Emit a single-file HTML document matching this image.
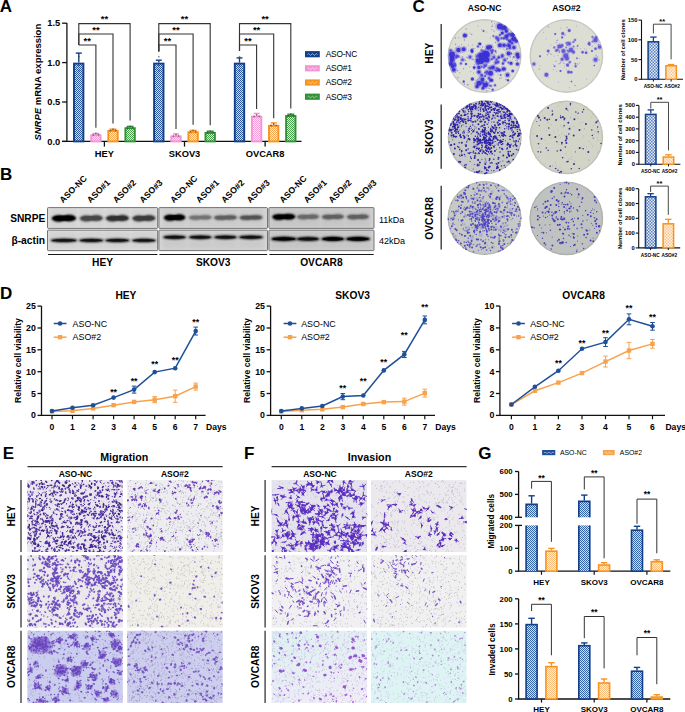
<!DOCTYPE html>
<html><head><meta charset="utf-8"><style>
html,body{margin:0;padding:0;background:#fff;}
svg{display:block;}
text{font-family:"Liberation Sans",sans-serif;font-weight:bold;}
</style></head><body>
<svg width="685" height="712" viewBox="0 0 685 712">
<defs><pattern id="pblue" width="2" height="2" patternUnits="userSpaceOnUse"><rect width="2" height="2" fill="#d2def0"/><rect width="1" height="1" fill="#2a57a0"/><rect x="1" y="1" width="1" height="1" fill="#2a57a0"/></pattern><pattern id="ppink" width="2" height="2" patternUnits="userSpaceOnUse"><rect width="2" height="2" fill="#fde8f5"/><rect width="1" height="1" fill="#f3a0d8"/><rect x="1" y="1" width="1" height="1" fill="#f3a0d8"/></pattern><pattern id="porange" width="2" height="2" patternUnits="userSpaceOnUse"><rect width="2" height="2" fill="#feecd8"/><rect width="1" height="1" fill="#f8a850"/><rect x="1" y="1" width="1" height="1" fill="#f8a850"/></pattern><pattern id="pgreen" width="2" height="2" patternUnits="userSpaceOnUse"><rect width="2" height="2" fill="#e2f2e2"/><rect width="1" height="1" fill="#48a04c"/><rect x="1" y="1" width="1" height="1" fill="#48a04c"/></pattern><filter id="bl1" x="-30%" y="-80%" width="160%" height="260%"><feGaussianBlur stdDeviation="1.1"/></filter><filter id="bl2" x="-30%" y="-80%" width="160%" height="260%"><feGaussianBlur stdDeviation="0.7"/></filter><filter id="bl3" x="-10%" y="-10%" width="120%" height="120%"><feGaussianBlur stdDeviation="1.6"/></filter><clipPath id="cp1"><circle cx="484.6" cy="56" r="37"/></clipPath><clipPath id="cp2"><circle cx="566.4" cy="56" r="36.9"/></clipPath><clipPath id="cp3"><circle cx="484.7" cy="137.3" r="37"/></clipPath><clipPath id="cp4"><circle cx="566.3" cy="137.3" r="36.9"/></clipPath><clipPath id="cp5"><circle cx="484.5" cy="218.1" r="37"/></clipPath><clipPath id="cp6"><circle cx="566.3" cy="218.3" r="36.9"/></clipPath><pattern id="pmb" width="3" height="3" patternUnits="userSpaceOnUse"><rect width="3" height="3" fill="#e4ebf6"/><rect width="1.5" height="1.5" fill="#5a80bc"/><rect x="1.5" y="1.5" width="1.5" height="1.5" fill="#5a80bc"/></pattern><pattern id="pmo" width="3" height="3" patternUnits="userSpaceOnUse"><rect width="3" height="3" fill="#fff3e6"/><rect width="1.5" height="1.5" fill="#fbc68c"/><rect x="1.5" y="1.5" width="1.5" height="1.5" fill="#fbc68c"/></pattern><clipPath id="ci1"><rect x="27.3" y="480.1" width="95.5" height="71.9"/></clipPath><clipPath id="ci2"><rect x="127.2" y="480.1" width="95.5" height="71.9"/></clipPath><clipPath id="ci3"><rect x="27.3" y="555.2" width="95.5" height="72.4"/></clipPath><clipPath id="ci4"><rect x="127.2" y="555.2" width="95.5" height="72.4"/></clipPath><clipPath id="ci5"><rect x="27.3" y="630.8" width="95.5" height="72.1"/></clipPath><clipPath id="ci6"><rect x="127.2" y="630.8" width="95.5" height="72.1"/></clipPath><clipPath id="ci7"><rect x="271.6" y="480.1" width="95.5" height="71.9"/></clipPath><clipPath id="ci8"><rect x="371" y="480.1" width="95.5" height="71.9"/></clipPath><clipPath id="ci9"><rect x="271.6" y="555.2" width="95.5" height="72.4"/></clipPath><clipPath id="ci10"><rect x="371" y="555.2" width="95.5" height="72.4"/></clipPath><linearGradient id="gf11" x1="0" y1="0" x2="0.6" y2="1"><stop offset="0" stop-color="#dcf0f2"/><stop offset="1" stop-color="#eeecf6"/></linearGradient><clipPath id="ci11"><rect x="271.6" y="630.8" width="95.5" height="72.1"/></clipPath><clipPath id="ci12"><rect x="371" y="630.8" width="95.5" height="72.1"/></clipPath><pattern id="pgb" width="2" height="2" patternUnits="userSpaceOnUse"><rect width="2" height="2" fill="#d3def0"/><rect width="1" height="1" fill="#3563a8"/><rect x="1" y="1" width="1" height="1" fill="#3563a8"/></pattern><pattern id="pgo" width="2" height="2" patternUnits="userSpaceOnUse"><rect width="2" height="2" fill="#fff1e2"/><rect width="1" height="1" fill="#fbbd7c"/><rect x="1" y="1" width="1" height="1" fill="#fbbd7c"/></pattern></defs>
<text x="-0.3" y="12" style="font-size:17px;">A</text>
<text x="-0.1" y="179.6" style="font-size:17px;">B</text>
<text x="412.4" y="12.3" style="font-size:17px;">C</text>
<text x="-0.1" y="298.8" style="font-size:17px;">D</text>
<text x="2.8" y="458.6" style="font-size:17px;">E</text>
<text x="244.1" y="458.5" style="font-size:17px;">F</text>
<text x="478.3" y="458.8" style="font-size:17px;">G</text>
<line x1="66.9" y1="23.1" x2="66.9" y2="141.4" stroke="#111" stroke-width="1.3"/>
<line x1="62.1" y1="141.4" x2="66.9" y2="141.4" stroke="#111" stroke-width="1.3"/>
<text x="60.3" y="144.6" style="font-size:9.3px;" text-anchor="end">0.0</text>
<line x1="62.1" y1="102" x2="66.9" y2="102" stroke="#111" stroke-width="1.3"/>
<text x="60.3" y="105.2" style="font-size:9.3px;" text-anchor="end">0.5</text>
<line x1="62.1" y1="62.6" x2="66.9" y2="62.6" stroke="#111" stroke-width="1.3"/>
<text x="60.3" y="65.8" style="font-size:9.3px;" text-anchor="end">1.0</text>
<line x1="62.1" y1="23.2" x2="66.9" y2="23.2" stroke="#111" stroke-width="1.3"/>
<text x="60.3" y="26.4" style="font-size:9.3px;" text-anchor="end">1.5</text>
<line x1="62.1" y1="141.4" x2="301.5" y2="141.4" stroke="#111" stroke-width="1.3"/>
<rect x="74" y="63.6" width="9.4" height="77.8" fill="url(#pblue)" stroke="#123f88" stroke-width="1.9"/>
<line x1="78.8" y1="53.1" x2="78.8" y2="62.6" stroke="#123f88" stroke-width="1.4"/>
<line x1="75.8" y1="53.1" x2="81.8" y2="53.1" stroke="#123f88" stroke-width="1.4"/>
<circle cx="78.8" cy="65.6" r="0.9" fill="#3a2a3a" opacity="0.55"/>
<circle cx="78.8" cy="70.6" r="0.9" fill="#3a2a3a" opacity="0.55"/>
<circle cx="78.8" cy="56.6" r="0.9" fill="#3a2a3a" opacity="0.55"/>
<rect x="91.2" y="135.3" width="9.4" height="6.1" fill="url(#ppink)" stroke="#f394d3" stroke-width="1.9"/>
<line x1="92.4" y1="133.5" x2="99.4" y2="133.5" stroke="#f394d3" stroke-width="1.4"/>
<circle cx="93.3" cy="134.9" r="0.9" fill="#3a2a3a" opacity="0.55"/>
<circle cx="95.9" cy="133.5" r="0.9" fill="#3a2a3a" opacity="0.55"/>
<circle cx="98.5" cy="134.7" r="0.9" fill="#3a2a3a" opacity="0.55"/>
<rect x="108.3" y="130.9" width="9.4" height="10.5" fill="url(#porange)" stroke="#f7931e" stroke-width="1.9"/>
<line x1="109.5" y1="129.2" x2="116.5" y2="129.2" stroke="#f7931e" stroke-width="1.4"/>
<circle cx="110.4" cy="130.6" r="0.9" fill="#3a2a3a" opacity="0.55"/>
<circle cx="113" cy="129.2" r="0.9" fill="#3a2a3a" opacity="0.55"/>
<circle cx="115.6" cy="130.4" r="0.9" fill="#3a2a3a" opacity="0.55"/>
<rect x="125.4" y="128.2" width="9.4" height="13.2" fill="url(#pgreen)" stroke="#2f9234" stroke-width="1.9"/>
<line x1="126.6" y1="126.4" x2="133.6" y2="126.4" stroke="#2f9234" stroke-width="1.4"/>
<circle cx="127.5" cy="127.8" r="0.9" fill="#3a2a3a" opacity="0.55"/>
<circle cx="130.1" cy="126.4" r="0.9" fill="#3a2a3a" opacity="0.55"/>
<circle cx="132.7" cy="127.6" r="0.9" fill="#3a2a3a" opacity="0.55"/>
<line x1="104.4" y1="141.4" x2="104.4" y2="146.6" stroke="#111" stroke-width="1.3"/>
<text x="104.4" y="156.5" style="font-size:9.3px;" text-anchor="middle">HEY</text>
<polyline points="78.8,45 78.8,45 95.9,45 95.9,127.7" fill="none" stroke="#333" stroke-width="1.1"/>
<text x="87.3" y="43.6" style="font-size:9.5px;" text-anchor="middle">**</text>
<polyline points="78.8,45 78.8,34 113,34 113,123.4" fill="none" stroke="#333" stroke-width="1.1"/>
<text x="95.9" y="32.6" style="font-size:9.5px;" text-anchor="middle">**</text>
<polyline points="78.8,45 78.8,23.6 130.1,23.6 130.1,120.6" fill="none" stroke="#333" stroke-width="1.1"/>
<text x="104.4" y="22.2" style="font-size:9.5px;" text-anchor="middle">**</text>
<rect x="154.1" y="63.6" width="9.4" height="77.8" fill="url(#pblue)" stroke="#123f88" stroke-width="1.9"/>
<line x1="158.8" y1="60.2" x2="158.8" y2="62.6" stroke="#123f88" stroke-width="1.4"/>
<line x1="155.8" y1="60.2" x2="161.8" y2="60.2" stroke="#123f88" stroke-width="1.4"/>
<circle cx="158.8" cy="65.6" r="0.9" fill="#3a2a3a" opacity="0.55"/>
<circle cx="158.8" cy="70.6" r="0.9" fill="#3a2a3a" opacity="0.55"/>
<circle cx="158.8" cy="56.6" r="0.9" fill="#3a2a3a" opacity="0.55"/>
<rect x="171.3" y="136.4" width="9.4" height="5" fill="url(#ppink)" stroke="#f394d3" stroke-width="1.9"/>
<line x1="176" y1="133.9" x2="176" y2="135.5" stroke="#f394d3" stroke-width="1.4"/>
<line x1="173" y1="133.9" x2="179" y2="133.9" stroke="#f394d3" stroke-width="1.4"/>
<circle cx="173.4" cy="136.1" r="0.9" fill="#3a2a3a" opacity="0.55"/>
<circle cx="176" cy="134.7" r="0.9" fill="#3a2a3a" opacity="0.55"/>
<circle cx="178.6" cy="135.9" r="0.9" fill="#3a2a3a" opacity="0.55"/>
<rect x="188.4" y="132.3" width="9.4" height="9.1" fill="url(#porange)" stroke="#f7931e" stroke-width="1.9"/>
<line x1="189.6" y1="130.4" x2="196.6" y2="130.4" stroke="#f7931e" stroke-width="1.4"/>
<circle cx="190.5" cy="131.9" r="0.9" fill="#3a2a3a" opacity="0.55"/>
<circle cx="193.1" cy="130.5" r="0.9" fill="#3a2a3a" opacity="0.55"/>
<circle cx="195.7" cy="131.7" r="0.9" fill="#3a2a3a" opacity="0.55"/>
<rect x="205.5" y="132.9" width="9.4" height="8.5" fill="url(#pgreen)" stroke="#2f9234" stroke-width="1.9"/>
<line x1="206.7" y1="131.2" x2="213.7" y2="131.2" stroke="#2f9234" stroke-width="1.4"/>
<circle cx="207.6" cy="132.5" r="0.9" fill="#3a2a3a" opacity="0.55"/>
<circle cx="210.2" cy="131.1" r="0.9" fill="#3a2a3a" opacity="0.55"/>
<circle cx="212.8" cy="132.3" r="0.9" fill="#3a2a3a" opacity="0.55"/>
<line x1="184.5" y1="141.4" x2="184.5" y2="146.6" stroke="#111" stroke-width="1.3"/>
<text x="184.5" y="156.5" style="font-size:9.3px;" text-anchor="middle">SKOV3</text>
<polyline points="158.8,51.5 158.8,45 176,45 176,128.9" fill="none" stroke="#333" stroke-width="1.1"/>
<text x="167.4" y="43.6" style="font-size:9.5px;" text-anchor="middle">**</text>
<polyline points="158.8,51.5 158.8,34 193.1,34 193.1,124.7" fill="none" stroke="#333" stroke-width="1.1"/>
<text x="176" y="32.6" style="font-size:9.5px;" text-anchor="middle">**</text>
<polyline points="158.8,51.5 158.8,23.6 210.2,23.6 210.2,125.3" fill="none" stroke="#333" stroke-width="1.1"/>
<text x="184.5" y="22.2" style="font-size:9.5px;" text-anchor="middle">**</text>
<rect x="234.8" y="63.6" width="9.4" height="77.8" fill="url(#pblue)" stroke="#123f88" stroke-width="1.9"/>
<line x1="239.5" y1="57.9" x2="239.5" y2="62.6" stroke="#123f88" stroke-width="1.4"/>
<line x1="236.5" y1="57.9" x2="242.5" y2="57.9" stroke="#123f88" stroke-width="1.4"/>
<circle cx="239.5" cy="65.6" r="0.9" fill="#3a2a3a" opacity="0.55"/>
<circle cx="239.5" cy="70.6" r="0.9" fill="#3a2a3a" opacity="0.55"/>
<circle cx="239.5" cy="56.6" r="0.9" fill="#3a2a3a" opacity="0.55"/>
<rect x="251.9" y="116.7" width="9.4" height="24.7" fill="url(#ppink)" stroke="#f394d3" stroke-width="1.9"/>
<line x1="256.6" y1="113.4" x2="256.6" y2="115.7" stroke="#f394d3" stroke-width="1.4"/>
<line x1="253.6" y1="113.4" x2="259.6" y2="113.4" stroke="#f394d3" stroke-width="1.4"/>
<circle cx="254" cy="116.3" r="0.9" fill="#3a2a3a" opacity="0.55"/>
<circle cx="256.6" cy="114.9" r="0.9" fill="#3a2a3a" opacity="0.55"/>
<circle cx="259.2" cy="116.1" r="0.9" fill="#3a2a3a" opacity="0.55"/>
<rect x="269" y="125.8" width="9.4" height="15.6" fill="url(#porange)" stroke="#f7931e" stroke-width="1.9"/>
<line x1="273.7" y1="122.9" x2="273.7" y2="124.9" stroke="#f7931e" stroke-width="1.4"/>
<line x1="270.7" y1="122.9" x2="276.7" y2="122.9" stroke="#f7931e" stroke-width="1.4"/>
<circle cx="271.1" cy="125.5" r="0.9" fill="#3a2a3a" opacity="0.55"/>
<circle cx="273.7" cy="124.1" r="0.9" fill="#3a2a3a" opacity="0.55"/>
<circle cx="276.3" cy="125.3" r="0.9" fill="#3a2a3a" opacity="0.55"/>
<rect x="286.1" y="116" width="9.4" height="25.4" fill="url(#pgreen)" stroke="#2f9234" stroke-width="1.9"/>
<line x1="287.3" y1="114.2" x2="294.3" y2="114.2" stroke="#2f9234" stroke-width="1.4"/>
<circle cx="288.2" cy="115.6" r="0.9" fill="#3a2a3a" opacity="0.55"/>
<circle cx="290.8" cy="114.2" r="0.9" fill="#3a2a3a" opacity="0.55"/>
<circle cx="293.4" cy="115.4" r="0.9" fill="#3a2a3a" opacity="0.55"/>
<line x1="265.1" y1="141.4" x2="265.1" y2="146.6" stroke="#111" stroke-width="1.3"/>
<text x="265.1" y="156.5" style="font-size:9.3px;" text-anchor="middle">OVCAR8</text>
<polyline points="239.5,51 239.5,45 256.6,45 256.6,109.1" fill="none" stroke="#333" stroke-width="1.1"/>
<text x="248" y="43.6" style="font-size:9.5px;" text-anchor="middle">**</text>
<polyline points="239.5,51 239.5,34 273.7,34 273.7,118.3" fill="none" stroke="#333" stroke-width="1.1"/>
<text x="256.6" y="32.6" style="font-size:9.5px;" text-anchor="middle">**</text>
<polyline points="239.5,51 239.5,23.6 290.8,23.6 290.8,108.4" fill="none" stroke="#333" stroke-width="1.1"/>
<text x="265.1" y="22.2" style="font-size:9.5px;" text-anchor="middle">**</text>
<text x="41.4" y="82.2" style="font-size:9.5px;" text-anchor="middle" transform="rotate(-90 41.4 82.2)"><tspan style="font-style:italic">SNRPE</tspan> mRNA expression</text>
<rect x="305" y="51.1" width="14.8" height="6.2" fill="#123f88"/>
<path d="M307.5 54.5 q1 -1.6 2 0 t2 0 t2 0 t2 0 t2 0" fill="none" stroke="#fff" stroke-width="0.7" opacity="0.8"/>
<text x="325.7" y="57" style="font-size:8.4px;font-weight:normal;" letter-spacing="-0.2">ASO-NC</text>
<rect x="305" y="65.2" width="14.8" height="6.2" fill="#f394d3"/>
<path d="M307.5 68.7 q1 -1.6 2 0 t2 0 t2 0 t2 0 t2 0" fill="none" stroke="#fff" stroke-width="0.7" opacity="0.8"/>
<text x="325.7" y="71.2" style="font-size:8.4px;font-weight:normal;" letter-spacing="-0.2">ASO#1</text>
<rect x="305" y="79.4" width="14.8" height="6.2" fill="#f7931e"/>
<path d="M307.5 82.8 q1 -1.6 2 0 t2 0 t2 0 t2 0 t2 0" fill="none" stroke="#fff" stroke-width="0.7" opacity="0.8"/>
<text x="325.7" y="85.3" style="font-size:8.4px;font-weight:normal;" letter-spacing="-0.2">ASO#2</text>
<rect x="305" y="93.6" width="14.8" height="6.2" fill="#2f9234"/>
<path d="M307.5 97 q1 -1.6 2 0 t2 0 t2 0 t2 0 t2 0" fill="none" stroke="#fff" stroke-width="0.7" opacity="0.8"/>
<text x="325.7" y="99.5" style="font-size:8.4px;font-weight:normal;" letter-spacing="-0.2">ASO#3</text>
<rect x="47.5" y="207.6" width="110.2" height="20.8" fill="#dbdbdb" stroke="#666" stroke-width="0.9" rx="0.8"/>
<g>
<rect x="51.4" y="209.6" width="25" height="16.8" fill="#000" opacity="0.035" filter="url(#bl3)"/>
<ellipse cx="63.9" cy="218.2" rx="12.5" ry="2.5" fill="#000000" opacity="0.75" filter="url(#bl1)"/>
<ellipse cx="58.5" cy="218.5" rx="6.2" ry="3.2" fill="#000000" filter="url(#bl1)"/>
<ellipse cx="69.3" cy="218" rx="6.2" ry="3.2" fill="#000000" filter="url(#bl1)"/>
<ellipse cx="63.9" cy="218.2" rx="11" ry="2.6" fill="#000000" opacity="0.8" filter="url(#bl2)"/>
<rect x="79.3" y="209.6" width="24" height="16.8" fill="#000" opacity="0.035" filter="url(#bl3)"/>
<ellipse cx="91.3" cy="218.2" rx="12" ry="2.2" fill="#474747" opacity="0.75" filter="url(#bl1)"/>
<ellipse cx="86.1" cy="218.5" rx="6" ry="2.9" fill="#474747" filter="url(#bl1)"/>
<ellipse cx="96.5" cy="218" rx="6" ry="2.9" fill="#474747" filter="url(#bl1)"/>
<ellipse cx="91.3" cy="218.2" rx="10.5" ry="2.3" fill="#474747" opacity="0.8" filter="url(#bl2)"/>
<rect x="105.4" y="209.6" width="24" height="16.8" fill="#000" opacity="0.035" filter="url(#bl3)"/>
<ellipse cx="117.4" cy="218.2" rx="12" ry="2.2" fill="#2e2e2e" opacity="0.75" filter="url(#bl1)"/>
<ellipse cx="112.2" cy="218.5" rx="6" ry="2.9" fill="#2e2e2e" filter="url(#bl1)"/>
<ellipse cx="122.6" cy="218" rx="6" ry="2.9" fill="#2e2e2e" filter="url(#bl1)"/>
<ellipse cx="117.4" cy="218.2" rx="10.5" ry="2.3" fill="#2e2e2e" opacity="0.8" filter="url(#bl2)"/>
<rect x="131.9" y="209.6" width="24" height="16.8" fill="#000" opacity="0.035" filter="url(#bl3)"/>
<ellipse cx="143.9" cy="218.2" rx="12" ry="2.2" fill="#3a3a3a" opacity="0.75" filter="url(#bl1)"/>
<ellipse cx="138.7" cy="218.5" rx="6" ry="2.9" fill="#3a3a3a" filter="url(#bl1)"/>
<ellipse cx="149.1" cy="218" rx="6" ry="2.9" fill="#3a3a3a" filter="url(#bl1)"/>
<ellipse cx="143.9" cy="218.2" rx="10.5" ry="2.3" fill="#3a3a3a" opacity="0.8" filter="url(#bl2)"/>
</g>
<rect x="47.5" y="230.1" width="110.2" height="20.5" fill="#dbdbdb" stroke="#666" stroke-width="0.9" rx="0.8"/>
<g>
<rect x="50.4" y="232.1" width="27" height="16.5" fill="#000" opacity="0.035" filter="url(#bl3)"/>
<ellipse cx="63.9" cy="240.4" rx="13.5" ry="1.9" fill="#0a0a0a" filter="url(#bl1)"/>
<ellipse cx="63.9" cy="240.4" rx="12" ry="1.3" fill="#0a0a0a" opacity="0.8" filter="url(#bl2)"/>
<rect x="78.8" y="232.1" width="25" height="16.5" fill="#000" opacity="0.035" filter="url(#bl3)"/>
<ellipse cx="91.3" cy="240.4" rx="12.5" ry="1.9" fill="#0a0a0a" filter="url(#bl1)"/>
<ellipse cx="91.3" cy="240.4" rx="11" ry="1.3" fill="#0a0a0a" opacity="0.8" filter="url(#bl2)"/>
<rect x="104.9" y="232.1" width="25" height="16.5" fill="#000" opacity="0.035" filter="url(#bl3)"/>
<ellipse cx="117.4" cy="240.4" rx="12.5" ry="1.9" fill="#0a0a0a" filter="url(#bl1)"/>
<ellipse cx="117.4" cy="240.4" rx="11" ry="1.3" fill="#0a0a0a" opacity="0.8" filter="url(#bl2)"/>
<rect x="131.4" y="232.1" width="25" height="16.5" fill="#000" opacity="0.035" filter="url(#bl3)"/>
<ellipse cx="143.9" cy="240.4" rx="12.5" ry="1.8" fill="#0a0a0a" filter="url(#bl1)"/>
<ellipse cx="143.9" cy="240.4" rx="11" ry="1.2" fill="#0a0a0a" opacity="0.8" filter="url(#bl2)"/>
</g>
<line x1="48" y1="254.5" x2="157.4" y2="254.5" stroke="#1a1a1a" stroke-width="1.0"/>
<rect x="158.9" y="207.6" width="108.6" height="20.8" fill="#d3d3d3" stroke="#666" stroke-width="0.9" rx="0.8"/>
<g>
<rect x="163.6" y="209.6" width="22" height="16.8" fill="#000" opacity="0.035" filter="url(#bl3)"/>
<ellipse cx="174.6" cy="217.5" rx="11" ry="2.3" fill="#000000" opacity="0.75" filter="url(#bl1)"/>
<ellipse cx="169.8" cy="217.8" rx="5.5" ry="3" fill="#000000" filter="url(#bl1)"/>
<ellipse cx="179.4" cy="217.3" rx="5.5" ry="3" fill="#000000" filter="url(#bl1)"/>
<ellipse cx="174.6" cy="217.5" rx="9.5" ry="2.4" fill="#000000" opacity="0.8" filter="url(#bl2)"/>
<rect x="188.3" y="209.6" width="24" height="16.8" fill="#000" opacity="0.035" filter="url(#bl3)"/>
<ellipse cx="200.3" cy="217.5" rx="12" ry="1.7" fill="#737373" opacity="0.75" filter="url(#bl1)"/>
<ellipse cx="195.1" cy="217.8" rx="6" ry="2.2" fill="#737373" filter="url(#bl1)"/>
<ellipse cx="205.5" cy="217.3" rx="6" ry="2.2" fill="#737373" filter="url(#bl1)"/>
<ellipse cx="200.3" cy="217.5" rx="10.5" ry="1.6" fill="#737373" opacity="0.8" filter="url(#bl2)"/>
<rect x="213.5" y="209.6" width="24" height="16.8" fill="#000" opacity="0.035" filter="url(#bl3)"/>
<ellipse cx="225.5" cy="217.5" rx="12" ry="1.8" fill="#5e5e5e" opacity="0.75" filter="url(#bl1)"/>
<ellipse cx="220.3" cy="217.8" rx="6" ry="2.3" fill="#5e5e5e" filter="url(#bl1)"/>
<ellipse cx="230.7" cy="217.3" rx="6" ry="2.3" fill="#5e5e5e" filter="url(#bl1)"/>
<ellipse cx="225.5" cy="217.5" rx="10.5" ry="1.7" fill="#5e5e5e" opacity="0.8" filter="url(#bl2)"/>
<rect x="239" y="209.6" width="24" height="16.8" fill="#000" opacity="0.035" filter="url(#bl3)"/>
<ellipse cx="251" cy="217.5" rx="12" ry="1.8" fill="#535353" opacity="0.75" filter="url(#bl1)"/>
<ellipse cx="245.8" cy="217.8" rx="6" ry="2.3" fill="#535353" filter="url(#bl1)"/>
<ellipse cx="256.2" cy="217.3" rx="6" ry="2.3" fill="#535353" filter="url(#bl1)"/>
<ellipse cx="251" cy="217.5" rx="10.5" ry="1.7" fill="#535353" opacity="0.8" filter="url(#bl2)"/>
</g>
<rect x="158.9" y="230.1" width="108.6" height="20.5" fill="#d3d3d3" stroke="#666" stroke-width="0.9" rx="0.8"/>
<g>
<rect x="162.6" y="232.1" width="24" height="16.5" fill="#000" opacity="0.035" filter="url(#bl3)"/>
<ellipse cx="174.6" cy="237.2" rx="12" ry="2" fill="#0a0a0a" filter="url(#bl1)"/>
<ellipse cx="174.6" cy="237.2" rx="10.5" ry="1.4" fill="#0a0a0a" opacity="0.8" filter="url(#bl2)"/>
<rect x="188.3" y="232.1" width="24" height="16.5" fill="#000" opacity="0.035" filter="url(#bl3)"/>
<ellipse cx="200.3" cy="237.2" rx="12" ry="2" fill="#0a0a0a" filter="url(#bl1)"/>
<ellipse cx="200.3" cy="237.2" rx="10.5" ry="1.4" fill="#0a0a0a" opacity="0.8" filter="url(#bl2)"/>
<rect x="213.5" y="232.1" width="24" height="16.5" fill="#000" opacity="0.035" filter="url(#bl3)"/>
<ellipse cx="225.5" cy="237.2" rx="12" ry="2" fill="#0a0a0a" filter="url(#bl1)"/>
<ellipse cx="225.5" cy="237.2" rx="10.5" ry="1.4" fill="#0a0a0a" opacity="0.8" filter="url(#bl2)"/>
<rect x="238.5" y="232.1" width="25" height="16.5" fill="#000" opacity="0.035" filter="url(#bl3)"/>
<ellipse cx="251" cy="237.2" rx="12.5" ry="2" fill="#0a0a0a" filter="url(#bl1)"/>
<ellipse cx="251" cy="237.2" rx="11" ry="1.4" fill="#0a0a0a" opacity="0.8" filter="url(#bl2)"/>
</g>
<line x1="159.4" y1="254.5" x2="267.2" y2="254.5" stroke="#1a1a1a" stroke-width="1.0"/>
<rect x="268.9" y="207.6" width="105.1" height="20.8" fill="#cecece" stroke="#666" stroke-width="0.9" rx="0.8"/>
<g>
<rect x="271.8" y="209.6" width="24" height="16.8" fill="#000" opacity="0.035" filter="url(#bl3)"/>
<ellipse cx="283.8" cy="216.8" rx="12" ry="2.2" fill="#060606" opacity="0.75" filter="url(#bl1)"/>
<ellipse cx="278.6" cy="217.1" rx="6" ry="2.9" fill="#060606" filter="url(#bl1)"/>
<ellipse cx="289" cy="216.6" rx="6" ry="2.9" fill="#060606" filter="url(#bl1)"/>
<ellipse cx="283.8" cy="216.8" rx="10.5" ry="2.3" fill="#060606" opacity="0.8" filter="url(#bl2)"/>
<rect x="296.5" y="209.6" width="23" height="16.8" fill="#000" opacity="0.035" filter="url(#bl3)"/>
<ellipse cx="308" cy="216.8" rx="11.5" ry="1.8" fill="#686868" opacity="0.75" filter="url(#bl1)"/>
<ellipse cx="303" cy="217.1" rx="5.8" ry="2.4" fill="#686868" filter="url(#bl1)"/>
<ellipse cx="313" cy="216.6" rx="5.8" ry="2.4" fill="#686868" filter="url(#bl1)"/>
<ellipse cx="308" cy="216.8" rx="10" ry="1.8" fill="#686868" opacity="0.8" filter="url(#bl2)"/>
<rect x="321.4" y="209.6" width="23" height="16.8" fill="#000" opacity="0.035" filter="url(#bl3)"/>
<ellipse cx="332.9" cy="216.8" rx="11.5" ry="1.8" fill="#5e5e5e" opacity="0.75" filter="url(#bl1)"/>
<ellipse cx="327.9" cy="217.1" rx="5.8" ry="2.4" fill="#5e5e5e" filter="url(#bl1)"/>
<ellipse cx="337.9" cy="216.6" rx="5.8" ry="2.4" fill="#5e5e5e" filter="url(#bl1)"/>
<ellipse cx="332.9" cy="216.8" rx="10" ry="1.8" fill="#5e5e5e" opacity="0.8" filter="url(#bl2)"/>
<rect x="346.4" y="209.6" width="23" height="16.8" fill="#000" opacity="0.035" filter="url(#bl3)"/>
<ellipse cx="357.9" cy="216.8" rx="11.5" ry="1.8" fill="#5e5e5e" opacity="0.75" filter="url(#bl1)"/>
<ellipse cx="352.9" cy="217.1" rx="5.8" ry="2.4" fill="#5e5e5e" filter="url(#bl1)"/>
<ellipse cx="362.9" cy="216.6" rx="5.8" ry="2.4" fill="#5e5e5e" filter="url(#bl1)"/>
<ellipse cx="357.9" cy="216.8" rx="10" ry="1.8" fill="#5e5e5e" opacity="0.8" filter="url(#bl2)"/>
</g>
<rect x="268.9" y="230.1" width="105.1" height="20.5" fill="#cecece" stroke="#666" stroke-width="0.9" rx="0.8"/>
<g>
<rect x="270.8" y="232.1" width="26" height="16.5" fill="#000" opacity="0.035" filter="url(#bl3)"/>
<ellipse cx="283.8" cy="238.9" rx="13" ry="2.3" fill="#000000" filter="url(#bl1)"/>
<ellipse cx="283.8" cy="238.9" rx="11.5" ry="1.7" fill="#000000" opacity="0.8" filter="url(#bl2)"/>
<rect x="296" y="232.1" width="24" height="16.5" fill="#000" opacity="0.035" filter="url(#bl3)"/>
<ellipse cx="308" cy="238.9" rx="12" ry="2.1" fill="#0a0a0a" filter="url(#bl1)"/>
<ellipse cx="308" cy="238.9" rx="10.5" ry="1.5" fill="#0a0a0a" opacity="0.8" filter="url(#bl2)"/>
<rect x="320.9" y="232.1" width="24" height="16.5" fill="#000" opacity="0.035" filter="url(#bl3)"/>
<ellipse cx="332.9" cy="238.9" rx="12" ry="2.4" fill="#000000" filter="url(#bl1)"/>
<ellipse cx="332.9" cy="238.9" rx="10.5" ry="1.8" fill="#000000" opacity="0.8" filter="url(#bl2)"/>
<rect x="345.4" y="232.1" width="25" height="16.5" fill="#000" opacity="0.035" filter="url(#bl3)"/>
<ellipse cx="357.9" cy="238.9" rx="12.5" ry="2.4" fill="#000000" filter="url(#bl1)"/>
<ellipse cx="357.9" cy="238.9" rx="11" ry="1.8" fill="#000000" opacity="0.8" filter="url(#bl2)"/>
</g>
<line x1="269.4" y1="254.5" x2="373.7" y2="254.5" stroke="#1a1a1a" stroke-width="1.0"/>
<text x="63.1" y="203.4" style="font-size:8.7px;" transform="rotate(-45 63.1 203.4)">ASO-NC</text>
<text x="90.5" y="203.4" style="font-size:8.7px;" transform="rotate(-45 90.5 203.4)">ASO#1</text>
<text x="116.6" y="203.4" style="font-size:8.7px;" transform="rotate(-45 116.6 203.4)">ASO#2</text>
<text x="143.1" y="203.4" style="font-size:8.7px;" transform="rotate(-45 143.1 203.4)">ASO#3</text>
<text x="173.8" y="203.4" style="font-size:8.7px;" transform="rotate(-45 173.8 203.4)">ASO-NC</text>
<text x="199.5" y="203.4" style="font-size:8.7px;" transform="rotate(-45 199.5 203.4)">ASO#1</text>
<text x="224.7" y="203.4" style="font-size:8.7px;" transform="rotate(-45 224.7 203.4)">ASO#2</text>
<text x="250.2" y="203.4" style="font-size:8.7px;" transform="rotate(-45 250.2 203.4)">ASO#3</text>
<text x="283" y="203.4" style="font-size:8.7px;" transform="rotate(-45 283 203.4)">ASO-NC</text>
<text x="307.2" y="203.4" style="font-size:8.7px;" transform="rotate(-45 307.2 203.4)">ASO#1</text>
<text x="332.1" y="203.4" style="font-size:8.7px;" transform="rotate(-45 332.1 203.4)">ASO#2</text>
<text x="357.1" y="203.4" style="font-size:8.7px;" transform="rotate(-45 357.1 203.4)">ASO#3</text>
<text x="10.2" y="222.4" style="font-size:10.2px;">SNRPE</text>
<text x="11.4" y="244" style="font-size:10.3px;">β-actin</text>
<text x="378.9" y="222.8" style="font-size:9px;font-weight:normal;">11kDa</text>
<text x="378.9" y="243.9" style="font-size:9px;font-weight:normal;">42kDa</text>
<text x="102.6" y="265.6" style="font-size:10.2px;" text-anchor="middle">HEY</text>
<text x="213.2" y="265.6" style="font-size:10.2px;" text-anchor="middle">SKOV3</text>
<text x="321.4" y="265.6" style="font-size:10.2px;" text-anchor="middle">OVCAR8</text>
<text x="484.6" y="10.9" style="font-size:8.5px;" text-anchor="middle">ASO-NC</text>
<text x="566.4" y="10.9" style="font-size:8.6px;" text-anchor="middle">ASO#2</text>
<line x1="441.2" y1="24.1" x2="441.2" y2="88.2" stroke="#3a3a3a" stroke-width="1.4"/>
<text x="433.4" y="53.2" style="font-size:10.2px;" text-anchor="middle" transform="rotate(-90 433.4 53.2)">HEY</text>
<line x1="441.2" y1="104.5" x2="441.2" y2="168.7" stroke="#3a3a3a" stroke-width="1.4"/>
<text x="433.4" y="136.6" style="font-size:10.2px;" text-anchor="middle" transform="rotate(-90 433.4 136.6)">SKOV3</text>
<line x1="441.2" y1="185.7" x2="441.2" y2="249.6" stroke="#3a3a3a" stroke-width="1.4"/>
<text x="433.4" y="218.4" style="font-size:10.2px;" text-anchor="middle" transform="rotate(-90 433.4 218.4)">OVCAR8</text>
<circle cx="484.6" cy="56" r="37" fill="#dddfd5"/>
<g clip-path="url(#cp1)">
<circle cx="484.6" cy="56" r="36.4" fill="none" stroke="#b9bbb2" stroke-width="1.6" opacity="0.6"/>
<path d="M513.2 70.1h0M477.7 69h0M504.8 67.2h0" stroke="#5a50d8" stroke-width="0.5" stroke-linecap="round" fill="none" opacity="0.55"/><path d="M482.1 56.5h0M495.3 64.1h0M485.8 65.8h0M495.9 53h0M503.1 49h0M513.2 53.9h0M454.6 65.1h0M477.1 80.8h0M490.3 38h0M498.8 39h0M470 33.3h0M475.3 61.1h0M478.7 76.3h0M493.2 47.8h0M491.6 54.7h0M476.4 61.8h0M464.5 50h0M471.6 79.7h0M468.6 45.2h0M482 66.6h0M461.6 44.5h0M476.2 80.2h0M486.2 61.1h0M487 56.2h0M479.9 78.1h0M463.1 36.9h0M474.4 64.4h0M480.1 47.3h0M493.7 65.7h0M509.1 63.8h0M501.4 77.7h0M458.9 37.8h0M457.6 56.4h0M488.1 57h0M482.2 57.1h0M462.2 52.8h0M477.8 63h0M498.1 74.7h0M494.2 64.7h0M495.7 60.9h0M451.1 64.1h0M492.3 25.1h0M486.4 62.8h0M469.5 66.9h0M482.3 89.5h0M496.3 52.9h0M497.5 60.5h0M468.5 50.8h0M475.6 54.5h0M473.6 73.1h0M470.8 71.7h0M459.5 46h0M474.9 48.7h0M463.1 60.5h0M454 59.3h0M455.2 72.6h0M466.7 36.4h0M459.7 72.9h0M476.4 57.9h0M507 80.2h0M504.8 50.2h0M486.3 32h0M499.2 37.6h0M505.5 35.5h0M475.8 58.8h0M467.5 35h0M515.7 60.4h0M477.7 79.6h0M478 26.1h0M472.7 45h0M474.2 56h0M485.6 71.1h0M481.9 29.7h0M512.8 59h0M491.6 29.6h0M494.4 23.7h0" stroke="#5a50d8" stroke-width="1" stroke-linecap="round" fill="none" opacity="0.55"/><path d="M481.2 60.2h0M462.4 56.8h0M482 51.8h0M455.6 44.3h0M464.4 39.9h0M465.5 60.2h0M474.9 83.4h0M494 54.8h0M454.8 59.2h0M501.1 70.3h0M474.1 69h0M492.1 26.6h0M498.4 55.8h0M495.7 51.9h0M479.7 77.4h0M459 55.8h0M493.6 66.9h0M489.3 82.6h0M500 78.3h0M464.4 84h0M459.9 57.2h0M485.6 49h0M488.9 55.4h0M471.7 34.4h0M463.6 68.8h0M491.6 21.9h0M505.6 70.3h0M467.6 84.8h0M506.5 49.4h0M494.5 70.1h0M517.2 60.8h0M479.6 54.4h0M466.6 57.6h0M490.3 50.4h0M486.7 90.8h0M466.2 29h0M496.8 59.5h0M457.9 77.6h0M506.2 46.8h0M472.3 59.4h0M489 54.9h0M457.7 70.6h0M471.7 49h0M489.2 88.6h0M493.9 31.1h0M487.1 71.5h0M478.2 78.8h0M505.9 79.4h0M494.3 57.7h0M453.9 53.1h0M473.4 59.3h0M482.6 47h0M510.3 57.1h0M483.1 53.8h0M481.8 88.7h0M473.1 48.5h0M485.3 66.3h0M475.9 56.7h0M455.3 38.1h0M468 84.7h0M512.3 37.9h0M495.6 42.5h0M476.2 62.4h0M478.3 64.7h0" stroke="#5a50d8" stroke-width="1.5" stroke-linecap="round" fill="none" opacity="0.55"/>
<path d="M509.5 41.1h0M486.3 81.4h0M507.3 58.4h0" stroke="#7d72e0" stroke-width="2" stroke-linecap="round" fill="none" opacity="0.45"/><path d="M483.5 31h0M478 56.9h0M472.2 51.7h0M482.4 62.1h0M479.1 63.2h0M485.4 55.7h0M490.5 50.1h0M483.9 67.8h0M522.2 27.3h0M507.1 48.7h0M509.1 33.7h0M510.2 42.1h0M511.3 53.6h0M452.2 60.9h0M486.8 74h0M483.1 82.3h0M489.9 85.5h0M484.9 72.7h0M500.7 75h0M495.5 70.2h0M513.7 57h0" stroke="#7d72e0" stroke-width="2.5" stroke-linecap="round" fill="none" opacity="0.45"/><path d="M466 63.9h0M463.7 81.4h0M508 80.2h0M481.5 50.1h0M481.9 62.6h0M484.2 56.9h0M480 57.7h0M495.3 51h0M486.5 65.1h0M483 53.2h0M480.3 54.7h0M492 53h0M491.8 59.3h0M481.8 66.8h0M506.6 45.4h0M514.4 35h0M493.4 36.1h0M510.4 27.7h0M502.7 32.9h0M511.8 42.7h0M455 64.5h0M451.2 59.1h0M453.9 61h0M491.1 85.9h0M508.4 62.4h0" stroke="#7d72e0" stroke-width="3" stroke-linecap="round" fill="none" opacity="0.45"/><path d="M477.9 46.6h0M492.7 50.2h0M496.6 59.5h0M487.8 59h0M498.3 40.4h0M499.9 35h0M507.3 39.6h0M513.7 40.3h0M452.9 59.1h0M453 58.6h0M458.2 56.4h0M455.2 65.5h0M456.2 57.4h0M460.9 63.4h0M485.1 76.1h0M492.7 89.7h0M490.4 80.6h0M495 85.2h0M486.6 84.1h0M499.5 70.9h0M500.1 70.2h0M504.9 68.7h0" stroke="#7d72e0" stroke-width="3.5" stroke-linecap="round" fill="none" opacity="0.45"/><path d="M480 44h0M474.2 67.4h0M498.7 57.5h0M512.7 70.9h0M472.1 51.8h0M486.8 58.3h0M484.8 54h0M486.9 52.2h0M479.3 43.7h0M477.2 59.7h0M502.3 29.2h0M503.8 38.3h0M501.6 38.2h0M514.5 33.7h0M454.5 63.8h0M484 84.9h0M496.7 71h0M502.4 55.2h0M503 63.6h0" stroke="#7d72e0" stroke-width="4" stroke-linecap="round" fill="none" opacity="0.45"/><path d="M471.9 50.5h0M498.7 69.7h0M472.4 79h0M491.9 51.3h0M484.1 51.9h0M496.4 37.6h0M508.7 34.5h0M506.4 38h0M450.6 50.6h0M439 65.2h0M487.1 83.9h0M490.2 79.4h0M489 78.3h0M497 68.5h0M497.5 69.3h0M498.1 61.9h0M509.9 48h0" stroke="#7d72e0" stroke-width="4.5" stroke-linecap="round" fill="none" opacity="0.45"/><path d="M502.2 32.9h0M506.3 31.2h0M511 63.3h0M517.4 63.9h0M491.7 80.2h0M483 88h0M483.1 58.8h0M485.4 53h0M484.8 65.8h0M508.6 44.4h0M505.8 36.6h0M503.9 27.5h0M512.1 43.2h0M462.5 59.8h0M456.7 55.9h0M481.6 75.3h0" stroke="#7d72e0" stroke-width="5" stroke-linecap="round" fill="none" opacity="0.45"/><path d="M509.8 41.1h0M477.7 56h0M496 62.5h0M470 57.1h0M489.8 67.9h0M483.2 51.9h0M477.8 63.3h0M482.3 55h0M506.3 30.4h0M497.9 38.7h0M512.3 39.1h0M454.3 65.6h0M451 63.4h0M453.6 65h0M486.8 72h0M481.9 82.8h0M493.8 57.2h0M502.2 56.3h0M504.7 60h0" stroke="#7d72e0" stroke-width="5.5" stroke-linecap="round" fill="none" opacity="0.45"/><path d="M464.9 35.6h0M506.9 35.9h0M516.2 41.1h0M504 45.2h0M509.2 45.8h0M513.9 47.5h0M518 56.9h0M490.5 47h0M478.9 67.4h0M478.9 72h0M452.5 66.5h0M503.4 69.1h0M507.5 75h0M477 86.5h0" stroke="#7d72e0" stroke-width="6" stroke-linecap="round" fill="none" opacity="0.45"/><path d="M499.9 45.2h0M508.6 53.4h0M517.4 54.5h0M477.7 60.4h0M450.8 63.9h0M453.8 69.7h0M463.7 49.3h0M451.5 61h0M492.9 67.4h0M482.4 79.6h0" stroke="#7d72e0" stroke-width="6.5" stroke-linecap="round" fill="none" opacity="0.45"/><path d="M504.6 27.7h0M488.2 47.5h0M480.5 55h0" stroke="#7d72e0" stroke-width="7" stroke-linecap="round" fill="none" opacity="0.45"/><path d="M512.2 34.7h0M513.9 38.8h0M458.4 49.9h0" stroke="#7d72e0" stroke-width="7.5" stroke-linecap="round" fill="none" opacity="0.45"/><path d="M487 60h0M452 58h0M490.5 73.2h0M478.9 83.2h0M485.3 84.9h0" stroke="#7d72e0" stroke-width="8" stroke-linecap="round" fill="none" opacity="0.45"/><path d="M485.9 53.4h0" stroke="#7d72e0" stroke-width="8.5" stroke-linecap="round" fill="none" opacity="0.45"/><path d="M499.9 26.5h0M481 61h0M452 54.5h0" stroke="#7d72e0" stroke-width="9.5" stroke-linecap="round" fill="none" opacity="0.45"/><path d="M486.5 54.5h0" stroke="#7d72e0" stroke-width="10" stroke-linecap="round" fill="none" opacity="0.45"/><path d="M483.5 57.5h0" stroke="#7d72e0" stroke-width="14.5" stroke-linecap="round" fill="none" opacity="0.45"/>
<path d="M509.5 41.1h0M486.3 81.4h0M507.3 58.4h0" stroke="#4a3fd6" stroke-width="1" stroke-linecap="round" fill="none" opacity="0.85"/><path d="M478 56.9h0M481.5 50.1h0M481.9 62.6h0M472.2 51.7h0M484.2 56.9h0M482.4 62.1h0M479.1 63.2h0M495.3 51h0M486.5 65.1h0M485.4 55.7h0M490.5 50.1h0M483 53.2h0M483.9 67.8h0M481.8 66.8h0M506.6 45.4h0M522.2 27.3h0M514.4 35h0M493.4 36.1h0M510.4 27.7h0M507.1 48.7h0M509.1 33.7h0M502.7 32.9h0M510.2 42.1h0M511.3 53.6h0M452.2 60.9h0M455 64.5h0M451.2 59.1h0M453.9 61h0M486.8 74h0M483.1 82.3h0M489.9 85.5h0M491.1 85.9h0M484.9 72.7h0M500.7 75h0M495.5 70.2h0M513.7 57h0M508.4 62.4h0" stroke="#4a3fd6" stroke-width="1.5" stroke-linecap="round" fill="none" opacity="0.85"/><path d="M486.8 58.3h0M477.9 46.6h0M492.7 50.2h0M496.6 59.5h0M480 57.7h0M486.9 52.2h0M479.3 43.7h0M487.8 59h0M480.3 54.7h0M492 53h0M491.8 59.3h0M498.3 40.4h0M499.9 35h0M502.3 29.2h0M501.6 38.2h0M507.3 39.6h0M513.7 40.3h0M511.8 42.7h0M452.9 59.1h0M453 58.6h0M458.2 56.4h0M455.2 65.5h0M456.2 57.4h0M460.9 63.4h0M485.1 76.1h0M492.7 89.7h0M490.4 80.6h0M495 85.2h0M486.6 84.1h0M496.7 71h0M499.5 70.9h0M500.1 70.2h0M504.9 68.7h0M502.4 55.2h0" stroke="#4a3fd6" stroke-width="2" stroke-linecap="round" fill="none" opacity="0.85"/><path d="M472.1 51.8h0M483.1 58.8h0M491.9 51.3h0M484.1 51.9h0M485.4 53h0M484.8 54h0M477.2 59.7h0M496.4 37.6h0M508.7 34.5h0M508.6 44.4h0M503.8 38.3h0M506.4 38h0M514.5 33.7h0M512.1 43.2h0M462.5 59.8h0M454.5 63.8h0M450.6 50.6h0M439 65.2h0M484 84.9h0M487.1 83.9h0M490.2 79.4h0M489 78.3h0M497 68.5h0M497.5 69.3h0M498.1 61.9h0M503 63.6h0M509.9 48h0" stroke="#4a3fd6" stroke-width="2.5" stroke-linecap="round" fill="none" opacity="0.85"/><path d="M477.7 56h0M496 62.5h0M470 57.1h0M489.8 67.9h0M483.2 51.9h0M484.8 65.8h0M477.8 63.3h0M482.3 55h0M506.3 30.4h0M505.8 36.6h0M503.9 27.5h0M497.9 38.7h0M512.3 39.1h0M454.3 65.6h0M451 63.4h0M456.7 55.9h0M453.6 65h0M486.8 72h0M481.9 82.8h0M481.6 75.3h0M493.8 57.2h0M502.2 56.3h0M504.7 60h0" stroke="#4a3fd6" stroke-width="3" stroke-linecap="round" fill="none" opacity="0.85"/>
<path d="M483.5 31h0" stroke="#3a30d4" stroke-width="1.5" stroke-linecap="round" fill="none" opacity="0.95"/><path d="M466 63.9h0M463.7 81.4h0M508 80.2h0" stroke="#3a30d4" stroke-width="2" stroke-linecap="round" fill="none" opacity="0.95"/><path d="M480 44h0M474.2 67.4h0M498.7 57.5h0M512.7 70.9h0" stroke="#3a30d4" stroke-width="2.5" stroke-linecap="round" fill="none" opacity="0.95"/><path d="M502.2 32.9h0M506.3 31.2h0M511 63.3h0M517.4 63.9h0M471.9 50.5h0M498.7 69.7h0M491.7 80.2h0M472.4 79h0M483 88h0" stroke="#3a30d4" stroke-width="3" stroke-linecap="round" fill="none" opacity="0.95"/><path d="M506.9 35.9h0M516.2 41.1h0M509.8 41.1h0M504 45.2h0M509.2 45.8h0M513.9 47.5h0M518 56.9h0M490.5 47h0M478.9 67.4h0M478.9 72h0M452.5 66.5h0M503.4 69.1h0M507.5 75h0M477 86.5h0" stroke="#3a30d4" stroke-width="3.5" stroke-linecap="round" fill="none" opacity="0.95"/><path d="M464.9 35.6h0M499.9 45.2h0M508.6 53.4h0M517.4 54.5h0M477.7 60.4h0M450.8 63.9h0M453.8 69.7h0M463.7 49.3h0M451.5 61h0M492.9 67.4h0M482.4 79.6h0" stroke="#3a30d4" stroke-width="4" stroke-linecap="round" fill="none" opacity="0.95"/><path d="M504.6 27.7h0M512.2 34.7h0M513.9 38.8h0M488.2 47.5h0M480.5 55h0M458.4 49.9h0" stroke="#3a30d4" stroke-width="4.5" stroke-linecap="round" fill="none" opacity="0.95"/><path d="M485.9 53.4h0M487 60h0M452 58h0M490.5 73.2h0M478.9 83.2h0M485.3 84.9h0" stroke="#3a30d4" stroke-width="5" stroke-linecap="round" fill="none" opacity="0.95"/><path d="M499.9 26.5h0M481 61h0M452 54.5h0" stroke="#3a30d4" stroke-width="6" stroke-linecap="round" fill="none" opacity="0.95"/><path d="M486.5 54.5h0" stroke="#3a30d4" stroke-width="6.5" stroke-linecap="round" fill="none" opacity="0.95"/><path d="M483.5 57.5h0" stroke="#3a30d4" stroke-width="9" stroke-linecap="round" fill="none" opacity="0.95"/>
</g>
<circle cx="566.4" cy="56" r="36.9" fill="#dcddd3"/>
<g clip-path="url(#cp2)">
<circle cx="566.4" cy="56" r="36.3" fill="none" stroke="#b9bab0" stroke-width="1.6" opacity="0.6"/>
<path d="M596 63h0M556.3 42.5h0" stroke="#7a70d8" stroke-width="0.5" stroke-linecap="round" fill="none" opacity="0.55"/><path d="M564.6 67h0M579.7 63.1h0M553.3 64.5h0M573.1 54.4h0M577.9 45.9h0M550.8 45.1h0M586.5 79.2h0M568.3 54.4h0M580.4 48.6h0M559.9 43.7h0M553.3 69.7h0M565.5 52.1h0M578.1 44.9h0M556.6 40.6h0M566.5 69.9h0M584.7 48.7h0M599.5 59.8h0M556.7 42.5h0M558.6 82.1h0M540.2 65.9h0M586.3 49.9h0M559.9 47.6h0M545.8 38.8h0M543.4 32.4h0M579.3 58.5h0M566.8 65.5h0M575.8 48.2h0M561 59h0M565.3 34.6h0M568.9 46.3h0M558.4 63.9h0M569.3 87.7h0M560.7 28.2h0M571.8 47.5h0M554.5 56.2h0M554 46.7h0M577.4 48.8h0M576.7 26.2h0M548.9 77.7h0M576.1 65.6h0M556.6 71.1h0M558 55.3h0" stroke="#7a70d8" stroke-width="1" stroke-linecap="round" fill="none" opacity="0.55"/><path d="M557.6 40.2h0M567 27.4h0M551.1 54.3h0M534.2 64.3h0M597.5 57.1h0M575.1 85.4h0M560.6 62.2h0M561.7 36.4h0M563.9 63.5h0M548.9 53.2h0M568.3 66.6h0M596.1 55.4h0M559.8 63.5h0M539.3 69h0M564.7 35.5h0M548.3 27.1h0M547.4 54.8h0M577.8 64.1h0" stroke="#7a70d8" stroke-width="1.5" stroke-linecap="round" fill="none" opacity="0.55"/>
<path d="M571.5 81.4h0M594.3 65.6h0M577.5 46h0" stroke="#9890e0" stroke-width="2" stroke-linecap="round" fill="none" opacity="0.45"/><path d="M555.2 34.1h0M562.2 37.6h0M540 56.3h0M560.5 70.9h0M554.6 66.2h0M592 51h0" stroke="#9890e0" stroke-width="2.5" stroke-linecap="round" fill="none" opacity="0.45"/><path d="M575 40h0M571.3 72.3h0M575.6 66.2h0M595.5 48.7h0M582.6 52.2h0M586.1 52.8h0" stroke="#9890e0" stroke-width="3.5" stroke-linecap="round" fill="none" opacity="0.45"/><path d="M569.2 30.6h0M562.8 33.5h0M556.4 50.5h0M548.2 51h0M567.5 65h0M568.6 72.1h0M589.1 43.8h0M596 37.5h0" stroke="#9890e0" stroke-width="4" stroke-linecap="round" fill="none" opacity="0.45"/><path d="M562 45.5h0M573.5 52h0" stroke="#9890e0" stroke-width="4.5" stroke-linecap="round" fill="none" opacity="0.45"/><path d="M562.2 59.2h0M533.9 64.1h0" stroke="#9890e0" stroke-width="5" stroke-linecap="round" fill="none" opacity="0.45"/><path d="M569.2 43.8h0M546.4 74.7h0M599.6 47h0" stroke="#9890e0" stroke-width="5.5" stroke-linecap="round" fill="none" opacity="0.45"/><path d="M559.3 46.4h0M563.4 51h0M567 58.5h0" stroke="#9890e0" stroke-width="6" stroke-linecap="round" fill="none" opacity="0.45"/><path d="M595.5 59.8h0" stroke="#9890e0" stroke-width="6.5" stroke-linecap="round" fill="none" opacity="0.45"/><path d="M571 49.9h0M595.5 40h0" stroke="#9890e0" stroke-width="7" stroke-linecap="round" fill="none" opacity="0.45"/><path d="M565.7 55.7h0" stroke="#9890e0" stroke-width="8" stroke-linecap="round" fill="none" opacity="0.45"/>
<path d="M561 46.9h0M556 61.3h0M567.7 53.5h0M592.2 46.2h0M591.6 41.7h0" stroke="#6a60d8" stroke-width="1" stroke-linecap="round" fill="none" opacity="0.8"/><path d="M568.1 50.6h0M559.4 51h0M559.3 52.2h0M569.2 51.7h0M561.7 47.4h0M598.5 44.5h0M589.8 45.3h0" stroke="#6a60d8" stroke-width="1.5" stroke-linecap="round" fill="none" opacity="0.8"/><path d="M573.6 46.6h0M566.2 47.5h0M567.4 50.4h0M576.9 58.3h0M567.1 45h0M568 42.5h0M568.3 51.5h0M575.4 63.7h0M592.8 41.5h0M595 40.9h0M589.3 42.5h0" stroke="#6a60d8" stroke-width="2" stroke-linecap="round" fill="none" opacity="0.8"/><path d="M573.4 41.9h0M569.5 62.5h0M554.3 47.6h0M557.8 49.7h0M566.5 43.1h0M570 62.1h0M592.5 37h0" stroke="#6a60d8" stroke-width="2.5" stroke-linecap="round" fill="none" opacity="0.8"/>
<path d="M554.6 66.2h0M571.5 81.4h0M594.3 65.6h0M577.5 46h0" stroke="#5f55d6" stroke-width="1.5" stroke-linecap="round" fill="none" opacity="0.95"/><path d="M555.2 34.1h0M562.2 37.6h0M575 40h0M540 56.3h0M560.5 70.9h0M575.6 66.2h0M592 51h0" stroke="#5f55d6" stroke-width="2" stroke-linecap="round" fill="none" opacity="0.95"/><path d="M556.4 50.5h0M548.2 51h0M571.3 72.3h0M596 37.5h0M595.5 48.7h0M582.6 52.2h0M586.1 52.8h0" stroke="#5f55d6" stroke-width="2.5" stroke-linecap="round" fill="none" opacity="0.95"/><path d="M569.2 30.6h0M562.8 33.5h0M562 45.5h0M562.2 59.2h0M573.5 52h0M533.9 64.1h0M567.5 65h0M568.6 72.1h0M589.1 43.8h0" stroke="#5f55d6" stroke-width="3" stroke-linecap="round" fill="none" opacity="0.95"/><path d="M569.2 43.8h0M599.6 47h0" stroke="#5f55d6" stroke-width="3.5" stroke-linecap="round" fill="none" opacity="0.95"/><path d="M559.3 46.4h0M563.4 51h0M567 58.5h0M546.4 74.7h0M595.5 59.8h0" stroke="#5f55d6" stroke-width="4" stroke-linecap="round" fill="none" opacity="0.95"/><path d="M571 49.9h0M595.5 40h0" stroke="#5f55d6" stroke-width="4.5" stroke-linecap="round" fill="none" opacity="0.95"/><path d="M565.7 55.7h0" stroke="#5f55d6" stroke-width="5" stroke-linecap="round" fill="none" opacity="0.95"/>
</g>
<circle cx="484.7" cy="137.3" r="37" fill="#c7cac6"/>
<g clip-path="url(#cp3)">
<circle cx="484.7" cy="137.3" r="36.4" fill="none" stroke="#acafab" stroke-width="1.6" opacity="0.6"/>
<path d="M510.6 114h0M492.7 101.4h0M460.8 115.3h0M481.7 145.1h0M484 117.7h0M482.8 149.8h0M472.3 121.7h0M469.7 106.7h0M481 100.6h0M458.3 162.4h0M492.7 118.3h0M497.1 144h0M503.2 106.2h0M476.3 116h0M507.5 116.6h0M480.8 131.5h0M482.1 102.9h0M492.4 118.7h0M501 105.2h0M494.2 147.4h0M482.7 150.9h0M463 125h0M480.9 132.8h0M467.1 113.8h0M448.9 131h0M486.8 131h0M479.1 141.1h0M505.8 115.8h0M481.9 171.7h0M513.2 138.9h0M482 130.3h0M511.3 130.8h0M505.4 167.8h0M472.4 109.3h0M489 166.1h0M457 115.8h0M470.1 161.5h0M487.1 103.8h0M474.3 164.4h0M492.1 139.4h0M502 116.6h0M498.1 113.6h0M459.2 125.9h0M509.1 146.4h0M510.5 139.5h0M455.6 115.6h0M472.5 129.5h0M502.8 111.7h0M509.8 126.8h0M480.6 119.3h0M477.2 138.5h0M498.8 116.9h0M464 138.5h0M491.6 122.1h0M471.7 104.4h0M514.6 134h0M457.6 128h0M478.6 153.3h0M463.2 131.5h0M480.7 126.9h0M495 104.1h0M460.1 156.4h0M492.1 163.5h0M461.5 153h0M477.9 164h0M516.5 119.7h0M455.5 128.4h0M456.5 133.4h0M507.2 123.5h0M516.4 121.2h0M499.7 131.4h0M471.5 130.5h0M497.9 109.7h0M505.6 140.8h0M461.3 126.7h0M505.2 167.3h0M478.6 110.3h0M520.5 143.9h0M449.3 127.2h0M461.4 137.5h0M471.9 122h0M459.6 110.3h0M486.9 110.9h0M481.9 159.6h0M517.4 121.3h0M470.5 120.4h0M495.3 104.6h0M466.1 126.6h0M471.4 120.9h0M510 112.8h0M451.8 123.2h0M491.3 170.6h0M489.6 153.7h0M492.6 104.1h0M518.8 126h0M496.3 149.3h0M452.7 139.8h0M482.7 130.5h0M501.9 114.9h0M465.2 144.8h0M479.1 134.4h0M472.3 113.4h0M484.9 162.1h0M458.7 161.4h0M489.4 166.3h0M507 116.6h0M465.1 156.2h0M516 117.9h0M502.9 133.3h0M461.6 125.3h0M490.1 135.8h0M487.2 106.1h0M468.2 120h0M474.6 129.2h0M507.1 112.2h0M486 144.9h0M509.8 162.9h0M467.9 153h0M488.6 100.8h0M516.8 119h0M491.2 153.9h0M459.4 149.8h0M514.3 141.7h0M478.7 149.7h0M501.5 109.9h0M521.2 133.6h0M476 144.9h0M470.9 112h0M457.2 115.7h0M473.2 169.1h0M503.5 123.8h0M489.1 102.3h0M486.3 162.2h0M492.9 117.1h0M471.7 117.2h0M476.9 146.8h0M488.5 122.8h0M493.3 142.1h0M500.3 116.1h0M507.8 110.1h0M483.8 150.7h0M459.8 130.1h0M477.2 142.9h0M493.3 104.2h0M499.4 142h0M466.1 165.3h0M494.6 155.1h0M495 145.3h0M465.6 111.1h0M494.2 141.8h0M500.4 137h0M448.9 130.2h0M484.5 122.8h0M506.9 128.8h0M481.3 126.3h0M495.7 141.5h0M496.7 112.9h0M497.2 103.4h0M453.6 124.1h0M480.9 140h0M452 137.1h0M494.1 170.5h0M485.2 158.9h0M480.1 114.1h0M494.1 137.1h0M480 114.4h0M502.6 123.1h0M500.6 132.9h0M477.3 138h0M498.2 113.8h0M474.9 126.7h0M518.2 126.3h0M470.6 121h0M500 161.8h0M486.4 153.5h0M502.8 161h0M509.5 139.2h0M493.4 170.8h0M457.3 120.4h0M477.2 116.1h0M495.6 114.8h0M489.1 144.3h0M453.1 126.4h0M490.6 166.7h0M511.3 144.2h0M506.5 126.8h0M518 122.8h0M474.3 141.1h0M496.6 103.9h0M485.7 105.7h0M464.6 138.1h0M480.7 140.2h0M475.3 141h0M491.3 132.3h0M468 132.4h0M477.1 153.8h0M509.5 136.5h0M469.4 128.3h0M485.8 160.1h0M500.4 124.5h0M467 135.1h0M463.8 120.7h0M470.8 107.8h0M510 116.4h0M505.3 125.3h0M483.7 136.8h0M507.3 148.3h0M488 116.8h0M509 123.9h0M502.4 123.7h0M488.9 143.6h0M492.2 131.5h0M478 134.7h0M481.6 148.1h0M489.8 149.3h0M471.5 128.1h0M482.8 131.5h0M488.1 134.6h0M493.3 132.1h0M477.7 136.2h0M477.3 136.4h0M473.1 147.3h0M471.3 133.8h0M475.3 146.4h0M491.4 125.9h0M486.9 148.2h0M485.4 143.1h0M487.2 145.9h0M485.3 147h0M492.1 145.4h0M483.7 136.9h0M482 126.1h0M488.5 152.6h0M476.1 128h0M488.4 127.3h0M483.1 139.3h0M467.3 140.1h0M490.3 140h0M480.1 135.6h0M485.5 142.1h0M476.2 150.3h0M490.7 140.6h0M487 145.8h0M478 142h0M480.1 139.9h0M483 132.9h0M489.9 149.6h0M456.2 119.2h0M490.4 101.8h0M512.6 127.5h0M487.4 106h0M498.3 110h0M472.7 109.9h0M460.2 123.1h0M453.6 121.6h0M506.5 114.4h0M464.7 112.8h0M511.8 121.6h0M454.4 124.7h0M453.2 129.1h0M487.2 108.7h0M455.3 117.8h0M481.7 107.9h0M503.6 115.8h0M507.6 115.9h0M480.1 109h0M511.2 119.4h0M511.9 123.8h0M471.7 107.8h0M517 129.6h0M453.1 119.5h0M451 129.5h0M455.8 123.4h0M494.1 110.2h0M467.2 109h0M480.4 109.5h0M470.1 108.2h0M501.1 113.8h0M463.3 112.3h0M477 110h0M508.1 114.9h0M518.6 124.5h0M483 108.4h0M494.5 104.3h0M504.3 114.4h0M469.4 108.5h0M465.1 112.7h0M505 107.2h0M467.5 105.3h0M478.8 104.5h0M471 103.8h0M509.3 123.5h0M458.1 113.5h0M515.3 118.9h0M482.3 109.3h0M519.3 125.9h0M513.9 124.3h0M449.8 131.1h0M499.9 108h0M517.5 129.2h0M459.3 111.4h0M498.6 106h0M458.7 120.7h0M506.4 108.8h0M507.6 110.1h0M504.2 107.2h0M477.1 108.4h0M476.7 106.2h0M456.5 131.2h0" stroke="#2a1ca6" stroke-width="1" stroke-linecap="round" fill="none" opacity="0.95"/><path d="M464.4 154.6h0M492.4 153.8h0M473 122.2h0M456 117h0M488.9 140.5h0M456.7 122.6h0M465.8 121.6h0M505 114.4h0M508.6 116.5h0M466.1 164.5h0M487.4 114.6h0M484.8 168.8h0M501.4 144.4h0M475.5 106.1h0M499.4 103.9h0M478.9 118.4h0M480.4 108h0M478.8 152.8h0M472.9 132h0M488.8 114.2h0M484.6 166.8h0M495 118h0M449 142.1h0M489.4 104.5h0M455.6 133h0M482 116.4h0M490.6 131.6h0M496.9 166.8h0M459.2 142.8h0M478.6 114.9h0M493 115.8h0M496.2 129.8h0M482.3 131.5h0M478.3 113.5h0M490.1 134.7h0M519.1 124.8h0M488.6 106.5h0M476.4 148.4h0M474 115.8h0M466.6 106.5h0M498 167.6h0M486.1 113.2h0M458.8 147.2h0M471.7 112h0M482.3 153.2h0M471 113.4h0M518.6 134.1h0M490.5 151.5h0M489.3 137.3h0M476.5 172.3h0M495 127h0M468.7 111.4h0M498.2 111.8h0M482.2 125.8h0M459.7 155.3h0M498.8 112.1h0M463.3 119.1h0M476 107.7h0M451.6 130.2h0M485.6 149.9h0M468.1 116.7h0M497 103.4h0M479.5 101.8h0M505.5 122.7h0M517.5 123h0M506.9 149h0M459.5 111.6h0M512.8 132.7h0M489.3 144.8h0M500.1 120.3h0M484.7 167.2h0M510.3 151.6h0M464.5 165.2h0M502.9 133h0M491.7 119h0M502.4 121.9h0M453.8 126.6h0M491.1 151.3h0M481.5 117h0M501 104.4h0M489.4 117.5h0M462.8 110.2h0M478.3 133.6h0M482.1 140.3h0M509.9 145.1h0M456.5 136.5h0M451.3 145.3h0M504 114.9h0M497.8 165.9h0M488.2 170.7h0M479.1 165h0M498.9 109.7h0M519.7 133.3h0M477.9 165.7h0M485.6 101.2h0M480.3 105.4h0M493.5 138.9h0M507.3 147.9h0M493.8 159.2h0M464 131.1h0M514.8 134.2h0M488.5 142.5h0M474.3 172.4h0M518.2 149.9h0M473.6 106.1h0M488.5 144.6h0M513.3 131.5h0M515.1 125.4h0M494.2 133h0M482.4 114.9h0M470.6 157.1h0M489.2 160.6h0M460.3 134.6h0M488.4 140.2h0M497.3 104.1h0M486.9 133.5h0M470.9 110.7h0M504.5 115.5h0M481 149.8h0M475.3 136.2h0M499.3 135.4h0M487.2 124.2h0M498.3 159.2h0M454.8 115.7h0M501.4 141.1h0M457.7 146.6h0M483.8 127.5h0M469.3 131.8h0M491.2 102.4h0M478.5 107.2h0M503.9 107.2h0M499.6 127.7h0M490.1 143.4h0M456.2 131.9h0M509.1 123.2h0M517.9 135.9h0M493.1 115h0M458.4 131.6h0M504.2 165.5h0M495.4 129.2h0M471.3 158.6h0M489.6 133.8h0M479.3 117.7h0M488.4 148.3h0M457.1 121.6h0M502.7 141.5h0M490.8 128.4h0M497.7 122.7h0M496.9 106.4h0M458.9 121.9h0M481.9 145h0M510.1 114.7h0M493.7 128.3h0M513.3 146h0M452.9 129.3h0M512.1 129.9h0M509.3 113.5h0M485.7 146.9h0M513.8 121.9h0M482.6 139.8h0M509.3 156.3h0M499 107.1h0M515.6 143.1h0M511.2 127.8h0M484.5 142.7h0M497.2 112.9h0M465.9 114.8h0M465.8 119.2h0M485.1 105.1h0M509.5 120.3h0M496.4 102.5h0M470.8 152.5h0M475 105.5h0M519.3 138.9h0M501.5 166h0M490.3 163.1h0M496.8 167.9h0M488.4 114h0M516.4 149.6h0M498.6 143h0M494 121.9h0M504.2 116.3h0M466.7 142h0M480.5 111h0M490.6 152.2h0M508.7 129.1h0M468.1 149h0M464.1 115.3h0M454.1 125.8h0M489.7 142.5h0M468.4 130.3h0M457.9 131.9h0M507.2 162.1h0M493.9 115.7h0M496.6 168.5h0M461.8 109h0M477.5 120.1h0M506.7 124.1h0M508.4 144.5h0M469.3 128.2h0M468.1 118.4h0M472.8 125h0M503.2 139.4h0M458.5 133.2h0M497 164.2h0M471.5 109.2h0M459.4 161.4h0M502.7 149.6h0M491 101.7h0M485.4 104h0M503 118.2h0M479.9 141h0M518.3 141.3h0M491.8 162.4h0M494.3 112.5h0M463.3 135.5h0M512.6 135.3h0M486.8 136.4h0M507.9 110.3h0M505.6 135.8h0M513.8 141h0M488.5 151.5h0M483.9 139.6h0M515.9 125.2h0M480.6 150.5h0M513.6 122.2h0M492.3 130h0M464.3 132.8h0M499.8 147.8h0M487.9 140.5h0M471.1 108.7h0M505.1 120.6h0M502.8 143.8h0M500.4 107.2h0M521 130.7h0M451.1 130h0M462.2 118.8h0M459.9 149.3h0M470.4 126.3h0M466.2 145h0M500 152.1h0M471.7 111.6h0M496.3 163.7h0M509.6 145h0M473.3 121.7h0M486.3 147.6h0M473.2 152.8h0M488.6 132h0M482.6 129.5h0M493.3 132h0M479.3 153.6h0M469.7 120.2h0M462.8 133.1h0M473.9 142.5h0M482.8 134.5h0M490.1 138.7h0M484.2 136.9h0M482.3 145.9h0M490.4 142.2h0M486.7 145.2h0M480.6 136.2h0M490.5 145.6h0M473.4 151.3h0M474.5 147.4h0M468.4 136h0M495.9 136.2h0M485.9 133.1h0M482 147.6h0M477.2 148.3h0M478.4 138h0M488.7 133.9h0M485.2 137.4h0M478.4 148.9h0M486.6 141.4h0M487.2 154.6h0M482.8 135h0M495.5 131.1h0M482.6 126.1h0M478.7 139.9h0M498.3 145h0M480.2 135.9h0M485.9 135.4h0M484.1 138.7h0M504.7 128.7h0M502.6 144h0M485.1 143.4h0M480.2 133.9h0M478.8 139.4h0M486.5 150.5h0M480 150.9h0M490.1 139.7h0M505.7 112.9h0M464.6 115.1h0M511.5 121.5h0M518.2 124.9h0M463.8 108.4h0M458.3 118.1h0M457.6 118h0M467.9 113.8h0M507 109.5h0M490.3 101.3h0M488.2 102.2h0M496.7 110.4h0M467.1 106.9h0M487.2 105.9h0M475 108.7h0M502.8 108.8h0M475.8 107.4h0M459.2 123h0M499 109.5h0M499.2 104h0M458.8 120h0M488.3 108.4h0M457.3 116.2h0M507.4 114.8h0M469.3 106.3h0M509.7 113.5h0M514.6 117.9h0M510.6 117h0M454.4 120.2h0M485.2 108.8h0M486.1 109.3h0M468.3 109.8h0M517.5 131.6h0M501 107.3h0M472.3 108.9h0M505.6 113.5h0M457.2 120.7h0M459 117.1h0M500 105.3h0M475.6 109h0M457.7 127.3h0M508.5 115.4h0M472.8 109.4h0M460.6 118.8h0M512.9 122h0M488.5 109.2h0M513.2 132.3h0M460.7 121.4h0M497.5 105.6h0M504.9 109h0M454.7 131.3h0M453.6 124.4h0M511.3 113.8h0M519.5 129.7h0M473.8 104.6h0M502.5 105.7h0M453.8 124h0M513.3 127.2h0M507.9 118.8h0" stroke="#2a1ca6" stroke-width="1.5" stroke-linecap="round" fill="none" opacity="0.95"/><path d="M463.5 122.1h0M474.8 105.7h0M513.3 159.7h0M475.4 153.3h0M490.7 144.1h0M473.1 107.2h0M453.4 135.1h0M450.5 129.7h0M480.3 142.7h0M501.5 108.2h0M483.5 119.6h0M461.8 142.7h0M479.4 171.3h0M484.6 142.6h0M493.6 138.7h0M488.7 167.4h0M454.9 148.5h0M486.2 118.3h0M503.3 155.6h0M493.5 128.2h0M489.7 104.5h0M477.5 165h0M485.6 137.9h0M500.3 142.6h0M465.9 123.2h0M507.4 144.8h0M498.9 120.4h0M476.1 103.8h0M485.8 115.6h0M510 147h0M501.8 118.2h0M483.2 105.3h0M475.4 121.6h0M458.6 117.5h0M460.8 118h0M501.8 133h0M485.1 122.1h0M499.8 170h0M474.6 115.7h0M485 129.2h0M488.9 116.3h0M466.2 150.2h0M478.4 140.6h0M495.5 137.6h0M492.3 140.7h0M453.9 136.4h0M463.7 111.2h0M507.7 108.7h0M458.3 120h0M498.3 163.1h0M472 106.7h0M487.8 112.2h0M512.3 127.6h0M451 145h0M497.7 105.6h0M508.4 151.8h0M515.4 144.7h0M496.4 138.6h0M461.7 150.9h0M488.7 120.2h0M451.7 132.8h0M480.6 140.8h0M491.1 136.6h0M483.8 111h0M506 108.4h0M452.9 126.8h0M492.5 127.1h0M473.6 131h0M471.7 116.2h0M510.2 118.3h0M508.9 155.5h0M480.3 121.4h0M507.2 111.6h0M484.3 130.4h0M508.3 154.1h0M474.2 146.5h0M495.6 105.6h0M465.2 167.6h0M501.3 118h0M483.6 116.4h0M470.9 118.4h0M460.1 135.8h0M489.5 149.3h0M485.1 127.9h0M496.6 105.8h0M483.3 131.2h0M484.9 173.7h0M494.3 110.1h0M488.8 133.7h0M453.9 153.9h0M515.2 127.6h0M508.5 126.7h0M516.1 141.1h0M510.8 128.4h0M484.4 132.6h0M509.2 155.6h0M499.8 124.1h0M472.1 107.4h0M450.6 130.6h0M449.1 129.3h0M485.3 163.9h0M479.3 103.2h0M509.1 124.5h0M485.4 147.2h0M486.2 110.3h0M510.3 145.6h0M503.2 135.9h0M471.6 114.2h0M495 125.3h0M490.4 140.2h0M464.9 115.1h0M487.4 102.5h0M460.6 118.9h0M497.6 110h0M515 133.4h0M466.1 107.7h0M458.9 113.4h0M512.6 137.2h0M488.5 132.7h0M511.6 155.4h0M478.9 143.6h0M457.4 124.8h0M491.4 110h0M453.4 118.2h0M500.9 116.2h0M513.9 134.9h0M484.5 140.9h0M478.4 124.3h0M464.8 119.5h0M485.2 153h0M466 146.1h0M486.8 169.9h0M496.5 127.8h0M518.6 133.8h0M519.3 135.3h0M509 120.4h0M517.1 121.7h0M454.9 127.6h0M496 113.2h0M481.7 101.6h0M468.2 120.5h0M469.2 153.3h0M490 143.5h0M455.6 136.8h0M453.4 122.9h0M477.4 141.5h0M474.2 140.3h0M513.3 154h0M521.1 133.4h0M464.6 137.5h0M450.9 124.3h0M489.5 104.7h0M474.9 155.9h0M491.3 151.7h0M503.9 122.2h0M453.2 121.9h0M480.2 114.2h0M507 157.6h0M498.6 157.7h0M505.3 117.8h0M516.8 122.9h0M518 136h0M476.6 172.1h0M489.7 159.1h0M448 133.8h0M485.9 135.2h0M477.9 172.2h0M501.3 142.1h0M485.2 107.6h0M482.4 131.7h0M491.3 107.2h0M462.1 120.3h0M485.2 141.6h0M458.3 127.2h0M479.9 162.4h0M507.9 143.6h0M490.1 134.4h0M454.4 144.2h0M482.7 104h0M480 116.9h0M483 130.9h0M489.9 133.9h0M497.7 167.7h0M510.7 135.9h0M461.9 155.3h0M477.3 117h0M496.8 103.4h0M460.3 161.9h0M462.4 121.1h0M504.3 132h0M451.5 135.5h0M485.9 106.2h0M504.5 106.7h0M490 111.9h0M493.6 136.9h0M481.4 121.5h0M475.5 106.9h0M483.4 109.4h0M486.5 172.7h0M478.1 115.8h0M502 148.8h0M479 148.6h0M508.8 161.5h0M485.7 105.9h0M503.8 134.3h0M461 137.2h0M509.1 116.1h0M493.3 109.1h0M502 135.3h0M484.3 103.5h0M497.6 122.6h0M511.8 114.2h0M474.7 158h0M489.2 166.9h0M516.6 146.1h0M486.5 140h0M513.6 125.4h0M469.6 106h0M504.2 135.1h0M466.7 107.2h0M482.1 102.2h0M478.1 159.9h0M480.1 139.6h0M497.5 116h0M484.7 130.7h0M485.7 168.1h0M469.4 128.8h0M481.4 103.9h0M464.3 136.6h0M484.3 125h0M488 103.5h0M486.2 145.8h0M478.9 129.1h0M496.6 138.3h0M450.5 130h0M487.5 118.6h0M489 139.1h0M477 132.2h0M497.8 140h0M488.7 147.4h0M487.3 148.7h0M494.9 136.3h0M497.9 132.8h0M479.7 140.6h0M493.9 146.4h0M484.1 139.4h0M486.8 151h0M477.6 144.5h0M480.3 151.1h0M484.2 131.9h0M484.4 134.4h0M473.9 138.8h0M468.6 138.8h0M488.3 140.8h0M498.4 125.1h0M487.1 142.9h0M478.1 139.4h0M482.1 142.7h0M485.8 140.3h0M469.6 139.6h0M483.6 151.7h0M490.7 129.9h0M494.9 151.1h0M485.5 137.9h0M483.7 138.1h0M500.2 140.4h0M494.6 132.8h0M492.4 143h0M475.4 140.1h0M486.9 143.1h0M491.7 130.7h0M476.9 138.5h0M491.3 148.1h0M504 112.2h0M454.8 124.6h0M517.1 126.9h0M461.3 115.4h0M510.7 114h0M456.7 114.1h0M450.4 124.9h0M469.7 106.9h0M495.1 108.4h0M455.2 119.6h0M487 101.5h0M482 105.7h0M518.5 127.2h0M454.9 126.2h0M451 130.4h0M455.9 129.3h0M455.2 130.5h0M502.7 108.9h0M507.9 110.6h0M512.2 121.8h0M513.1 121.9h0M485.2 106.4h0M489.8 107.7h0M511.3 125.2h0M455.5 124.9h0M472.5 108h0M500 111.8h0M516.7 126.6h0M509.7 114.6h0M504.6 117.5h0M497.4 104.4h0M470.3 108.9h0M467.4 106.3h0M513.6 123.1h0M457.2 129.5h0M505 117.7h0M509.6 111h0M469.6 104.3h0M455.1 128.2h0" stroke="#2a1ca6" stroke-width="2" stroke-linecap="round" fill="none" opacity="0.95"/>
</g>
<circle cx="566.3" cy="137.3" r="36.9" fill="#d1d4c7"/>
<g clip-path="url(#cp4)">
<circle cx="566.3" cy="137.3" r="36.3" fill="none" stroke="#b2b5a8" stroke-width="1.6" opacity="0.6"/>
<path d="M566.8 106.2h0M539.9 143.7h0M595.3 123.6h0M559.3 135.6h0M573.8 126.6h0M555.6 162.7h0M570.3 126.7h0M561.4 102.5h0M552.3 165.9h0M542.7 115.7h0M587.3 109.6h0M591.4 117.6h0M558.3 144.1h0M538.5 157h0M561.9 156.7h0M585.3 106.9h0M589.5 160.3h0M547.8 143.9h0M545.2 140.1h0M584.4 128.5h0M568.7 110.8h0M592.4 146.4h0M583.9 107.9h0M570.4 118h0M564.4 135.2h0M558.1 106h0M556.3 165.9h0M554.7 121h0M563.1 171.2h0M586.4 146.8h0M533.2 133.8h0M557.4 118.9h0M537.9 138.1h0M596.2 132h0M560.8 126h0M589.6 141.5h0M598.8 151.7h0M598.1 140.3h0M580.4 123h0M547.9 122.7h0M539 118.8h0M575.9 116.1h0M545.7 119.6h0M583.5 148.7h0M552.7 166h0M570.6 117.2h0M588.5 160h0M560.6 137.5h0M598.3 133.8h0M594 134.1h0M581.5 147.4h0M597.6 137.6h0M595.8 123.4h0M539.3 147.3h0M553.7 131.9h0M551.3 124.6h0M569 158.9h0M561.9 133.3h0M597.7 129.2h0M558 130.1h0M547.4 151.9h0M551 138h0M571.4 156.4h0M583.5 136h0M597.7 152.7h0M563 127.2h0M592.2 135.4h0M584.1 129.2h0M582.8 122.2h0M565.9 153.5h0M578 118.1h0M560 167.8h0M591.1 144.1h0M592.8 114.1h0M553.8 137.9h0M545.2 164h0M546.4 130.7h0M593.6 125.5h0M571.3 159.2h0M574.8 161.1h0" stroke="#8a88b0" stroke-width="1" stroke-linecap="round" fill="none" opacity="0.5"/>
<path d="M539.2 125.6h0M593.2 138.3h0M536.8 121.6h0M561.8 144.2h0M539.7 117.4h0M555.2 168.6h0M560.5 115.7h0M567.7 110.1h0M575.3 151.9h0" stroke="#2c2494" stroke-width="1" stroke-linecap="round" fill="none" opacity="0.95"/><path d="M538.1 151.8h0M597.9 120.9h0M583.1 148.7h0M575.8 112.1h0M578.1 113.2h0M559.4 172.5h0M538.4 143.7h0M583.6 109.6h0M568.8 134.1h0M540.7 151.9h0M598.2 131.8h0M571.3 168.8h0M552.1 114.9h0M564.1 119.8h0M601 143.5h0M597.6 127.1h0M549.4 119.2h0M556.9 141.7h0M566.9 161.8h0M558 170.3h0M564.1 125.8h0M540.5 120h0M548.8 127.9h0M582.5 111.9h0M546.3 147.9h0M555.8 168.4h0M570.4 104.7h0M579.2 168.5h0M552.3 111.1h0M562.7 157.7h0M548.2 150.3h0M591.8 130h0M568 161.4h0M592.3 135.6h0M570.5 103.4h0M557.2 151h0M552.7 114h0M550.1 166.3h0M565.3 147h0" stroke="#2c2494" stroke-width="1.5" stroke-linecap="round" fill="none" opacity="0.95"/><path d="M579.5 129.9h0M538.9 117.4h0M556.1 120.1h0M574 164.1h0M562.9 117.1h0M566.3 108.8h0M537.1 135.9h0M564.5 118.4h0M544.7 117.9h0M596.3 122.3h0M585.9 124h0M574.4 119.2h0M537.8 115.8h0M569.5 128.7h0M549.5 135.1h0M561 171.8h0M568.3 122.7h0M588.3 152.1h0M561.9 142.8h0M560.7 150.3h0M547.3 119.7h0M548.1 107.9h0M579.7 148h0M560.8 117.5h0M573.7 135.4h0M555.4 137.1h0M541.5 138.8h0M566.5 136.5h0M566.7 138.5h0M566.4 143h0M565.8 140.6h0" stroke="#2c2494" stroke-width="2" stroke-linecap="round" fill="none" opacity="0.95"/>
</g>
<circle cx="484.5" cy="218.1" r="37" fill="#c6c9c4"/>
<g clip-path="url(#cp5)">
<circle cx="484.5" cy="218.1" r="36.4" fill="none" stroke="#a9aca7" stroke-width="1.6" opacity="0.6"/>
<path d="M465.5 209h0M491.2 233.5h0M465.7 215.9h0M496.1 223.2h0M497.6 217.4h0M491.9 237.5h0M476.9 218.1h0M464.6 224.5h0M497.4 222.3h0M503.7 232.4h0" stroke="#8a84d0" stroke-width="2.5" stroke-linecap="round" fill="none" opacity="0.35"/><path d="M492.1 191.3h0M474.2 207.8h0M491 207.4h0M499.3 229.7h0M506.6 225.4h0M502.9 223.8h0M489.1 209.7h0M492.1 210.4h0M487.2 225.3h0M520.9 203.1h0M480.9 228.7h0M465.6 215.9h0M483.4 202h0M500.3 217.9h0M475.6 230.4h0M492.5 217.2h0M520.7 213.7h0M483.2 221.5h0M501.7 250.4h0" stroke="#8a84d0" stroke-width="3" stroke-linecap="round" fill="none" opacity="0.35"/><path d="M479.5 218.8h0M503.5 212.3h0M499.2 205.6h0M474.8 215.2h0" stroke="#8a84d0" stroke-width="3.5" stroke-linecap="round" fill="none" opacity="0.35"/><path d="M492.7 247.2h0M471.9 237.9h0M497.8 208.6h0M498.7 218.3h0M477.2 198.4h0M482.8 226.6h0M501.5 229.5h0M455.1 213.1h0M475.3 228.5h0M473.8 213.3h0M510 198h0M486.9 209.1h0" stroke="#8a84d0" stroke-width="4" stroke-linecap="round" fill="none" opacity="0.35"/><path d="M496.1 228.3h0M480.8 234.7h0M454.5 236.8h0M505.9 229.8h0M468 228.3h0M487.3 219.5h0M497.7 198h0M488.2 206h0M484.6 205.6h0M480.4 226.1h0M509.4 201.6h0M495.5 219h0M472.6 213.1h0M461.3 195.8h0M510.6 210h0" stroke="#8a84d0" stroke-width="4.5" stroke-linecap="round" fill="none" opacity="0.35"/>
<path d="M496.5 211.3h0M492.7 199.3h0M492.8 247.2h0M462.6 223.1h0M464.9 214h0M472.9 209.5h0M473.6 198.7h0M482.7 228.3h0M488.9 189.9h0M488.6 217.6h0M504.1 190.1h0M503.6 227.6h0M476.9 240.2h0M497.8 187.1h0M487.1 245.3h0M492 223.5h0M520 210.3h0M511.2 219.7h0M482.9 197.3h0M506.5 190.8h0M457.6 194.5h0M454.8 224.5h0M474 195h0M508 225.1h0M482.5 220.5h0M498.4 190.6h0M471.3 225.4h0M517.5 211.4h0M450.8 219.7h0M468.9 251.6h0M500.7 231.4h0M503.4 241.5h0M494.9 185.3h0M488.7 187.3h0M488.2 217.2h0M482.2 189.3h0M500.3 232h0M479.4 220.5h0M504.2 218.1h0M504.2 217.1h0M481.5 239.8h0M472.7 216.1h0M478.7 222.3h0M461.6 196.5h0M479.4 218.1h0M479.3 203.3h0M483.5 208.8h0M478.5 221.5h0M477.3 206h0M471.7 214.1h0M476.2 217.6h0M485 203.6h0M478.7 208.7h0M483.5 216.1h0M481.1 201.2h0" stroke="#6f66d0" stroke-width="1" stroke-linecap="round" fill="none" opacity="0.8"/><path d="M476.6 219.6h0M506.9 207.7h0M503.5 241.2h0M481.7 249.6h0M512.7 218.5h0M476.4 238.7h0M499.6 235.4h0M463.6 209h0M484.8 254.9h0M493.6 208.9h0M503.9 240.4h0M495.6 186.4h0M479.8 232.6h0M471.7 240.3h0M491.8 223.2h0M466.4 231.2h0M520.4 225.5h0M479.1 212.7h0M518.3 207.6h0M464.5 207.2h0M494.3 221.2h0M461.3 198.4h0M465.8 227.4h0M473.5 244.6h0M510.6 243.8h0M488.7 188.8h0M491.5 194.1h0M485.3 219.5h0M479.4 213.4h0M458.2 209.8h0M471 224.1h0M479 189.3h0M450.6 228.5h0M505 231.6h0M489 213.3h0M467.3 230.2h0M463.4 228.6h0M504.2 215.8h0M518.7 226.4h0M499.7 207h0M507.9 243.5h0M519.8 208.1h0M486.9 216.8h0M499.7 199.8h0M451.7 211.6h0M481.1 191.4h0M485.4 239.8h0M464.9 230.4h0M486.5 229.3h0M465.8 235.8h0M478.4 250.6h0M499.2 237.2h0M491.4 215.9h0M480.1 213.7h0M478.8 222.9h0M488 222.6h0M487.2 219.8h0M478 214.2h0M488 221.1h0M489 204.6h0M481.2 205h0M478 220.4h0M477.8 204.9h0M478.2 217.6h0M489.4 213.4h0M483.2 222.3h0M482.7 231.1h0M476.9 216.9h0M485.7 215h0M488.7 220.6h0M483.5 221.2h0M461.2 220.8h0M488.3 202.7h0M474.5 212.6h0" stroke="#6f66d0" stroke-width="1.5" stroke-linecap="round" fill="none" opacity="0.8"/><path d="M468.3 200.6h0M477.2 218.3h0M502.3 202.4h0M485.8 191.7h0M491.6 213.1h0M511.4 214.4h0M482.3 227.5h0M491.6 193.4h0M502.7 250.1h0M452.9 224.1h0M481.5 217.3h0M486.9 231.9h0M467.7 231.2h0M503.3 240.1h0M507.8 229.6h0M483.4 216.8h0M471.4 198.8h0M487.5 215h0M477.4 244.7h0M477.4 193.7h0M488 236.3h0M475.6 218.7h0M500.8 245.9h0M518.5 223.9h0M518.6 225.8h0M518.3 223.9h0M469.6 246.3h0M516.9 232.3h0M489 214.5h0M459.3 197.7h0M475.5 208.9h0M496.3 216.2h0M477.3 188.1h0M493.6 230.1h0M483.3 205.1h0M492.7 237.6h0M481.8 219.2h0M480.8 239.8h0M476.8 213.8h0M492.7 215h0M516.7 228.9h0M464.4 242.1h0M499.7 241h0M498 208.6h0M505.7 222.7h0M507.5 211.9h0M498.6 251.2h0M486.7 230.6h0M519.4 223.8h0M511 213.9h0M467.9 208.1h0M453.4 217.7h0M482.6 198.4h0M473.5 251.7h0M480.4 224.3h0M499.2 205.9h0M487.2 226h0M461.4 225h0M477.3 211.6h0M486.6 250h0M489.1 230.4h0M469.1 229.6h0M464.1 216.7h0M490.3 197.5h0M479.6 244.6h0M490.3 206h0M486.5 184.1h0M493.5 215.6h0M489.6 212.8h0M490 213.6h0M485.6 212.3h0M483.9 222.8h0M483.1 217.6h0M489.8 216.1h0M480 201.2h0M482.7 208.9h0M482.6 217.9h0M497.5 210.8h0M468.2 201.6h0M493.4 227.6h0M486.2 229.2h0M495.1 220.5h0M476.7 228.5h0M481.4 216.2h0" stroke="#6f66d0" stroke-width="2" stroke-linecap="round" fill="none" opacity="0.8"/>
<path d="M499.5 206.3h0M489.8 219.6h0M496.7 188.2h0M471.1 198h0M469.6 245.6h0M485.3 204.1h0M477.1 246.1h0M503.2 213.6h0M451.4 203h0M478 185.8h0M488 209.9h0M510.5 212.7h0M509.6 217.2h0M482.5 208.5h0M471.3 218.3h0M470.9 195.8h0M483.9 185.4h0M484.5 230.6h0M504.6 233.8h0M489.1 248.2h0M490.9 210.9h0M519.8 221.4h0M483 218.2h0M477.5 224.9h0M479.5 210.1h0M486.7 217.9h0M500.8 196.2h0M465.6 193h0M463.4 193.9h0M474.6 225.2h0M503.1 223.2h0M453 222.9h0M508.8 202h0M483.2 207.5h0M483.1 191h0M471.5 195.5h0M472.9 236.2h0M472.1 227.6h0M473.1 224.8h0M479.4 219.2h0M488.5 239.8h0M459.4 196h0M493.2 183.5h0M477.6 239.1h0M453.4 219.3h0M454.6 218.9h0M460.4 208.6h0M507.6 205.8h0M469.4 219.4h0M500.1 220.9h0M511.7 237.1h0M507.8 229.1h0M473 187.9h0M463.2 229.7h0M489 226.2h0M474.7 198h0M512.2 204.2h0M483.9 230.9h0M455.6 211.4h0M508.1 236.9h0M520.2 227.9h0M511.4 215.6h0M466.5 196.7h0M516.5 216.1h0M486.1 214.1h0M486.2 224.5h0M475 192.2h0M458.5 219.9h0M462.9 220.4h0M480.7 200h0M488.6 195.3h0M504.2 226.2h0M482.4 209.3h0M480.7 205.7h0M473 203.4h0M482.4 218.3h0M498.6 222.3h0M501.3 211.4h0M481.1 201.1h0M480.9 216.9h0M483.1 221.3h0M489.9 209.2h0M479 222.9h0M483.2 225.9h0M485.7 206.1h0M481.5 214.8h0M479.2 204h0M489.5 216.2h0M486.5 201.9h0M476.1 209.7h0M479.5 219.6h0M485.9 216.1h0" stroke="#463cc2" stroke-width="1" stroke-linecap="round" fill="none" opacity="0.9"/><path d="M498.6 234.3h0M506.4 216.2h0M466.4 187.4h0M495.5 209.2h0M499.1 239.1h0M484.6 216.5h0M513 232h0M466.5 198.8h0M451.1 218.2h0M474.7 195h0M512.7 208.8h0M475.3 221.2h0M492.2 247.4h0M476.3 246.2h0M510.5 198.7h0M471 243.9h0M480.3 194.9h0M501 235.7h0M504.3 194.1h0M479.5 220h0M488.1 221.3h0M466.4 242.5h0M455.9 239.2h0M484.4 190.4h0M455.9 200.3h0M518.6 216h0M488.6 215.2h0M469.3 232.7h0M476.5 239.6h0M481.1 190.5h0M456.3 210.9h0M503.8 230.2h0M473.5 199.5h0M472.4 202h0M513.2 196h0M504.8 209.8h0M468 241.3h0M511.1 241.9h0M487.7 203.5h0M490.4 209.4h0M478.2 207.3h0M476.7 182.7h0M465.8 208.8h0M485.6 206.3h0M500.4 251h0M481.8 217.5h0M492.9 243.3h0M491.4 242.5h0M505.9 234.7h0M501.2 212.6h0M482.9 213.3h0M514.1 198.7h0M502.9 245.5h0M474.9 203.3h0M502.2 190.2h0M506 195.8h0M510.6 204.3h0M476.5 194h0M471.6 221.1h0M453 233.8h0M516.2 210.9h0M475.1 201.9h0M479.8 211.5h0M468.3 238.3h0M471 211.7h0M457.9 211.4h0M484.8 225.6h0M469 242.4h0M458.7 240.8h0M469.8 246.9h0M503.9 190.6h0M496.9 197.2h0M486.4 211.2h0M479.8 197.6h0M496 224.6h0M512.6 199.7h0M474.4 232.8h0M470.9 243.1h0M454.2 213h0M487.5 211.4h0M514.4 205.6h0M497 208.7h0M460.8 213.4h0M490.6 250.6h0M478.5 204.8h0M508.1 198.9h0M487.6 226.5h0M490.8 237.3h0M477.9 225.1h0M502.9 232.6h0M463 202.1h0M481.1 209.7h0M467.9 232.6h0M477 230.2h0M463.2 248h0M507.7 220.7h0M463.2 197.7h0M495.9 198.4h0M465.6 248.1h0M475.9 218.5h0M499.6 199.6h0M487.1 188h0M476.2 234.6h0M459.7 233.6h0M461.2 205.3h0M480.4 204h0M513.7 240.8h0M509.4 212.6h0M453.4 211.6h0M478.9 222.7h0M485.3 210.8h0M457.5 242.6h0M498.8 243.2h0M498.9 220.9h0M508.6 229.1h0M482.8 216.3h0M515.4 203.3h0M510.4 200.9h0M515.2 211.2h0M507.4 212.3h0M480.3 231.7h0M483.5 196.8h0M487.6 223.9h0M514.9 202.5h0M485.6 228.1h0M503.2 249.4h0M479.7 209.8h0M475.3 220.5h0M487.6 215.5h0M484.1 206.7h0M484.3 224.3h0M483 219.7h0M483.8 227.7h0M492.8 226.2h0M479.3 219.5h0M485.4 212.5h0M493.3 203.2h0M488.5 215.6h0M473.6 217.7h0M486.8 216.5h0M479.1 219.3h0M489.5 204.3h0M477.3 219h0M485.1 223.8h0M480.5 207.9h0M489.2 205.6h0M479.8 215.5h0M482.7 224.9h0M488.4 210.9h0M485.3 226.5h0M477.9 214.8h0M482.9 208.9h0M469.8 207.9h0M487 231.4h0M488.9 220h0M478 226.4h0M474.4 230.6h0M486.5 230.8h0M494.3 227.5h0M488.3 226.8h0M482.3 217.6h0M487.6 221.8h0M486.6 216.5h0M485.9 202.9h0M475.7 214.6h0M482.8 226.6h0M484 219h0M467.3 207h0M488 208.1h0M486.7 209.8h0M500.3 211.5h0M491 221.1h0" stroke="#463cc2" stroke-width="1.5" stroke-linecap="round" fill="none" opacity="0.9"/><path d="M512.2 240.1h0M472.4 213.8h0M511.2 235h0M472.1 247.6h0M496.3 198.9h0M516.4 209.3h0M494.6 212h0M456.4 240.2h0M465.3 190.2h0M495 236.8h0M507 203.2h0M504.3 244h0M487.9 225.4h0M496.5 212.5h0M478.9 190.8h0M482.9 218h0M480.7 247.3h0M499.5 198.1h0M460.8 208h0M463.1 197.5h0M502.5 216.7h0M486 222.1h0M483.1 241.2h0M494.9 203.5h0M468.1 187.4h0M472.8 206.7h0M465.3 209.8h0M455.4 229.1h0M448.1 219.3h0M488.5 217.2h0M490.9 221.2h0M471.3 218.9h0M485.4 204.7h0M451.9 226.2h0M461 195.6h0M457.8 196.7h0M468.8 185.7h0M499 244.1h0M490.1 196.6h0M504 210.3h0M470.2 235.8h0M473 223.7h0M483.2 248h0M499 221h0M485 223.9h0M462.3 211.9h0M479.6 224.9h0M483.7 188h0M517.8 206.7h0M477.5 200.5h0M462 201.8h0M488.8 228.7h0M456.7 230.3h0M515.2 197.9h0M483.6 184.8h0M457.7 200.6h0M521.3 218.2h0M458.9 206.6h0M519.5 209.7h0M500.8 226.4h0M477.7 204.9h0M465.1 194.3h0M478.1 239.6h0M509.2 236.9h0M466.1 249.4h0M454.7 215.4h0M471.6 240.9h0M485.1 247.3h0M498.9 204.1h0M493 202.8h0M473.9 231.2h0M476 226h0M466.7 208h0M488.9 223.2h0M495.6 218.1h0M473.4 189h0M464.8 236h0M502.5 248.3h0M470.7 206.1h0M505 207.3h0M485.4 242.7h0M484.9 243.5h0M507 197.4h0M461.8 234.7h0M469.8 244.6h0M497.3 197.3h0M498.6 190.8h0M461.7 220.7h0M499.5 235.6h0M464.1 192.8h0M494.6 207.3h0M469.6 211.6h0M505.4 237.2h0M514.2 214.9h0M466 197.1h0M467.8 233h0M477.8 210.6h0M452.7 219.4h0M498.3 185.2h0M516 232.8h0M499.3 241.4h0M511.9 229.8h0M507.8 215.9h0M472.4 207.6h0M494.2 237.7h0M467.6 245.1h0M469.7 215.9h0M464.8 245.7h0M507.3 219.3h0M484.1 219.6h0M470.3 214.4h0M473 198.5h0M462.4 219.9h0M471.1 224.9h0M493 219.2h0M500.9 247.4h0M511.8 212.9h0M460.9 243.6h0M487.9 220h0M488.9 207.2h0M490.9 185.3h0M482.9 215.6h0M490.5 194h0M495.6 206.1h0M481 211.4h0M479.7 184.7h0M485.9 209.5h0M488.5 223.1h0M484 224h0M484.4 225h0M488 220.1h0M486 222.5h0M490.3 211.8h0M491.3 229.5h0M491.2 226.9h0M484.5 210.3h0M467.9 215h0M475.3 216h0M475.7 227h0M491.8 213.6h0M476.7 226.1h0M485.1 212.8h0M482.9 214.6h0M470.2 214.3h0M489.8 207.5h0M475.4 215h0M476.5 212h0M482.1 220.5h0M485.2 213.9h0M481.8 224.3h0M475.6 225.2h0M485.3 221.8h0M472.4 216.7h0M483.5 216.1h0M495.7 229.7h0M496.3 219.8h0M484.5 220h0M480.1 231.7h0M488.2 208h0M501.2 226.8h0M477.4 227.9h0M486.9 234.4h0" stroke="#463cc2" stroke-width="2" stroke-linecap="round" fill="none" opacity="0.9"/>
</g>
<circle cx="566.3" cy="218.3" r="36.9" fill="#bfc2c0"/>
<g clip-path="url(#cp6)">
<circle cx="566.3" cy="218.3" r="36.3" fill="none" stroke="#a3a6a4" stroke-width="1.6" opacity="0.6"/>
<path d="M563.2 227.4h0M587.1 220h0M574.4 218.2h0M577.5 241.1h0M541.4 228.2h0M582.8 215.5h0M593.3 213.5h0M572.7 218.5h0M574.5 224.5h0M564.5 182.7h0M537.5 235.5h0M566.1 208.1h0M594.6 228.6h0M570.6 246.6h0M578.6 193.6h0M561.8 204.4h0M557.7 201.7h0M570.7 236.7h0M593.2 238.1h0M591.3 223.3h0M537.7 210.2h0M570.2 193.5h0M549.9 224.7h0M571.2 219.6h0M596.2 201.9h0M577 249.8h0M545.6 245.3h0M556 218.3h0M562.6 233.3h0M571.2 211.1h0M592.6 209h0M569.6 201.7h0M558.9 203.6h0M545.9 244.5h0M573.2 208.6h0M543.6 216.1h0M537.7 208.7h0M535.8 206.9h0M578 197.2h0M564.4 213.4h0M577.8 236h0M589.2 230.2h0M592.8 225.3h0M546.6 232.9h0M547.4 216.7h0M541.3 232.4h0M536.8 206.2h0M564.2 193.6h0M552.2 237.1h0M561 244h0M591.3 210.6h0M573.4 207.6h0M571 203.4h0M572.3 233.4h0M594.1 209.9h0M545.1 224.9h0M560.1 184.5h0M560.6 218.6h0M549.4 215h0M582.1 199.5h0" stroke="#3a32b8" stroke-width="1" stroke-linecap="round" fill="none" opacity="0.9"/><path d="M556.4 216.9h0M547.1 211.6h0M577.7 211.1h0M566.5 189.8h0M545.4 213h0M552.3 218.2h0M559.3 210.5h0M582 227.7h0M548.6 212.5h0M552.3 198.4h0M558.8 206.5h0M568.6 183.8h0M574 225.3h0M534.1 227.8h0M534.7 207.4h0M596.3 202.8h0M577.1 228.4h0M582.4 243.7h0M542.5 238.3h0M556.5 200.2h0M594.5 217.7h0M564 204.5h0M569.6 229.1h0M596.3 226.5h0M569 235.3h0M553.7 213.8h0M560.5 229.6h0M551.9 212.2h0M549.4 209.1h0M539.7 217.6h0M550.4 230.3h0M562.3 202.7h0M599.6 230.8h0M557.5 240.9h0M596.7 211.8h0M581.7 202.2h0M596.7 211.7h0M563.5 238.5h0M543.2 204h0M583.7 248.6h0M573.7 245.6h0M572 219.4h0M573.5 236.9h0M551.2 249.1h0M569.9 208.6h0M576.7 251.2h0M564.4 211.7h0M564.1 218h0M568.7 222.7h0M571.6 194.8h0M585.6 210.7h0M539.6 224.9h0M565.8 204.8h0M545.5 217.5h0M554.2 197.1h0M579.5 206.5h0M582.9 220.9h0M573.3 221.4h0M551.2 192.3h0M569.8 211.7h0M590.6 212.4h0M586.1 237.6h0M577 209.8h0M566.2 242.5h0" stroke="#3a32b8" stroke-width="1.5" stroke-linecap="round" fill="none" opacity="0.9"/><path d="M559.8 229.6h0M555.4 212.8h0M552.2 215.5h0M561.6 242.7h0M532 227.3h0M542.6 212.4h0M559.8 224.7h0M593.3 241.2h0M561.4 193.3h0M594.6 196.9h0M568 192.9h0M590.6 240.6h0M565.6 192.6h0M537.8 219.5h0M556.3 205.1h0M587.5 234.1h0M573.9 237.8h0M586.4 230.2h0M573.8 234h0M564.1 207.1h0M587.8 214.7h0M565 229.6h0M552.4 245.4h0M545.2 207.9h0M568.2 226.6h0M581.5 224.2h0M569.3 208.5h0M557.8 219.3h0M547.8 201h0M578.8 194.5h0M566.4 222.5h0M564.4 218.9h0M548.7 211.6h0M567.8 228.7h0M582.5 197.9h0M561.4 219.2h0M587 230.8h0M577.1 189.2h0M553.3 219.4h0M555.3 212.1h0M556.8 200h0M596.9 232.8h0M545.4 201.8h0M546.9 206.7h0M590.8 216.2h0M558.6 201.2h0M564.5 196.5h0M537.9 215.9h0M584.1 234.8h0M544.4 243.3h0M578.1 218.6h0M559 239.8h0M546.1 207.1h0M594.9 200.6h0M550.7 204.9h0M571 206.4h0M561.4 216.9h0M560 243h0M596.6 219.2h0M557.8 225h0M554.2 187.9h0M562.7 219.6h0M567.1 210.5h0M556.3 211.9h0M595.2 221.1h0M566.4 182.6h0M563.2 233.8h0M574.8 244.8h0M596.2 223.8h0M567.6 204.4h0M543.4 232.8h0" stroke="#3a32b8" stroke-width="2" stroke-linecap="round" fill="none" opacity="0.9"/><path d="M551.6 191.3h0M562.7 242.4h0M554.5 221h0M599.1 226.2h0" stroke="#3a32b8" stroke-width="2.5" stroke-linecap="round" fill="none" opacity="0.9"/>
</g>
<line x1="641.5" y1="20.1" x2="641.5" y2="79.3" stroke="#111" stroke-width="1.1"/>
<line x1="638.5" y1="79.3" x2="641.5" y2="79.3" stroke="#111" stroke-width="1.1"/>
<text x="637.5" y="81.3" style="font-size:5.8px;" text-anchor="end">0</text>
<line x1="638.5" y1="59.6" x2="641.5" y2="59.6" stroke="#111" stroke-width="1.1"/>
<text x="637.5" y="61.6" style="font-size:5.8px;" text-anchor="end">50</text>
<line x1="638.5" y1="39.8" x2="641.5" y2="39.8" stroke="#111" stroke-width="1.1"/>
<text x="637.5" y="41.8" style="font-size:5.8px;" text-anchor="end">100</text>
<line x1="638.5" y1="20.1" x2="641.5" y2="20.1" stroke="#111" stroke-width="1.1"/>
<text x="637.5" y="22.1" style="font-size:5.8px;" text-anchor="end">150</text>
<line x1="641" y1="79.3" x2="683" y2="79.3" stroke="#111" stroke-width="1.1"/>
<rect x="648.1" y="41.8" width="10.5" height="37.5" fill="url(#pmb)" stroke="#123f88" stroke-width="1.5"/>
<line x1="653.4" y1="37.1" x2="653.4" y2="41" stroke="#123f88" stroke-width="1.3"/>
<line x1="650.2" y1="37.1" x2="656.6" y2="37.1" stroke="#123f88" stroke-width="1.3"/>
<line x1="653.4" y1="79.3" x2="653.4" y2="81.5" stroke="#111" stroke-width="1.0"/>
<rect x="665.9" y="65.8" width="10.5" height="13.5" fill="url(#pmo)" stroke="#f7931e" stroke-width="1.5"/>
<line x1="667.9" y1="64.5" x2="674.3" y2="64.5" stroke="#f7931e" stroke-width="1.3"/>
<line x1="671.1" y1="79.3" x2="671.1" y2="81.5" stroke="#111" stroke-width="1.0"/>
<polyline points="653.4,33.4 653.4,24.2 671.1,24.2 671.1,59.3" fill="none" stroke="#333" stroke-width="0.9"/>
<text x="662.2" y="23.8" style="font-size:7.4px;" text-anchor="middle">**</text>
<text x="653.1" y="88.2" style="font-size:4.8px;" text-anchor="middle">ASO-NC</text>
<text x="672.1" y="88.2" style="font-size:4.8px;" text-anchor="middle">ASO#2</text>
<text x="624.8" y="49.7" style="font-size:5.9px;" text-anchor="middle" transform="rotate(-90 624.8 49.7)">Number of cell clones</text>
<line x1="638.9" y1="105.4" x2="638.9" y2="164.2" stroke="#111" stroke-width="1.1"/>
<line x1="635.9" y1="164.2" x2="638.9" y2="164.2" stroke="#111" stroke-width="1.1"/>
<text x="634.9" y="166.2" style="font-size:5.8px;" text-anchor="end">0</text>
<line x1="635.9" y1="152.4" x2="638.9" y2="152.4" stroke="#111" stroke-width="1.1"/>
<text x="634.9" y="154.4" style="font-size:5.8px;" text-anchor="end">100</text>
<line x1="635.9" y1="140.7" x2="638.9" y2="140.7" stroke="#111" stroke-width="1.1"/>
<text x="634.9" y="142.7" style="font-size:5.8px;" text-anchor="end">200</text>
<line x1="635.9" y1="128.9" x2="638.9" y2="128.9" stroke="#111" stroke-width="1.1"/>
<text x="634.9" y="130.9" style="font-size:5.8px;" text-anchor="end">300</text>
<line x1="635.9" y1="117.2" x2="638.9" y2="117.2" stroke="#111" stroke-width="1.1"/>
<text x="634.9" y="119.2" style="font-size:5.8px;" text-anchor="end">400</text>
<line x1="635.9" y1="105.4" x2="638.9" y2="105.4" stroke="#111" stroke-width="1.1"/>
<text x="634.9" y="107.4" style="font-size:5.8px;" text-anchor="end">500</text>
<line x1="638.4" y1="164.2" x2="680.4" y2="164.2" stroke="#111" stroke-width="1.1"/>
<rect x="645.5" y="114.4" width="10.5" height="49.8" fill="url(#pmb)" stroke="#123f88" stroke-width="1.5"/>
<line x1="650.8" y1="109.9" x2="650.8" y2="113.6" stroke="#123f88" stroke-width="1.3"/>
<line x1="647.6" y1="109.9" x2="654" y2="109.9" stroke="#123f88" stroke-width="1.3"/>
<line x1="650.8" y1="164.2" x2="650.8" y2="166.4" stroke="#111" stroke-width="1.0"/>
<rect x="663.2" y="157" width="10.5" height="7.2" fill="url(#pmo)" stroke="#f7931e" stroke-width="1.5"/>
<line x1="668.5" y1="154.8" x2="668.5" y2="156.2" stroke="#f7931e" stroke-width="1.3"/>
<line x1="665.3" y1="154.8" x2="671.7" y2="154.8" stroke="#f7931e" stroke-width="1.3"/>
<line x1="668.5" y1="164.2" x2="668.5" y2="166.4" stroke="#111" stroke-width="1.0"/>
<polyline points="650.8,108.5 650.8,102.3 668.5,102.3 668.5,150.4" fill="none" stroke="#333" stroke-width="0.9"/>
<text x="659.6" y="101.9" style="font-size:7.4px;" text-anchor="middle">**</text>
<text x="650.5" y="172.6" style="font-size:4.8px;" text-anchor="middle">ASO-NC</text>
<text x="669.5" y="172.6" style="font-size:4.8px;" text-anchor="middle">ASO#2</text>
<text x="622" y="134.8" style="font-size:5.9px;" text-anchor="middle" transform="rotate(-90 622 134.8)">Number of cell clones</text>
<line x1="638.7" y1="188.7" x2="638.7" y2="247.9" stroke="#111" stroke-width="1.1"/>
<line x1="635.7" y1="247.9" x2="638.7" y2="247.9" stroke="#111" stroke-width="1.1"/>
<text x="634.7" y="249.9" style="font-size:5.8px;" text-anchor="end">0</text>
<line x1="635.7" y1="233.1" x2="638.7" y2="233.1" stroke="#111" stroke-width="1.1"/>
<text x="634.7" y="235.1" style="font-size:5.8px;" text-anchor="end">100</text>
<line x1="635.7" y1="218.3" x2="638.7" y2="218.3" stroke="#111" stroke-width="1.1"/>
<text x="634.7" y="220.3" style="font-size:5.8px;" text-anchor="end">200</text>
<line x1="635.7" y1="203.5" x2="638.7" y2="203.5" stroke="#111" stroke-width="1.1"/>
<text x="634.7" y="205.5" style="font-size:5.8px;" text-anchor="end">300</text>
<line x1="635.7" y1="188.7" x2="638.7" y2="188.7" stroke="#111" stroke-width="1.1"/>
<text x="634.7" y="190.7" style="font-size:5.8px;" text-anchor="end">400</text>
<line x1="638.2" y1="247.9" x2="680.2" y2="247.9" stroke="#111" stroke-width="1.1"/>
<rect x="645.4" y="196.8" width="10.5" height="51.1" fill="url(#pmb)" stroke="#123f88" stroke-width="1.5"/>
<line x1="650.6" y1="193.7" x2="650.6" y2="196.1" stroke="#123f88" stroke-width="1.3"/>
<line x1="647.4" y1="193.7" x2="653.8" y2="193.7" stroke="#123f88" stroke-width="1.3"/>
<line x1="650.6" y1="247.9" x2="650.6" y2="250.1" stroke="#111" stroke-width="1.0"/>
<rect x="663.1" y="223.8" width="10.5" height="24.1" fill="url(#pmo)" stroke="#f7931e" stroke-width="1.5"/>
<line x1="668.3" y1="219.3" x2="668.3" y2="223" stroke="#f7931e" stroke-width="1.3"/>
<line x1="665.1" y1="219.3" x2="671.5" y2="219.3" stroke="#f7931e" stroke-width="1.3"/>
<line x1="668.3" y1="247.9" x2="668.3" y2="250.1" stroke="#111" stroke-width="1.0"/>
<polyline points="650.6,192 650.6,186.1 668.3,186.1 668.3,214.8" fill="none" stroke="#333" stroke-width="0.9"/>
<text x="659.5" y="185.7" style="font-size:7.4px;" text-anchor="middle">**</text>
<text x="650.3" y="256.6" style="font-size:4.8px;" text-anchor="middle">ASO-NC</text>
<text x="669.3" y="256.6" style="font-size:4.8px;" text-anchor="middle">ASO#2</text>
<text x="622" y="218.3" style="font-size:5.9px;" text-anchor="middle" transform="rotate(-90 622 218.3)">Number of cell clones</text>
<line x1="41.5" y1="306.1" x2="41.5" y2="415.4" stroke="#111" stroke-width="1.3"/>
<line x1="37.5" y1="415.4" x2="41.5" y2="415.4" stroke="#111" stroke-width="1.3"/>
<text x="35.9" y="418.4" style="font-size:8.8px;" text-anchor="end">0</text>
<line x1="37.5" y1="393.5" x2="41.5" y2="393.5" stroke="#111" stroke-width="1.3"/>
<text x="35.9" y="396.6" style="font-size:8.8px;" text-anchor="end">5</text>
<line x1="37.5" y1="371.7" x2="41.5" y2="371.7" stroke="#111" stroke-width="1.3"/>
<text x="35.9" y="374.7" style="font-size:8.8px;" text-anchor="end">10</text>
<line x1="37.5" y1="349.8" x2="41.5" y2="349.8" stroke="#111" stroke-width="1.3"/>
<text x="35.9" y="352.9" style="font-size:8.8px;" text-anchor="end">15</text>
<line x1="37.5" y1="328" x2="41.5" y2="328" stroke="#111" stroke-width="1.3"/>
<text x="35.9" y="331" style="font-size:8.8px;" text-anchor="end">20</text>
<line x1="37.5" y1="306.1" x2="41.5" y2="306.1" stroke="#111" stroke-width="1.3"/>
<text x="35.9" y="309.2" style="font-size:8.8px;" text-anchor="end">25</text>
<line x1="40.9" y1="415.4" x2="205.6" y2="415.4" stroke="#111" stroke-width="1.3"/>
<line x1="52" y1="415.4" x2="52" y2="419.2" stroke="#111" stroke-width="1.2"/>
<text x="52" y="429.6" style="font-size:8.6px;" text-anchor="middle">0</text>
<line x1="72.5" y1="415.4" x2="72.5" y2="419.2" stroke="#111" stroke-width="1.2"/>
<text x="72.5" y="429.6" style="font-size:8.6px;" text-anchor="middle">1</text>
<line x1="93.1" y1="415.4" x2="93.1" y2="419.2" stroke="#111" stroke-width="1.2"/>
<text x="93.1" y="429.6" style="font-size:8.6px;" text-anchor="middle">2</text>
<line x1="113.6" y1="415.4" x2="113.6" y2="419.2" stroke="#111" stroke-width="1.2"/>
<text x="113.6" y="429.6" style="font-size:8.6px;" text-anchor="middle">3</text>
<line x1="134.1" y1="415.4" x2="134.1" y2="419.2" stroke="#111" stroke-width="1.2"/>
<text x="134.1" y="429.6" style="font-size:8.6px;" text-anchor="middle">4</text>
<line x1="154.7" y1="415.4" x2="154.7" y2="419.2" stroke="#111" stroke-width="1.2"/>
<text x="154.7" y="429.6" style="font-size:8.6px;" text-anchor="middle">5</text>
<line x1="175.2" y1="415.4" x2="175.2" y2="419.2" stroke="#111" stroke-width="1.2"/>
<text x="175.2" y="429.6" style="font-size:8.6px;" text-anchor="middle">6</text>
<line x1="195.7" y1="415.4" x2="195.7" y2="419.2" stroke="#111" stroke-width="1.2"/>
<text x="195.7" y="429.6" style="font-size:8.6px;" text-anchor="middle">7</text>
<text x="206" y="429.6" style="font-size:8.6px;">Days</text>
<polyline points="52,411.5 72.5,410.8 93.1,408.4 113.6,405.2 134.1,401.9 154.7,399.7 175.2,396.2 195.7,386.6" fill="none" stroke="#f9a24c" stroke-width="1.5"/>
<rect x="49.8" y="409.3" width="4.4" height="4.4" fill="#f9a24c"/>
<rect x="70.3" y="408.6" width="4.4" height="4.4" fill="#f9a24c"/>
<rect x="90.9" y="406.2" width="4.4" height="4.4" fill="#f9a24c"/>
<rect x="111.4" y="403" width="4.4" height="4.4" fill="#f9a24c"/>
<rect x="131.9" y="399.7" width="4.4" height="4.4" fill="#f9a24c"/>
<line x1="154.7" y1="396.6" x2="154.7" y2="402.7" stroke="#f9a24c" stroke-width="1.0"/>
<line x1="152.3" y1="396.6" x2="157" y2="396.6" stroke="#f9a24c" stroke-width="1.0"/>
<line x1="152.3" y1="402.7" x2="157" y2="402.7" stroke="#f9a24c" stroke-width="1.0"/>
<rect x="152.5" y="397.5" width="4.4" height="4.4" fill="#f9a24c"/>
<line x1="175.2" y1="390.1" x2="175.2" y2="402.3" stroke="#f9a24c" stroke-width="1.0"/>
<line x1="172.9" y1="390.1" x2="177.5" y2="390.1" stroke="#f9a24c" stroke-width="1.0"/>
<line x1="172.9" y1="402.3" x2="177.5" y2="402.3" stroke="#f9a24c" stroke-width="1.0"/>
<rect x="173" y="394" width="4.4" height="4.4" fill="#f9a24c"/>
<line x1="195.7" y1="383.1" x2="195.7" y2="390.1" stroke="#f9a24c" stroke-width="1.0"/>
<line x1="193.4" y1="383.1" x2="198" y2="383.1" stroke="#f9a24c" stroke-width="1.0"/>
<line x1="193.4" y1="390.1" x2="198" y2="390.1" stroke="#f9a24c" stroke-width="1.0"/>
<rect x="193.5" y="384.4" width="4.4" height="4.4" fill="#f9a24c"/>
<polyline points="52,411 72.5,407.8 93.1,405.3 113.6,397.6 134.1,389.6 154.7,372.1 175.2,368.2 195.7,331.1" fill="none" stroke="#1f4f97" stroke-width="1.5"/>
<circle cx="52" cy="411" r="2.3" fill="#1f4f97"/>
<circle cx="72.5" cy="407.8" r="2.3" fill="#1f4f97"/>
<circle cx="93.1" cy="405.3" r="2.3" fill="#1f4f97"/>
<circle cx="113.6" cy="397.6" r="2.3" fill="#1f4f97"/>
<line x1="134.1" y1="386.1" x2="134.1" y2="393.1" stroke="#1f4f97" stroke-width="1.0"/>
<line x1="131.8" y1="386.1" x2="136.4" y2="386.1" stroke="#1f4f97" stroke-width="1.0"/>
<line x1="131.8" y1="393.1" x2="136.4" y2="393.1" stroke="#1f4f97" stroke-width="1.0"/>
<circle cx="134.1" cy="389.6" r="2.3" fill="#1f4f97"/>
<circle cx="154.7" cy="372.1" r="2.3" fill="#1f4f97"/>
<circle cx="175.2" cy="368.2" r="2.3" fill="#1f4f97"/>
<line x1="195.7" y1="327.1" x2="195.7" y2="335" stroke="#1f4f97" stroke-width="1.0"/>
<line x1="193.4" y1="327.1" x2="198" y2="327.1" stroke="#1f4f97" stroke-width="1.0"/>
<line x1="193.4" y1="335" x2="198" y2="335" stroke="#1f4f97" stroke-width="1.0"/>
<circle cx="195.7" cy="331.1" r="2.3" fill="#1f4f97"/>
<text x="113.6" y="394.5" style="font-size:8.8px;" text-anchor="middle">**</text>
<text x="134.1" y="383.9" style="font-size:8.8px;" text-anchor="middle">**</text>
<text x="154.7" y="367.1" style="font-size:8.8px;" text-anchor="middle">**</text>
<text x="175.2" y="363.4" style="font-size:8.8px;" text-anchor="middle">**</text>
<text x="195.7" y="325" style="font-size:8.8px;" text-anchor="middle">**</text>
<text x="125.9" y="298.6" style="font-size:10.2px;" text-anchor="middle">HEY</text>
<text x="21.5" y="360.6" style="font-size:8.7px;" text-anchor="middle" transform="rotate(-90 21.5 360.6)">Relative cell viability</text>
<line x1="53.7" y1="323.5" x2="66.5" y2="323.5" stroke="#1f4f97" stroke-width="1.5"/>
<circle cx="60.1" cy="323.5" r="2.3" fill="#1f4f97"/>
<line x1="53.7" y1="337.2" x2="66.5" y2="337.2" stroke="#f9a24c" stroke-width="1.5"/>
<rect x="57.9" y="335" width="4.4" height="4.4" fill="#f9a24c"/>
<text x="72.6" y="326.6" style="font-size:8.9px;font-weight:normal;">ASO-NC</text>
<text x="72.6" y="340.3" style="font-size:8.9px;font-weight:normal;">ASO#2</text>
<line x1="270.6" y1="306.1" x2="270.6" y2="415.4" stroke="#111" stroke-width="1.3"/>
<line x1="266.6" y1="415.4" x2="270.6" y2="415.4" stroke="#111" stroke-width="1.3"/>
<text x="265" y="418.4" style="font-size:8.8px;" text-anchor="end">0</text>
<line x1="266.6" y1="393.5" x2="270.6" y2="393.5" stroke="#111" stroke-width="1.3"/>
<text x="265" y="396.6" style="font-size:8.8px;" text-anchor="end">5</text>
<line x1="266.6" y1="371.7" x2="270.6" y2="371.7" stroke="#111" stroke-width="1.3"/>
<text x="265" y="374.7" style="font-size:8.8px;" text-anchor="end">10</text>
<line x1="266.6" y1="349.8" x2="270.6" y2="349.8" stroke="#111" stroke-width="1.3"/>
<text x="265" y="352.9" style="font-size:8.8px;" text-anchor="end">15</text>
<line x1="266.6" y1="328" x2="270.6" y2="328" stroke="#111" stroke-width="1.3"/>
<text x="265" y="331" style="font-size:8.8px;" text-anchor="end">20</text>
<line x1="266.6" y1="306.1" x2="270.6" y2="306.1" stroke="#111" stroke-width="1.3"/>
<text x="265" y="309.2" style="font-size:8.8px;" text-anchor="end">25</text>
<line x1="270" y1="415.4" x2="435" y2="415.4" stroke="#111" stroke-width="1.3"/>
<line x1="281.3" y1="415.4" x2="281.3" y2="419.2" stroke="#111" stroke-width="1.2"/>
<text x="281.3" y="429.6" style="font-size:8.6px;" text-anchor="middle">0</text>
<line x1="301.8" y1="415.4" x2="301.8" y2="419.2" stroke="#111" stroke-width="1.2"/>
<text x="301.8" y="429.6" style="font-size:8.6px;" text-anchor="middle">1</text>
<line x1="322.3" y1="415.4" x2="322.3" y2="419.2" stroke="#111" stroke-width="1.2"/>
<text x="322.3" y="429.6" style="font-size:8.6px;" text-anchor="middle">2</text>
<line x1="342.8" y1="415.4" x2="342.8" y2="419.2" stroke="#111" stroke-width="1.2"/>
<text x="342.8" y="429.6" style="font-size:8.6px;" text-anchor="middle">3</text>
<line x1="363.3" y1="415.4" x2="363.3" y2="419.2" stroke="#111" stroke-width="1.2"/>
<text x="363.3" y="429.6" style="font-size:8.6px;" text-anchor="middle">4</text>
<line x1="383.8" y1="415.4" x2="383.8" y2="419.2" stroke="#111" stroke-width="1.2"/>
<text x="383.8" y="429.6" style="font-size:8.6px;" text-anchor="middle">5</text>
<line x1="404.3" y1="415.4" x2="404.3" y2="419.2" stroke="#111" stroke-width="1.2"/>
<text x="404.3" y="429.6" style="font-size:8.6px;" text-anchor="middle">6</text>
<line x1="424.8" y1="415.4" x2="424.8" y2="419.2" stroke="#111" stroke-width="1.2"/>
<text x="424.8" y="429.6" style="font-size:8.6px;" text-anchor="middle">7</text>
<text x="435.3" y="429.6" style="font-size:8.6px;">Days</text>
<polyline points="281.3,411.5 301.8,410.2 322.3,409.3 342.8,407.1 363.3,404 383.8,402.1 404.3,401.6 424.8,393.1" fill="none" stroke="#f9a24c" stroke-width="1.5"/>
<rect x="279.1" y="409.3" width="4.4" height="4.4" fill="#f9a24c"/>
<rect x="299.6" y="408" width="4.4" height="4.4" fill="#f9a24c"/>
<rect x="320.1" y="407.1" width="4.4" height="4.4" fill="#f9a24c"/>
<rect x="340.6" y="404.9" width="4.4" height="4.4" fill="#f9a24c"/>
<rect x="361.1" y="401.8" width="4.4" height="4.4" fill="#f9a24c"/>
<rect x="381.6" y="399.9" width="4.4" height="4.4" fill="#f9a24c"/>
<line x1="404.3" y1="398.1" x2="404.3" y2="405.1" stroke="#f9a24c" stroke-width="1.0"/>
<line x1="402" y1="398.1" x2="406.6" y2="398.1" stroke="#f9a24c" stroke-width="1.0"/>
<line x1="402" y1="405.1" x2="406.6" y2="405.1" stroke="#f9a24c" stroke-width="1.0"/>
<rect x="402.1" y="399.4" width="4.4" height="4.4" fill="#f9a24c"/>
<line x1="424.8" y1="389.2" x2="424.8" y2="397" stroke="#f9a24c" stroke-width="1.0"/>
<line x1="422.5" y1="389.2" x2="427.1" y2="389.2" stroke="#f9a24c" stroke-width="1.0"/>
<line x1="422.5" y1="397" x2="427.1" y2="397" stroke="#f9a24c" stroke-width="1.0"/>
<rect x="422.6" y="390.9" width="4.4" height="4.4" fill="#f9a24c"/>
<polyline points="281.3,411 301.8,408.4 322.3,406 342.8,396.6 363.3,395.5 383.8,370.4 404.3,354.4 424.8,319.9" fill="none" stroke="#1f4f97" stroke-width="1.5"/>
<circle cx="281.3" cy="411" r="2.3" fill="#1f4f97"/>
<circle cx="301.8" cy="408.4" r="2.3" fill="#1f4f97"/>
<circle cx="322.3" cy="406" r="2.3" fill="#1f4f97"/>
<line x1="342.8" y1="393.5" x2="342.8" y2="399.7" stroke="#1f4f97" stroke-width="1.0"/>
<line x1="340.5" y1="393.5" x2="345.1" y2="393.5" stroke="#1f4f97" stroke-width="1.0"/>
<line x1="340.5" y1="399.7" x2="345.1" y2="399.7" stroke="#1f4f97" stroke-width="1.0"/>
<circle cx="342.8" cy="396.6" r="2.3" fill="#1f4f97"/>
<circle cx="363.3" cy="395.5" r="2.3" fill="#1f4f97"/>
<circle cx="383.8" cy="370.4" r="2.3" fill="#1f4f97"/>
<line x1="404.3" y1="351.4" x2="404.3" y2="357.5" stroke="#1f4f97" stroke-width="1.0"/>
<line x1="402" y1="351.4" x2="406.6" y2="351.4" stroke="#1f4f97" stroke-width="1.0"/>
<line x1="402" y1="357.5" x2="406.6" y2="357.5" stroke="#1f4f97" stroke-width="1.0"/>
<circle cx="404.3" cy="354.4" r="2.3" fill="#1f4f97"/>
<line x1="424.8" y1="316" x2="424.8" y2="323.8" stroke="#1f4f97" stroke-width="1.0"/>
<line x1="422.5" y1="316" x2="427.1" y2="316" stroke="#1f4f97" stroke-width="1.0"/>
<line x1="422.5" y1="323.8" x2="427.1" y2="323.8" stroke="#1f4f97" stroke-width="1.0"/>
<circle cx="424.8" cy="319.9" r="2.3" fill="#1f4f97"/>
<text x="342.8" y="390.7" style="font-size:8.8px;" text-anchor="middle">**</text>
<text x="363.3" y="383.6" style="font-size:8.8px;" text-anchor="middle">**</text>
<text x="383.8" y="365.4" style="font-size:8.8px;" text-anchor="middle">**</text>
<text x="404.3" y="338.1" style="font-size:8.8px;" text-anchor="middle">**</text>
<text x="424.8" y="309.8" style="font-size:8.8px;" text-anchor="middle">**</text>
<text x="352.6" y="298.6" style="font-size:10.2px;" text-anchor="middle">SKOV3</text>
<text x="249.8" y="360.6" style="font-size:8.7px;" text-anchor="middle" transform="rotate(-90 249.8 360.6)">Relative cell viability</text>
<line x1="283.6" y1="323.5" x2="296.4" y2="323.5" stroke="#1f4f97" stroke-width="1.5"/>
<circle cx="290" cy="323.5" r="2.3" fill="#1f4f97"/>
<line x1="283.6" y1="337.2" x2="296.4" y2="337.2" stroke="#f9a24c" stroke-width="1.5"/>
<rect x="287.8" y="335" width="4.4" height="4.4" fill="#f9a24c"/>
<text x="301.2" y="326.6" style="font-size:8.9px;font-weight:normal;">ASO-NC</text>
<text x="301.2" y="340.3" style="font-size:8.9px;font-weight:normal;">ASO#2</text>
<line x1="499.9" y1="306" x2="499.9" y2="415.4" stroke="#111" stroke-width="1.3"/>
<line x1="495.9" y1="415.4" x2="499.9" y2="415.4" stroke="#111" stroke-width="1.3"/>
<text x="494.3" y="418.4" style="font-size:8.8px;" text-anchor="end">0</text>
<line x1="495.9" y1="393.5" x2="499.9" y2="393.5" stroke="#111" stroke-width="1.3"/>
<text x="494.3" y="396.5" style="font-size:8.8px;" text-anchor="end">2</text>
<line x1="495.9" y1="371.6" x2="499.9" y2="371.6" stroke="#111" stroke-width="1.3"/>
<text x="494.3" y="374.7" style="font-size:8.8px;" text-anchor="end">4</text>
<line x1="495.9" y1="349.8" x2="499.9" y2="349.8" stroke="#111" stroke-width="1.3"/>
<text x="494.3" y="352.8" style="font-size:8.8px;" text-anchor="end">6</text>
<line x1="495.9" y1="327.9" x2="499.9" y2="327.9" stroke="#111" stroke-width="1.3"/>
<text x="494.3" y="330.9" style="font-size:8.8px;" text-anchor="end">8</text>
<line x1="495.9" y1="306" x2="499.9" y2="306" stroke="#111" stroke-width="1.3"/>
<text x="494.3" y="309" style="font-size:8.8px;" text-anchor="end">10</text>
<line x1="499.3" y1="415.4" x2="665" y2="415.4" stroke="#111" stroke-width="1.3"/>
<line x1="511.4" y1="415.4" x2="511.4" y2="419.2" stroke="#111" stroke-width="1.2"/>
<text x="511.4" y="429.6" style="font-size:8.6px;" text-anchor="middle">0</text>
<line x1="534.9" y1="415.4" x2="534.9" y2="419.2" stroke="#111" stroke-width="1.2"/>
<text x="534.9" y="429.6" style="font-size:8.6px;" text-anchor="middle">1</text>
<line x1="558.4" y1="415.4" x2="558.4" y2="419.2" stroke="#111" stroke-width="1.2"/>
<text x="558.4" y="429.6" style="font-size:8.6px;" text-anchor="middle">2</text>
<line x1="582" y1="415.4" x2="582" y2="419.2" stroke="#111" stroke-width="1.2"/>
<text x="582" y="429.6" style="font-size:8.6px;" text-anchor="middle">3</text>
<line x1="605.5" y1="415.4" x2="605.5" y2="419.2" stroke="#111" stroke-width="1.2"/>
<text x="605.5" y="429.6" style="font-size:8.6px;" text-anchor="middle">4</text>
<line x1="629" y1="415.4" x2="629" y2="419.2" stroke="#111" stroke-width="1.2"/>
<text x="629" y="429.6" style="font-size:8.6px;" text-anchor="middle">5</text>
<line x1="652.5" y1="415.4" x2="652.5" y2="419.2" stroke="#111" stroke-width="1.2"/>
<text x="652.5" y="429.6" style="font-size:8.6px;" text-anchor="middle">6</text>
<text x="665.4" y="429.6" style="font-size:8.6px;">Days</text>
<polyline points="511.4,404.5 534.9,390.8 558.4,382.6 582,373.1 605.5,361.6 629,350.5 652.5,343.9" fill="none" stroke="#f9a24c" stroke-width="1.5"/>
<rect x="509.2" y="402.3" width="4.4" height="4.4" fill="#f9a24c"/>
<rect x="532.7" y="388.6" width="4.4" height="4.4" fill="#f9a24c"/>
<rect x="556.2" y="380.4" width="4.4" height="4.4" fill="#f9a24c"/>
<rect x="579.8" y="370.9" width="4.4" height="4.4" fill="#f9a24c"/>
<line x1="605.5" y1="356.1" x2="605.5" y2="367" stroke="#f9a24c" stroke-width="1.0"/>
<line x1="603.2" y1="356.1" x2="607.8" y2="356.1" stroke="#f9a24c" stroke-width="1.0"/>
<line x1="603.2" y1="367" x2="607.8" y2="367" stroke="#f9a24c" stroke-width="1.0"/>
<rect x="603.3" y="359.4" width="4.4" height="4.4" fill="#f9a24c"/>
<line x1="629" y1="342.3" x2="629" y2="358.7" stroke="#f9a24c" stroke-width="1.0"/>
<line x1="626.7" y1="342.3" x2="631.3" y2="342.3" stroke="#f9a24c" stroke-width="1.0"/>
<line x1="626.7" y1="358.7" x2="631.3" y2="358.7" stroke="#f9a24c" stroke-width="1.0"/>
<rect x="626.8" y="348.3" width="4.4" height="4.4" fill="#f9a24c"/>
<line x1="652.5" y1="339.5" x2="652.5" y2="348.2" stroke="#f9a24c" stroke-width="1.0"/>
<line x1="650.2" y1="339.5" x2="654.8" y2="339.5" stroke="#f9a24c" stroke-width="1.0"/>
<line x1="650.2" y1="348.2" x2="654.8" y2="348.2" stroke="#f9a24c" stroke-width="1.0"/>
<rect x="650.3" y="341.7" width="4.4" height="4.4" fill="#f9a24c"/>
<polyline points="511.4,404.5 534.9,386.8 558.4,370.7 582,348.8 605.5,342.1 629,319.3 652.5,326.3" fill="none" stroke="#1f4f97" stroke-width="1.5"/>
<circle cx="511.4" cy="404.5" r="2.3" fill="#1f4f97"/>
<circle cx="534.9" cy="386.8" r="2.3" fill="#1f4f97"/>
<circle cx="558.4" cy="370.7" r="2.3" fill="#1f4f97"/>
<circle cx="582" cy="348.8" r="2.3" fill="#1f4f97"/>
<line x1="605.5" y1="337.7" x2="605.5" y2="346.5" stroke="#1f4f97" stroke-width="1.0"/>
<line x1="603.2" y1="337.7" x2="607.8" y2="337.7" stroke="#1f4f97" stroke-width="1.0"/>
<line x1="603.2" y1="346.5" x2="607.8" y2="346.5" stroke="#1f4f97" stroke-width="1.0"/>
<circle cx="605.5" cy="342.1" r="2.3" fill="#1f4f97"/>
<line x1="629" y1="313.9" x2="629" y2="324.8" stroke="#1f4f97" stroke-width="1.0"/>
<line x1="626.7" y1="313.9" x2="631.3" y2="313.9" stroke="#1f4f97" stroke-width="1.0"/>
<line x1="626.7" y1="324.8" x2="631.3" y2="324.8" stroke="#1f4f97" stroke-width="1.0"/>
<circle cx="629" cy="319.3" r="2.3" fill="#1f4f97"/>
<line x1="652.5" y1="322.5" x2="652.5" y2="330.2" stroke="#1f4f97" stroke-width="1.0"/>
<line x1="650.2" y1="322.5" x2="654.8" y2="322.5" stroke="#1f4f97" stroke-width="1.0"/>
<line x1="650.2" y1="330.2" x2="654.8" y2="330.2" stroke="#1f4f97" stroke-width="1.0"/>
<circle cx="652.5" cy="326.3" r="2.3" fill="#1f4f97"/>
<text x="558.4" y="366" style="font-size:8.8px;" text-anchor="middle">**</text>
<text x="582" y="345.9" style="font-size:8.8px;" text-anchor="middle">**</text>
<text x="605.5" y="335.8" style="font-size:8.8px;" text-anchor="middle">**</text>
<text x="629" y="311.3" style="font-size:8.8px;" text-anchor="middle">**</text>
<text x="652.5" y="320.3" style="font-size:8.8px;" text-anchor="middle">**</text>
<text x="583.6" y="298.6" style="font-size:10.2px;" text-anchor="middle">OVCAR8</text>
<text x="479.8" y="360.6" style="font-size:8.7px;" text-anchor="middle" transform="rotate(-90 479.8 360.6)">Relative cell viability</text>
<line x1="512.1" y1="323.5" x2="524.9" y2="323.5" stroke="#1f4f97" stroke-width="1.5"/>
<circle cx="518.5" cy="323.5" r="2.3" fill="#1f4f97"/>
<line x1="512.1" y1="337.2" x2="524.9" y2="337.2" stroke="#f9a24c" stroke-width="1.5"/>
<rect x="516.3" y="335" width="4.4" height="4.4" fill="#f9a24c"/>
<text x="530.2" y="326.6" style="font-size:8.9px;font-weight:normal;">ASO-NC</text>
<text x="530.2" y="340.3" style="font-size:8.9px;font-weight:normal;">ASO#2</text>
<text x="124.2" y="461" style="font-size:10.7px;" text-anchor="middle">Migration</text>
<line x1="27.5" y1="466.7" x2="222.7" y2="466.7" stroke="#333" stroke-width="1.3"/>
<text x="75.5" y="477.4" style="font-size:8.5px;" text-anchor="middle">ASO-NC</text>
<text x="174.9" y="477.4" style="font-size:8.5px;" text-anchor="middle">ASO#2</text>
<line x1="21" y1="480.1" x2="21" y2="552" stroke="#444" stroke-width="1.4"/>
<text x="14.8" y="516" style="font-size:10.2px;" text-anchor="middle" transform="rotate(-90 14.8 516)">HEY</text>
<line x1="21" y1="555.2" x2="21" y2="627.6" stroke="#444" stroke-width="1.4"/>
<text x="14.8" y="591.4" style="font-size:10.2px;" text-anchor="middle" transform="rotate(-90 14.8 591.4)">SKOV3</text>
<line x1="21" y1="630.8" x2="21" y2="702.9" stroke="#444" stroke-width="1.4"/>
<text x="14.8" y="666.8" style="font-size:10.2px;" text-anchor="middle" transform="rotate(-90 14.8 666.8)">OVCAR8</text>
<text x="369.5" y="461" style="font-size:10.7px;" text-anchor="middle">Invasion</text>
<line x1="271.6" y1="466.7" x2="466.6" y2="466.7" stroke="#333" stroke-width="1.3"/>
<text x="319.9" y="477.4" style="font-size:8.5px;" text-anchor="middle">ASO-NC</text>
<text x="418.8" y="477.4" style="font-size:8.5px;" text-anchor="middle">ASO#2</text>
<line x1="265.1" y1="480.1" x2="265.1" y2="552" stroke="#444" stroke-width="1.4"/>
<text x="259.2" y="516" style="font-size:10.2px;" text-anchor="middle" transform="rotate(-90 259.2 516)">HEY</text>
<line x1="265.1" y1="555.2" x2="265.1" y2="627.6" stroke="#444" stroke-width="1.4"/>
<text x="259.2" y="591.4" style="font-size:10.2px;" text-anchor="middle" transform="rotate(-90 259.2 591.4)">SKOV3</text>
<line x1="265.1" y1="630.8" x2="265.1" y2="702.9" stroke="#444" stroke-width="1.4"/>
<text x="259.2" y="666.8" style="font-size:10.2px;" text-anchor="middle" transform="rotate(-90 259.2 666.8)">OVCAR8</text>
<rect x="27.3" y="480.1" width="95.5" height="71.9" fill="#e9e6ef"/>
<g clip-path="url(#ci1)">
<path d="M98.4 513.9h0M101.8 501.3h0M105.2 512.2h0M31.6 522.8h0M105.2 508h0M44.4 550.2h0M78.1 539.7h0M102.7 480.2h0M98.2 533.3h0M87.5 496.3h0M83.1 531.7h0M37.6 483.5h0M56.6 510.4h0M63.5 530h0M98.2 500.9h0M102.9 488.3h0M104.7 515.4h0M47.6 547.2h0M49.6 524h0M92.5 506.3h0M122.4 538.6h0M61.4 539.7h0M76.4 526.6h0M86.7 485.1h0M75.8 503.9h0M34.4 513.1h0M117.1 542.6h0M88 509.6h0M122.2 532.7h0M40.3 519.6h0M100.1 546.6h0M120.5 496.2h0M102.1 531.2h0M118.7 516.4h0M120.3 533.5h0M61.2 541.4h0M117.5 499.5h0M85.7 492h0M43 521.9h0M49.1 491.4h0M66.5 536.5h0M90.7 508.4h0M69.8 496.1h0M76.2 518.8h0M82.3 510.4h0M91 525.2h0M40.2 483.8h0M86 503h0M76.2 495.3h0M77.7 497.2h0M48.2 487.7h0M122.7 504.5h0M76.5 501.5h0M99.9 541.3h0M68.6 481.3h0M84.9 529.5h0M53.2 540.8h0M53.5 546.3h0M83.2 539h0M93.7 492.9h0M111.7 531.7h0M122 501.1h0M110.2 524.6h0M120.1 519.2h0M58.5 550.6h0M122.7 508.7h0M29.3 481.6h0M34.9 528h0M31.4 493.7h0M121.4 507.2h0M109.2 507.2h0M37.8 505.7h0M36.7 482.1h0M122.8 500h0M31.4 506.7h0M107.4 497.5h0M122 521.3h0M38.8 534.6h0M105.5 542.9h0M56.1 500.7h0M105.7 533.4h0M62.1 516.1h0M45.5 547.6h0M111 533.2h0M32.4 499.5h0M119.3 515.6h0M122.4 486h0M30.5 482.4h0M122.1 550.6h0M66.1 539.5h0M77.7 536.1h0M34.4 498.7h0M117.7 501.2h0M46.6 499.4h0M89.8 503.9h0M85.7 513.4h0M108.2 540.8h0M96.7 491.3h0M80.5 493.6h0M95.5 526.2h0M119.9 551.9h0M76.2 503.3h0M85.5 551h0M31.8 546.1h0M97.9 518h0M98.6 499h0M39.1 499.8h0M119.6 516.9h0M53.7 525.7h0M46.9 488.8h0M41.4 545h0M80.4 509.7h0M39.7 517.5h0M87.9 542.4h0M69.9 529.9h0M119.9 487h0M93.2 511.6h0M92.8 532.1h0M106.2 501.1h0M101.4 514h0M115.8 531h0M69.9 538.3h0M50.7 500.7h0M120.7 482.3h0M45.2 491.1h0M118.4 500.6h0M68.3 516.4h0M37.5 491.2h0M103.9 544.3h0M110.4 489.2h0M106.3 511.5h0M57 481.6h0M35.6 484.4h0M51.5 487.8h0M46.1 506.5h0M80.2 521.8h0M118.6 524h0M38.9 497.5h0M54.1 500.2h0M28 520.5h0M43.2 508.1h0M103.8 497.9h0M82.2 534.9h0M52.7 532.3h0M60.9 511.6h0M113.4 538.3h0M35 515.3h0M101.1 518h0M30.9 534.8h0M52.4 534.3h0M91.1 530.9h0M113.3 482.7h0M70.6 504.2h0M42.8 537.1h0M62.2 484.3h0M54.8 530.3h0M103.4 511.9h0M107.7 488.5h0M69.6 490.5h0M63.3 486.1h0M34.2 547.1h0M34.2 519.3h0M92.6 499.8h0M121 483.9h0M95.4 538.3h0M30.2 538.4h0M42.3 529.8h0M121.6 547h0M111.3 485.4h0M96.9 520.2h0M39.5 539.2h0M82.2 531.4h0M83.7 506.4h0M78.3 512.8h0M111.4 515.5h0M71.1 540.4h0M53.5 491.7h0M68.3 488.1h0M65.1 546.9h0M103.5 505.7h0M122 548.3h0M84.8 492.9h0M85.9 516.2h0M89.6 543.6h0M57.9 523.3h0M103.6 546.1h0M118 480.4h0M67.5 537.7h0M111.1 550h0M118.3 489.4h0M35.8 492.5h0M52 505.3h0M64.1 516.9h0M62.2 490.8h0M101.7 527.5h0M52.7 551.7h0M71.9 550.6h0M61.2 528.8h0M117.2 522.1h0M58.2 545.9h0M113.6 519.7h0M37.5 514.5h0M72.5 538.6h0M48.8 541.3h0M120.8 550.3h0M82.5 496.5h0M30.8 508.7h0M93.8 531.9h0M119.7 484.7h0M74 540.1h0M121.4 484.8h0M112.5 487.8h0M44.3 501h0M33.8 531.1h0M92.5 515.8h0M86.2 545.3h0M118.3 501.2h0M48.5 490.2h0M87.5 508.8h0M111.7 490.3h0M117.4 523.1h0M53.2 503.3h0M33.2 508.9h0M93.1 508.4h0M50 538.5h0M59.8 499.4h0M58.2 489.9h0M46.5 547.8h0M103.8 501.4h0M117.5 523.1h0M117.7 489.1h0M108.2 549.7h0M77.7 529.2h0M120.3 518.9h0M39.1 501.6h0M118.7 517.7h0M114.8 481h0M101.5 501.3h0M110.3 541.3h0M84.6 493.7h0M38.6 549.4h0M85.2 542.7h0M44.4 493.8h0M31 535.8h0M32.9 542h0M78.6 480.4h0M94.1 521.9h0M90.6 521.6h0M95.2 489.6h0M108.3 532.1h0M79.6 543.6h0M60.9 517h0M89.7 485.3h0M73 484.4h0M41.7 514.1h0M99.5 543h0M106.5 540h0M47 514.3h0M36.4 533.6h0M75.4 519.9h0M55.7 499.2h0M95.6 481.8h0M110.3 521.8h0M122 512.8h0M91.1 546.1h0M98.5 513.8h0M114.5 511.6h0M61.1 512.9h0M113.2 502.3h0M115 496.7h0M68.9 513.1h0M80.3 496.7h0M76.4 499.7h0M100.5 543h0M76.3 493.7h0M111 538.3h0M58.9 540.1h0M49.2 485.6h0M75.3 539h0M113.9 528.1h0M101.7 546.3h0M59.7 551.6h0M64.4 506.1h0M110.8 503.7h0M81.4 526.5h0M69.4 506.7h0M40.7 500.1h0M79.8 502.7h0M46.7 502.8h0M32.4 494.3h0M30.6 485.9h0M77.6 535.9h0M90.1 509.8h0M117.5 536.3h0M51.4 492.6h0M86.4 490h0M56.7 481.6h0M113.7 546.5h0M87.3 547.4h0M86.1 551.1h0" stroke="#8d84a8" stroke-width="0.5" stroke-linecap="round" fill="none" opacity="0.6"/>
<path d="M98.3 543.8l0.9 0.4M109.1 501.9l-0.3 0.4M39.3 486.1l-0.6 0.3M120.3 552.2l0.8 0.4M105.3 548.2l-0.2 0.5M44.6 508.9l-1.3 0.3M72.2 538.2l-0.3 0.7M112.4 505.9l-0.9 0.6M101.5 534.6l0 0.9M45.7 541.7l1 0.5M40.1 483.4l-0.6 1.2M28.2 526.6l1 0.3M46.1 530.8l1 0.3M35.8 547.7l-0.7 0.5M71.2 530.3l-1.4 0.5M40.1 526.1h0M41.9 509.5l1 0.4M120.2 504.4l0.6 0.2M116.2 529.9l0.4 0.8M113.2 515.3l1.1 0.8M51.6 520.4l-0.9 0.1M68.7 535.8l-0.1 0.8M116.1 549.6l-0.4 0.6M76.5 513.6l0.5 0.2M47.9 485.4l-0.9 0.2M69.2 517.2l-0.4 0.4M72.5 483.6h0M28.5 508.1l-0.9 0.6M78.6 523.2l-0.7 0.4M70.2 492.9h0M36.7 546.2l1.1 0.4M38.6 492.7l0.9 1M47.7 515.6l-0.5 0.3M78.9 530.9l-0.4 1M80.4 520.2l0.9 0.1M62.6 526.1l0.2 0.6M100.4 506.2l-1 0.7M100.2 514l-0.6 1.2M55 513.9h0M67.9 550.1l1.5 0.1M85.9 507.2l-0.6 1M116.9 492l-0.6 1.2M49.9 490.4l0.6 0.5M47.1 537.4l-0.9 0.8M105.2 511.8l-1 0.9M70.7 502l-0.3 1M108.6 498.1l0.1 1.4M53.9 487.9l-0.6 0M88.8 507.7l-0.8 0.2M58.6 486.9l1.1 0.4M31.8 498.6h0M119.9 545.9l0.9 0.4M46.8 543.3l-0.7 0.2M56.2 533l0.1 1.2M98 545.3l0.4 0.5M115.5 550.2h0M27.1 510.6l-0.6 0.6M71.4 546.7l0.4 0.8M97.7 517.3l-0.4 0.6M106.2 505.6l0.4 1.1M101.2 544.8h0M113.7 489.8l1.2 0M34.8 525.5l1.2 0.3M105.1 505.5l0.1 0.5M84.9 507.4h0M73.6 547.4l-0.1 1.2M28.2 493.8l0.5 0.5M47.2 498.3l-0.7 0.3M53.6 490.5l1 0.8M35.1 535.5l-0.1 0.9M69.2 480.7l0.1 0.8M107.1 490.2l0.4 0.6M122.4 517.3l-0.2 1.3M83.8 497h0M70.4 527.3l-1 0.3M113.1 540.5l-1 1M56.2 524h0M111 545.7l-0.9 0.4M91.4 483.2h0M72.4 503.2h0M89.7 486.6l-1 0.5M51.2 493.5l-0.6 0.2M71.8 498.7l1.2 0.5M90.5 502.9l-1.2 0.8M40.8 518.5l0.5 0.8M76.4 495.6l-0.5 0.7M79 534.8l-0.4 1M118.8 509.1l-1.3 0.6M33.4 501.6l-0 0.5M84.4 545.4l-0.8 1.2M93.4 549.7l0.3 0.5M82.6 481.2h0M75.6 519.6l0.8 0M120.2 510.8l-0.8 0.5M69.1 490.8l1.4 0.1M68.9 520.6l0.3 0.4M75.5 486.2l-0.5 0.1M113.3 505.6l1.1 0.1M119.3 545.7h0M55.1 504.7l0.3 0.5M73.3 529.4l-0.6 1.1M76.7 505.1h0M89.2 547.4h0M27.4 514.7l-0 1.3M27.2 491.5l0 1.1M29.1 512.9l0.6 0.1M68 497.7l0.5 1.1M63.5 491.1l-0.9 0.3M92.7 541.6l-0.9 0.5M111.2 537.6l1.3 0.4M31 518.6l1.3 0M48.7 536.7l1.1 0.4M67.6 530.7l-1 0.8M116.8 546.8l-0.8 0.6M29.5 500.6l-0.4 1.4M40.7 504l0.7 0.2M73.3 526.2l-0.5 1M41.2 505.9l-0.7 0.7M26.5 544.4l0.3 0.7M49.5 544l-0.7 0.1M106.6 506.7l-0.6 1.2M81.3 523.9l-0.5 0.7M91.2 539.2l-1.1 0.6M32.2 523.6l0.1 1.4M32.7 531.6l-0.4 0.4M116.7 522.3l-0.7 0.4M91.4 513.9l0.2 1.4M92.5 545.9l0 1.2M120.7 496.6l-0.9 0.2M31 542.2l0.2 1.3M100.2 547.4l0 0.5M83.5 505.7h0M38.6 536.8l-1 0.7M55.2 494.7l0.8 0.1M92.2 536.5h0M38.2 513.4l-0.6 0.4M113.3 548.4h0M72.4 493.5l1.5 0.2M56.6 541.5l0.9 0.1M95.4 504.4h0M74.4 486.2l0.6 1.2M76.2 492.4l-0.6 0.4M43.4 520.9l-0 1.2M99 525.5l0.6 0.1M91.6 486.9l-0.4 1.3M84.6 535l-0.8 0.4M51.1 530.8l-1.1 0M80.7 486.3l-0.3 0.9M60.9 503.4l0.6 1.3M83.8 503.6l0.9 1.1M35.1 531.3l0.8 0.6M82.8 512.4l0.4 0.7M70.9 529.7l-0.1 1M57 540l0 1.2M31.9 494.9l0.1 0.6" stroke="#2c1070" stroke-width="1" stroke-linecap="round" fill="none" opacity="0.92"/><path d="M42.4 530.1l-1.1 0.7M113.5 534.9l0 0.6M99.2 495.5l0.6 0.3M66 552.2h0M42.9 484.2h0M101.8 537.5l1.1 0.7M35.9 523.5h0M28.2 526.7l0.7 0.6M34.6 514.6h0M119 502.9l1 0.7M117.1 518.9l1 0.2M47.5 536.6h0M45.5 495.9l0.2 0.5M101.5 521.9l-1.1 0.9M40.9 501.9l0.3 0.7M45.8 481.4l0.9 0.8M108.8 489.9l-1.4 0.5M98.8 537.5l0 1.5M76.1 501l-0.6 0.7M117.6 505.1l1.3 0M99 518.6h0M54.9 550.6l-0.2 1M91.7 552.4h0M43.1 523.1l-1.3 0.7M77.4 497.6l0.2 0.6M67.9 536.8l-0.8 0.1M65.2 550.7l0.5 0.6M52.6 525.6l1.1 0.5M72.6 537l1 0.9M40.3 498.4l-0.7 0.2M41.4 479.8l-0.3 0.6M121.7 510.6l0.4 0.4M105.6 532.4l-0.5 0.2M103.3 506.7l-0.2 0.5M56.7 514.6h0M84.8 512.1l-0.6 0M85.5 511.5h0M62.6 532.8l-0.1 0.5M54.5 499h0M83.8 547.4l0.5 1M101.5 496.7l1.4 0.1M56 543.5l0.8 0.3M42.4 483.8l-0.3 0.6M57 540.2h0M115.8 493.9l-0.4 1M52 522.7l-0.4 1.3M95.7 490.8l-0.6 0.3M70.9 541l-1 0.8M104.3 518.8l1 0.6M79.5 500.3l1.2 0.9M33.1 506.7l0.5 0.3M36.1 479.6l0.2 0.5M40.5 514.3l-0.3 0.4M38.5 516.8l-0.4 1.1M41.4 486.6l1.2 0.4M104.1 535.5l-0.7 1.1M47.7 517.9l-0.9 0.3M87.4 522.3l-0.4 0.5M47.4 521.1l-0.3 0.9M91.7 483.3l-0.1 0.9M60.8 516l0.9 0.1M91.3 494l-1.5 0.3M41.5 482.5l0.4 0.7M63.5 485.3l0.9 0.9M61.8 545.1l0.7 0.5M123.1 547.2l-0.2 0.8M106.3 494.4l0.8 0.4M73.2 504.6l-1 0.4M103.3 504l0.1 1.2M29.3 528.7l0.3 0.7M105.2 526.7l-0.5 0.6M62 513.7l-1.4 0.5M91 487.3l0.4 0.3M44.1 530.3l-0.8 0.8M59.3 488.4h0M105.1 529.9l-0.2 0.5M42.2 487.8h0M88.9 485h0M48.4 520.5l0.6 1.2M73 552.4l-0.3 1.1M110.1 525.6l-1.1 0.9M86.2 551.6l-1.4 0M100 547.6h0M52.1 493.3l0.4 1M33 520.3h0M78.3 509.4l0.8 0.9M100 542.3l-0.9 0.1M118.8 489.5h0M115.4 513.1l-0.5 0.3M113 533.7l-0.7 0.9M47.9 535.4l0.8 0.5M119.2 510.5l0.7 0.2M58.6 482l0.2 0.5M56.3 531.8l0.4 1.3M46.4 500.7l-0.8 0.4M85.3 521.2l-0.2 0.7M61 500.7l-1.4 0.5M68 487.5l0.5 0.1M32.5 541.7l0.5 0.3M116.5 538l0 0.7M100 525.9h0M117.6 484.2l0.1 0.6M62.5 485.1l1.1 0.8M112.5 511.9l0.5 0.7M103.2 486.5l-0.7 0.9M53.8 539l0.4 0.4M32.6 550.4l0.3 1.2M89.8 485.8l0.5 0.8M51.4 479.3l0.4 1.2M31.9 521.5l0.4 0.6M61.3 545.1l-1 0.6M29.2 524.6l0.2 1.1M82.7 543.9l-1.2 0.3M76.2 522.4l1.4 0.2M94.7 507.2h0M31.6 507.7l0.4 1.3M77.1 490.6l1.2 0.6M93.7 514.5l0.4 0.9M34.8 524.8h0M95.5 502.5h0M66.3 544.7h0M64.4 501.9l-1 0.7M72.1 506.5l0.5 1.1M91.3 544.5l-0.4 1M26.7 483.5l-0.6 0.4M62.4 548.5l0.5 0.2M54.8 529.5l0.4 1.2M41.3 510.1l1.3 0.4M37.3 521.3l0.6 0.8M46.1 550.1h0M123.4 491.2l1.3 0.1M43.5 513.3l0.6 1.4M93.7 540.6l-0.5 0.2M82.2 480.5l0.2 0.5M61 536.8l-1 0.9M57 525.3l-1.2 0.7M98.4 487.5l-0.6 1.1M87.6 514.6l1 0.6M81.3 519.7l0.4 0.5M41.8 500l0.5 0.5M90.8 547.3l-1.4 0.1M80.7 486.9l-0 1.3M103.1 538.7l0.9 0.9M93 546.5l-0.6 0.2M110.9 518.3l0.9 1M46.4 526.5l-0.5 0.5M33 482l1 0.2M83.5 545.8l1.2 0M107.1 532.2h0M50.2 494.6l-0.7 0.2M107 541l0.3 1.2M32 528.2h0M111.9 482.8l0.6 0M71.7 531.9l0.9 0.1M108.7 506.7l-0.4 0.6M105.2 511h0M106.6 496.5l-0.1 0.8M42.2 530.4l-0.6 0.1M37.2 518.2l-0.1 1.4M98.1 542.7l0.8 0.2M114.8 551.5l-0.9 1M77.4 550.6l-0.9 0.2M93.3 551.4l0.4 0.8M90.4 545.3l0.6 1.4M121.2 538l-1.4 0.6M81.2 524.3l0.6 0.4M64.6 522.4l1.3 0.2M70.1 543.8l1 0.1M36.3 533.5l-0.3 0.8M99.9 550.3l-0.5 1.4M99 500.8l0 0.7M106.5 509.3l0.5 0.7M123.7 503.2h0" stroke="#2c1070" stroke-width="1.5" stroke-linecap="round" fill="none" opacity="0.92"/><path d="M118.6 513.8l0.5 0.5M70 485.1l-1 0.8M81.3 493.5l1.5 0.1M118.1 485.1h0M65.9 541.2l-0.8 0.6M77.3 517.4l-0.3 1.4M34.1 538.6l0.1 1.5M95.5 537.6l-0.3 0.4M69.8 542l-1.1 1.1M49.2 545.2l0.7 0.2M30 538.8l0.2 0.5M34.2 543.4l1.2 0.6M93.8 537.3h0M79 507l0 0.9M119.1 507.1l0.2 0.5M116.4 501.7l0.3 1.3M38.2 544.5l0.1 1.1M65.8 482.2l0.8 0.3M79.6 513.4l0.2 0.9M82.1 510.2l0.6 1M81.5 522h0M96.9 505.4l0.9 0.6" stroke="#2c1070" stroke-width="2" stroke-linecap="round" fill="none" opacity="0.92"/>
<path d="M76.3 516.4l1.1 0.2M103.7 496.3h0M80.1 504.4l1 0.9M101.8 514.8l0.2 0.8M90.2 488.5l0.6 0.4M95.7 497.8l0.5 0.7M119.5 531.1l0.8 0.9M53.7 492l1.5 0.2M112.4 480.4h0M99.1 535.2l-0.4 1M107 494.9l1 0.6M117.6 537.8l-0.8 0.8M61.6 488.8l-0.3 0.5M77.3 545.2l-0.4 0.8M52.2 518.8l-0.9 0.6M106.9 516l-0.6 0.9M110.7 534.6l-1.3 0.3M107.3 498.7l0 0.7M95.8 495.2l0.7 0.5M88.3 526.1l0.2 1.1M58.2 503.4l-0.2 0.6M96.5 518.3l0.4 1.1M104.4 483l-0.9 0.9M45.6 515.6l0.3 1.4M107.4 530.2h0M50.3 552.8h0M42.6 508.3l-0.4 1.2M90.2 510.9l0.8 0.4M59.5 491.4l1.1 0.7M109.7 534.2l0.2 0.8M120.4 511.7l0.2 0.9M78.3 482.9l0.5 0.7M51.7 530.3l0.7 0.5M32.1 505.9l-0.3 0.5M119.6 496.4l-0.5 0.5M73.2 542.6l0.2 1.3M31.6 537.8l-0.6 0.5M46.4 491.5l-0.7 0.8M81.6 547.6l-0.8 0M62.7 514.4l-0.6 0.1M84.6 491.6l-0.1 0.9M42.3 518.3h0M72.2 528.9l0.7 0.4M72.4 551.6l-0.1 1.3M122.8 537.3l-0.6 0.7M60.4 531.8h0M61.5 511.2l1.3 0.3M61.9 523.3l0.3 0.5M118.8 546.9l0.9 0.9M69.8 505.6l-0.4 1.4M53.3 528.4l-1.2 0.3M37.6 523.7l-0.4 0.7M113.3 534.9l0.7 0.4M85.4 540.1l0.9 0.9M107.5 482.7l1.5 0.3M50.9 498.9l-1.1 0.4M120.5 539.9l0.6 0.1M43 492.5l-0.2 0.6M42.1 526.2h0M75.1 482.5l0 1.1M95.6 552.6l0.8 0.4M44.4 483.9l-1.1 0M76.9 505.7l0.2 1.2M95.8 522.8l0.9 1.1M91 499.5l-0.8 0.4M94.1 540.5l0.9 0.1M91.5 511.2l-0.7 0.3M103.7 511.9l-1.3 0.3M71.4 534.9l-0.7 1.1M33.3 543.9l1 0.1M123.2 482.2l0.9 0.1M36.2 525.1l0.3 0.9M105.9 536.1h0M66.7 525.7l0.9 0.8M59.2 506.3l0.1 0.8M81.2 548.4l0.2 1.2M57.5 504l1.1 0.1M30.3 538l-1.2 0.4M56.4 499.8l-1 0.5M57.4 537.2l1.2 0.6M55.8 504.6l0.7 0.7M75.1 547.8h0M104.6 521.3l-0.5 0.6M39.2 536.8l-0.8 0.4M39.6 523.8l-0.9 0.6M72.5 547.1l0.6 0.5M121.1 491.5l-0.6 0.5M69 518.4l0.8 0.9M63.2 534.4l-0.8 0.5M28.4 515.7l0.7 0.2M47.8 543.4l1.4 0.1M65.5 481.1l-0.5 0.5M75.9 504.9l0.4 0.8M86.5 511.4h0M54.6 509.9l0.7 0.2M33.9 531.7l-0.5 1.2M52.2 514.7l-0.4 1M114.7 546.8l0.1 1.5M39.2 510l-0.5 1M120.2 536l0.7 0.2M34.5 483.2l-0.9 0.5M53.4 541.2l-0.6 1.1M115.7 535.3h0M68.7 499.9l-1.2 0.7M67 487.1l-0 1.1M46.9 487.9l-0.8 1.1M58.2 540.5l-1 0.4M109.3 506.1l0.4 0.7M78.1 530.3l0.6 0.2M47.1 534l0.7 0.8M50.1 546.1l-0.8 0.2M69.1 546.9l0.7 0.5M72.6 533.1l0.8 0.1M96.9 479.3l-0.6 0.6M45.9 528.6h0M109 486.1l-0.9 0.7M116.9 485.9l-1.2 0.5M104.4 517.1l-0.1 0.8M122.5 552.5l0.8 0.2M97.5 481l-1.1 0.7M103.4 546.6l-0 0.9M97.2 504.4l-0.9 1.2M101.5 495.3l-0.4 1.3M103.6 503.2l0.5 1.3M52 501.4h0M49.7 520.2h0M113 489.3l-1.3 0.4M95.6 532.5l1.4 0M70.1 516.8l0.5 0.6M122.9 487.5h0M73.5 551.3l0.6 0.4M84.7 529.9l-0.4 1.4M111.9 516l0.5 0.3M53.1 495.3l0.4 1.2M98.4 546.8l0.1 0.9M71.5 518.1l-0.6 0.7M107.3 527.9l-0.7 1.3M74.5 535.4l-0.5 0.8M46.5 507.6h0M59.1 545.1l-0.4 0.5M41.6 506l0.8 1.2M114.4 516.8l-0 0.6M93.6 535.5l0.8 1.2M85.5 512.1l0.7 0.8M96.2 527.5l-1.1 0.1M120.1 540l0.6 0.6M28.8 541.7h0M44.6 513l1.2 0.4M89.8 480.5l0 1M46.8 548.9l-0.5 0.7M99.6 503.7h0M70.8 537.4h0M76.5 538.5h0M53.3 526.2l-0.9 1.1M34.8 534.8l1.2 0.6M118 551.6l-0 0.6M52.1 487.2l-0.3 0.8M102.5 511.1l1.2 0.5M82.7 505.6l-0.7 1M116.8 511.4h0M72.6 483.8l0.4 0.5M81.9 482.7l-0.3 0.7M44.7 492l0.6 0.7M121.2 550.6h0M47.9 520.6l-0.4 1.3M103.1 532.7l-0.8 0.8M112.4 525.5l0.3 0.9M39.6 503.2h0M68.5 509.7l-1.2 0.9M71.7 516.9l0.1 0.7M85.9 534.9l-1 0.6M97 482.2l-0.8 0.5M69.8 521h0M29 494.2l-0.7 1.1M116.7 490h0M40.9 546.2l-0.8 1M67.8 526.5l-0.4 0.9M58.8 510.7l0.7 0.2M118.6 531.8l-0.8 0.7M110 525.4l0.5 0.3M38.8 494.6l-0.9 1.2M84.4 492.9l-1.1 0.2M36.4 514.8h0M73.6 509.5h0M64.3 542.5l-0.5 1.2M33.6 513.8l0.7 0.2M36.6 537.7l1 0.4M40.8 518.7l-0.3 0.5M107 533.2l-0.7 0.3M100.1 480.9l0.2 0.9M43.3 546.5h0M66.5 503.4l-0.1 0.8M30.8 533.3l-0.5 0.2M55.4 522.3l0.3 0.6M37.9 488.8l0.6 0.2M32.2 545.2h0M76.4 539h0M68.8 537.5l1.2 0.3M72.8 493.2l1.2 0.1M79.9 514.1l-0.2 0.7M93.2 535.9l-1.1 0.4M110 514l-1 0.9M105.9 514.8l0.3 0.7M35.6 498.7l0.9 1.1M28.1 538l-0.2 0.9M67.2 515.9l0.6 0.3M76.1 532.6l-0.7 1.1M104 513.2l-0.5 0.2M43.7 488.9l-0.7 0.4M112.8 507h0M56.4 547.4h0M104.4 543.3l-1.1 0.6M112.1 496.6l0.5 0.1M51.6 535.6l-0.9 0.4M55.8 533.3h0M32.9 493.9l-1.4 0.2M72.2 514.2l1.2 0.6M50.8 508.9l-0.7 0.3M120.8 541.9l-1 1.1M116.8 489.4l0.6 0.5M46.9 505.1l-1.1 1M52.6 522.3l-0.3 1M117.1 479.6l1.1 0.8M116.1 499.8l-0.1 0.7M105.7 485.9h0M122.6 527l1.2 0.5M117.3 507.1l-1.1 0.2M116 542.4l-0.3 0.5M80.9 513l1.3 0.2M95.1 484.9l-0.3 0.8M94 500.6h0M51.5 532.4l0.1 0.9M89.5 525.5l0.7 0.9M85 518.2l-0.9 0.3M88.9 529.5l0.1 0.9M62.6 517.3l0.6 0.1M100.3 482.3l1 0.7M45.2 520.7l-0.1 0.5M56.8 492.1l1.1 0.6M121.4 503.9l0.7 1.2M84.6 510.9l0.4 0.9M47.9 486.7l-0.3 0.6M57.4 485.7l-0.6 1.4M114.9 489.5l-0.8 0.2M114.2 501.6l0.8 0.4M120.5 505.3l0.6 0M37.3 500.3h0M87.6 524.1l-0.8 0.7M122.1 485.8l-0.2 1.1M49.4 546.3l-0.9 0.4M26.6 523.7h0M113.4 499.8l0.8 0.5M36.9 528.3l0.1 1.2M41.2 494.9l0.4 0.9M115.4 535.1l-1.4 0.4M112 543.5l-1.3 0.1M52.1 495.7l0.3 0.5M84.5 508.3l-0.3 0.9M85.5 489.7l0.4 0.7M121.2 493.6l-0.1 0.5M32.8 527.3l1.2 0.7M47.4 503.6l-0.3 0.5M121.4 494.3l1.2 0.9M53.1 537.4l-0.2 1M68.4 509.8l-0.7 0.6M84 501l0.2 1M61.3 543.3h0M48.2 543.9l0.2 0.6M109.5 491.4h0M95.1 509h0M92.5 517.8l1.1 1.1M26.3 530.6l-0.2 0.8M76.2 500.3l0.9 0.7M89.5 524.8l1.1 0.1M55.1 484.4l-0.7 1.1M33.4 492.1l-1.2 0.1M50.3 500.8l-0.5 0.6M120.9 548.6h0M39.8 541.5l1.4 0.2M38.6 522.3l-1.1 0.4M54.3 539.2l-0.6 0.2M31.2 483.8l-0.5 0.2M101.8 551.5l0 0.7M64.6 520.8l-1.1 0.6M121.5 526.6l-0.4 0.3M55.9 540.6l-0.6 1.3M39.8 510.8l-0.1 0.6M122 506.5l0.4 0.4M112.4 482.3l-0.6 1.1M40.1 511.4l-0.3 0.9M94.7 538.7l-0.1 0.6M93.4 544.5l-1 0.4M108.8 504.5l-0.4 0.8M58.5 480l0.4 0.3M84.5 528.1l-0.7 1.3M74.6 542l0.2 0.7M55.4 540.7l-0.5 0.1M84.7 530.3l0.2 1.1M106.7 489.3l-1.1 0.4M44.3 484.2h0M45 501.4h0M47.5 531.7l0.7 1.1M117 492.7l0.5 0.5M120.7 537.8l0.9 1.1M67.4 515l-0.7 0.3M70.9 531.9l1.1 0.6M27.6 520.9l-1.1 0.1M112.1 526.4l1 0.9M114.8 535.2l-0.5 0.4M75.5 517.1l0.2 0.7M81.8 531.7l-1.2 0.6M79.3 507.7l0.4 0.4M40.3 532.8l0 1.4M80.2 514l0.7 0.3M97.4 536.8l-1.1 0.6M26.3 541.3l-1.3 0.6" stroke="#4a26a0" stroke-width="1" stroke-linecap="round" fill="none" opacity="0.9"/><path d="M119.1 506.3l0.2 1.4M112.8 509.4l0.5 1.4M60.3 547.6l0.6 0.1M105.6 536.5l-1.4 0.2M74.2 506.9l-0.5 0.3M47 541l-0.2 0.9M119.3 480.8h0M44.2 507l-1.1 0.5M114.1 500.9h0M56.5 530.8l-1.3 0.1M36.8 484.7l-0.4 0.9M31.1 511.2l0.2 1.2M49.4 507.6h0M102.3 525.4h0M94.5 529.6l-1 0.6M80.2 485l0.9 0.3M84.6 499.6l-0.3 0.9M94.6 496.9l0.1 0.8M113.5 506.4l1 0.2M113.1 484.3l0.5 0.5M32 481.8l0.6 0.2M95.5 515.6l-0.8 1.2M63 508.2l-1.1 0M28.4 532.7l0.6 1.3M108.9 495.4l-0.7 0.6M46.2 521.7l0.3 0.4M57.3 546.6l-0.9 0.3M110.7 510.5l0.4 1M89.7 512.4l-0.2 0.7M26.7 485.9l1.1 0.4M37.6 504.9h0M51.4 525.3l0.3 0.6M82.2 520.1l-0.5 0.5M115.2 485.4h0M42.6 519.7l0.3 0.4M99.4 492.9l-0.5 0.2M107.9 527.7l-0.3 0.8M77.8 546l0.3 1.2M78.5 497.5l1.1 0.4M120.9 536.8l-0.6 1M30.4 491.4l0.3 0.9M59.1 487.6l0.1 1.3M34.5 532.9h0M90.3 539.4l-0.4 0.8M114.5 493.1l0.1 0.8M120.1 485.8h0M102.6 489.4l-0.1 1.1M120.5 517l-0.5 0.4M80.1 522.6l-0.4 1.4M103.4 551.4l0.6 1.1M91.2 495.1l-1.1 0.2M52.3 518.2l0.6 1M70.5 517.9l1 0.5M111.4 517.3h0M95.6 511.4l-1 0.1M105 535.8h0M26.3 501.5l1.2 0.3M33.3 524.5l0.5 0.1M81.5 526.8l-0.4 1M38.9 545.5l-0.9 0.7M62.1 541.7l-0.9 1M90.6 539l0.7 0.5M45.3 524.7h0M35.8 539.3h0M69.5 489.1l-0.6 0.1M101.1 492.4l-0.5 0.2M94 513.6l0.8 0.1M86.7 521l0.3 0.7M50.1 517l0.2 1M26.9 538.4l0.7 0.6M55.5 537.8h0M34.7 539.9l0.1 1.5M100.5 512.5l0.6 0.1M117.7 486.7l-0.7 0.5M67.8 535.7l0.8 0.5M80.4 548.9h0M62.5 541.4l-0.3 0.8M69.6 492.1l0.8 0.4M115.2 541.5l-0.9 0.6M44.9 502.4l-0.8 1.3M65 544.1l-0.8 0.1M37.1 537.9l0.1 0.8M81 530.7l-0.6 0.3M97.6 493.7l-0.2 1.4M27.5 527.8l-1.2 0.8M105 546.1l0.5 0.3M65.3 483.1l0.7 0.2M107.8 521.3l0.5 0.8M99.7 549.8l1 0.8M84.9 515.6l-1.3 0.3M108.1 523.2l0.4 0.6M34.5 550.9l1 0.7M33.2 500.7l-0.5 0.9M89.1 550.6l0.6 0.6M51.8 485.2l-1.4 0M33.7 487.9l0.3 1.2M99.6 506.8l0.8 0.4M35.9 520.7l-1.2 0.4M108.6 533.2l1.1 0.1M90.4 508.6l-1.3 0.2M101.2 516.4l0 0.8M75.6 482.9h0M86.1 551.1l-1.1 0.3M74.5 517.6l-0.4 0.4M117.4 541.2l1.4 0M81.6 535.7l-0.8 0.8M107.8 530.1l-0.8 0.3M78.2 523.9l-0.5 0.1M48.8 485.8h0M86.2 511.2h0M109.3 517.3l0.7 0.9M93.8 518.1l0.1 0.5M80.1 524.2l0.6 0.8M57.7 481.2l1 1M27.3 542.9h0M111.3 522.8l0.6 0M30.4 528.9l-0.2 0.5M71.7 497.9l1.3 0.3M85.5 531.6l-0.8 0.5M65.1 511.1l0.1 0.6M94.4 480.3l0.9 0.7M65.5 542.2l-1.1 0.8M63.9 526.6l-1.3 0.6M83.8 484.3l-0.5 0.3M87.9 523.5h0M112.2 546.6h0M83.7 511.2l0.7 0.2M101.7 513.5l1.1 0.9M68.8 549.8l0 0.7M100.3 511.7l0.8 0.4M68.2 510l-0.7 0.2M49.6 522.6l-0.1 0.7M75.1 494.7l-0.3 1.3M80.8 498.9l0.7 0.8M36.9 495.8l-0.2 1M62.1 526.5l-0.8 0.9M81 512l0.5 0.3M107.8 524.8l0.9 0.3M30.6 529.3l-0.9 0.7M68.9 539l-0.5 0.4M48 515.5h0M57.6 551.3l-0.6 0.3M112.7 513.7l1.2 0.7M93.1 526.4l1 1M54 492.6l0.7 0.4M38.7 515.8l-1.1 0.9M67.8 526.3l0.2 1.3M35.8 501l-0 0.7M39.3 483.7l0.4 0.4M120.2 543.6l0.9 0.5M29.8 498.9l-0.9 0.9M96.2 540.4l0.1 0.9M120.5 508.3h0M78.4 499.3l-0.8 0.9M36.9 512.5l0.9 0.4M78.1 548.3l0.7 0.1M90.1 551.9l0.3 0.5M78.8 489.4h0M55.7 482.4l-0.7 1.1M104.4 542.4l-0.6 0.2M93.7 513.5l-1.3 0.2M54.2 526.1l0.3 0.7M39.9 487.9l0.2 1.2M80.7 546.6l-0.6 0.9M66.2 479.3l0.6 1M115 496.1l-0.4 1M97.5 539.4l0.1 1M89.3 503.6l-0.7 1.1M111.3 529.9l0.2 0.5M32.4 482.8l-0.1 1.5M108.2 527.5l-1.2 0.7M113.8 486.3l-0.2 0.6M85.4 539.8l-0.7 0.8M58.1 504.6l-1 0.5M73.9 514l0.5 0.2M47.2 529l0.1 1.4M106.6 530.7l-0.9 0.9M68.1 544.9l-0.5 0.5M81 501l-0.1 1M63.2 522.1l0.6 0.1M47.7 542.7l-0.9 0.8M93.8 552h0M57.8 480.8l-0.8 0.5M98.2 532l0.6 0.1M31.3 512.3l-0.7 1M36.5 551.9l-0.1 0.7M98.7 526.4h0M37.2 551l0.5 1.3M119.6 481.4l0.6 0.4M93.7 509.1h0M89.9 533.5l-0.9 0.3M58.9 549.8l0.6 0.7M91.1 544.5l-0.1 0.5M28.7 497.9l-0.3 1.2M81.4 504.5h0M34.6 535.3l0.4 0.9M86.6 486.1l-0.5 0.1M104.8 548.1l0.8 0.1M41.3 494.5l0 1.1M100.9 510.9l0.5 0.3M123.6 510.3l-0.4 1M110 513.5h0M46.3 541.6h0M70.6 542.1l-1 0.5M28 484.2l0.3 1.2M100.3 517.3l0.7 0.1M94.8 535.7l-0.2 0.9M121.2 520.8h0M105.2 527.2l-0.8 0.5M65.2 488.3l0.2 0.7M49.7 526.9l0.7 0.7M61.7 488.9l-0.4 1M98.3 540.6l0.4 0.4M61.2 491.5l1.1 0.6M96.5 513.5l-1 0.1M70.2 506.2l-1.1 0.6M102.2 536.5l-0.6 0.1M115.9 482.9l0 0.6M32.2 498.7h0M118.8 485.6l0.5 0.6M75.1 536.8l0.2 0.7M66.5 549.5l0.3 0.9M87.6 500.3l1 0.6M59.2 547.2h0M54.4 548.4l0.6 0.9M76.9 485.1h0M45.2 542.4l0 1M59.6 482.8l0 0.6M102.3 531.2l-0.9 1M87.7 535l1 0.3M53.2 492.7h0M62.4 488.8h0M65.6 491.9l0.3 1.4M31.9 508.5l-1.3 0.6M102.2 495.5l-0.3 0.4M51.4 516.2l-0.3 0.7M108.2 489h0M119.2 522.3l-1.2 0.2M39.9 533.9l0.2 0.7M44.8 505.6l-0.5 0.7M73.4 529.6l-0.5 0.1M79.7 533.2l-0.3 1.3M85.4 548.5l1.2 0.6M56.9 526.8l0.7 0.7M99.9 490.5l0.3 0.8M118.1 550.6l0.8 0.1M32.5 499.5l0.5 0.1M72.7 490.3l-0.1 1.5M78.7 498.2l-0.3 0.7M77.3 530.9l-0 0.5M26.6 503.3l0.1 1.1M117.2 479.1l-0.7 0.6M89.8 550.3l-0.8 0.2M112.3 501.6l0.7 0.7M91.6 545.6l-0.8 0.2M96.6 525.6l-0.5 0.7M65.6 511.9l-0.2 0.8M95.4 547l0.8 0.2M97.6 486.9l0.5 1.3M114.2 537.4l-0.1 1.3M29.9 535.1l1.3 0.8M85.2 540.7h0M62.3 503.6h0M49.8 532.4l-0.7 0.9M121.9 493.6l-1.3 0.8M100.5 507.1h0M62.5 535.1l0.3 1.4M73.5 491.6l0 1.4M98.2 492.3l-0.6 0.4M58.2 528.4l-0.3 0.5M57.6 492.5l-0.6 0.2M56.6 499.9l1.2 0.7M39.7 550l-0.8 0.7M98.9 492.8l-0.3 1.2M82.5 532.3l0.5 0.5M107.1 507.6l-0.8 1.1M81.6 485.6l-1.1 1M34.1 509.9l-0.4 0.9M26.7 506.2l-0.9 1M49.5 542.3l-0.5 1M108.1 520.5h0M38.2 529.6l1.3 0.6M36.4 521.9l-0.2 0.5M49.1 521.3l0.8 0.3M60.7 536.1l0.5 0.9M62.5 489.3l-1.2 0.4M98.3 547.9l0.5 0.1M116.8 515.6l0.5 1.1M104.8 521.2h0M27.8 537.3l0.3 1.1M122.4 529.7h0M88.2 504.2l1.2 0.5M97.5 517.8l0.1 0.5M100.3 541.5l-1 0.7M110.2 550.7h0M92.8 546.8l-0.6 0M64.2 536.3l-0.8 0.8M30.2 518.2l-0.5 0.3M41.6 551.8l1 0.1M46.3 493.9l-0.4 0.9M99.7 532l-0.5 0.3M82.2 533.5h0M57.7 505.5l-0.2 0.7M63.3 539.2h0M47.5 548.4l0.2 1M34.9 543.8h0M111.4 479.9l-1 0.9M81.5 511.2l1 0.8M44.6 486.8l0 0.7M35.2 543.1l-1.3 0.2M112.5 481.9l0.1 1.1M35.6 506l-0.3 1.3M57.5 531.2h0M40.8 527.4l-1.3 0.5M54.3 549.4l-0.8 0.6M70.2 510.4l-1.2 0.2M85.9 509l0.7 0.5M54.9 540.9l0.3 1.1M115.8 518.6h0M73.8 546.8l0.1 0.6M83.8 496.7l1.1 0.3M52 547.8l-0.5 0.8M46.6 514.8h0M109.3 534.6h0M112.2 532.3l-0.3 1.1M59.6 504.2l-0.6 0M120.7 507.9h0M101.6 479.5l-0.4 0.5M35.8 503.1l-0 1.3M106 509.1l-1.1 0.5M53.5 511.9l0.1 1.4M71 511.7l0.1 1.3M76.2 523.5l-0.6 0.8M34.8 547.8l0 1.1M33.9 527.5l0.8 0.2M122.1 482l0.5 0.5M51.2 501.2l-0.1 1.2M99.2 530.6l-0.3 0.7M26.6 516.4l1 0.1M72.6 546.9l0.8 0.8M67.4 520.5l-0.3 0.4M84.9 548.5l-0.2 0.7M99.3 496.1l-0.5 0.1M109.1 551.9l-0.6 1.1" stroke="#4a26a0" stroke-width="1.5" stroke-linecap="round" fill="none" opacity="0.9"/><path d="M28.9 486l-0.2 1M99 514.5l1.2 0.1M83.3 498.1h0M78.6 544.3l-0.9 0.9M111.6 552.7h0M39 504.8l0.7 0.5M103.8 552.2l0.1 0.9M94.8 484l0.1 0.5M70.8 522.5l0.2 0.9M87.2 496.3l-1.5 0.2M32 516.3l-1 0.4M47.6 532.1l-0.7 0.6M54.4 491.5l-0.4 0.5M52.1 520.6l0.6 0.2M61 495.1l-0.7 0.4M57.1 480l-0.3 1.2M60.6 518.3l-0.7 0.7M46.3 551.6l1.1 0.5M83.7 544.4l0.6 0.1M56.8 509.1l0.8 0.3M103.1 514.6l-0.6 0.7M65.5 499l-0.8 1.2M91.7 546.1l0.4 0.4M28.8 538.1h0M30.1 496.2h0M94.8 546l0.8 0.2M72 510.8l0.6 0.8M46.1 520.7l-0.8 1.1M98 551.7l-0.9 0.9M77.5 516.2h0M55.1 486l-0.7 0.4M121.4 480.8h0M36 528.9l0.4 1.1M117.3 521.6h0M91.4 533.9l-0.4 1.2M82.6 532.1h0M35.4 531.5l1.4 0.1M119.2 535.7l-0.5 0.4M46.5 504.1l0.6 0.5M70.1 531.8l0.6 0.1" stroke="#4a26a0" stroke-width="2" stroke-linecap="round" fill="none" opacity="0.9"/>
</g>
<rect x="127.2" y="480.1" width="95.5" height="71.9" fill="#edecf0"/>
<g clip-path="url(#ci2)">
<path d="M217.2 516.6h0M214.5 490.5h0M163 546.7h0M222.7 540.7h0M183.3 497.3h0M156 494h0M188.5 526.9h0M163.9 540.3h0M168 529.6h0M206.1 517.9h0M221.6 524.2h0M143.2 548.7h0M177.9 547.2h0M193 515.9h0M208.6 517.5h0M189.8 527.5h0M189 535h0M188.7 487h0M193.4 501h0M216.5 492.1h0M146.3 520.6h0M183.3 522.1h0M139.2 513.4h0M204.8 529.5h0M177.5 502.8h0M161.3 492.4h0M208.7 503.4h0M178.2 522.2h0M180 527.4h0M220 514.9h0M195.2 545.6h0M146.3 515.1h0M197.8 523h0M145.5 484.9h0M139.6 538.4h0M138.5 527.2h0M127.5 512.5h0M218.8 509.5h0M168.9 540.7h0M197.4 490.5h0M135.2 492.2h0M155.5 543.9h0M150.2 519.9h0M213.2 544.5h0M177.8 520h0M135.2 517.1h0M190.8 528.8h0M217.5 521.5h0M194.6 487.5h0M177 497.2h0M166.8 525.5h0M157.3 540.1h0M190.6 489.4h0M196.1 483.5h0M134.9 550.4h0M212.9 543.3h0M166.3 501h0M147.9 502.5h0M130.9 535.1h0M159.7 503.3h0M147.7 512.3h0M213 514.1h0M215.8 528.6h0M205.1 543h0M152.5 483h0M179.1 530.1h0M139.2 503.5h0M173 521.8h0M130.6 550.9h0M190.8 524.1h0M188 506.4h0M173.2 523.2h0M212.6 504.2h0M207.8 546.1h0M141 526.4h0M214.1 548.7h0M127.9 517.3h0M215.8 527.1h0M188.7 506h0M167.6 491.9h0M153.7 483.7h0M148 537.6h0M144.3 537.5h0M136.7 502.1h0M216.7 484.5h0M167.6 485.9h0M129.3 532.1h0M169.7 488.2h0M210.4 484.7h0M129.5 528.4h0M146.1 487.7h0M141.2 495.7h0M179.3 486.8h0M196.3 510.6h0M206 538.6h0M134.1 527.5h0M142.9 519.2h0M221.2 538.4h0M207.2 497.5h0M127.5 542.9h0M183.8 486.9h0M193.2 521.2h0M201.2 517.2h0M216.9 536h0M183.5 480.9h0M160.1 516.7h0M137.3 544h0M197.1 549.4h0M183.9 524h0M155.4 510.6h0M206.3 507h0M129.6 490.8h0M175.4 512.6h0M147.2 541.1h0M179 491.5h0M170.8 522.1h0M153.4 517.9h0M185.5 550.5h0M191.3 513.5h0M159.7 529h0M155.6 484.6h0M182.5 502.5h0M162 489.3h0M203.5 521.5h0M170.6 549.9h0M181.6 546.8h0M153.5 489.1h0M170.6 540.6h0M145.5 542.1h0M154.3 537.1h0M169.7 508.1h0M188 536.3h0M139 524.8h0M145.8 518.6h0M209 516.9h0M131.3 501.1h0M176.6 529.8h0M204.3 523.2h0M178.7 543.1h0M177.4 518.9h0M128.6 530.8h0M171.6 550h0M153.6 497.2h0M137.8 498h0M163.3 549.9h0M189.9 496.6h0M189.5 526.4h0M192.3 537.9h0M201.4 538.4h0M151.4 544.7h0M155.6 515.6h0M149.6 501.6h0M128.1 547.8h0M143.9 547h0M187.8 528h0M168.8 511.2h0M127.3 527.2h0M170.5 532.6h0M203.9 511.6h0M173.9 511.1h0M129.4 519.4h0M194.2 526.5h0M192.2 528.7h0M202.4 534.7h0M140.7 483.5h0M170.7 524.7h0M200.9 503.7h0M192.5 505.2h0M128.4 522.8h0M137.6 493.9h0M216.4 521.1h0M138.9 497.7h0M139.2 505.2h0M188.8 519h0M175.6 506.5h0M211.7 489.5h0M149 509.6h0M210.5 492.6h0M211 489.4h0M211.6 526.2h0M161.5 511h0M215 521.7h0M132.2 542.5h0M164 508.5h0M140.4 508.3h0M219.1 481.7h0M198.2 546.9h0M195.1 524.8h0M197.7 516.4h0M191.5 506.1h0M203.3 534.1h0M156.4 529.1h0M129.7 520.7h0M135.8 490.6h0M175.8 540.6h0M198.9 503.6h0M169.4 526.9h0M194.3 546.5h0M201.6 496h0M206.9 506.8h0M190.1 502.3h0M127.5 537.1h0M179.9 507h0M217.6 541.4h0M154.4 490.7h0M168.5 528.4h0M148.1 541.6h0M181.5 486h0M156.2 551.6h0M155 488.8h0M159.5 549.5h0M142.5 528.1h0M180.7 497h0M136.5 546.9h0M135.8 486h0M172.5 525.7h0M194.1 482.5h0M128.7 513h0M201.2 509.5h0M129.8 526.5h0M136.5 513.4h0M210.6 499.8h0M183 482h0M148 493.4h0M205.7 530.9h0M184 541.3h0M154.8 507.4h0M193.1 484.9h0M201.2 492.9h0M143.2 492.7h0M220.9 533h0M175.4 481.4h0M209.2 483.6h0M137.3 481.8h0M138.1 495.6h0M141 492.5h0M211.1 487.3h0M142.4 550.7h0M157.1 525.7h0M212.8 532.6h0M160.8 498.7h0M222 532.7h0M160.1 502.1h0M173.5 539.7h0M187 514h0M192.3 481.9h0M191 491.5h0M142.8 520.5h0M197.5 486.2h0M218.1 533.6h0M197.5 527.7h0M140.9 524.8h0M178.9 480.5h0M166.5 524.2h0M184.5 542.8h0M221.4 536.1h0M216 512.7h0M146.2 551.9h0M165.4 530.4h0M162.4 485.8h0M191.6 507.6h0M199.7 513.2h0M182.4 547.3h0M173.8 482.7h0M157.8 523.7h0M186.5 531.5h0M165.1 491.9h0M212.3 492.9h0M181.5 493.2h0M208 508.3h0M173.7 533.7h0M171.1 544.6h0M156.1 499.4h0M197.4 486.6h0M133.1 551.9h0M190.8 548.2h0M136 519.9h0M143.1 496.6h0M186.3 505.9h0M135 545.7h0M206.8 491.4h0M162.4 499.4h0M218.1 510.5h0M137.9 543.9h0M206.2 549.7h0M187.4 545.3h0M186.9 545.7h0M165.2 512.7h0M127.6 535.5h0M167.8 542.6h0M167.9 533.9h0M165 497.7h0M177.7 514.8h0M162.2 540.7h0M191.2 506.1h0M152.1 529.1h0M222.2 539.2h0M213 491.9h0M199.1 547.1h0M197.4 493.8h0M132.8 503.6h0M145.3 496.5h0M211 502.5h0M181.5 480.6h0M198.5 542.6h0M136.7 529.9h0M220.2 510.2h0M198.8 539.1h0M192.9 487.7h0M189.8 521.2h0M211 509.6h0M156.1 536.3h0M196.5 551h0M183.3 493.1h0M145.4 497h0M136.9 527.9h0M131.1 512.7h0M194.1 488h0M193.4 523.5h0M222.3 508.6h0M216.9 520.6h0M146 497.2h0M196 492.4h0M143.4 524.8h0M146.9 523.2h0M196.1 495h0M154.1 510.8h0M215.4 485.5h0M182.1 491.1h0M137.4 517.9h0M127.8 543.9h0M187.2 535.6h0M182.1 491.9h0M136.1 535.5h0M193.9 538.8h0M154 482.5h0M186 496h0M173 505h0M206.9 544.5h0M164.6 536.6h0M145.8 520.1h0M129.4 517.3h0M167 547.4h0M148 514.9h0M179.5 550.9h0M173.1 513.8h0M161.8 538.2h0M157.5 505.4h0M156.9 498.2h0M156.1 500.6h0M175.1 529h0M191.4 499.2h0M192.8 500.3h0M211.3 484.1h0M187.9 499.6h0M175.6 541.4h0M215.2 502.8h0M201.4 491.6h0M144.4 522.9h0M131.7 491.5h0M213.6 512.6h0M172.5 495.4h0M209.4 482.7h0M207.8 489.6h0M177.3 490h0M180.1 516.9h0M214.2 480.4h0M165.9 506h0M145.6 499.6h0M192.8 498.2h0M210.4 531.3h0M204.6 516.6h0M222.5 486.8h0M161.6 508.2h0M198.9 538.1h0M137.9 488.4h0M181 523.4h0M202.6 521.7h0M213.1 480.6h0M197.4 522.9h0M221.7 529.7h0M164.7 505.6h0M208.5 493.8h0M219 518h0M171.9 527.9h0M197.4 507.5h0M188.6 511.6h0M153.4 520.3h0M164 491.7h0M153.8 531.9h0M192.7 501.1h0M164.5 511.1h0M217.5 511.9h0M192.5 535h0M138.1 529.8h0M179.5 549.2h0M132.7 496.7h0M130.8 480.3h0M215.1 536h0M161.8 533.1h0M153.2 541.4h0M219.4 537.2h0M167.1 493.3h0M181.8 530.8h0M159.4 486h0M144.7 491.6h0M193.1 527.4h0M176.3 532h0M165.6 541.5h0M216.4 533.8h0M218.8 515.2h0M175.1 520.3h0M150.1 551.8h0M221.6 532.9h0M216.5 530.6h0M210.6 515h0M200.1 484.8h0M205 509.4h0M177.7 540.1h0M172.6 505.4h0M214.4 525.9h0M173.8 531.8h0M183.3 520.6h0M162.8 505.3h0M205.7 526.6h0M137.2 511.1h0M144.2 528.9h0M189.2 546.7h0M200.1 496.9h0M218.8 502.6h0M160.1 529.4h0M130.7 486.4h0M199.9 520.7h0M213.4 508.3h0M216.1 494.9h0M195.2 549.8h0M199.1 538.9h0M128.4 499.6h0M181 484.7h0M128.5 486.5h0M190.2 528.8h0M160.3 487.8h0M162 484.7h0M222.6 544.4h0M173.8 506h0M141.1 505.9h0M163.7 492.5h0M150.4 545.5h0M166.7 490.4h0M205.8 517.8h0M176.1 530.5h0M172.7 548.9h0M149.7 550h0M186.4 544.1h0M184.2 502.6h0M217 508.3h0M162.8 508.8h0M188.4 546.6h0M160 483.7h0M131.9 531.7h0M135.9 521.5h0M201.4 492.9h0M157.1 484.2h0M138.4 550.2h0M220.9 508.5h0M215.8 545.8h0M194.4 485.7h0M148.4 537.8h0M212.5 515.4h0M166.4 502.3h0M186.8 526h0M131.9 551.7h0M200.1 519.7h0M198.7 488.8h0M157.7 507.7h0M216.7 526.8h0M219.9 486.8h0M188.3 498.4h0M198.7 525.8h0M198.3 513.7h0M213.7 551.1h0M129.7 497h0M152.5 531.2h0M200.8 535h0M162.2 539.9h0M150.6 492.4h0M207.7 494.2h0M193.1 526.4h0M218.5 493.8h0M222.4 508.7h0M146.2 480.6h0M210.6 530.9h0M159.9 532.2h0M194.1 520.4h0M185.4 534.4h0M168.5 483.5h0M128.2 513.8h0M218.1 501.2h0M214.8 539.5h0M159.7 495.4h0M221.4 482.4h0M138 493h0M183.5 493.1h0M213.9 496.8h0M181.1 527h0M188.5 497.5h0M170.8 513.2h0M140.3 505h0M129.7 546.2h0M208.6 480.3h0M194.9 491.3h0M189.4 544.8h0M216.5 534.3h0M202.7 480.6h0M222.5 495h0M167.9 503.1h0M140 514.3h0M183.4 511.2h0M183 529.5h0M175.3 550h0M190.5 481.4h0M210.9 535.4h0M133.7 505h0M199.3 520h0M150.7 495.2h0M142.4 496h0M150.3 499.5h0M135.3 527.3h0M175.1 550.2h0M184.2 545.3h0M193.5 505.7h0M207.6 520h0M220 518.5h0M177.2 503.2h0M131.6 494.6h0M152 518.8h0M162.9 508.7h0M219.4 504h0M127.9 501.9h0M130.8 522.2h0M215.8 515.3h0M138.3 488.7h0M140.5 547.1h0M134.9 506.4h0M146.6 514.7h0M184.6 527.3h0M156.5 500.3h0M161 511.4h0M204.3 533h0M218.6 537.8h0M201.3 485h0M150.2 522.2h0M200.3 504.6h0M150.9 518.3h0M209.9 505.1h0M220.1 534.5h0M207.8 505.8h0M130.8 497h0M129.2 544.1h0M149.6 529.9h0M221.7 521.6h0M169.6 524.3h0M172 536.8h0M221.9 498.1h0M211.8 484.3h0M173.4 497.6h0M168.4 551.5h0M177.7 526.6h0M193.8 481.3h0M187.3 504.1h0M175.8 509h0M151.9 538.7h0M220.9 536.1h0M216.2 544h0M131.2 537.5h0M195.9 514.6h0M139.4 542.2h0M132.6 518.8h0M166.6 513.8h0M220.9 536.2h0M186 488.6h0M214.4 546.5h0M151.2 538.2h0M157.8 519.6h0M169.1 541.5h0M165.2 541.2h0M201.4 525h0M176.9 501.3h0M135.2 513h0M130.1 480.8h0M171.4 532.8h0M175.2 547.5h0M162.7 537.2h0M150.7 550.5h0M148.2 484.6h0M163.2 503.5h0M152.8 501.6h0M180.8 550h0M187.6 481.9h0M157.3 522.3h0M132.2 538.6h0M154.2 507.8h0M159.1 498.8h0M160.4 519.7h0M187.1 484.6h0M127.9 517.8h0M197.7 549.5h0M189.9 499.5h0M169.3 524.3h0M170.3 514.9h0M206.6 533.6h0M177.5 536.6h0M169.2 481.1h0M145.7 497h0M146.6 500.4h0M190.3 531.6h0M154 522.6h0M135 515.3h0M167.1 510.6h0M195.3 543h0M149.7 552h0M219.3 540.1h0M188.8 485.6h0M143.7 535.7h0M159.9 508h0M212.4 506.1h0M145.5 536.5h0M174 522.6h0M143.3 514.2h0M218.5 547h0M155.4 495.1h0M208.2 536h0M187.7 514.7h0M170.4 540.4h0M215.3 538.7h0M180.5 550.5h0M182.2 506.1h0M176.7 484.3h0M221.7 532.2h0M182.5 500h0M132.5 516.6h0M170.8 538.6h0M146 502.5h0M135.2 483.5h0M156.7 526.5h0M166.3 548.1h0M156 548.6h0M155.7 497.1h0M155.6 500.9h0M132.6 493.4h0M136.9 519.5h0M197 481.5h0M214.2 513.3h0M167.8 504.4h0M205.9 489h0M165.6 531.9h0M185.4 538h0M152.1 515.4h0M138.9 534.5h0M216.7 526.9h0M205.4 525.1h0M174 524.6h0M200.3 483.9h0M178.1 547h0M192.1 546.9h0M141.2 527h0M142.9 549.8h0M217.1 546.3h0M153.4 533.5h0M210.9 503.2h0M178.7 518h0M203.2 494.2h0M187.3 525.7h0M221.6 515.7h0M185.6 548h0M208.5 538.8h0M169.6 522.1h0M204.2 525.4h0M210.4 537.5h0M211.9 511h0M144.9 528.9h0M164.7 488.4h0M173.9 518.8h0M150.1 497.2h0M199.3 518.8h0M176.1 540h0M150.2 513.8h0M173.6 486.8h0M147.4 546.9h0M213.4 520.6h0M139.8 536.2h0M150.9 500.4h0M198.3 523.3h0M140.3 545.1h0M192.9 531.5h0M163.4 487.7h0M157.7 508.3h0M180.4 530.3h0M146.7 483.2h0M133.8 514.9h0M190.8 495.4h0M156 518.5h0M166.3 530.4h0M128.7 493.9h0M212.9 505.8h0M145.1 503.4h0M202.8 508.5h0M159.1 492.4h0M154.2 532.5h0M202.6 491.5h0M138.3 507.9h0M143.5 515.5h0M144.7 489.8h0M186 522.7h0M207.1 501h0M194.7 486.7h0M144.6 522.3h0M136.8 545.8h0M182.2 547.9h0M158.8 519.9h0M192.3 522.5h0M161.6 502.4h0M127.8 530.7h0M151.8 489.3h0M182.5 531.9h0M137 535.3h0M195.6 482.2h0M141.8 542.2h0M180.6 503.8h0M139.8 516.5h0M148.4 489.6h0M163.2 538.3h0M145.7 498.8h0M143.3 526.9h0M151.8 525.1h0M174 492.8h0M185.6 492.6h0M187.1 545.4h0M190.4 548.2h0M196.6 498.8h0M162.2 489.3h0M211.1 513.6h0M147.2 494.2h0M173.3 550.4h0M153.2 539.2h0M131 539.2h0M145.1 543.7h0M128.6 510.9h0M145 502.7h0M144.2 500.7h0" stroke="#4a4658" stroke-width="0.5" stroke-linecap="round" fill="none" opacity="0.7"/>
<path d="M146 552.7h0M207 547l0.8 0.5M197.8 535l0.6 0.7M131.8 517.1l0.5 0.8M142.5 487.6l-0.2 0.8M135.4 494.4l-0.5 0.6M192.3 541.4l-0.4 0.4M134.8 528.4l0.9 0.5M127.8 500.8l-0.6 0M150 546.1h0M191.5 547.3l-0.7 0.7M211.1 523.1l-0.3 0.8M178.4 486.4l-0.5 0.6M146.7 505.4h0M193.4 482.1l-0.3 0.8M221.6 501.9l-0.1 0.8M152.3 497.8l0.6 0.6M214.1 545.9l1.1 0.2M219.6 501.2l-0.6 0.6M146.8 548.9l-1 0.6M160 538.7h0M176.6 512.8l-0.5 0.7M169.3 517.1h0M150.6 483.2l-0.8 0.2M156.5 542.1l0 0.7M218.5 508.7l0.6 0.5M145.6 504.9l-0.6 0.1M160.4 538.4l-0.2 1.1M157.9 491.1l-0.7 0.6M156.6 546.3h0M143.7 508.6l0.6 0.5M147.4 546l-0.8 0.8M193.5 499.5l-0.4 1M158.1 513.9l0.7 0.7M204.7 488.5l1 0.5M138.5 507.2h0M220.4 506.4l0.2 0.5M129.6 516.9l0.4 0.3M188.8 499.2h0M201.6 530.8l-0.9 0.3M195.3 482.2l0.7 0.6M207.7 480.9l0 0.5M149.3 538.6l0 0.6M210.1 521.1l-0.3 0.5M216.2 539.1h0M127.1 536.9l0.5 0.2M172.5 491.2l-0.2 0.9M210 485.5l0.3 0.7M219.2 516.5h0M174.5 492.2h0M204.4 486.8l0.8 0.9M214 539l0.6 0.6M202.5 481.4l-0.2 0.6M202.8 531.9h0M170.4 521.8l-0.7 0.5M169.7 518.2l0.3 1M150.4 535l-0 0.6M149.5 543l1.1 0.2M146.7 518.2h0M130.5 507.4l-0.8 0.8M140.4 503.2l-0.7 1M161.4 528.6l-0.9 0.6M145.3 520.2l0.1 0.6M180.5 490.9l-0.9 0.7M155.3 491.2l0.7 0.2M158.4 490.3l-0.5 1M159.1 489.8l0.7 0.2M177.4 484.7h0M127.7 500.6l0.5 0.1M134 532.1l-0.8 0.1M153.9 490.8l0.9 0.6M160.5 540.4h0M200.8 531.4h0M145.1 490.9h0M172 493.6h0M159.9 499.1l-0.2 1.1M188.8 484.9h0M138.1 546.4l-1.1 0.4M145.6 503.9l-0.7 0.4M209.4 533.7l0.1 0.8M162.3 531.8h0M175.9 537.7l-0.8 0.6M140.1 504.4l0.7 0.1M159.2 490l-0.8 0.9M199.9 534.5l-0.7 0.5M193.8 482.5l-0.5 0.5M219.2 514.6l0.2 1M174.9 552l-0.5 0.9M188.6 504.7l0.4 1M135.5 499.6l0.6 0.8M206.4 534.9l0.6 0.6M173.1 536.5l-1.2 0.2M218.9 508.8h0M207.1 536.1l-0.7 0.9M151 536.3l-0.5 0.1M145.3 530.6l0.8 0.2M147.2 489.9l-0.7 0.8M193.6 544.5l0.4 0.5M191.7 546.6l-0.5 0M142.8 505.5l-0.3 1.1M133 516.4l-0.6 0.1M178.4 484.6l-0.3 0.9M158.8 491.7l-0.7 0.5M146.3 505.7h0M135.8 483.4h0M212.3 523.8h0M179.2 503.9l0.4 0.5M169.2 481.2l0.4 0.7M191.9 542l-0 0.6M128.1 517.1l-0.1 0.5M194.6 496.3h0M170.4 518.3l0.5 0.9M132.7 551.1l-0.5 0.1M197.6 534.9h0M180.2 549.2l-0.5 0.8M144.5 521.8l0.4 0.5M143.6 503.4l-0.6 0.6M135.1 529.8l0.7 0.8M197.3 549.1l0.7 0.8M151.5 535.4l-0.2 0.8M198.1 523l0.5 0.2M189.5 542l-0.1 0.7M174.5 492.7l-0.6 0.1M141.6 499.7l-0 0.8M201.4 515.2l-1 0.6M173.5 535.3l0.3 1.2M145.9 506.1l0.4 0.8M198.6 505.3l-0.5 0.3M188.3 505.2l-0.6 0.5M134.1 549.9l-0.5 0.2M134.9 498.3l1 0M196.4 547.4l0.5 0.8M203.6 488l-0.4 0.5M156.6 485.2l-1 0.1M155.3 489.1l-0.4 1M158.5 537.5h0M217.4 507.6h0M144.7 521.5l-0.6 0.9M199.8 529.9l1.1 0M150 546.8l-0.3 0.5" stroke="#5a2cb4" stroke-width="1" stroke-linecap="round" fill="none" opacity="0.85"/><path d="M216.9 506.2l-0.6 0.5M158.5 512.7l-0.6 0.6M175.1 487.7l0.5 0.7M146.1 532.9l0.8 0.7M167 519h0M133.1 528.6l-0.5 0.4M191.3 491h0M188 486.6l-0.3 0.9M144.5 552.6l-0.2 0.8M134.7 499.7l-0 0.8M150.7 534.2l-0.2 0.8M141.4 496.6l0.5 0.4M206.4 496.2l-0.7 0.5M220.7 502.9l-1 0.2M126.6 500.7l-0.5 0.5M213.4 505.8l-0.7 0.4M162.1 538.9l-0.6 0.3M129.3 520.1l-1.1 0.4M159 492.3l-0.9 0.6M150.8 483.3l1 0M175.1 512.7l0.6 0.3M151 482.6l-0.3 0.4M206.7 533l-0 1.2M139.6 487.7l-0.7 0.7M195.8 552.3l1.1 0.5M126.5 501.2h0M193.9 484.8l0.5 0.9M189.9 544.3l0.9 0.1M202.9 488.2l-0.6 0.3M205.8 479.5l0.8 0.5M147.7 526.5l-0.7 0.1M142.4 506.2l-0.5 0.5M134.6 489.2l-0.2 0.8M140.7 498l1 0.5M210.7 536.8l-0.1 0.9M214.2 494.6h0M210.4 488.9l-0.4 0.6M131.3 496.8l1.1 0.2M192.5 502.8l-1 0.4M194.2 539.4l-0.7 0.3M190.4 487.5l0.5 0.5M190.5 540.2l0.1 0.7M186.9 539.2l0.6 0.5M147.9 535.8l-0.1 0.8M151.5 543.5h0M191.3 499.6l-0.2 0.8M153.4 525.2l-0.2 0.5M158.5 510.4l0.5 0.4M192.3 549.9l0.6 0.7M161.7 530.9l-0.4 0.5M142.3 496.6h0M215.9 493l-1 0.2M216.5 539.9l0.6 0.1M159.5 499.2l0.1 1M145.9 492.5l0.1 0.8M200.7 486.9l-0.1 0.6M189.4 540.9l-0.3 1.1M204.3 497.3l0.4 0.8M189.3 530.4l1.1 0.5M160.7 501l-0.2 0.8M205.6 487h0M187.3 485.8h0M202.5 548.4l-0.1 0.8M147 550.2l0.4 0.6M163.2 539.7l0.8 0.2M211.4 479.8l0.4 0.7M178.4 516.4l-0.5 0.5M204.6 546.2l-0.2 0.6M143.8 534l0.3 1M138.4 505.1l1 0M211.2 483.1l0.4 0.8M154 490.4l-0.7 0.4M196.7 482.8l-0.3 0.4M221.2 513.3l0.4 0.3M208.7 480.8l-0.5 0.7M188.8 487l1 0.6M190.4 489.1l0.2 0.9M206.6 533.7l-0.4 0.7M141.3 550.5l-0.5 0.5M159.5 490l-0.5 0.8M186.9 503l-0.2 0.6M148.2 527.1l-0.6 0.7M212.2 522l0 0.6M210.9 489.2l-0.1 1M157 513.3l-0.6 0.7M127.2 499.9l0.9 0.3M209.2 534.2l-0.8 0.3M207.1 496.7l-0.3 0.7M208.1 492.9l0 0.5M151.5 540.2l0 0.7M217.1 508.4l0.3 0.4M161 499.9h0M169.5 517.4l-0.7 0.9M208.5 532.8l-1 0.1M218.5 493.1l0.3 0.9M194.7 482.5l-0.4 0.3M141.3 486.7l-0.4 0.8M138.3 546.3l0.4 0.6M192 539.2l0.5 0.2M192.7 540.8l-0.7 0.7M218.4 507.2l0.3 0.5M180.2 514.4h0M175 492.4l0.7 0.3M215.8 539.3l0.6 0.8M218.4 492.5l-0.9 0M137.2 546.3l-1 0.1M222.6 512.6l-0.1 0.6M135.9 496.1l-0.2 0.9M165 550.7l-0.3 1M144.6 506.3h0M177.1 510.4l-0.5 0.6M194.3 498l-0.3 0.8M150.5 542.3l-0.6 0.8M143.7 552.2l-0.1 0.5M202.2 491.3l0.7 0.5M215.6 492.5l-1 0.5M164.8 488.2l-0.1 0.6M192.5 481.6l-0.3 0.7M178.6 518.4l0.6 0.7M189.3 484.8l0.7 0.4M221 512.6l0.9 0.7M219.1 490.6h0M217.1 491.9l-0.6 0.5M218.1 544.3h0M189.9 541.7l0.4 0.9M208.1 535.7l0.7 0.4M148.8 507.2l0.1 1.2M136.4 545.5l0.5 0.9M179.7 548.9l1.1 0.2M175.6 498.6l0.4 0.5M215.3 540.4l0.1 0.8M170.3 481.2l0.7 0.9M175.8 532.4h0M140.5 487.5l-0.8 0.1M146.1 534.7l0.1 0.7M208.7 489.1l-0.7 1M181.2 517.2h0M212.4 540.7h0M168.8 485.5l-0.5 0.3M144.6 504.2l0.1 0.9M162.6 538h0M176.1 512h0M136.6 499.8l-0 0.6M217 506.1l0.3 1" stroke="#5a2cb4" stroke-width="1.5" stroke-linecap="round" fill="none" opacity="0.85"/><path d="M151.6 518.4h0M150.3 536l-0.9 0.8M134.6 488.7l-0.9 0.2M200.4 488.2l-0.6 0.4M220.1 491.7l0.6 0.2M141.5 496.4l-1 0.6M137.1 544.2l1 0.1M174.6 518l1.1 0.3M133.1 499.3l-0.9 0.6M219.3 501l0 1M173 493.6h0M206.2 532.8h0M161.9 537.7l-0.8 0.3M186.1 485.2l-0.8 0.8M204.7 486.7l-0.6 0.4M149.6 528.7l0.9 0.4" stroke="#5a2cb4" stroke-width="2" stroke-linecap="round" fill="none" opacity="0.85"/>
</g>
<rect x="27.3" y="555.2" width="95.5" height="72.4" fill="#ebe8ed"/>
<g clip-path="url(#ci3)">
<path d="M80.3 578.2h0M113.6 569h0M114.6 622.4h0M30.5 564.6h0M62.2 559.8h0M103.8 601.1h0M53.3 566h0M116.1 615.9h0M32.4 618.9h0M104.6 582.9h0M58.6 627h0M52.2 569.6h0M118.2 594.4h0M48.3 586.2h0M29.8 611.6h0M37.7 627.1h0M85.7 574.2h0M97.5 567.8h0M74.9 574.6h0M119.5 556.5h0M67 605.7h0M87.6 576.2h0M106.3 557.6h0M52.9 590h0M65.4 606.5h0M102.4 590.7h0M51.9 624.7h0M110.1 570.6h0M99.7 586.8h0M117.6 613.6h0M97.9 579.9h0M32.8 612.5h0M98.8 559.9h0M37 606.8h0M122.6 597.7h0M80.8 591.8h0M91.1 566.4h0M73.2 626.9h0M48.5 560h0M120.9 603.1h0M43.3 595h0M71.7 576.7h0M99.8 621.5h0M113.5 606.5h0M36.6 572.3h0M72.6 589.3h0M102.6 589.4h0M52.5 573h0M94.6 577.1h0M31.7 593.5h0M76.8 606.2h0M42.2 580.7h0M56.5 597.7h0M31.7 595.2h0M36.2 557.8h0M33.9 562h0M49.3 588.4h0M63.4 594h0M48.9 603.6h0M39.8 578.6h0M72.3 573.6h0M34.4 565.7h0M108.4 576h0M93.1 559h0M79.1 627.5h0M94.5 607.9h0M121.7 566h0M107.3 614.6h0M38.9 586.3h0M98 623.3h0M46.4 594.5h0M90.8 564.9h0M72.3 583.6h0M49.2 582.8h0M35.6 565.8h0M65.6 623h0M29.8 623.8h0M32.1 593.3h0M60 561.5h0M32.7 563.9h0M120.3 561.4h0M46 563h0M63.7 592.8h0M28.5 577h0M72.9 564.4h0M94.8 581h0M54.9 627h0M79.7 567.3h0M88.1 597.2h0M64.2 569.5h0M75.9 590.3h0M87.2 564h0M116.8 610.2h0M114.1 561.1h0M28.6 613.9h0M51.3 588.2h0M99.7 601.9h0M107.3 616.1h0M74.7 614.7h0M77.5 572.4h0M51.1 595.3h0M27.8 596.4h0M58.3 592.5h0M42.5 581.9h0M48.4 598.6h0M116.8 568.4h0M79.9 582.3h0M56.4 579.8h0M71 562.2h0M111.8 556.9h0M101.4 625h0M106.3 620.5h0M61.6 560.2h0M53.2 585.7h0M75 558.5h0M52.2 567.7h0M47.6 565.4h0M115 606.9h0M107.5 555.7h0M78.8 578.8h0M114.6 560.8h0M117.3 604.6h0M48.4 610.5h0M120.8 588.1h0M87 565.7h0M50.1 578.4h0M101.2 608.6h0M95.8 571.2h0M62.6 596.8h0M91.9 607.3h0M122 572.3h0M106.1 627h0M58 578h0M78.9 562.3h0M56 621.8h0M72.5 599.3h0M54 599.2h0M69.7 563h0M103.8 619.5h0M54.3 575.1h0M99.1 601.7h0M92.8 583.5h0M48.9 585.6h0M89.7 559.6h0M71.2 577.4h0M72.3 575.6h0M74.9 617.9h0M99.2 594.9h0M43.4 614.5h0M116.6 590.4h0M115.2 609h0M79.8 572.9h0M88.6 620.3h0M95.5 567.5h0M87.2 587.9h0M109.6 623.7h0M115.4 619.5h0M117.1 600.3h0M60.1 572.7h0M110.2 559.3h0M74.2 587.3h0M69.5 580.4h0M79.1 623h0M88.2 609.5h0M84.9 595.5h0M68.4 567h0M80.1 591.4h0M50.2 618.7h0M41.1 562.5h0M104.2 577.8h0M63.5 557.2h0M63.5 570.8h0M68.1 561.2h0M32.9 586.2h0M79 585.1h0M86.4 566.2h0M95.5 558.5h0M32.6 571.2h0M52.9 556.8h0M47.8 582.1h0M59.4 595.8h0M82.4 575.8h0M107.2 582.2h0M87.4 604.1h0M82.5 573.4h0M105.4 618h0M45.6 575h0M87.8 563.7h0M27.6 565h0M112 555.4h0M89.5 590.3h0M96.3 608.1h0M72.1 556.6h0M91.7 594.7h0M46.3 607.8h0M78.5 581.7h0M79.8 607.4h0M85.7 598.9h0M76.1 607.9h0M61.6 609.1h0M34.5 609.2h0M122.1 620.5h0M106.3 617.5h0M69.2 558.2h0M98.7 626.8h0M50.9 615.7h0M89.6 601.4h0M43.4 564h0M83.4 560.4h0M114.8 555.9h0M74.8 582.6h0M78.3 566.2h0M110.7 609.5h0M41.3 590.2h0M60.3 584.4h0M30.6 619.7h0M34.1 613.5h0M111.9 574.9h0M32.3 601.5h0M83.3 561.4h0M111.4 618.3h0M41.7 626h0M66.4 587.2h0M68.7 563.4h0M91 555.8h0M67.2 605.1h0M95.8 613.9h0M109.5 592.1h0M44.7 590.5h0M61.2 594.3h0M89.2 581.8h0M77.2 568.6h0M73.3 573.1h0M35.6 606.3h0M78.9 604.1h0M27.6 602.1h0M27.7 582.3h0M65.5 601.3h0M64.6 614.1h0M98 592.9h0M120.8 605.2h0M62.1 586h0M58.2 577.1h0M57 571.1h0M84 575.8h0M48.1 563h0M31 577h0M100.4 560.8h0M94.4 609.7h0M50.5 556.8h0" stroke="#8a80a8" stroke-width="0.5" stroke-linecap="round" fill="none" opacity="0.6"/>
<path d="M97 565.7l-0.6 0.2M38.4 590.9l-0.5 0.3M103.2 605.1l0.9 0.1M53.8 581.3l0 0.6M121.7 579.3l-0.7 0M86 574.1l0.7 0.6M87.5 618.1l-0.3 0.5M53.5 576.6l0.8 0M99.7 578.4h0M114.8 558.2h0M64.3 599.2l-0.8 0M120.5 562.5l0.8 0.3M111 567.2l-0.7 0.2M88.1 583.9l-0.1 0.6M66.5 594.6l-0.5 0.4M64.1 599.3h0M97.1 623.4l-0.1 0.7M59.7 581l0.7 0.6M100.3 584.2l0.8 0.4M101.5 555.3l0.8 0.1M33.5 599.7l0.7 0.4M71.7 560.9h0M97.5 617.2h0M68.7 589.2h0M55.1 560.5l0.8 0.3M50.4 607l0 0.5M52.8 616h0M81.6 586.3l0.8 0.2M122.2 609.5l-0.2 0.7M110.9 596.5l0.1 0.5M111.5 621l-0.3 0.4M80.9 628.5l-0.4 0.4M49.4 559.2l0.4 0.6M52.6 563.2h0M36.1 627.2l-0.3 0.9M86.9 577.5l0.3 0.4M118.6 608.5l0.7 0.6M63.3 615.8l-0.3 0.8M111.1 609.1l-0.8 0.4M56.5 584.7l0.5 0.2M118.8 597.5l-0.6 0.7M60.5 589.5l-0.4 0.4M99.3 577.9l-0.8 0.4M63.5 575.7l0.3 0.6M76.4 571.6h0M61 586l0.4 0.3M40.6 612l-0.9 0.1M61.4 601.8l0.7 0.5M103.9 600.3l-0.9 0.3M62.9 564.6l-0.3 0.4M27 611l-0.1 0.7M62.1 564.4l-0.6 0M119.8 601h0M89.2 572.5l-0.4 0.6M60.7 575.5h0M55.6 605.2l-0.5 0.4M67.2 603.4l-0.2 1M109.4 554.4l0.6 0.7M93.5 604.9l0.2 0.8M65.9 582.2l-0.5 0.8M42.4 563.1l-0.7 0.5M114 600.7l-0.8 0.2M52.3 609.8l-0.5 0.5M102.7 606.9l0.7 0.3M91.4 618.1l0.7 0.4M56.1 566.9l-0.5 0.3M57.3 609.4l0.7 0.1M52.4 568.2l0.1 0.8M63.7 574l0 0.8M113.1 568.3l-0.5 0.5M56.6 604.6l-0 0.6M90.8 586.2h0M73 599.6l-0 0.8M47.8 616.5l-0.4 0.7M54 600.5l-0.3 0.6M41.6 580.1h0M72.1 593.5l1 0M55.8 603l0.3 0.4M97 585.5l0.3 0.4M88 605.2l0.1 0.9M119.1 591.5l0.7 0.2M128.1 561.7l-0.3 0.8M48.8 556.7l-0.6 0.8M103.4 580.1l0.7 0.6M96.1 600.7l0.5 0.6M75.3 571.7h0M105.6 578.9l-0.4 0.6M119.7 575l-0.9 0.1M105.1 579.2l-0.1 0.9M101.1 606.1l-0.1 0.7M101.5 598.8l-0.6 0.5M52.5 563.2l-0.2 0.5M60.7 572.3l0.8 0.5M71.4 555.9l-0.5 0.1M116.9 613.5l-0 0.7M110.2 588.3l0 0.6M109 607.2l0.2 0.9M123.2 568.8l-0.3 0.7M67.3 563.2l-0.2 0.7M58.5 580.8h0M89.3 582.6l-0.1 0.5M43.4 579.8l0.7 0M73.3 604.9l0.6 0.5M106.5 597.5l0.4 0.4M74.1 589.3l-0.5 0.4M27.7 631.1l-0.1 0.9M67.8 607.5l0 0.7M87.3 610.4l0.6 0.8M69.4 579.2l0.6 0.7M51.4 607.2h0M76.2 628.4l0.6 0.4M37.6 605.1l-1 0.2M42.7 556.3l-0.5 0.3M108.8 629.9l-0.1 0.6M93.3 585h0M67.6 602.3l-0.5 0.4" stroke="#6442bc" stroke-width="1" stroke-linecap="round" fill="none" opacity="0.9"/><path d="M118.3 564.7h0M95.8 575l-0.3 0.5M76.4 627.6l0.3 0.7M105.8 580.9l-0.5 0.8M115.7 617l0.2 0.6M101.7 585.4h0M28.4 593.6l-0.6 0.1M33 559l0.4 0.9M70.2 595.9l-0.6 0M101.7 580.7l-0.6 0.6M111 617.8l0.9 0.1M57.5 585.5l-0.3 0.6M73.1 596.4l-0.8 0.1M47.9 566.6l0.3 0.6M94 580l-0.4 0.5M111.7 593l0.2 0.8M89.7 618.6l0.5 0.2M108.3 627.5l-0.9 0.4M41.8 586.6l0.9 0.2M112.3 625.3l-0.3 0.5M88.7 581.1l-0.2 0.6M86.8 609.9l0.6 0.4M33.7 605.9l0.6 0.2M62.4 571.2l-0.5 0.4M68.4 622.9l-0.7 0.7M73.5 619.7l-0.5 0.4M42.3 571.6l1 0M87.9 580.9l0.1 0.8M44.2 574.6l0.1 0.8M53.6 607l-0.3 0.4M113.4 607.5l-0.8 0M34 577.2l-0.6 0.4M113.2 604.1l0.6 0.5M71.1 629.8l0.9 0.2M55.6 568.1l-0.7 0M60.8 586.2l0.1 0.8M106.8 568.7l0.7 0.6M58.3 581.6l-0.8 0.4M85.6 574.5h0M106.6 585.6l0.7 0.2M85.3 623.1l0.7 0.6M53 608.7l-0.9 0.4M39.7 570.7l0.4 0.6M114.7 569l0 0.9M68.6 612l0.5 0.8M121.1 608.4l-0.8 0.3M75.2 595.1l-0 0.5M109.8 593.2l0.6 0.3M98.4 571.4l0.3 0.5M53.5 614.6l0.3 0.4M85.6 609.2l-0.8 0.4M126.5 568.3l-0.2 0.7M56.7 569.2l-0.5 0.1M105.8 597.7l-0.7 0.4M27.9 599.6l0.4 0.5M54.2 564.2l0.7 0.1M63.6 560.4l-0 0.6M107.2 592.3l-0.2 0.5M114.3 561.1l0.7 0.3M30.2 623.6l-0.5 0.7M104.2 600.6h0M113.5 561.3l-0.1 0.6M71.6 605.9h0M96.4 614.7l-0.7 0.1M74.3 602.7l-0.6 0.2M124.2 565.2l-0.4 0.7M32.1 625l0.3 0.6M73.4 591.1l0.1 0.9M37.7 577.8l0.5 0.5M107.1 578.4l-0.9 0.5M68.2 600.3h0M35.4 624.3l-0 1M51.1 580.3l-0.7 0.1M60.8 591.2h0M108.3 571.5l-0.8 0.3M114 569.7l-0.2 0.7M73.7 613.2l0.6 0.2M97.3 620.3h0M89.5 591.9l0.6 0.3M46.1 623.9l-0.5 0.1M78.3 581.4h0M110.8 562.5h0M110.6 600.4l-0.6 0.5M69.9 590.4l-1 0.1M118.4 603.5h0M66.9 614.9h0M112.5 576.6h0M49.7 564.4l-0.3 0.4M93.7 598.1l-0.7 0.6M60.1 623.8l-0.7 0.3M37.7 594.5l-0.2 0.5M30.8 613.4l0.2 0.9M53.6 609.6l0.9 0.4M119.7 562l-0.8 0.2M39.3 555.5l0.5 0.6M69.4 595.1h0M59.9 564h0M88.3 582.6l-0.5 0.5M110.4 560.7l0.5 0.1M114.4 612.3l0.4 0.7M56.1 564.6l-0.3 0.8M36.2 621.8l0.5 0M115.5 609.6l0.9 0.4M54.3 578.3h0M44.6 558.9l-0.4 0.4M50.6 579.4l0 0.6M61.3 560.2l0.5 0.3M76.9 587.7l0.7 0M29 593.7l0 0.6M122.1 569.3h0M41.8 581h0M101.5 615.6l0.7 0.6M79.1 570.3l0.5 0.5M111.4 583.6l0.3 0.5M56.8 579.4l0.7 0.2M32.9 565.4l-0 0.5M109.4 567.9l0.1 0.8M63 569.1l-0.8 0.3M45 611.9l0.4 0.5M105.7 566.6l-0.4 0.8M86 598.4l0.6 0M109.8 599.8l0.5 0.8M85.1 560.6h0M32.5 610.1h0M56.6 580.2l0.6 0.3M111.5 570.1l-0.5 0.2M50.3 588.1l-0.3 0.4M42.7 585.1l0.3 0.7M58.1 576.1l0.7 0.6M49.5 610.9l0.7 0.3M89.6 615.5l0.3 0.5M73.9 619l0.2 0.5M68.1 590.6h0M88.3 607.9h0M105.4 574.7l0.5 0.8M82.5 605.2h0M60.2 618l0.8 0.3M55 626.8l-0.8 0.3M80.5 580l0.5 0.3M101.7 583.4l-0.8 0.2M35.3 564.3l-0.1 0.8M103.7 587.5l0.6 0.4M65.1 622.1l0.2 0.5M31.4 595.1l0.4 0.7M117.1 608.6l-0.5 0.5M90.3 559.3l0.1 0.6M30 614.1l0.4 0.9M115.5 556.5l-0.7 0.6M78.5 617l-0.5 0.5M98.4 582.1h0M27 596.4l0.7 0.6M32.8 594.7l-0.6 0.7M41.2 606.7l-0.4 0.6M27.5 579.3l0.6 0.6M41.5 614.8h0M34.1 606l-0.3 0.4M109.1 582h0M71.1 591.9l-0.9 0.3M95.4 619.7l0.6 0.4M69.5 624.4l-0.7 0.2M88.6 562.6l0.2 1M107.8 593.8l0.5 0.6M123.2 611l0.4 0.6M38.1 610.1l-0.9 0.3M108.7 599.4l0.6 0.1M28.8 585.8l0.5 0.1M70.4 585.9h0M56.6 581.4l0.6 0.2M91.2 590.3l0.8 0.7M108.7 626.2l-0.6 0M93.6 589.2l-0.3 0.5M83.5 608.3l-0.1 0.5M64.7 574l0.3 0.4M100.9 579.9l0 0.5M46.5 564.5h0M57.1 565.3l-0.3 0.7M119.4 566.8h0M77.4 612.3l-0.5 0.6M42.1 583.6l1 0.1M95.7 618.6l-0.9 0.2M106.3 562.7l-0.1 0.6M98.2 595.8l0.7 0.4M62.6 559.6l-0.4 0.9M74.5 614.3l-0.4 0.3M98.7 555l0.4 0.8M86.2 583.8l-0.1 0.9M105.3 600l0.5 0.4M34.3 573.6l-0.1 0.7M98 604.5l-0.6 0.7M86.1 580l0.8 0.3M37 615.6l0.3 0.7M114.6 571.5l-0.3 0.7M65.7 618.2h0M63.4 602h0M107.3 568.5l0.7 0.4M71.3 587.2l0.2 0.8M64 586.7h0M91.8 623.1l0.2 0.8M102.4 598l0 0.9M123.6 575.8l0.6 0.7M55.5 621.3l0.5 0.5M91.1 577.8l-0.6 0.1M51.1 619.6l0.7 0.6M66.4 590.6l0.1 0.6M54.9 604.6l-0.2 0.7M47.9 608.7h0M95.8 577l-0.8 0.5M111.9 600.4l-0.6 0.7M55.2 599.1l-0.5 0.3M115 559.2l-0.7 0.6M108.1 573l0.4 0.8M56.4 576.9l0.8 0.2M30.8 555.6l0.5 0.6M112.3 623.9l0.7 0.4M33.7 594h0M100.6 620.2l-0.7 0.6M81.8 613.9l-0.5 0.9M91.5 578.5l0.9 0M65.4 558.5h0M54.1 572.1l-0.1 0.8M104.9 556.9l-0 0.6M89.5 577.6l0.6 0.3M117 559.3l-0.5 0M42.6 580.5l0.5 0.6M36.1 596.5h0M89.4 625.7l0.6 0.2M47.2 583h0M55.3 585.1l-0.4 0.7M91.3 563.3l-0.4 0.6M70.4 598.7l0.4 0.4M53.3 587.8l0.2 0.5M42.9 562.1l-0.1 0.6M56.6 589.4l-0.1 0.8M71.5 560.1l-0.4 0.9M118.5 566.8l0.9 0.2M105.1 573.9l-0.6 0.5M74.5 581.4l0.6 0.5M106.2 594.4l-0.6 0.2M55 570.8l-0.4 0.8M49.5 604.5l-0.4 0.4M90.2 571.1l-0.9 0.3M30.6 579.1l-0.7 0.2M108.5 620.9l0.8 0.6M107.6 575.5l0.6 0.3M122.2 570.1h0M74.4 622.4l0.2 0.6M60.9 567.7h0M54.9 585.8l-0.7 0.5M111.8 617.3h0M85.9 582.2l-0.9 0.2M38.1 575.5l-0.4 0.6M119.7 608.9l0.9 0.1M49.2 565.9h0M38.3 597.4l-0.2 0.5M99.9 613.8l0.5 0.7M115.1 613l0.8 0M74.6 607.5l0.7 0.3M88.2 584.1l0.6 0.6M64 574.6l0.6 0.6M27.4 626h0M50.9 558.5l-0.1 0.5M52.9 564.9l-0.7 0.3M88.1 596.4l0.3 0.5M94 558.9l0.4 0.8M108.2 624.6l0.6 0.2M78.6 614.1l0.6 0.2M106.9 629.6l-0.8 0.1M104.2 624.5l0.2 0.6M72.3 622.9h0M77.3 593.4l-0.1 0.6M104.2 624.1l0.3 0.5M76.7 603.8l0.5 0.2M102.4 608.8l-0.8 0.1M56.2 603.5l-0.4 0.5M99.1 571.7l0.5 0.6M56.2 583.7l0.8 0.6M90.9 611.1l0.1 0.8M93.9 568.8l0.3 0.5M84.1 555.6l-0.4 0.8M81.5 567.3h0M61.5 578.1l-0.8 0.5M34.4 564.7l0.4 0.8M73.1 625.9l0.5 0.4M53.4 578.9l-0.4 0.4M106.9 585.5l-0.9 0.2M73.9 595.4h0M109.5 572.1l0.2 0.8M57.6 576.1l-0.6 0.4M107.1 604.2h0M75.1 622.1l0.3 0.6M97.1 621.8h0M119.6 595.8l0.4 0.7M78.7 591h0M98.3 582.8l0.9 0.4M113.9 599l-0.7 0.5M67.1 619.5l-0.5 0.2M36.2 605.5l-0.7 0.2M119.1 604.3h0M110.8 584.7l-0.3 0.7M103.2 600.4l-0.6 0.1M27.7 568.8l0 0.6M40.3 600.4h0M81 570.2l-0.5 0.1M52.1 612.3l0.1 0.7M54.3 563l-0.8 0.5M41.7 569.8l-0.4 0.4M79.2 593.1l-0.2 0.6M109.7 583.4l0.7 0M106.1 566l-0.7 0.3M112.7 565.7h0M118.3 556.6l0.1 0.7M107.7 581.5l-0.1 0.8M66.8 589.3h0M68.6 564.5l-0.7 0.1M111 603.7l-0.2 0.6M123.2 578.2l0 0.8M53.6 556.2h0M116.8 624.6l-0.8 0.6M114.7 576.6l0.8 0.3M113.1 582.9l-0.5 0.2M46 626.7l-0.6 0.5M109.5 572.5l-0.6 0.2M77.4 626.8l-0.3 0.8M49.2 556.5l0.5 0.4M112.4 563.5l0.6 0.8M35 573.7l-0.1 0.6M36 579.7l0.8 0.1M54.7 578l0.6 0.4M109.9 572l0.4 0.4M111.4 628.1h0M33.6 569.2l-0.2 0.9M82.8 580.9l-0.4 0.7M62.7 593.1l-0.7 0.4M29.2 620.3h0M104.1 582.5l-0.4 0.4M79.8 571.9l0.7 0.3M55.6 607.2l-0.5 0.4M86.8 609.2h0M119 598.9l0.9 0.3M95.1 607.6l0.7 0.1M73.6 596.5h0M98.1 617.4l-0.3 0.7M96.8 621.2h0M88.9 594.3l0.5 0.8M46.8 559.2l0.8 0.3M57.9 577.6h0M40.7 601.3l0.7 0.3M89.4 579.5l-0.5 0.6M47.5 584.1l0.3 0.8M50.6 583.3l-0.6 0.2M98 593.7l0.1 0.6M80.8 570.7l0.6 0.3M88.9 577.1l0.5 0.1M74.9 600.2h0M28.5 586.2l1 0.1M76.1 610.9l-0.7 0.3M29.2 614.3l0.8 0.5M113.7 626.3l-0.8 0.3M68.1 578.1l0.3 0.7M67.8 602.2l0.8 0.3M96.4 576.1l0.5 0.4M54.7 562.4l0.7 0.6M52.1 579.4h0M40.6 601.2l0.5 0.3M43.9 623.2l0.1 0.9M43.9 616h0M48.2 563.3l-0.4 0.7M50.2 566.8l-0.4 0.5M68.1 590l-0 0.9M88.4 579.4h0M95.2 583.9l0.2 0.6M56.2 560.5l0.5 0.2M38.9 557.7l0.6 0.7M70.2 600.3h0M40.3 570.1l-0.9 0.1M32.5 597.6h0M89.8 564.4h0M114.2 563l0.2 0.7M108.6 603.5l0.5 0.6M120.9 605.7l-0.1 0.9M107.4 557.6l-0.6 0.4M94.5 591.5l-0.5 0.7M86.2 575.8l-0.2 0.5M102.9 575.7l-0.5 0.2M105.2 564.9l0.1 0.6M63.5 582l0.6 0.3M90.3 625.3l0.4 0.9M121.7 589.3h0M87.2 586.9l-0.1 0.9M67.3 576l0.1 0.7M33.5 592.6h0M46.1 563l0.2 0.6M90.4 588.6l0.6 0.4M88.7 566.2h0M85.6 573.3l-0.8 0.6M92.4 627.7l0.6 0.5M29.5 620.9l-0.6 0.4M48.7 601.5l-0.6 0.4M47.3 583.2l-0.5 0.2M79.5 616.2l-0.2 0.6M102.3 587l0.3 0.5M107.8 609.5l0.6 0.6M65.7 598.1l0 0.6M48.4 624.9l0.9 0.3M106.4 568l0.3 0.7M45.9 581.8l-0.4 0.5M121.6 557.4h0M83.1 571.9l-0.7 0.6M48.4 606.8l-0.3 0.8M59.9 564.3l0.7 0.2M108.9 625.3l-0.5 0.1M91.6 618.3h0M43.2 579.3l-0.3 0.7M68.1 588.5l0.1 0.5M96.5 582.1l-0.4 0.5M43.1 584.3l-0.6 0.5M101.8 606.9l0.8 0.2M82.5 554.9l0.6 0.7M51.4 557.6l-0.1 0.5M94.1 620.2l-0.1 0.8M99.6 594.8h0M111.9 588.3h0M40.5 578.2l-0.8 0.5M67.8 607.9l-0.5 0.3M111 571.5l0.7 0.5M27.4 578.9l0.8 0.3" stroke="#6442bc" stroke-width="1.5" stroke-linecap="round" fill="none" opacity="0.9"/><path d="M28.9 598.4l0.3 0.7M111 622.1h0M87.7 574l-0.6 0.6M52.8 610.6l0.7 0.4M99.6 590.7l0.3 0.8M70.7 592l-0.6 0.5M115.6 614.6l-0.7 0.4M123.8 613.8h0M110.1 594.9l-0.4 0.5M26.8 619.8l0.1 0.7M85.8 624.2l0.4 0.4M53.4 574.8l0.2 0.8M56.6 568.2l-0.4 0.3M106.3 577.7l-0.6 0M33.9 628.6l0.5 0.2M99 591.4l-0.8 0M85.1 574.9l-0.7 0.1M105.2 610.3l-0.5 0.7M87.6 569.4l0.3 0.7M75.2 597.3l0.4 0.4M101.5 572.3l-0.7 0.6M120.7 593.9l0.6 0.3M68.1 623.6l-0.6 0.8M88.9 571.7l-0.9 0.1M49.4 561.1l0.3 0.8M109.1 583.3l0.2 0.6M42.4 563.3h0M103.9 583l-0.9 0.1M87.5 584l0.2 0.6M80.5 612.6l-0.9 0.1M87.1 558.9l0.6 0.1M123.4 609.5l-0.4 0.6M53.3 573.2l-0.1 0.8M68.2 613.6l-0.1 0.8M37.9 601.1l0.4 0.3M36.3 615.5l-0.8 0.3M67.3 590.2l0.3 0.9M70.6 570.7h0M29.5 601.5l0.1 0.5M118.5 621.5l0.8 0.2M101.7 573.4l-0.8 0.1M75.3 567.6h0M37.3 575.5l-0.6 0.5M93 615l0.1 0.9M89.6 579.2l-0.5 0.2M118.2 563.6h0M98.4 579.9l0.7 0.4M56.8 559.2h0M95.2 582.4l-0.4 0.7M115 631.9l-0.8 0.2M107.1 622.7h0M56.2 582.3l0.9 0.3M88.9 621.5l-0.5 0.5M91.8 585.4l0.8 0.1M53.7 601.6l0.7 0.4M73.3 586.2l-0.4 0.3M38.6 620.6l-0.4 0.5M114.6 566.2l0.4 0.6M48.1 580.5h0M53.1 586.7h0M118.3 557.9l0.6 0.1M54.4 609.7l0.3 0.5M68.2 573.8l-0.7 0.1M117.9 558.1l-0.5 0.5M37.1 611l0.7 0.2M75.2 610l-0.4 0.9M94.3 564.5l-0.4 0.6M56.1 570l-0.7 0.1M70.8 626.7h0M41.5 605.2h0M82.9 554.4l-0.9 0.3M110.4 589.2l0.7 0.2M94.8 571l-0.5 0.6M76.5 602.3l-0.7 0.1M99.6 581.6l-0.3 0.8M109.2 556.3l-0.4 0.8M120.3 561.5l0.6 0.1M119.6 560.7h0M59.4 576.2h0M108.8 574.7l0.3 0.7M101.4 572.7l0.4 0.5M103.5 631.4l0.4 0.4M32.9 617.9l-0.1 0.8M110.8 588.2l-0.9 0.3M70.7 606.1l-0.6 0.7M98.9 575.9l-0.6 0.8M105.3 612.2l-0.5 0.2M121.8 580.1l-0.5 0.1M52.7 601.4h0M49 596.2l-0.4 0.6M70.6 627.1h0M36.6 595.5h0M52.8 581l-0.6 0.2M57.6 604.5l0 0.7M115.4 564.3l0.9 0.5M52.6 581.2h0M85.4 555.4l0.3 0.6M62.1 623.5l0.6 0.8M55.9 556.1l-0.5 0.2M65.7 567.1l0.4 0.4M75 562.2l0.5 0.4M57.2 581.7l-0.5 0M57 578.5l0.1 0.5M93.6 571.3l0.6 0.1M121.3 571l-0.5 0.5M78.9 564.6l0.2 0.7M52.7 573.4l0.5 0.6M86.4 579l-0.4 0.4M31.6 603.1l-0.5 0.4M71.8 590.4l0.7 0.4M111 570.4l0.5 0.2M101.9 621.2l-0.6 0.4M114.7 603.4l0.6 0.3M27.4 559.8l0.6 0.4M70.5 617.7l-0.3 0.5M54.5 576.7l0.1 0.5M116.4 617.5l-0.5 0.4M31.1 594.6l0.7 0.1M101.2 558.9l0.6 0.3M108.6 561.1l-0.1 0.9M122.9 561l-0.1 0.6M116.4 559.8l-0.1 0.6M91 620.6l0.4 0.7M74.8 613.6l-0.3 0.4M33.5 593.9l0.3 0.7M115 589.6l-0 1M57.8 628.3l0.6 0.3M30.1 603.3l-0.6 0.6M55.4 571.2h0M35.8 602.4h0M88.7 568.9l-0.2 0.7M119.9 609.6l-0.6 0.2M48.6 560.2l-0.5 0.2M98.8 604.3l-0.5 0.3M73.3 569.9l0.5 0.1M100.5 572.1h0M114.8 627.3l-0.8 0M105.3 582.2h0M32.2 605.6l-0.7 0.4M102 624.1l-0.1 0.9M115 555.7l-0.4 0.9M67 598.1l-0.4 0.3M43.8 596.5h0M93.7 571.1l-0.5 0.7M59.5 617.4h0M112.5 632.8l-0.6 0M103.8 609l-0.2 0.5M113.3 631.2l-0.7 0.1M54.9 573.2l-0.6 0.5M122 559.9l-0.1 1M44.8 564.2l0.8 0.5M113.8 555.2l0.6 0.7M114.5 586.1l-0.9 0.5M120.2 557.1l0.1 0.9M29.6 624.9l0.4 0.5M33.8 601.8l-0.7 0.6M65.5 588.7l-0.8 0.5M58.5 578l-0.5 0.8M76.2 616.2l0.7 0.1M99.2 579.8l0.6 0.7M40.8 619.3l-0.2 0.7M104 579.2h0M99.1 578.2l0.1 0.7M75.1 560.8l0.5 0.1M96.6 576.3l0.5 0.6M55.8 554.3l-0.1 0.5M87.7 616.2l-0.5 0.1M65.5 573.5l0.3 0.6M46.3 604l-0.3 0.7M115.8 563.7l-0.3 0.8M43.2 557.6l0.3 0.5M52.9 558.4l-1 0M53.8 609.3l0.1 0.6M101.7 611.1h0M73 590.7l0.6 0.5M54.7 597.5l-0.8 0.5M74.7 567.6l-0.9 0.1M81.4 613.5l0.7 0.1M119.7 566.5l0.7 0.6M99 597.3l-0.9 0.4M85.5 557.3l0.5 0.6M94.2 578.5l-0.5 0.8M28.1 582l0.3 0.7M56.4 602.8l-0.6 0.8M56.3 565l-0.1 0.5M67.6 602h0M75.3 596.7h0M114.1 626.2l0.5 0.3M69.7 589.6l-0.7 0.2M115.6 563.5l-0.3 0.7M105.1 585.2h0M34.5 624.2l0.7 0.7M102.9 586l0.1 0.6M53.2 584.6l-0.6 0.4M52.2 556.9l-0.2 0.9M48.9 587.3h0M103.4 578.1l-0.7 0M77.9 591.6l0.8 0.4M116.4 587.7l0.5 0.5M79.7 560.9l-0.1 0.6M87.6 576.8l0.1 0.9M111.3 560.9h0M49 556.5l-0.4 0.7M77.3 559.4l0.4 0.9M104.5 627.8l0.6 0.1M119.8 571.6l0.8 0.6M63.9 600.8l-0.6 0.5M119 573.7l0.4 0.5M117.9 558.8l0.6 0M93.2 621.3l0.3 0.6M75.4 583.2l0.5 0.9M98.1 622.8l-0.4 0.3M116.8 609.8l0.4 0.8M69.7 622.4l0.3 0.9M78.6 579.5l0.7 0.6M97.2 554.8l-0.3 0.8M36.4 592.7l0.6 0M118.6 612.2l-0.2 0.8M107.8 618.1l0.4 0.9M59.5 606.2l0.2 0.6M102.1 579.2h0M122.4 620.7l-0.7 0.1M47.6 584.5h0M55.7 577.9l0.2 0.7M50.1 589.8l0.3 0.4M34.9 582.8h0M117.7 585.3h0M71.6 617.1l-0.2 0.7M30.1 631.7l-0.6 0.1M54.9 607.3l0.5 0.4M31 592.9l-0.5 0.3M114.4 580.6l-0.9 0M91.6 584.4l0.1 0.5M115.5 605.6l0.2 0.8M56.1 580.3l-0.7 0.5M25.8 564.4l0 0.9M102.1 600.7l-0.9 0.2M123.5 584.2l-0.8 0.3M98.6 572.3l-1 0.1M113.2 589.7l-0.5 0.2M44.1 567.6l-0.2 0.7M59.8 623.1l0.6 0.8M90 582.6l-0.5 0.5M58 562.1h0M105 621.6h0M99.3 577.8l-0.4 0.3M111.6 582.8l0.1 0.8M56.3 614.6l-0.6 0.5M53.9 602.4h0M66.1 586.9l0.6 0.4M56.4 590.8l-0.7 0.4M94.4 573.2l-0.6 0.5M55.3 573.1l-0.5 0.3M120.6 586.5l0.7 0.2M113.1 565.5l0.3 0.4M73.3 570.6l0.5 0.3M57.9 564.8h0M92.3 616.1l0 0.9M57.5 616h0M38.3 597.6l0.7 0.7M61.2 587l-0.6 0.6M51.6 578.4l0.7 0.2M40.4 578.9l-0.7 0.3M39 575.8h0M120 608.4l-0.7 0.2M97.1 579.2l-0.1 0.7M98.3 567.4l-0 0.6M57.4 614.9l-0.1 0.7M84.6 576.2l-1 0M44.8 571.7l0.3 0.6M35.6 606.5l-0.6 0M115.3 582.4h0M120.1 592.8l0.9 0.1M89 618.9l-0.7 0.6M103.9 603.5l0.7 0.1M97.1 600.5l0.4 0.8M113.3 595.7l-0.4 0.8M40 605h0M74.9 609.9l0.8 0.2M47.2 563.4h0M58.8 582.7l0.1 0.7M65.4 621.3h0M117.2 579.6l-0.6 0.3M58.2 600.6l-0.7 0.4M121.3 605.7h0M82.9 577.8l-0.6 0M67.8 604.6l0.4 0.3M69.6 614h0M104.4 586.6h0M74.4 615.5h0M41 581.9l-0.5 0.3M87.7 557.1l0.5 0.5M107.4 598.9l-0.5 0.1M102 605.4l-0.3 0.5M84.5 604.3l-0.9 0.3M106.7 581l0.9 0M51.6 622.9l0.3 0.8M31.8 599.9l-0.5 0.5M119.9 570.3l0.1 0.5M54 569.5l0.6 0.2M63.7 590h0M104.6 587.9l0.6 0.4M69.1 603.1l0.7 0.1M111.4 598.9l-0.1 0.5M104.8 596.2l-0.4 0.5M67.3 625.4l0.8 0.3M120.6 567.4l0.2 0.8M69.7 567.4h0M104.9 582.8h0M43.7 583.5l0.6 0.4M67.4 587l0.2 0.9M73.4 601.2l0 0.6M69.3 609.3l-0.1 0.5M47.6 565.3l-0.4 0.6M119.6 570.1l0.2 0.7M87.2 608.6l-0.8 0.6M64.4 591.9l-0.5 0.3M41.6 577.2h0M119.2 591.9l-0.7 0M68.4 586.3l0.6 0.3M113.9 622.3l-0.7 0.6M64.6 592l0.1 0.5M47.8 559.1l0.8 0.2M94.4 584.4l0.1 0.5M99 609.3l0.6 0.6M111 563.2h0M45.6 561.4l-0.1 1M70.7 592.7l-0.2 0.8M36.5 603.3l0.7 0.7M74.6 598.2l-0.3 0.9M59.3 589.2l-0.5 0.1M127 567.7l-0.5 0.6M38.2 599.6l-0.4 0.8M72.2 600.2l-0.5 0.4M39.9 559.1l0.4 0.3M97.7 599l0.7 0.4M31.4 623.9h0M81.3 586.1l-0.6 0.2M67.6 596.3l-0.8 0.3M34.5 605h0M57.2 608.2l0.5 0.5M113.3 578l0.5 0.6M113.1 583l-0.9 0M59.1 604.4l0.7 0.5M69.8 588.7l-0.8 0.2M51.6 603.8l0.7 0.4M97 604.8l-0.8 0.3M111.6 565.9l-0.2 0.6M110.5 600.6l-0.5 0.5M119.2 619.8l0.8 0.5M118.6 554.3l-0.7 0.5M47.8 575.2l-0.3 0.8M119.9 561l0.1 0.7M89.6 608.2l-0.5 0.3M52.6 609.4l0.6 0.2M56.7 573.1l0.6 0M112.3 560h0M31 597.7l-0.3 0.8" stroke="#6442bc" stroke-width="2" stroke-linecap="round" fill="none" opacity="0.9"/>
</g>
<rect x="127.2" y="555.2" width="95.5" height="72.4" fill="#efeee9"/>
<g clip-path="url(#ci4)">
<path d="M169.8 602.4h0M128.2 560h0M209.2 619h0M183.5 608.3h0M210.8 568.3h0M147.7 582.6h0M191 562h0M213.1 617.9h0M130.4 596.2h0M207.6 563.1h0M216 576.3h0M170.1 621h0M161.6 616.9h0M212.2 579.4h0M188.5 565.9h0M179.6 601.8h0M191.6 612.5h0M220.3 621.5h0M137.5 575.3h0M184.8 604.1h0M222.5 593.4h0M127.5 568.3h0M222.5 601.7h0M154 619.2h0M212.1 619.4h0M167.6 585h0M192.9 560.5h0M152.4 560.3h0M148.4 581.2h0M148.8 588.6h0M158.1 620.9h0M183.9 565.4h0M163.5 595.2h0M150.2 622.4h0M217.7 606.2h0M159.3 588.8h0M182.4 619.4h0M132.4 617.8h0M129.8 621.7h0M176.9 620.9h0M211.9 617.3h0M158.6 595.1h0M200.2 561.7h0M207.6 618h0M132.5 614.6h0M210.7 621h0M151 618.8h0M200.2 586.3h0M203.1 580.5h0M169.1 623.1h0M196.2 590.3h0M214.1 617.6h0M132 601.2h0M185.6 622.4h0M187.4 605h0M143.6 624h0M186.1 580.4h0M130.4 581.1h0M202.5 556.5h0M217.7 619.7h0M195.6 571.5h0M147.3 591.4h0M164.4 618.8h0M148.2 615.8h0M181.6 585.7h0M156.2 615h0M185.4 613.8h0M167.1 618.9h0M135.5 624.1h0M189.6 623.1h0M171.8 571.6h0M148.8 607.9h0M153.6 574.2h0M181.4 562.5h0M201.1 581.8h0M156 611.2h0M128.5 604.6h0M206.6 610.6h0M191.9 621.8h0M222.4 558.2h0M192.6 597.5h0M145.2 618.6h0M139.4 601.4h0M137.7 601.1h0M134.1 583.1h0M160.5 612.7h0M203.1 589.2h0M181.6 624.2h0M219.3 555.7h0M217.1 599.8h0M180.5 562h0M164.6 609h0M130.2 557.4h0M128 592.3h0M211.3 604.7h0M162.6 586.4h0M170.2 621.6h0M186.1 616.5h0M190.1 583.6h0M132.9 602.3h0M176.2 592.4h0M147.6 594.8h0M168.1 625.4h0M202 556.4h0M203 556.5h0M212.1 603.9h0M171.9 611.2h0M158.3 581.8h0M152 563.3h0M215.7 561.5h0M166.8 587.2h0M212.9 570.1h0M210.3 575.1h0M137.7 560.6h0M174.6 585.3h0M150.6 627.4h0M144.5 610.6h0M162.1 589.4h0M139.8 581.4h0M169.4 556.5h0M180.1 557h0M138.7 584.2h0M217.2 568.6h0M155.7 555.4h0M210.3 617.4h0M187.2 564.5h0M172.2 595.8h0M182.7 623.1h0M207 625.3h0M152.9 570.4h0M189.7 584.9h0M203.3 615.5h0M166.1 586.9h0M170.8 599.6h0M133.8 579h0M158.8 616.8h0M149 558.3h0M140.8 593.3h0M128.8 609.8h0M153.2 619.5h0M213.8 583.8h0M189.6 574.3h0M199.4 561.6h0M211.8 589.4h0M219.1 624h0M201 612.7h0M136.4 583.5h0M129.1 620.5h0M175.7 584h0M185.8 611.9h0M154.7 611.4h0M171.2 562.4h0M165 626.5h0M131.6 595.1h0M161.2 617.5h0M195.8 587.9h0M144.6 592h0M139.9 592.1h0M183.9 575.1h0M221.6 555.4h0M184.3 571.7h0M144.3 562.3h0M196 606.8h0M159.4 564.2h0M183.6 593.6h0M186.7 608.7h0M153.2 599.2h0M130.5 610.6h0M137.5 621.7h0M150.1 614.7h0M170.6 592.7h0M140.2 588.4h0M216.4 620.9h0M142.6 559.3h0M200.2 591.4h0M170.2 588.3h0M204.2 590.1h0M131.9 608.1h0M147.9 576.9h0M208.2 593.1h0M150.1 591.4h0M158.1 569.5h0M137.2 569.7h0M183.2 586.1h0M188.6 559.3h0M219.4 555.3h0M152.4 613.2h0M190 598.2h0M149.4 598.9h0M218.2 615.4h0M205.5 616.7h0M130.8 591.8h0M220.9 624.5h0M204.6 568.6h0M221.5 568.1h0M189.3 620.9h0M169.4 592.4h0M209.9 598.2h0M213.7 627.1h0M169 617.5h0M196.7 586.7h0M137.5 624.4h0M141.7 562.3h0M194.6 623h0M189.2 623.9h0M136.2 620.1h0M150.6 599.3h0M141.1 583.4h0M151.1 608.3h0M149.3 579.5h0M128.2 606h0M211.6 583.5h0M217.8 607.7h0M171.3 584h0M144.4 577.6h0M153.4 587h0M173.9 588.7h0M213.5 600.3h0M176.2 593h0M171.8 598.4h0M189.2 564.1h0M219.9 591.8h0M177.4 586h0M157.3 610.2h0M203.9 571.8h0M170.1 585.4h0M219.9 607.4h0M218.4 604.7h0M181.2 570.5h0M149 584.4h0M208.4 571.2h0M215.2 588.2h0M156.6 591.5h0M184.6 583.5h0M196.8 603.7h0M214.8 573.1h0M221 579.2h0M218.7 557.9h0M211.8 560.5h0M209.8 605.7h0M197.2 566h0M176.4 578.6h0M171 565.7h0M163.6 616.5h0M127.7 575.7h0M211.3 612.2h0M130.9 625.9h0M212.1 625.8h0M214.6 577.1h0M186.5 617.2h0M205.7 580.5h0M211.8 563.1h0M207.2 601.9h0M209.9 571h0M136 591.9h0M146.4 583.8h0M155.4 566.6h0M147.8 614.7h0M174.4 601.9h0M207.9 567.7h0M153.7 620.1h0M169.6 622h0M155.3 601.3h0M218 594.4h0M145.2 567.6h0M179.7 598.4h0M202.9 565.8h0M160.5 626.7h0M159.8 627h0M218.3 596.9h0M141.3 580.2h0M158.2 616.6h0M192 590.4h0M131.7 580.8h0M201.3 605.9h0M156.6 599.8h0M207.9 560h0M219.1 606.7h0M170.2 557.4h0M170.2 556.4h0M185.1 605.6h0M203 590.7h0M154.2 587.7h0M157.8 598.5h0M173.8 605.8h0M172.5 565.9h0M189.6 567.7h0M201 609.1h0M180.7 575h0M164.6 591.6h0M135.2 584.6h0M159.4 615.2h0M203.7 580h0M190.1 607.6h0M201.6 566.3h0M173 608.7h0M179.4 578.8h0M203.5 575.5h0M211.3 607.9h0M167.9 616.5h0M201.9 573.3h0M181.8 581.2h0M202.6 582.2h0M178 609.8h0M157.5 615.3h0M203.8 625.1h0M154.6 606.6h0M221.1 574.1h0M174.6 614.3h0M132.1 576.7h0M186 576.5h0M130.1 603.3h0M153 623.1h0M195.3 624.9h0M135.9 601.9h0M181.6 573.7h0M177.7 569h0M198.8 601.7h0M146.1 564.5h0M211.8 577.3h0M150.7 606.2h0M220.3 572.1h0M200 587.4h0M132.4 624.5h0M210.5 562.7h0M153.3 598.8h0M132.6 625.3h0M164.3 587.7h0M154.3 603.9h0M136.6 586.8h0M215.7 619.9h0M169.2 579.5h0M132.3 590.8h0M154.4 557.6h0M155.2 564.7h0M205.4 570.4h0M179.1 626.6h0M201.4 556h0M155.6 560.6h0M208.3 626.1h0M170.5 623.6h0M144.6 568.9h0M219.1 561.6h0M141.6 623.1h0M188.4 580.9h0M167.1 626.7h0M205.1 575.2h0M220.2 606.9h0M173.8 611.1h0M182.7 556.8h0M146.2 556h0M139.2 576.1h0M214.9 597h0M203.4 623.4h0M205.1 561.5h0M154.2 593.9h0M187.5 586h0M213.2 614.7h0M139.1 556.4h0M178.1 587.4h0M193.6 568.3h0M144.9 590.5h0M162 576.4h0M210.5 563.4h0M148.8 570.1h0M187.8 565.9h0M146.1 624.8h0M170.3 588.7h0M169 563.6h0M192.6 600.1h0M156.1 565.8h0M221.6 593.1h0M151.9 579.5h0M181.1 569.7h0M219.7 589.4h0M132.9 625.4h0M194.9 584.7h0M164.5 567.8h0M205.5 592.9h0M152.5 618.7h0M194.7 611h0M171.9 557h0M137.4 588h0M143.5 615.2h0M212.7 618.3h0M145.9 586.2h0M195.8 571.6h0M129.6 607.6h0M129.1 599.7h0M165.8 604.6h0M173.1 571.8h0M194.5 585.8h0M220.5 584.1h0M130.6 625.5h0M133.3 563.3h0M166.3 574h0M155.8 560.3h0M219.4 558h0M222.7 574.8h0M168.8 606.4h0M157.2 588h0M144 586.7h0M220.9 612.9h0M202.6 571.8h0M194.6 585.1h0M192.6 584.8h0M131.2 592.9h0M132.3 604.1h0M165.8 579.5h0M160.2 559.5h0M151.1 624.5h0M153.7 610.3h0M196.9 609.2h0M195.3 605.5h0M158.2 567.1h0M202 620.3h0M183.6 613.5h0M199.9 599.7h0M166.9 612h0M140.8 588.9h0M152.2 561.4h0M192.2 623.7h0M200.6 622.3h0M219.5 562.9h0M189.5 570h0M160.7 575.4h0M154.2 559.3h0M162.7 591.2h0M215.8 591.7h0M187.1 587.9h0M192 572.1h0M170.5 564.9h0M161.2 612.8h0M150.3 567.5h0M149.5 614h0M201.9 558.9h0M201.2 571.8h0M218.7 556.9h0M153 577.7h0M173.1 570.1h0M195.6 571h0M156.2 593.4h0M221.4 568.7h0M141.6 601.6h0M191.4 615.7h0M185 621.3h0M149.7 608.5h0M217.6 612.4h0M137.7 582.3h0M157.1 607.9h0M132.6 560.2h0M181.1 587.9h0M150.2 607h0M180.5 614.2h0M137.8 598.8h0M151.1 580.3h0M133.5 613.2h0M178.1 603.3h0M141.3 626.5h0M148.3 568.9h0M173 558.2h0M128.8 563.4h0M201.5 592.9h0M190.1 605.8h0M176.1 606.5h0M163 622h0M216.2 603.2h0M222.2 555.2h0M147.4 613.9h0M193.2 557.2h0M127.3 620.7h0M165.4 603.7h0M183.2 562.7h0M132.5 620.9h0M140.9 615.2h0M180.5 609.2h0M163.2 626.2h0M203.4 582.5h0M177.4 608.7h0M191.3 607.5h0M153.2 617.3h0M132 573.1h0M202.4 572.1h0M221.7 617.5h0M217.7 562.5h0M150.8 626.5h0M178.5 619.9h0M175.5 594.9h0M165.1 591.2h0M133.1 576.1h0M180.2 604.6h0M220.5 598.1h0M159.1 570.3h0M204.5 578.3h0M151.4 600.6h0M191.8 608.2h0M136.4 606h0M217.1 574.3h0M187 570.5h0M197.9 614h0M139.8 593h0M149.2 593.5h0M220.9 602.2h0M177.3 614.4h0M162 559.8h0M205.2 615h0M208.1 624.1h0M210.5 615.6h0M183.2 566.5h0M197.6 600.1h0M218.4 607.2h0M205.3 577.2h0M178.9 585.1h0M167.8 582.1h0M139.2 610.7h0M146.2 619.7h0M152.3 563.9h0M165.9 583.3h0M178.3 574.2h0M208.3 584.2h0M193.5 608.6h0M186.5 625.5h0M143.6 561.6h0M134.1 617.5h0M142.2 615.7h0M173 569h0M151.3 571.9h0M128.1 559.8h0M134.7 578.1h0M162.3 566.2h0M149.7 625.1h0M211.2 618.3h0M175.1 621.6h0M171.6 599.2h0M148.3 563.9h0M222.5 624.2h0M138.9 619.5h0M189.6 572h0M128.4 578.5h0M203.1 591.8h0M128.3 593h0M169.1 574h0M183.1 624h0M187.5 597.1h0M149.8 568.8h0M166.7 625.1h0M152.4 604h0M146.1 590.1h0M203 559.8h0M194.5 558.4h0M166.1 597h0M193.2 609.8h0M162.6 615h0M184.2 584.6h0M184.6 558.1h0M212.1 574.6h0M140.5 564.8h0M195.6 556.9h0M172.1 584.7h0M139.8 610.4h0M153.9 578.3h0M170.4 620.1h0M185.2 569.1h0M184.8 565.8h0M219.1 575.8h0M164.6 599.7h0M130 566.1h0M133.1 617.7h0M221.1 596.6h0M222.1 564.5h0M178.6 558.1h0M197.6 576.2h0M134.4 563.1h0M162.5 567.4h0M166.4 575.4h0M174.3 601.3h0M134.7 559.4h0M138.3 565.9h0M176.6 576.8h0M157.5 606.6h0M166.6 594.3h0M194.6 575.4h0M132.7 556.4h0M131.7 555.7h0M136 568h0M192.4 575.8h0M173.2 616.3h0M145.7 593.6h0M191.9 571.8h0M200.9 610.3h0M140.3 572.6h0M196 586.3h0M151.4 617.3h0M178.3 625.3h0M156.8 605.1h0M179.8 596.6h0M182.1 568h0M139.5 598.2h0M219.8 557h0M200.2 580h0M171.3 573.4h0M202.7 559.2h0M177.8 578.6h0M154.1 578h0M155.5 580.9h0M131.2 583.6h0M202.8 606.6h0M131.6 574.7h0M222.2 586.1h0M201.8 568.6h0M148.7 608.7h0M142.5 618.8h0M203.3 574.1h0M203.2 617.4h0M192.6 617.3h0M151.5 566.1h0M138 623.9h0M202.8 569.5h0M201.2 613.8h0M143.9 577.2h0M131.4 570h0M183.2 616.2h0M158.8 620.1h0M139.7 564.3h0M158.4 618.1h0M197 611.2h0M191.7 594.6h0M127.6 622.2h0M184.9 565.6h0M159.7 617.8h0M163.3 555.3h0M183 573.3h0M133.6 557h0M136.1 572.6h0M143.4 559.1h0M134.6 614.3h0M177.9 572.9h0M178.4 622h0M206.3 613.6h0M178.5 567.4h0M184.2 575.5h0M168.1 570.2h0M184.4 581.9h0M155.2 578h0M144.3 572.8h0M175.4 622.5h0M217.1 571.5h0M222.4 574.5h0M173.1 616.8h0M187.9 557.8h0" stroke="#5a5670" stroke-width="0.5" stroke-linecap="round" fill="none" opacity="0.65"/>
<path d="M193 584.1l0.5 0.6M201.3 566.8l-0.7 0.2M153.9 555l0.6 0.2M197.7 586.9l-0.1 0.7M182.6 614.1h0M154.6 564.2l0.8 0.1M136.2 600.2l-0.1 0.5M223.4 593.4l0.4 0.6M211.8 576.4l0.5 0.2M138 625l0 0.7M195.1 598.5l0.7 0.2M221.7 612.6l0.6 0.1M214.2 596.2l-0.1 0.6M194.9 561.9h0M179 625.6l0.7 0.3M194.2 580.5l-0.5 0.3M156.8 616.5l0.5 0.3M170.9 569.1l0.4 0.6M208.4 567.4l0.3 0.7" stroke="#6a3cc0" stroke-width="1.5" stroke-linecap="round" fill="none" opacity="0.85"/><path d="M154.7 595.1l0 0.6M161.4 588.2l-0.2 0.7M220.7 618.2l0.1 0.5M223 602.6l-0.6 0.2M215.8 572.5l-0.3 0.7M190.3 594l-0.8 0.2M194.8 587.9h0M204.4 596.6l0.6 0.3M128.5 606.1l0.3 0.6M200.5 609l0.6 0.1M187.5 613l-0.1 0.5M193 587.8l-0.5 0.6M141.2 576.2h0M196.4 576.2l-0.2 0.5M181.1 607.5h0M160.4 599.6l-0.6 0.1M194.8 617.3l0.3 0.4M216.2 617.7l-0.1 0.6M161.9 626.5l0.4 0.4M188 620.5l-0.5 0.2M170.8 582.5l-0.7 0.2" stroke="#6a3cc0" stroke-width="2" stroke-linecap="round" fill="none" opacity="0.85"/>
</g>
<rect x="27.3" y="630.8" width="95.5" height="72.1" fill="#cbcdef"/>
<g clip-path="url(#ci5)">
<path d="M50.4 651.7h0" stroke="#9278d2" stroke-width="2" stroke-linecap="round" fill="none" opacity="0.55"/><path d="M67.8 658h0M67.2 680.1h0" stroke="#9278d2" stroke-width="2.5" stroke-linecap="round" fill="none" opacity="0.55"/><path d="M29.8 669.7h0M31.3 669.8h0M39 675.4h0M38.5 677h0M106.6 688.3h0M106.3 701.2h0M51.6 652.5h0M66.2 681h0" stroke="#9278d2" stroke-width="3" stroke-linecap="round" fill="none" opacity="0.55"/><path d="M61.2 639.6h0M59.8 639.5h0M71.3 636.6h0M92.9 638.2h0M110 634.9h0M118.4 650.5h0M36.3 663.1h0M92.9 677.3h0M91.3 675.2h0M90.9 687.9h0M98.7 692.9h0M106.7 687.7h0M40.1 699.5h0M40.6 701.9h0M106.3 700.1h0M69.2 659.9h0M120.2 673.5h0M119.4 671.8h0" stroke="#9278d2" stroke-width="3.5" stroke-linecap="round" fill="none" opacity="0.55"/><path d="M74.5 634.3h0M73.9 635.8h0M76.7 644.5h0M86.8 646.3h0M92.4 639.2h0M112.6 635.2h0M120.1 649.7h0M103.7 655.9h0M85.1 665.9h0M31.7 668.9h0M34.8 664.3h0M111.1 680.6h0M112 683.4h0M35.9 685.5h0M39.7 687.5h0M37.3 684.7h0M48.2 688.3h0M47.5 688.1h0M80 684.2h0M64.3 690.8h0M96.3 692.3h0M105.6 688.5h0M115 695.2h0M44.2 701.6h0M56.1 699.3h0M106.3 699.9h0" stroke="#9278d2" stroke-width="4" stroke-linecap="round" fill="none" opacity="0.55"/><path d="M58.6 640.7h0M75.4 637.3h0M76.7 643.3h0M74.9 642.6h0M86.6 646.8h0M93.8 637.7h0M112.4 636.5h0M113.2 646.1h0M114.1 642.2h0M120.3 647.3h0M100.8 656.8h0M82.5 666.3h0M93.8 677.1h0M94.7 678.5h0M110.3 680.7h0M49.1 687.4h0M79.5 686.1h0M89.8 687h0M89.6 686.9h0M65.6 690.2h0M98 695.4h0M115 693.5h0M41 700.5h0M57.1 700.1h0" stroke="#9278d2" stroke-width="4.5" stroke-linecap="round" fill="none" opacity="0.55"/><path d="M86.7 644.9h0M112.6 682.1h0M118.8 662h0M36.3 686.6h0M76.1 687.7h0M64.4 690.3h0M56.7 698.3h0" stroke="#9278d2" stroke-width="5" stroke-linecap="round" fill="none" opacity="0.55"/><path d="M88.3 648.3h0M114 646h0M101.7 654.1h0M102.2 654.9h0M102.7 652.6h0M83.3 662.6h0M73.9 673.2h0M78.1 673.1h0M75.2 669.5h0M119.1 664h0M115.8 662.5h0M119.3 660.6h0M116.7 661.2h0M78.7 683.7h0M114.6 692.1h0M116.5 695.5h0" stroke="#9278d2" stroke-width="5.5" stroke-linecap="round" fill="none" opacity="0.55"/><path d="M116.4 643.7h0M117.2 641.4h0M83.4 664.9h0M79.2 669.4h0M65.9 690.4h0" stroke="#9278d2" stroke-width="6" stroke-linecap="round" fill="none" opacity="0.55"/><path d="M114.3 645.8h0M78.6 668.9h0M74 673.6h0M62.1 672.2h0M62.1 671.5h0M115.2 660.5h0" stroke="#9278d2" stroke-width="6.5" stroke-linecap="round" fill="none" opacity="0.55"/><path d="M63.5 667.6h0M58.8 667.5h0" stroke="#9278d2" stroke-width="7" stroke-linecap="round" fill="none" opacity="0.55"/><path d="M43 641.2h0M33.8 641.6h0M44.6 643.2h0M74.8 669.2h0" stroke="#9278d2" stroke-width="7.5" stroke-linecap="round" fill="none" opacity="0.55"/><path d="M36.7 642.1h0M37.8 641.2h0M43.6 642.9h0M38 645h0M34.8 647.1h0M58.7 671.4h0" stroke="#9278d2" stroke-width="8" stroke-linecap="round" fill="none" opacity="0.55"/><path d="M42.9 643.1h0M38 640.8h0M42.9 642.8h0M62.2 669.8h0M58.3 672.9h0M59.1 668.5h0" stroke="#9278d2" stroke-width="8.5" stroke-linecap="round" fill="none" opacity="0.55"/><path d="M43.1 641.1h0M42 643.7h0M47.3 644.8h0M44.3 640.8h0M39.9 641.5h0M37.8 645.6h0M63.9 671.5h0" stroke="#9278d2" stroke-width="9" stroke-linecap="round" fill="none" opacity="0.55"/><path d="M44.3 640.5h0" stroke="#9278d2" stroke-width="9.5" stroke-linecap="round" fill="none" opacity="0.55"/><path d="M46.8 648.8h0M34.1 648.9h0M45.5 642.5h0" stroke="#9278d2" stroke-width="10" stroke-linecap="round" fill="none" opacity="0.55"/><path d="M42.7 641.7h0M42.2 643.5h0" stroke="#9278d2" stroke-width="10.5" stroke-linecap="round" fill="none" opacity="0.55"/><path d="M41.8 648.9h0M34.8 646.9h0M39.1 642.1h0" stroke="#9278d2" stroke-width="11" stroke-linecap="round" fill="none" opacity="0.55"/>
<path d="M69.6 694.5h0M49.5 654h0M43.1 690h0M59.2 636.6h0M95.4 634h0M60.6 644.3h0M50.6 677.5h0M61.9 644.9h0M53.4 651.4h0M109.7 644.1h0M56.6 652.1h0M85.5 661.9h0M90.6 661.5h0M112.9 654.4h0M71 665.4h0M40 694.2h0M38.1 631.3h0M89.2 658.1h0M65.7 684.3h0M106.9 652h0M92 637.2h0M77.2 682.7h0M34 699.2h0M111.9 647.6h0M30.5 694.7h0M99.5 663.7h0M72.5 670.7h0M41.4 690.6h0M100.7 663.2h0M119 692.2h0M62.5 635.9h0M33.2 639.7h0M27.9 642.3h0M102.1 682.6h0M55.9 672.1h0M84.4 698.5h0M62.1 674.3h0M42.9 697h0M36.8 640h0M53.1 659h0M39.2 694h0M32.8 695.8h0M54.4 643.1h0M107.1 687.4h0M30.6 671.3h0M115.7 649.3h0M110.9 652.5h0M42.3 674.6h0M92.3 691.1h0M119 640.6h0M109.6 632.9h0M116.9 655.1h0M74.7 662.6h0M39.1 648.6h0M57.7 658.9h0M43.8 638.8h0M77.1 676.8h0M97.2 660.5h0M99.3 653.7h0M38.2 683.1h0M66.7 632.4h0M59.1 659.9h0M64.3 644.6h0M81.3 692.6h0M52.5 684.3h0M29.3 674.4h0M92.8 673.7h0M107.1 666.9h0M90.7 676.3h0M39.2 656.7h0M60.5 654.6h0M61.2 636.1h0M51 654.4h0M100 644.4h0M53.8 674.2h0M87.6 695.1h0M72.8 701.2h0M68.2 698.1h0M94.8 668.6h0M92.6 695.1h0M109.2 640.5h0M59.3 632.8h0M30.1 673.2h0M83.7 662.5h0M106.9 688.3h0M75.6 694.5h0M81.5 701h0M74.9 662.2h0M104.9 679.1h0M92.1 652.7h0M97.7 648h0M30.8 690.6h0M62.6 658.8h0M52.9 642.5h0M68.6 660.1h0M51.2 638.3h0M29.5 670.7h0M30 633.8h0M33 636.6h0M86.2 657.7h0M40.7 651.9h0M93.6 672.1h0M78.4 694.9h0M68.5 688.2h0M35.2 660.8h0M91.6 691.8h0M68.6 633.4h0M34.3 633.6h0M120.3 679h0M75.3 688.7h0M79.7 697.8h0M65.8 676.9h0M100.5 667.8h0M67.7 663.3h0M86.8 638.8h0M51.9 653.4h0M31.5 692.9h0M114.6 654.6h0M104.4 691h0M88.6 664.9h0M49.6 684.7h0M113.7 635.4h0M106.6 635.5h0M71 668.9h0M65.8 632h0M59.8 661.8h0M107.2 685.1h0M88.1 681.1h0M119.9 647.3h0M116.9 673.4h0M102.3 648.7h0M49.7 690.1h0M68.5 691.9h0M85.1 636.4h0M106.9 700.5h0M41.1 673.5h0M105.3 648h0M41.5 689.3h0M91.5 699h0M54.7 650.6h0M41.4 675.9h0M103.6 644.1h0M99.9 674.6h0M69.5 643.7h0M58.3 659.5h0M106.5 633.8h0M102.3 684.3h0M90.1 657.1h0M99 661.8h0M91.9 687.9h0M48.5 635.2h0M100.9 633.8h0M63.6 701.1h0M70.6 693.8h0M56.6 665.9h0M93.6 675.9h0M58.5 662.4h0M47.6 677.6h0M66.7 676.1h0M109.4 675h0M96.9 678.9h0M61.6 674.3h0M75.1 667.1h0M94 648.5h0M40.3 665h0M74.3 647.9h0M30.7 652.2h0M93.2 672.6h0M65.6 668.4h0M112.4 639.8h0M50.1 699.9h0M109 647.7h0M111.7 633.6h0M74.2 689.9h0M35.3 653.2h0M79.2 698.3h0M116.2 651.4h0M84.2 646h0M63.1 665.8h0M69.6 658.4h0M104.6 700.1h0M29 636.7h0M60 683.5h0M101.1 696.5h0M66.3 641.4h0M85.2 681.1h0M32.6 655.3h0M33.5 662.2h0M69.9 693.5h0M72.7 675.9h0M54.5 697.2h0M112 700h0M100.9 656.3h0M82.9 694.3h0M116.2 636.4h0M88.1 689.7h0M41.3 674.4h0M39.8 696.4h0M67.5 643.3h0M44.6 656.1h0M35.9 677.2h0M61.6 647.2h0M36.4 631.7h0M83.7 671h0M36.3 646.9h0M87.5 651.8h0M45.8 641.4h0M74.9 667.4h0M46.1 695.4h0M34.9 679.5h0M43.9 677.8h0M98.5 701.9h0M53.4 633.6h0M37.7 663.7h0M54 699.2h0M37.3 660.1h0M42.8 676.9h0M101.6 698.4h0M28.2 700.4h0M107.7 643.3h0M50 701.7h0M35.2 685h0M29.6 685.7h0M104.4 633.8h0M102.2 639.8h0M111 665.6h0M98.9 672.4h0M56.7 637.6h0M76.9 668.2h0M32.2 633.2h0M103.2 683.4h0M49.6 669.7h0M85.3 632h0M118.8 679.9h0M47.6 680.9h0M52.3 674.4h0M29.7 647.3h0M31.2 685.2h0M100.9 697.8h0M105.9 662.1h0M58.3 700.4h0M79.1 652.7h0M102.8 639.5h0M122.6 697h0M108.4 701.1h0M29.4 644.5h0M45.1 646.4h0M41.6 651.5h0M99.9 696.5h0M77.4 648.8h0M110 633.9h0M40.4 646.1h0M35.9 661.1h0M39.9 700.7h0M45.6 702.3h0M93.9 662.2h0M113.2 656.3h0M48.5 695.4h0M77.1 650.8h0M111.6 666.7h0M83.1 664h0M43.1 688.6h0M39 631.1h0M121.2 662.6h0M98.8 631.6h0M122.7 634.2h0M122 679.5h0M95.7 697.7h0M109 700.1h0M70.3 669.7h0M93.2 697h0M112.3 646.5h0M122.6 695.9h0M69.5 695.7h0M112.7 660.1h0M64.3 659.3h0M98.2 669.6h0M70 668h0M76 656.4h0M112.4 647.2h0M95.7 662.3h0M110.3 661.5h0M96.2 693.6h0M51.2 647.1h0M118.2 700.6h0M105.4 690.8h0M64.1 695.7h0M54.2 683.7h0M37.3 700.5h0M101.5 633.6h0M112.9 696.6h0M63.7 643.5h0M53.3 666.4h0M98.1 632.5h0M114.2 687.3h0M70.5 672.6h0M73.9 639.4h0M82 701.2h0M36.2 669.4h0M77.3 677.8h0M97.7 675.8h0M99.6 637.2h0M33.1 692h0M55.6 641.9h0M121.1 698.9h0M62.2 659.5h0M62.3 648.2h0M37.6 669.7h0M77.6 692.8h0M54 665.1h0M85.9 631.6h0M119.3 630.9h0M81.5 676.4h0M107.3 691.7h0M111.9 646.8h0M42.8 667.8h0M27.8 650.7h0M95.5 655h0M114.7 636.2h0M95.6 702.2h0M74.2 643.7h0M54.6 660.7h0M67.8 653.5h0M79.9 701.1h0M72 689.7h0M104.1 699.5h0M60 668.3h0M42.1 649.4h0M89.5 667.9h0M84.9 661.4h0M66.3 658.5h0M108.8 645.8h0M49.7 674.2h0M31.1 658.5h0M70.5 697.6h0M34.2 701.8h0M79.1 695.7h0M98.5 654.9h0M38.1 650.3h0M90.4 675.2h0M95.2 654.9h0M65.9 693.7h0M68.2 635h0M79.8 645.9h0M78.6 686.2h0M54.9 634.9h0M80.8 671.2h0M120.5 653.2h0M49.8 683.1h0M88 637.5h0M104 645.7h0M95.6 690.2h0M35.4 690.5h0M60.7 669h0M92.3 644.3h0M60.7 646h0M73.8 690.2h0M68.7 652h0M31.8 634.6h0M83.4 635.3h0M70.8 655.7h0M67.7 673.9h0M50.8 636.6h0M90.7 673.3h0M58 632.6h0M40.4 639.5h0M80.1 700.8h0M37.7 635.8h0M92.5 669.2h0M59.1 643.2h0M111.9 643.4h0M28.2 687.2h0M100.8 636h0M43.2 640.7h0M58.9 702.8h0M101.5 694.1h0M91.2 638.4h0M66.4 685.9h0M44.3 657.9h0M102.4 684h0" stroke="#4a4078" stroke-width="0.5" stroke-linecap="round" fill="none" opacity="0.7"/>
<path d="M40.5 653.6h0M28.4 645.4h0M46.8 644.8h0M38.6 645.7h0M31.6 646.8h0M39.6 648.9h0M31.6 651.1h0M41.4 641.7h0M38.9 646.2h0M46.9 648.9h0M46.1 642.7h0M38.7 645.8h0M42.4 644.1h0M33.9 637.5h0M37.8 646.3h0M41.9 636.3h0M39.6 643.7h0M41.3 649h0M46 638.8h0M45 644.7h0M41.3 647.5h0M30.7 638.6h0M42.7 651.4h0M38 644.3h0M28.8 635.7h0M40.5 644.9h0M43.2 643.4h0M34 650.1h0M41.2 646.9h0M45.2 644.7h0M36 645.5h0M39.5 648.3h0M43 643.7h0M42.8 641.7h0M38.4 641.1h0M38.8 639.1h0M46.6 648.5h0M37.9 649.1h0M40.1 638.1h0M43.9 648h0M46.3 642.7h0M41.1 644h0M34.2 651h0M46.1 637.8h0M48.1 647.4h0M40.1 637.7h0M37.7 641.3h0M39.8 643.8h0M33.8 646.6h0M43.1 653.5h0M37.7 645h0M35.9 652.9h0M40 640.6h0M52.7 647.7h0M32.8 643h0M45 651.4h0M53.2 645.6h0M47.6 646.3h0M58.6 642.1h0M61.4 638.8h0M64.9 643h0M58.8 642.7h0M59 642.5h0M59.9 643.5h0M61.2 640.4h0M73.3 638.9h0M73.1 637.8h0M73.8 633.8h0M73.4 635.4h0M74 636.5h0M73.1 635.3h0M73.3 638.3h0M77.9 637.5h0M74.9 636h0M71.3 637.7h0M77.8 635.2h0M76.1 642.8h0M75.6 642.8h0M76.5 645.8h0M73.1 642.2h0M88 644.8h0M85 645.7h0M88 644.6h0M87.2 643.2h0M88.3 644h0M87.2 646.1h0M85 649.7h0M88.4 643.2h0M88.6 646.6h0M84.1 648.3h0M84.9 646.9h0M85.6 644h0M94.3 639.1h0M92.8 637.6h0M92.3 641.1h0M92.3 641h0M93.6 638.9h0M90.7 637.8h0M93.9 641.7h0M92.4 635.6h0M93.5 638h0M91.5 639.3h0M92.4 638h0M96.2 640h0M93.3 639h0M98 639.6h0M92.1 643.1h0M111.7 633.7h0M112.2 634.5h0M112.3 637.3h0M110.4 632.2h0M111.4 636.9h0M113.7 633.4h0M112.7 644.2h0M111.7 646.3h0M118.3 647.4h0M117.1 640.6h0M113.7 640.8h0M118.6 642.9h0M114 643.5h0M119 645.2h0M118.4 642.9h0M114.1 644.9h0M110.9 642.9h0M121.1 643.8h0M115.3 646.4h0M120.1 646.5h0M118.2 650h0M121.1 648.2h0M122.4 647.4h0M120.1 648.4h0M120.3 648.5h0M121 647.8h0M101.3 656.5h0M98.8 656.9h0M102.1 657.2h0M100.1 652.5h0M101.8 658.2h0M102.5 656.6h0M100.5 652.7h0M102.4 656.2h0M104.3 658.1h0M102.8 655.7h0M104.3 656.3h0M101 655.8h0M101.5 658.7h0M103.8 653.9h0M100.3 658.3h0M102.7 655.3h0M87 664.8h0M83.7 667.1h0M88.5 662.8h0M88.6 667.4h0M81.9 662.6h0M84 663.4h0M86.9 663.8h0M87.2 665.6h0M83.7 665.5h0M86.5 665.2h0M84.8 665.4h0M86.7 664.9h0M85 662.6h0M86.8 668.3h0M80.3 666.7h0M77.6 672.3h0M75.2 669.6h0M71.9 668.6h0M77.9 670.3h0M79 673.6h0M73.6 669.4h0M77.3 670.7h0M80.8 672.9h0M77.4 672.4h0M77.4 674.5h0M79 670h0M78.8 670.1h0M74.3 669.7h0M72.9 671.8h0M75.1 671.4h0M75.7 670h0M77.9 669.7h0M74 666.6h0M76.3 672.2h0M77.6 675.1h0M58.8 669.9h0M55.8 671h0M62.7 671.8h0M58.7 672.6h0M61.4 667h0M59.9 672.7h0M61 671.1h0M60.3 676.4h0M57.7 673h0M65.4 672.5h0M52.6 669.3h0M61.2 671.7h0M62.9 670.3h0M61 670.6h0M59.4 672.8h0M60.5 668h0M63.2 671.3h0M59.8 675.7h0M61.4 668.3h0M59.5 672h0M59 667.4h0M31.7 668.7h0M30.9 667.8h0M31.7 671.4h0M30.2 667.9h0M30.2 671.5h0M31.1 670.5h0M28 669.4h0M27.4 673.6h0M28.8 668.3h0M31.3 669.5h0M29.6 671.5h0M32.2 671.2h0M37 664h0M38 663.4h0M35 663.3h0M34.7 662.9h0M35.6 662.4h0M34.7 664.2h0M36.4 662.1h0M37.8 662.1h0M90.3 674.6h0M94.7 675.6h0M96.4 675.2h0M96.3 676.4h0M108.9 678.8h0M110.9 680.3h0M110.4 679h0M111.7 679.3h0M114.4 660.2h0M120.5 662h0M115.9 661.7h0M110.4 665.9h0M115.4 661.5h0M122.5 663.6h0M115.2 665.4h0M118.3 660.7h0M114 659.8h0M112.8 660h0M114.6 662.1h0M37.4 675.8h0M36.2 681h0M38.8 678.5h0M39.8 675.5h0M39.1 676.9h0M37 686h0M34.8 686.4h0M39.5 685.5h0M33.9 685h0M39.3 686.8h0M38.7 685.8h0M41.3 684.8h0M35.1 687.3h0M49.8 688.6h0M50.2 686.6h0M47.6 689.2h0M47.4 686.8h0M49.3 691h0M47.6 686.3h0M49.6 689.8h0M47.3 687.5h0M45 689.9h0M78.7 685.5h0M77.6 686.2h0M77.2 683.4h0M78.1 681.9h0M78.6 690.1h0M78.9 683.6h0M78 685.9h0M78.3 687.5h0M79.4 685.8h0M76.1 684.2h0M86.6 687.5h0M87 686.3h0M90.4 689h0M88.2 685.6h0M86.1 685.9h0M89 688.5h0M87.7 685.9h0M65.2 689.2h0M61.8 692h0M63.8 689.1h0M64 691.3h0M63.2 694.6h0M95.3 693.3h0M101.2 692.3h0M98.5 692.8h0M102.6 688.7h0M105.2 686.7h0M104.3 692.6h0M103.7 687.7h0M107.5 688.5h0M109.2 688.2h0M106.5 688.5h0M107.7 686.4h0M105.2 688.9h0M105.3 690.6h0M111.6 691h0M118.4 698.3h0M111.2 693.3h0M114.9 691.2h0M115.6 694.9h0M113.6 693.8h0M111.9 693.2h0M114.8 694.6h0M112.7 691.7h0M115.7 694h0M116.5 696.1h0M110.8 696.6h0M112 692.9h0M116.5 693.6h0M115.1 693.2h0M115 692.4h0M39.7 697.3h0M43.1 696.9h0M41.4 703.1h0M43.6 700.4h0M39.8 700.3h0M40.7 700.2h0M44 701.5h0M41.9 698.9h0M37.8 702.2h0M39.6 701.2h0M40.9 700h0M45.7 700.1h0M42.6 697.6h0M57.6 700.3h0M58.3 700.6h0M51.6 698h0M56.3 698.6h0M109.8 700.3h0M106.9 699.9h0M103.6 701h0M104.6 698.5h0M104.3 700.8h0M108.2 700.4h0M105.4 700.1h0M106.1 697.3h0M68.6 659.6h0M70.9 657.7h0M67.3 658.5h0M70.3 658h0M52 652.4h0M51.6 652.6h0M117.9 672.9h0M121.7 674.7h0M119.2 674.1h0M118.4 670.9h0M118.7 673.2h0M118.9 674.7h0M120.3 672.3h0M68.2 678.7h0M68.6 682.2h0M68.2 679.6h0M50.7 682.5h0M111 644.3h0M118.4 635.3l0.4 0.5M73.3 657.3l0.2 0.6M42.5 643.6l0.7 0.2M54 673.1l0.4 0.4M105.1 640.9l0.5 0.2M91.7 672.9l0.4 0.3M94.5 689.9l0.1 1M59 688.2l-0.4 0.9M85.9 692.5l0.3 0.5M103.2 680.6l-0.1 1M62.5 703.8h0M120 641.1l-0.7 0.6M102.4 678.9l-0.5 0.8M99.2 658.1l-0.4 0.6M64.1 668l-1.1 0.2M120.5 659.1l1 0M99.7 668.1l0.4 0.5M49.5 651.6l-0.4 1M66 685.5l-0 1M79.7 643.7l-0.5 1M59.8 686.9l-0.6 0.2M31.1 632.2l0.5 0.5M91.4 693.7l0.7 0.9M33 688.6l0 0.6M122.3 652.6l-0.1 1.1M97.9 639.5l0.4 0.4M87.2 653l-0.4 0.7M34.3 680.7l-0.5 0.7M42.4 675.5l0.7 0M48.9 631.5l-0.7 0.3M63.8 657.9l-1 0.1M37.8 653.6l0.6 0.3M45.3 698.2l-1 0.5M117.9 699l-1 0.5M47.3 685.7h0M97 677.8l0.5 0.6M123.7 648.3l-0.9 0.5M29.4 679.7h0M109.1 672l-0.5 0.1M86.8 632l0.7 0.5M86.8 688.5l-0.6 0.6M65.9 641.5h0M68.1 634.6h0M91.9 694.1l0.7 0.7M117.7 679l-0.3 0.4M110.4 667.5l0.3 0.8M116.1 650.6h0M110.1 652.9l-0.4 0.3M65.1 649.4l-0.9 0.6M65.6 668.8l0 0.9M118.7 682.1l0.9 0.7M26.3 660.6l-0.4 0.7M70.9 652.9l0.4 0.6M58.8 683.1l0.6 0.6M76.6 634.6l-0.2 0.6M102.2 698.6l1 0.1M95.9 691.7l-0.3 0.5" stroke="#6440bc" stroke-width="1" stroke-linecap="round" fill="none" opacity="0.85"/><path d="M52.4 645.9h0M44.9 640.6h0M31.3 650.1h0M40.6 642.4h0M42.8 641.8h0M36.1 645.3h0M37.6 646.5h0M34.9 641.6h0M38.7 637.2h0M38.5 644.8h0M36.9 639.3h0M54.6 645.7h0M58.5 638.8h0M41.8 643.9h0M37.3 648.3h0M34 645.6h0M42.6 639.9h0M41.1 645h0M43.8 652.4h0M37.9 643.2h0M28.3 646.8h0M37.3 644.1h0M45.2 643.1h0M51.9 643.1h0M39.5 644.3h0M38.9 641.8h0M41.7 637.5h0M39.3 645.5h0M46.4 641.4h0M36.2 644.9h0M34.9 638h0M46.1 639.2h0M52 642.3h0M30.2 644.1h0M42.3 645h0M32.8 646.2h0M36.3 649.8h0M43.8 650.9h0M32 641.3h0M48 646.4h0M36.3 647.5h0M36.2 645.8h0M48.3 642.2h0M31.7 645.2h0M44.1 644.6h0M29.6 648.3h0M52 641.7h0M31.1 638.9h0M39.8 641.5h0M41 639.8h0M47.2 650.1h0M39.1 642.5h0M40.5 645.5h0M50.1 647.3h0M41.2 649.1h0M34.7 645.9h0M45.9 643.9h0M42.5 643.7h0M45.7 641.4h0M53.8 642.9h0M40.3 642.6h0M47.1 647h0M37.1 646.6h0M33.7 634.7h0M37.3 640.2h0M39.7 640.2h0M40.4 648.5h0M38 641.7h0M45.8 645h0M46.4 651.2h0M54.1 640.7h0M29.5 648.9h0M55.9 642.1h0M40.7 644h0M36.6 651.9h0M38.1 644.7h0M45.1 645.9h0M39.4 641.2h0M34.9 639.5h0M42.6 641.9h0M38.7 638.2h0M36.1 643.3h0M43 647.2h0M36.8 648.8h0M45.7 646.4h0M35.7 650.8h0M37 642.7h0M39.9 640.1h0M26.5 639.1h0M57.6 641.5h0M60.3 640.4h0M56.3 639.7h0M56.6 641.3h0M59.9 643.1h0M58.3 641.2h0M58 641.2h0M59.6 643.2h0M74.1 634.8h0M73.7 635h0M75.4 635.3h0M73.6 637.6h0M72.8 634.6h0M71.2 636.9h0M70.7 635.7h0M71 638.7h0M71 637h0M71.1 635.8h0M75.7 640.1h0M75.8 643.8h0M72.6 644.3h0M75.5 645.2h0M73.9 642.8h0M77.1 642.8h0M74.3 646h0M79.4 646.8h0M76.5 643.7h0M75.4 640.2h0M87.1 646h0M85.3 646.7h0M81.8 645.7h0M84 646.7h0M89.6 648.9h0M84.3 645.2h0M85.9 645.9h0M84.7 647h0M82.5 648.7h0M86.4 644.3h0M83.5 648.9h0M87.2 645.5h0M92.3 638.9h0M96.3 639.3h0M92.3 639.3h0M111.5 636.1h0M112 635.9h0M111.5 636.1h0M111.3 633.3h0M112.6 634h0M110.7 635.4h0M110.6 634.2h0M109.3 631.6h0M112.7 634.9h0M114.5 635.9h0M113.2 649.5h0M112.9 642.9h0M117.7 644.6h0M117.1 642.8h0M114.6 649h0M118.7 642.7h0M121.9 644.4h0M118.6 643.8h0M115 643.3h0M114.4 639.3h0M115.6 647.7h0M117.7 645.5h0M118.6 647h0M115.1 640.3h0M113.7 644.6h0M115.4 642.9h0M117.5 643.2h0M114.2 646.7h0M116.3 643h0M120.4 642.4h0M121.6 649.3h0M120.1 652.8h0M124.1 650.4h0M119.1 646.6h0M121.3 648.2h0M121 648.1h0M120.2 648.2h0M121 649h0M120.4 646.5h0M119.7 648.8h0M102.9 654.7h0M100.7 654.8h0M100.9 656.9h0M104.9 655.1h0M104.4 654.4h0M104.8 660.9h0M99.4 653.5h0M105.1 660.2h0M105.2 652.2h0M102.1 656.6h0M102.4 656.6h0M102.9 654.3h0M101.1 654.7h0M101.9 656.7h0M99.1 657.6h0M102.6 656.9h0M105 656.1h0M84.9 663h0M84.7 663.3h0M84.9 662.4h0M82.8 665.4h0M85 664h0M86.8 664.5h0M85.5 662.8h0M83.2 664.5h0M85.2 660.4h0M83.7 663.9h0M81.2 663.2h0M86.7 667.6h0M78.3 673.6h0M73.7 676.1h0M79.7 668.6h0M76 673h0M80.4 672.8h0M75.5 668.1h0M77.9 668.3h0M76.8 673.8h0M76.2 669.1h0M78.4 671.5h0M72.7 671.7h0M83.5 670.3h0M76.1 675.1h0M79.5 669h0M79.8 671.7h0M71.7 670.6h0M73.9 674.3h0M76.8 674.1h0M74.2 671.5h0M72.4 670.7h0M79.4 674.3h0M75.4 669.9h0M59.3 668.4h0M59 671.3h0M57 665.4h0M58.3 671.1h0M63.9 672.3h0M61.1 668.2h0M58.9 668.6h0M60.9 667.4h0M62.7 668.4h0M64.2 672.2h0M63.1 667.8h0M57.8 674.3h0M59.4 669h0M62.8 665.9h0M60.7 667.4h0M58.4 668.8h0M58 666.3h0M60.7 672.3h0M58.5 670.9h0M53.7 666.4h0M63.1 668.3h0M60 672.1h0M61.1 671.4h0M60.3 664.4h0M66 670.6h0M57.2 671.6h0M60.4 668h0M60.2 670.9h0M67.5 676.6h0M68.2 673h0M30.3 670.7h0M31.9 672.5h0M27.2 669.1h0M30.5 669.3h0M27.7 672.5h0M30.1 666.9h0M30.1 671.8h0M31.1 670.7h0M38.3 667.1h0M36.4 666.4h0M34.9 666.9h0M33.9 664.6h0M92.6 675.8h0M92.8 672.5h0M95.1 677.9h0M92.3 679.7h0M90.6 676.4h0M93.1 675.4h0M96.9 676.1h0M94.8 680.1h0M91.9 677.2h0M94.5 675.8h0M88 677.6h0M93 677.4h0M93.2 675h0M91 675.9h0M93.8 674.7h0M91.6 674.4h0M93.8 680.3h0M89.5 677.6h0M114.6 680.4h0M111.5 682.7h0M112.9 679.4h0M110.8 681.8h0M113.7 680.6h0M111.3 682.2h0M111.2 680.9h0M111.7 681.5h0M110.4 679.8h0M111.4 682.3h0M108.8 676.9h0M111.1 679.2h0M111.9 682.2h0M109.8 681.6h0M110.9 681.5h0M119.3 659.1h0M118.7 664.4h0M114.2 662.4h0M116.7 662.5h0M118.6 662.2h0M114.4 662h0M118.1 665.5h0M120 664.5h0M117 663.7h0M117 665.4h0M121 661h0M115 661.5h0M115.8 660.9h0M115.8 661.8h0M113.7 662.4h0M116.3 666.6h0M120.9 660.9h0M118.1 665.3h0M116.9 663.5h0M117.8 663.1h0M116 659.9h0M118.3 662.4h0M115.3 666.3h0M120.2 663.2h0M118 660h0M117.7 661.7h0M36.3 678.4h0M37.6 677.2h0M36 677.1h0M38.5 675.6h0M40.1 675.1h0M35.9 684.2h0M34.8 686.1h0M37.1 687.7h0M41.3 689.1h0M37.2 687.6h0M38.3 682.2h0M37.5 688h0M40 688.4h0M38.4 687.5h0M35.9 683.6h0M36.2 688.2h0M38.8 686.6h0M34.9 683.9h0M34.9 684.8h0M39.7 687.7h0M35.2 686.4h0M40.9 684.9h0M48.2 689.1h0M48.6 689.2h0M49.3 685.8h0M47.1 687.7h0M48.9 688.8h0M48.7 690h0M46.9 688.1h0M78.3 685.7h0M78.1 683.3h0M78.7 685.6h0M78.1 685.7h0M77.3 687.2h0M77.1 680.7h0M77.3 687.8h0M78.4 683.5h0M77.6 683h0M78.2 684.6h0M80.7 685.5h0M76.6 686h0M78.5 686.9h0M87.8 686h0M86 684.8h0M87.9 689.3h0M90.5 688.5h0M90.6 686.4h0M91.3 686.6h0M88 686.5h0M90.8 687.5h0M88.4 688.1h0M63.9 687.7h0M62 693.5h0M60.7 690.8h0M61.8 691.7h0M62.9 694.6h0M65 690.1h0M59.4 691.4h0M63.1 691.2h0M63.2 692h0M60 690.5h0M65.8 688.7h0M62.6 693.8h0M66.3 692.8h0M62.9 694.1h0M62.9 688.9h0M64.4 690.6h0M96.8 694.2h0M98.3 690.9h0M98.6 695.1h0M96.6 691.5h0M97.9 692.5h0M96.5 692.9h0M96.6 694.6h0M94.9 698.6h0M97.1 696.1h0M99.3 692.4h0M98.9 693.9h0M96 694.8h0M95.3 693h0M96.9 695.5h0M100.9 693h0M96.7 693.6h0M102.9 688.2h0M107.9 685.7h0M107.3 687.2h0M103.2 686.8h0M107.7 688.5h0M107.9 687.3h0M106.5 689.2h0M115.6 694h0M115.8 694.9h0M112.9 691.2h0M112 694.9h0M111.7 691h0M116.4 694h0M113.7 697.4h0M111.4 693.3h0M111.8 695.5h0M113.2 694.4h0M113.4 691.7h0M42.1 701.1h0M36.1 702.3h0M44.2 700.8h0M43.2 702.3h0M38.7 701.8h0M40.9 700.5h0M46.1 701.6h0M41 701.4h0M41.1 701.1h0M43.1 701.6h0M37.1 699.3h0M39.3 703.7h0M40.6 700.3h0M40.6 700.6h0M40.6 700h0M55.3 701.5h0M53.8 699.7h0M58.2 695.9h0M54.3 698.6h0M52.8 700.3h0M56.3 701.4h0M56.4 700.1h0M56.4 700.3h0M52.9 700h0M53.5 699.1h0M52.8 699.4h0M54.5 694.6h0M105.5 700h0M107.9 698.7h0M105.3 699.4h0M107.2 698.5h0M108 699.6h0M104.7 699.9h0M104.1 703.2h0M104.1 698.5h0M68.7 657.5h0M68.7 658h0M68.6 657.9h0M67.2 660.9h0M70.5 659.3h0M68.6 658.9h0M51.7 651.4h0M52.2 653.9h0M51.4 651.2h0M51 652.3h0M51.8 653.6h0M49.3 653h0M119.5 673h0M121.2 672.9h0M119.5 672.7h0M122.7 671.1h0M117.4 670.3h0M118.7 670.6h0M117.4 672.8h0M66.7 680.6h0M67.1 681.1h0M66.7 680h0M68 680.4h0M65.9 680.8h0M106.6 669.8l0 1.2M44.4 634.3h0M49.9 681.3l-0.5 0.8M95.2 630.2l0.2 0.9M107.5 659.6l0.8 0.7M104.1 648.1l-0.7 0.5M33.3 702.4l0.5 0.6M92.4 644.4l0.6 0.4M80.9 691.5l0.7 0.2M59.5 637.7l0.8 0.1M67.3 644.2l0.6 0.1M46 670l-0.2 1M65.5 640.3l1 0.1M29.1 637.1l0.1 1M113.3 671.7l0.8 0.8M59 671.3l0.2 1M53 633.3h0M64.2 654l-0.7 0.4M95.5 699.6l0.9 0.3M59.8 648.6l-1 0.3M110.8 693.2l0.5 0.9M92.1 667.5l-0.1 1M99.2 635.8l0.9 0.2M70.9 660.9l0.7 0.8M80.3 668l-0.3 0.8M93.4 683.8l0.9 0.2M101 692.1l-0.3 0.5M34.8 682.8h0M85.7 637.3l-0.1 0.6M99.3 673.1l0.6 0.7M79.8 676h0M28.9 674.7l-0.5 0.8M29.2 630.2l0.8 0.1M114.7 683.3l0.1 0.6M99.9 631.2l-0.9 0.3M95 668.9l-0.6 0.8M71.7 645.2l-0.8 0.3M79 666.9l0.2 0.5M29.5 700.3h0M68.1 668.4l-0.9 0.4M34 642.9l1.2 0.1M67.5 678.2l-0.3 1M92.8 668.3l0.6 0.9M87 636.1l0.8 0.5M52.3 643.7l0.6 0.2M55.1 684.8l-0.6 0.3M76.8 653.4l0.1 0.7M71.9 659.6l-0.4 1M98.1 647.4l-0.6 0M107.4 630.4l-0.7 0.7M87.3 691.9l0.9 0.3M123.3 657.2l-0.7 0.4M100.3 657l0.9 0.4M80.9 680.5l-1 0.4M98.8 650.1l0.5 1.1M57 652.6l0.8 0.3M87.1 653.5l0.9 0.7M96.1 642.3h0M121.8 671.4h0M100.7 656.2l0.3 1M28.4 698.6l-0.8 0.3M70.2 700l0.4 0.7M58.3 678.2l0.6 0.4M63.7 670.7h0M58.5 694.2l-0.5 0.2M87.5 663l-0.6 1M68.3 646.6l1.1 0.3M67.6 659.5l1 0.3M93 662l-0.8 0.9M69.3 637.2l-1 0.6M103.3 665.1l-0.2 1.1M77.7 666.7l-0.9 0.5M58.5 661.1l0.5 0.9M51.1 694.3l-0.3 0.5M54.6 669.9l0.5 0.3M75.4 669.2l0.1 0.6M84.3 697.6l0.7 0.2M97.6 629.8l0.4 0.4M87.8 679.9l0.9 0.5M72.7 637.3l0.4 0.9M73.8 673.3l-0.4 0.6M58.4 700l1.1 0.2M87 651.4l-0.7 0.9M27.5 658.5l-0.6 0.8M70 700.1l-0.1 0.5M105.9 647.6l1 0.2" stroke="#6440bc" stroke-width="1.5" stroke-linecap="round" fill="none" opacity="0.85"/><path d="M52.9 641.4h0M44.1 647.3h0M51.2 634.4h0M30.3 647.4h0M39.3 637.9h0M40.2 645.6h0M46.7 646.4h0M29.6 647.1h0M31.1 647.6h0M49.5 642.8h0M26 641h0M42.7 647.2h0M50.7 646.5h0M35.2 640.4h0M45.3 640.6h0M32.9 645h0M44.3 649.8h0M39 650.8h0M33.8 649.9h0M36.5 645h0M33.3 645.4h0M42.7 645.4h0M40.1 644.9h0M35.9 646.9h0M38.3 643.6h0M29.4 648.7h0M42.9 648.4h0M45.5 646.6h0M45.1 649.6h0M58.3 639h0M59.2 641.7h0M59.8 639.4h0M62.3 639.8h0M60.4 641.7h0M69.8 635.9h0M75.5 639.4h0M72.9 637.7h0M70.9 637.1h0M71.7 637.6h0M70.6 636.6h0M77 646.8h0M75.9 643.1h0M79.2 646.5h0M77.5 641.7h0M75 644.8h0M77.1 644.6h0M90.1 645.7h0M86.8 643.8h0M85.8 645.4h0M92.6 639.7h0M91.4 638.3h0M109.2 633.7h0M111.7 635.2h0M110.3 635.5h0M113.3 634.5h0M114.9 645.6h0M115.8 646h0M115.3 641.6h0M113.9 649h0M114.6 642.1h0M118.3 648.3h0M111.3 642h0M115.7 644.5h0M112 644.7h0M119.4 648.9h0M117.1 651.1h0M120.1 647.6h0M103.4 655.5h0M99.8 652.2h0M102.8 657.8h0M105.8 654.5h0M86.5 663.3h0M85.8 663.5h0M85.2 664.9h0M77.7 671.9h0M76.5 669.6h0M75.9 673.3h0M72.8 670.3h0M73.9 670.1h0M75.6 669.9h0M76 668.5h0M74.5 666.5h0M70.3 669h0M79.2 671.5h0M62.6 671.1h0M60.1 667.9h0M61.1 671.5h0M60.5 668.2h0M66.2 668.5h0M61.5 667.6h0M60.2 673.1h0M62.3 673h0M64.7 671.7h0M64.4 675.2h0M61.3 666.5h0M61.7 666.8h0M57.4 673.1h0M58.4 671.1h0M56.9 667.7h0M62.7 679.8h0M30.1 664.6h0M28.5 671.8h0M35.5 661.9h0M35.3 662.9h0M38 665.7h0M90.3 674.5h0M95.6 678h0M93.7 680.3h0M95.4 679.8h0M94.7 675.6h0M94.9 677.3h0M96.5 674.4h0M105.9 683.9h0M110.1 682.7h0M109.8 681.9h0M113.6 682.2h0M111 681.8h0M111 678.9h0M111.4 680.1h0M111.1 681.6h0M114.3 663.3h0M112 661.9h0M115.8 664h0M120.2 660.5h0M113.5 658.5h0M37.6 677.7h0M40.5 677.6h0M38.3 678.1h0M38.8 677.3h0M37.6 677.1h0M38.5 684.3h0M39.7 687.9h0M39.3 687.2h0M35.1 688.6h0M47.7 688.8h0M48.6 688.4h0M45.6 690.3h0M46.2 687.3h0M78.9 687.7h0M77.1 686.2h0M77.2 687.7h0M77.3 682.4h0M75.2 689.6h0M78.5 683.8h0M88.5 688.5h0M88.7 685.2h0M92.1 685.7h0M90.6 686.2h0M64.5 691.9h0M65.2 692.4h0M66.3 692.9h0M62.6 687.3h0M65.3 688.8h0M64.1 692.2h0M68.3 693.6h0M64.9 691.1h0M97.1 694.6h0M103.3 687.6h0M106.3 690.9h0M107.5 686.8h0M117 693.2h0M116.1 693.9h0M47.5 701.5h0M39.2 700.1h0M37 700.1h0M42.9 697.3h0M40.3 700h0M55.3 698h0M55.5 702.2h0M56.1 698.6h0M55.3 700.9h0M103.9 699h0M104.7 700.2h0M107.2 698.8h0M107.8 698h0M68.5 660.7h0M68.6 660.8h0M70.5 657.3h0M120.2 674.2h0M66.9 680.1h0M65.2 680.3h0M46.2 637.6l-0.9 0.6M34.4 641.7l0.6 0.4M90.7 664.3l-0.4 0.9M53.8 650.9l0.8 0.7M90.7 676.2l-0.1 0.5" stroke="#6440bc" stroke-width="2" stroke-linecap="round" fill="none" opacity="0.85"/>
</g>
<rect x="127.2" y="630.8" width="95.5" height="72.1" fill="#cdcdee"/>
<g clip-path="url(#ci6)">
<path d="M176.9 691.4h0M217.6 642.4h0M181.2 635h0M153.3 679.7h0M172 646.4h0M170.4 698.6h0M133.9 697.4h0M161.5 685.4h0M150.2 675h0M174.9 661.2h0M130.8 643.7h0M156.7 641.4h0M145.5 632.9h0M187.8 696.4h0M181.1 650h0M134.9 632h0M144.7 689.8h0M137.1 642.9h0M184.6 683h0M156.1 653h0M209.1 669.4h0M176.7 643.1h0M165.2 674.9h0M179.9 675.4h0M212.3 659.1h0M192.7 693.7h0M218.3 665.6h0M190.3 651.7h0M152.6 664.1h0M214.7 651.8h0M129.9 686.2h0M221.5 631.9h0M180.8 687h0M201.7 636.1h0M176.8 647.3h0M141.1 684.2h0M168.3 668.2h0M131.4 699.9h0M191.3 658.4h0M190.3 648.5h0M209.1 658h0M219 698.1h0M175.6 697.8h0M213.8 650.6h0M194.7 643h0M139 638.8h0M174.9 681h0M132.1 683.5h0M190.5 644.4h0M152.4 649.9h0M165 684.4h0M193.3 700.1h0M210.6 696.7h0M211.7 665.6h0M182 677.2h0M184.3 696.6h0M212.2 697.4h0M177.1 699.1h0M146.9 634.6h0M153.3 684.5h0M187 650.4h0M133 638.3h0M198.5 639.1h0M184.9 636h0M164.6 648.6h0M149.1 651.4h0M173 676.3h0M216.6 670.2h0M203.5 631h0M149.9 696.3h0M189.6 694h0M193.8 663h0M136.4 663.9h0M147.9 683.6h0M209.8 641.1h0M162 668.2h0M171.3 665.1h0M142.2 658.2h0M198.1 672.5h0M144.4 631.9h0M179.5 670.9h0M173.3 695.2h0M191.3 698.9h0M185.7 647h0M206.6 636.5h0M169.4 687.1h0M153 688.1h0M200.5 676.1h0M186.4 658.1h0M131 632.2h0M173.6 657.5h0M220.5 686.8h0M146.3 643.8h0M178.2 650.2h0M205.5 640.8h0M133.5 673.4h0M190.1 690.9h0M171.3 632.7h0M222.1 659.2h0M164.7 649h0M198.1 681.7h0M140 684.1h0M163.8 631.2h0M186 635.4h0M195.7 635.5h0M212.7 691.6h0M219.5 646.5h0M201.7 653.3h0M182.9 654.2h0M150.4 666.1h0M129.5 695.7h0M184 632.1h0M196.4 699.3h0M218.6 695h0M190 651.6h0M179.7 644.8h0M189.8 695.6h0M182.2 684.2h0M146.7 697.2h0M159.1 649.4h0M218.7 639.1h0M167.3 668.8h0M129.5 673.4h0M171 657.6h0M162.6 650.1h0M190.5 646h0M211.9 702.2h0M162.5 673.8h0M163.9 672.9h0M137 638.6h0M207.3 667.7h0M148.7 678.6h0M205.2 678.3h0M206.9 670.2h0M177.2 644.2h0M163.4 649.9h0M196.5 683.3h0M144.8 639.9h0M192.7 668.6h0M180.2 654h0M135.5 676.9h0M201.6 632.3h0M204.8 636.9h0M164.8 689.6h0M161.6 640.4h0M148.3 664.8h0M175.4 636.9h0M156.1 632.3h0M143.8 682h0M168.7 655h0M161.5 653h0M137.9 668.8h0M164.8 693.3h0M188 652h0M211.8 660.3h0M206.6 640.5h0M151.5 633.9h0M134.3 667.2h0M180.6 650.1h0M151.4 686.9h0M203.8 689.7h0M180.1 702.4h0M182.1 642.1h0M171.1 682.1h0M143.5 671.1h0M148.7 634.2h0M175 671.1h0M133.7 640.8h0M221.5 644.2h0M207.2 690.6h0M195.2 680.7h0M131.9 643.9h0M135.9 687.9h0M160.6 646.5h0M166.2 657.2h0M138 671.9h0M131.3 697.9h0M164.8 644.5h0M132.4 690.9h0M161.7 676.1h0M187.5 679h0M219.1 640.5h0M201.9 691.1h0M178 675.2h0M157.7 699.1h0M169.6 687.9h0M147.6 648.3h0M204.7 635.8h0M165.2 663.4h0M184.3 685h0M134.9 663.8h0M192.1 699.3h0M137.9 672.2h0M177.7 697.8h0M133.4 658.3h0M156.6 682.5h0M217.5 633.6h0M130.7 633.9h0M195.3 682.9h0M218.8 677.2h0M161.2 662.7h0M133.4 702.1h0M168 663.3h0M173.9 695.4h0M196.1 668.8h0M194.8 702.1h0M157.7 635.2h0M160.4 676h0M158 687.1h0M199.7 674.6h0M208.1 697.9h0M159.8 647.7h0M183.5 686.4h0M171.5 663.2h0M152.7 656.1h0M174.1 684h0M166.7 663.7h0M176.8 643.1h0M142.4 653.9h0M183.2 634h0M147.6 670.9h0M202 648.3h0M165.7 639.6h0M220.1 649.2h0M194.8 637h0M193.9 699.3h0M191.4 631.4h0M155.9 668.3h0M137.4 662.2h0M187 674.9h0M158.2 666.1h0M201 682.1h0M134.9 643.2h0M206.5 663.2h0M147.9 646.1h0M127.5 634.5h0M188.5 647.8h0M214.5 700.3h0M150.2 655.3h0M154.7 674.4h0M130.9 686.3h0M185.4 631.1h0M212.8 702.7h0M144.3 690h0M160 696.9h0M162.3 639h0M154 659.7h0M203 638.1h0M137.7 648.1h0M143.1 639.7h0M139 636.3h0M205.4 698.7h0M182.3 644.2h0M205.5 692.9h0M215.2 653.4h0M161.2 635h0M143.7 689.6h0M184.2 701.7h0M204 636h0M144.3 653.8h0M127.9 669.6h0M142 698.4h0M131.5 644h0M185.7 633.9h0M212.9 686.3h0M148.3 680.6h0M195.3 701.4h0M159.1 636.4h0M137.8 694.8h0M204.8 662.3h0M157 658.7h0M129.7 700.3h0M203.5 667.5h0M198.8 694h0M177.1 634.1h0M160.6 649.8h0M151.5 697.2h0M131.7 646.7h0M201.2 685.9h0M209.3 664.1h0M128.3 678.1h0M137.7 687.3h0M145.7 659.2h0M180.8 658.6h0M221.5 652.5h0M193.1 640h0M216.9 699.2h0M138 667.8h0M168.6 696.3h0M164.3 663.2h0M206.3 633.9h0M165.8 650.8h0M171.4 702.1h0M153 682.7h0M147.6 652.4h0M149.8 639.9h0M131.6 676.5h0M153.9 680.7h0M166.4 659.6h0M139.2 691.5h0M169.5 644h0M162.2 668.4h0M146.3 695.9h0M183.7 661.2h0M183.2 648.4h0M135 642h0M206.1 694h0M187.3 642.1h0M176.4 631.4h0M201.8 655.1h0M181.6 655.5h0M196.4 693.9h0M159.6 673.4h0M189.5 677.9h0M197.8 648.8h0M161.7 683.1h0M132.9 679.4h0M141.8 668.4h0M153.2 692h0M201.7 667.3h0M179 666.9h0M152.7 643.2h0M183.5 672.2h0M145.7 638.4h0M151.7 655.4h0M138 686.4h0M187.6 664.6h0M143 668.1h0M220.1 640.3h0M215.5 677.7h0M138.6 658.8h0M147.1 687.2h0M213.9 671.8h0M199 663.7h0M212.6 659.4h0M148.5 658.7h0M221 676.5h0M137.6 678.4h0M174.8 669.8h0M216.7 688h0M147.5 685.5h0M179 692.2h0M150.8 651.6h0M199.9 688.8h0M210.3 702.2h0M141.7 670.3h0M196.8 641.1h0M171.8 695.8h0M159.5 645.6h0M221.2 669.3h0M157.5 686.6h0M177.3 640.9h0M155.3 663h0M176.5 666.6h0M190.2 634.2h0M194.5 660.2h0M205.7 679.7h0M158 664.2h0M208.9 638h0M168.7 650.2h0M137 701.1h0M175.1 692h0M201.9 694.3h0M128.4 684.4h0M152.3 699.6h0M135.7 693.9h0M146.7 661.5h0M189.3 656.8h0M165.5 631.1h0M183.5 666.2h0M148 675.3h0M205.4 635.1h0M139.6 689.2h0M205.4 693.4h0M139.4 685.5h0M174.4 631.1h0M191.1 635.7h0M190.7 674.6h0M181.4 648.1h0M139.6 663.7h0M148.7 636.4h0M158.1 693.6h0M161.1 690.4h0M216.3 686.7h0M176.7 694.4h0M143.1 654.1h0M178.7 633.8h0M167.2 688.1h0M192.6 682h0M128.2 635h0M157.8 684.3h0M184.3 662.2h0M211.2 698.9h0M211.9 681.9h0M145.7 688.4h0M187 640.5h0M186.8 697.4h0M155.5 696.2h0M207.7 663.6h0M182 683h0M129.7 679.5h0M205.7 690.1h0M160.1 658.2h0M218.9 669.7h0M219.8 660.9h0M143.5 677.2h0M211.1 641.2h0M173.2 702.3h0M170.2 691.1h0M197.8 657.2h0M168.1 631.7h0M192.1 631.4h0M157.5 662.3h0M205.9 637.2h0M214.1 676.2h0M177.7 683.8h0M141.8 651.4h0M221.9 664.1h0M157.9 701.2h0M173.8 636.8h0M137.8 670.4h0M143.3 641.1h0M216.9 680.2h0M143.4 688.1h0M163.6 688.9h0M161.9 657.5h0M199.7 688.7h0M139.1 694h0M168 646.9h0M131.8 674h0M163.4 693.5h0M175.9 697.8h0M195 690.9h0M196.6 697.1h0M151.6 645.2h0M145 676.4h0M135.2 700.4h0M151.5 695.7h0M185.6 675.7h0M191.1 644.4h0M131.2 653.3h0M209.4 680.5h0M131.8 633h0M180.9 696.5h0M147.1 642h0M145.9 685.6h0M141.2 672.7h0M162.5 636.5h0M184.9 645.7h0M179 650.3h0M151.9 681.8h0M184.1 637.6h0M184.5 638.1h0M142 688.7h0M174.3 664.8h0M216.8 664.4h0M190.3 691.3h0M198.9 668.6h0M147.4 649.4h0M163.2 643.3h0M139.7 700h0M154.3 682.1h0M197.7 680.8h0M173.9 660.1h0M160.5 680.6h0M204.2 659.6h0M135.3 666.8h0M133.3 696.3h0M211.4 668.9h0M175.3 672.6h0M132.8 697.7h0M185.4 685.3h0M166.2 655.9h0M146.2 634h0M189.3 669.2h0M207.4 686.5h0M213.4 668.8h0M217.2 696h0M195.7 695.1h0M149.8 699.1h0M156.9 651.9h0M168.4 648.5h0M164.6 632.1h0M188.6 679.8h0M176.9 641.6h0M168.9 697.1h0M147.7 686.8h0M133.7 633h0M167.3 638.5h0M145.5 661.4h0M216.8 671.5h0M214.3 636.4h0M221.7 631.5h0M187.5 651.2h0M175.9 702.1h0M141.1 633.9h0M181.7 682.8h0M187.3 656.8h0M179 667.7h0M153.8 670.8h0M130.8 654.6h0M196.2 680.4h0M181.4 696.4h0M206.6 631.7h0M147.8 671.4h0M166.3 652.5h0M194.5 660.4h0M221.3 688.6h0M162.3 665.1h0M181.1 638.2h0M162.7 636.4h0M197.9 692.1h0M135.6 647.2h0M203.3 695.9h0M143.7 633.9h0M176.4 671.3h0M217.2 667.5h0M161.2 680.2h0M213.6 669.5h0M211.6 645.7h0M201.4 681.9h0M152.9 641.2h0M176.5 692.9h0M197.1 691.3h0M174 637.1h0M132.4 653.2h0M166.2 701h0M138.6 647.3h0M218 678.6h0M171 676.1h0M184.9 647h0M156 646.2h0M181.8 653.9h0M217.7 672.6h0M197.9 693h0M191.2 668.6h0M133.3 668.4h0M159.2 675.9h0M213.4 651.3h0M175.5 689.4h0M204.5 664.9h0M170.4 636.2h0M170.8 691.6h0M182.9 660.9h0M203.9 668.3h0M220 663.1h0M212.6 694.8h0M154.7 647.5h0M166.4 638.5h0M206.9 663.7h0M128.7 649.7h0M140.1 694.2h0M132.5 698.1h0M196.8 694.3h0M217.8 653.7h0M221.6 690.8h0M174.4 651.7h0M221.6 683.5h0M176.4 690.8h0M142 678.7h0M201.2 684.4h0M152.9 642.7h0M176.8 678.7h0M138.1 693.8h0M214.6 635.3h0M205.7 686.6h0M215.5 656.6h0M211 653h0M213.9 633.1h0M146.9 643.4h0M147.1 659.4h0M137.8 675.8h0M189.3 654.2h0M173 643.6h0M211.7 673h0M203.1 640h0M157.5 652.8h0M204.1 648.2h0M138.7 644.7h0M199.6 653.5h0M165.7 697.1h0M141 687.9h0M177 650.7h0M134.5 696.8h0M140.6 632.9h0M150.5 634.4h0M204.8 643.7h0M195.3 668.7h0M211.1 642.3h0M146 676.5h0M162.5 631h0M155.7 699.7h0M171.4 649.9h0M134.2 683.5h0M203.4 654.4h0M194.4 665.5h0M189.5 674.4h0M199.7 658.7h0M139.3 695.6h0M175 665.2h0M199.4 695.6h0M127.9 640.2h0M151.4 676.7h0M152.9 665h0M218.1 676.8h0M196.5 701.1h0M175.3 680.6h0M153.8 683.2h0M194.6 701.5h0M153.8 672h0M187.1 681.3h0M200.8 645.4h0M187.7 665h0M184 656.2h0M165.6 680.9h0M179.1 667h0M215.8 636.5h0M164.5 693.5h0M208.2 659.8h0M208.4 690.7h0M160.4 699.6h0M132.4 696.1h0M186.7 690.9h0M147.4 633.9h0M204.8 702.3h0M174.6 667.9h0M171.6 661.7h0M146.7 685.3h0M221 677.1h0M166.9 685.8h0M208.3 634.4h0M164.5 670.9h0M180.2 668.5h0M166.7 674.1h0M154.6 669.1h0M183.1 678.2h0M190.7 630.8h0M184.1 642.4h0M135.9 664h0M150.6 635.5h0M143.1 675h0M171.2 702.3h0M218.2 668.8h0M204.1 631.2h0M147.9 659.6h0M218.7 689.4h0M133.2 653.3h0M148.4 642.4h0M184.9 642.3h0M198 665.5h0M198.7 671.2h0M146.5 702.4h0M211.8 634.2h0M221.7 632.5h0M135.2 645.5h0M130.1 637.6h0M188.7 694.1h0M172.2 660.4h0M150.4 684.6h0M191 662.3h0M205.1 695.2h0M143.3 637.4h0M185.2 635.2h0M195.9 653.4h0M146.7 632.2h0M161.8 679.3h0M221.7 686.6h0M203.1 676.9h0M207.4 679.2h0M163.3 667.3h0M149.4 639.9h0M133.8 652.7h0M151.5 655.6h0M220.7 680.2h0M163.2 640.7h0M140.4 696.6h0M132 669.2h0M165.7 678.4h0M208.9 701h0M157 692h0M154.7 692.8h0M135.2 661h0M180.2 633.9h0M220.6 692.5h0M184.3 644.3h0M215.3 701.3h0M145.2 643.2h0M193.2 633h0M175 680.1h0M187.8 662h0M143.6 658.5h0M165.4 660.7h0M174.8 696.9h0M152.4 665.5h0M154.6 675h0M200.2 702.6h0M193.1 692.8h0M212 702.8h0M193.5 634.2h0M184.2 694h0M177.2 668.9h0M151.9 654.5h0M153.8 700.8h0M162 655.5h0M173 672.1h0M131.3 632.8h0M213.7 699.1h0M182.8 659h0M174.8 652.1h0M196.7 670.1h0M204.4 664.1h0M138.7 672.9h0M149.7 682.5h0M151 662.5h0M159.1 675.8h0M202 638.4h0M151 690.2h0M166.8 634.2h0M178.2 698.1h0M203.9 691.7h0M214.9 638.9h0M156.1 694.3h0M201.9 674.8h0M180.9 639.2h0M159 675.3h0M131.7 699h0M165.6 658.2h0M211.6 686.8h0M160.3 637h0M183.8 667.9h0M210.3 694.2h0M144.7 695.5h0M188.2 652.6h0M130.3 672.7h0M158.9 674.6h0M218.2 639.7h0M183.3 652.2h0M201 634.5h0M155.3 646.3h0M178.4 638.7h0M209.1 673h0M175.8 671.2h0M198.4 685.6h0M162 695.1h0M168.4 651.9h0M172 642.4h0M161.8 656.3h0M180.1 655.6h0M144.6 631.3h0M167.1 666.8h0M184.1 638.6h0M171.2 677.5h0M200.9 666.1h0M170.7 689.1h0M191.7 691.2h0M163.3 693.2h0M217 679.6h0M161.4 664h0M136.4 700.8h0M158.4 635.2h0M160.8 632.3h0M174.9 682.8h0M136.5 682.5h0M207.1 681.7h0M152.2 650.9h0M158.9 670.1h0M172.8 697.7h0M221.9 667.8h0M189.3 642.1h0M174.7 633.5h0M142.1 667h0M157 678.5h0M189.8 646.5h0M211.2 647.6h0M132.3 634.6h0M182 695.5h0M174.7 684.5h0M167.8 685.5h0M202.9 659.4h0M200.5 655.5h0M141.9 640.2h0M192.1 639.4h0M153.7 680.8h0M132.3 651.2h0M132.1 678.4h0M216.3 662.5h0M184.3 674h0M146.5 691.9h0M219.9 633.2h0M144 669.8h0M192.1 646.8h0M149.5 692.1h0M212 656h0M172.2 654.7h0M167.3 647.8h0M137.1 665.3h0M157.8 689h0M138.9 672.6h0M136.7 660.3h0M208.6 663.5h0M149.5 667.1h0M186.8 635.1h0M134.3 690.9h0M191.1 647.1h0M166.6 634.9h0M211.8 692.8h0M168.4 699.5h0M147.7 663.6h0M161.7 671h0M191.2 678.4h0M193.5 650.2h0M179.6 674.7h0M198.5 698.7h0M155.3 654h0M154.3 664.2h0M166.9 646.2h0M137.9 694.3h0M150.4 650.3h0M189.8 638.4h0M197.5 631.2h0M147.5 695.5h0M191.8 644.6h0M165.2 652.9h0M129.1 668.6h0M215.6 665.2h0M164.9 697.1h0M217.7 685.6h0M214.3 698.1h0M164 656.6h0M212.5 670.2h0M192.1 682.1h0M149.5 692.8h0M138.5 652.8h0M222.3 644.7h0M187.4 635.5h0M158.7 674.6h0M217.5 654.8h0M208.2 668.5h0M172.1 645.6h0M151.2 674.7h0M151.6 665.6h0M213.7 688.5h0M189.6 638.5h0M136 682.3h0M154.7 630.9h0M160.3 690.6h0M216.5 701.9h0M154.1 677.9h0M172.6 676.2h0M218.5 657h0M169.5 659.5h0M186.5 690.2h0M139.6 697.7h0M192 668.2h0M140 679.1h0M198.1 653h0M195.4 637.8h0M187.6 633.8h0M172.6 661.4h0M135.6 675h0M138 678.8h0M140.4 667.6h0M135.5 691.1h0M167.2 646.5h0M134.2 638.8h0M140.4 678.5h0M152.1 697.4h0M128.4 672.2h0M134 650h0M171.1 675.4h0M155.2 693.9h0M158.8 673h0M185.4 696.8h0M170.1 686.1h0M191.4 694h0M198.2 672.3h0M184.7 687.7h0M145.6 635.7h0M178.4 677.2h0M136.3 650.1h0M173.4 641.6h0M147.9 678.3h0M204.8 634.9h0M149.9 684.4h0M137.8 694.5h0M132.2 658.6h0M151.5 642.5h0M216.2 656.4h0M153.9 658.1h0M137.8 701.1h0M129.7 659.8h0M134.4 677.3h0M203.3 660.7h0M175.1 652.8h0M133.4 651.5h0M139.6 700.4h0M167.9 698h0M162.9 652.1h0M198.5 633h0M166.8 633.2h0" stroke="#4a4678" stroke-width="0.5" stroke-linecap="round" fill="none" opacity="0.7"/>
<path d="M152.2 647.5l0.1 0.7M186.6 667l-0 0.8M129 680.2l0.2 0.9M199.9 675l-0.7 0.1M185.9 644l0.2 1M211.6 680.3l-0.6 0M216.3 661.7l-0.8 0.1M164.9 664.3l-0.6 0.3M148.1 647.1l0.6 0.2M137.1 665.5l-0.8 0.2M157.6 681.8l-0.2 0.7M207.5 703l0.6 0.6M139.3 688.2l0.6 0.6M202.6 659.9l0.8 0.2M194.9 637.7h0M183.5 663.5h0M184.3 667.7l-0.8 0.5M193.8 629.8l-0.3 0.9M184.5 668.5h0M208.8 697.3l0.7 0.4M214 633.2l-0.7 0.6M207.5 694.1l0.6 0.7M187.3 640.5l0.5 0.6M222.4 658.9l-0.2 0.5M137.4 639.3h0M196.4 671.9l-0.5 0.2M154.1 671.9l-0.1 0.5M221 697.5h0M179.5 648.5l0.3 0.9M166.6 688.7l0.3 0.9M192.1 654.7l0.1 0.6M216.8 659.7h0M182.8 645.2l-0.4 0.6M145.7 669.2h0M181 666l-0.8 0.4M152.8 697l0.3 0.6" stroke="#6c48c0" stroke-width="1" stroke-linecap="round" fill="none" opacity="0.85"/><path d="M181.7 662.8l0.3 0.9M180.1 683.9l-1 0.1M127.9 664.8l-0.4 0.7M185.9 647.1l-0.4 0.5M169.3 671.6l0.4 0.7M207.4 653.8l-0.7 0M220.1 652.2l-0.7 0.2M202.2 633.8l-0.5 0.3M192.1 630.1h0M224.4 667.7l-0.6 0.1M201 695l0.4 0.3M133.6 640.1l-0.3 0.6M210.7 697.1l-0 0.7M137.1 639.7l0.6 0.3M134.5 665.5l0.2 0.5M208.9 670.1l0.6 0.2M178.4 643.8l-0.5 0.5M151.3 660.8l0.7 0.1M188.4 636.3l-0.1 0.7M217.5 661.4l-0.9 0.3M209.8 678.2h0M214.4 659.2l0.5 0.8M178.1 682.9l-0.3 0.5M204.7 698.9l0.7 0.6M155.8 657.2l-0.4 0.6M137.7 669.7l-0.6 0.7M179.7 644.4l-0.6 0.4M130.4 674.3l0.6 0.5M140.7 668.9l-0.7 0.5M146 679.4h0M196.8 648.2l0.1 0.9M152 647l0.6 0.4M205.7 655l0 0.6M193.5 634l0.5 0.2M216.4 657l-0.4 0.4M180.6 642.3l-0.5 0.2M177.7 684.8l-0.7 0.2M162.8 653.7l-0.4 0.5M126.5 646.7h0M215.2 658.4l-0.7 0.2M141.9 630.6l1 0M183.1 666.1l-1 0M218.2 692.9l0.5 0.8M203.4 699.3l-0.5 0.2M198.4 636.2l0.1 0.5M200.1 648.6l0.5 0.8M200.6 676.1l-0.1 0.5M191.6 629.5l0.3 0.5M198.9 671.1l-0.6 0.2M203.1 696.7l-0.7 0.3M215.2 660.8h0M212.9 650.3l-0.6 0.2M135.5 670.5h0M199.4 651.2h0M155.9 700.4l-0.2 0.7M204.8 678.9l0.6 0M179.6 689.3h0M161.7 684l0.5 0.1M127.3 636.6l-0.1 0.7M182.4 666.2l-0.7 0.3M181.7 673.7h0M161.6 648.8l-0.4 0.6M140.9 686.2h0M159.1 683.9h0M222.1 683.9l0.3 0.9M160.6 688.8l-0.2 0.7M184.5 665.6l0.1 0.7M158.5 692.7l0.5 0.3M214.9 658.5l-0.4 0.9M128.7 649.3l-0.7 0.3M195.5 693.8h0M140.3 678.6l-0.3 0.8M192.2 685.6l0.6 0.2M168.3 688.9l-0.7 0.5M169.2 677.5l-0.8 0.2M203.6 676.9l0.6 0.4M146.5 669.4l0.4 0.9M189.1 640.9l0.7 0.1M214.9 664h0M217.7 634.6l-0.5 0.3M174.4 683.3l0.4 0.6M136.5 634.5l0.1 0.5M164.3 637.6l-0.7 0.7M209.5 697.7l0.9 0.5M195.8 671.3l-0.6 0M190 648.8l0.4 0.7M156 631.7l-0.7 0.7M221.7 693.8l-0.7 0.3M176.4 675.4l0.8 0.2M206.9 700.5l-0.6 0.3M145.7 667l-0.8 0.3M193.6 671.7l0.4 0.5M215.3 662.7l-0.4 0.8M188.9 690l0.5 0.1M192.4 640l-0.4 0.8M196.5 652l0.2 0.5M187.6 646.3l-0.7 0.3M165.6 703.5l0.6 0.1M127.8 681.9l-0.6 0.4M217 657.5l0.3 0.4M189.4 634.9l0.2 0.9M129.4 656l-0.9 0.3M222.6 668.9l0.9 0.1M211.8 698.1l-0.1 0.6M133.1 692.3h0M190.4 648.9h0" stroke="#6c48c0" stroke-width="1.5" stroke-linecap="round" fill="none" opacity="0.85"/><path d="M133.6 641.7h0M135.3 637l-0.4 0.6M135.1 666.1l-0.4 0.2M170.4 683.8l0.7 0.1M206.7 691.5l0.5 0.2M151.8 682.6l0.3 0.5M202.3 650.1l-0.6 0.3M144.3 668l0.2 0.8M174.4 667.1l0.7 0.1M162.5 702.4l0.4 0.4M145 650.5l0.5 0.7M186.6 700l0 0.9M207.5 660.4l0.8 0.3M172.4 654.6l0.7 0.4M151.6 657h0M189.3 640.9l-0.1 0.8M214.2 687.8l-0.1 0.7M196.9 684l0.8 0.3M193.4 649.7l0.8 0.2M190.9 628.2l-0.5 0.4M206.6 630.2h0M174.5 682.8l0.7 0.3M209.4 678.3l-0.3 0.5M174.9 637.5l0.6 0.2M171.2 663.9l-0.2 0.9M146 669.8l-0.6 0.6M182 643.5h0M200.2 693.4l1 0.3M180.7 669.5l0.2 0.6M129 664.4l0.6 0.3M205.7 631.1l0.7 0.6M189.2 663.3l0.5 0.3M130.9 645.6l-0.3 0.9M175.2 664.3l0.2 0.6M192 634.7l0.7 0.4M225.1 667l-0.2 0.7M188.8 638.3l-0.5 0.5M139.3 642.2l0.3 0.8M177.3 703.2l-0.5 0.8M158 676.1h0M136.2 664l0.4 0.7M141.9 692.1l0.6 0.3M157.6 683.8l0 0.6M185 635.6l0.6 0.1M208.7 652.7l0.8 0.1M138.6 670l0.5 0.4M195.1 701.1l0.5 0.4M183.6 648.9l0.5 0.5M140.2 634.6l-0.9 0M182.3 685.7l-0.6 0.2M177.7 639.9l0.8 0M176.7 629.9l0.8 0.6M203.6 638.4l-0.7 0.6M202.8 640.7l0.7 0.4M190.8 648.8l0.4 0.4M205.9 699.9l0.1 0.5M137.1 667.2l-0.3 0.7M136.2 642.4l-0.3 0.7M189.4 676.9l-0.8 0.2M142.5 671.3l0.4 0.5M187.8 694.3l0.5 0.2M144.1 677l0.8 0.2M218.4 672.2h0M174.3 693.9l0.5 0.7M132.3 642.2l-0.4 0.5M220.8 667.1l0.4 0.7M187.1 645.1l-0.5 0.6M134.2 681.3l-0.3 0.6M206.5 695.5l0.4 0.3M149.9 687.7l-0.7 0.6M166.3 667.7l0.8 0.5M207 685.4l0.5 0.4M140.4 681.3l0.6 0.6M137.1 634.8l0.5 0.4M138.4 690.6l-0.9 0M197.9 651.7l0.7 0.3M213.9 658.9l0 0.5M148.4 649l0.8 0.5M203.6 648.7l-0.6 0.4M168.7 683.3l-0.4 0.6M189.8 629.6l0.7 0M142.9 672.4l0.7 0.3M213.8 695.6l-0.3 0.5M163.2 690.8l-0.5 0.7M202.5 683.7l-0.4 0.9M213.9 676.2h0M169.5 697.2l-0.5 0.3M220.5 668.9l-0.4 0.6" stroke="#6c48c0" stroke-width="2" stroke-linecap="round" fill="none" opacity="0.85"/>
</g>
<rect x="271.6" y="480.1" width="95.5" height="71.9" fill="#e4e2ec"/>
<g clip-path="url(#ci7)">
<path d="M309.8 527.9h0M366.6 507.2h0M299.8 540.2h0M309.7 484.5h0M333.5 528.1h0M325.6 533.3h0M273.7 528.8h0M312.3 505.6h0M322.6 509.7h0M344.5 520.9h0M316.3 483.1h0M279.2 489.3h0M335.8 504.2h0M350.6 488.6h0M289.4 536.4h0M301.2 544.3h0M296 538.1h0M294.5 482.3h0M328.5 520h0M363.3 498.7h0M334.1 540.5h0M290.6 501h0M349.1 486.1h0M306.7 547.1h0M326.9 535.2h0M280.3 496.6h0M342.9 509.7h0M337.4 485.4h0M299.2 521.1h0M271.9 505.9h0M336.4 516.7h0M348.3 504.3h0M320.3 484.8h0M354.5 480.5h0M335.5 498.2h0M317 517.3h0M323.7 548.8h0M348.2 486.4h0M288.9 551.2h0M345.4 492.5h0M284.1 549.5h0M350.5 527.3h0M360.2 505.1h0M327.6 502h0M309.1 522.6h0M283.7 518h0M291.1 511h0M296.6 507.8h0M344.4 503.8h0M320.5 511.3h0M311.5 531h0M357 507.9h0M280.5 517.8h0M335.3 510.4h0M281.1 509.6h0M298.4 485.5h0M346.7 496.2h0M338.5 549.1h0M332.4 505.1h0M296 550.1h0M327.4 517.7h0M329.8 510.7h0M298.1 544.3h0M318.5 491.7h0M308.2 544.7h0M322.9 522.2h0M303.6 518h0M313.5 550.3h0M323.5 536.2h0M366.3 526.9h0M300.5 509.6h0M322.7 529.9h0M308.4 525.6h0M284.9 522.7h0M312.2 521.9h0M354.8 530.9h0M335.3 484.7h0M358.5 530h0M299 524.8h0M320.1 483.5h0M320.9 538.2h0M362.5 511.3h0M341.9 489.8h0M327.5 505.2h0M295.3 487.9h0M275.2 532.9h0M286.4 527.1h0M297.3 520.7h0M287.4 511.5h0M311.2 535.5h0M364.9 538.1h0M282.4 514h0M284.6 511.5h0M281.7 518.7h0M301.2 545.2h0M338.5 527.8h0M313.2 517.8h0M317.3 487.5h0M345.7 501.8h0M353.9 481.9h0M316.8 522.8h0M273.6 495.8h0M291.3 508.7h0M364.7 508.9h0M354.7 525h0M325.3 539.3h0M330.2 543.6h0M349.8 489.1h0M356.6 504.2h0M366.7 483h0M320.3 496.3h0M289.5 529.3h0M352.9 488.3h0M323.8 541.7h0M310.7 484.5h0M285.4 550.1h0M327.8 532h0M316.1 495.8h0M291.1 481h0M315.9 496.4h0M329.5 534.1h0M320.2 548.5h0M309.3 548.8h0M337.8 539h0M283.6 544h0M280.5 542.9h0M273.5 515.7h0M297.9 531.6h0M282.3 490.6h0M272.1 537h0M291.8 515.3h0M347.6 498.3h0M281.2 515.9h0M295 549.7h0M358 490.5h0M342.5 549h0M350.3 548.9h0M350 530h0M352.1 522.1h0M276.5 532.9h0M298.6 549.2h0M326.4 522.6h0M301.9 538.5h0M297.1 488.2h0M314.1 539.8h0M273.6 537.3h0M340.1 510.4h0M301.7 493.2h0M300.4 501.6h0M283.9 509h0M293.1 530h0M340.8 501.6h0M314.8 497.1h0M275.3 549.2h0M287.3 488.3h0M357.9 512.8h0M333.1 529.4h0M349.6 541.8h0M341.5 503.2h0M308.7 521.7h0M351.6 532.7h0M328.3 520.4h0M351.7 519.3h0M299.5 521.5h0M275 499.7h0M277.4 545.5h0M365 525.5h0M289.2 500.9h0M280.4 531.9h0M293.4 504.1h0M300.7 481.4h0M319.9 485.4h0M290.6 534.7h0M335 524.3h0M295.2 538.9h0M327.7 482.3h0M297.7 493.7h0M308.1 489h0M338.8 536.7h0M317.6 496.7h0M297.3 504.4h0M318.3 508.8h0M285.7 530.7h0M282.6 499.3h0M273.7 522.8h0M326.4 510.5h0M306.1 488.5h0M366.9 546.1h0M338.8 507.6h0M352.2 519.2h0M312.3 491.2h0M366.6 500.5h0M326.3 530.6h0M282.7 542h0M329.6 528.8h0M280.3 532.8h0M301 509.5h0M334.1 491.4h0M290.9 534h0M313.1 547h0M328.7 521.3h0M322 536.5h0M325 507.4h0M366.5 518.2h0M347.9 523.1h0M344 490h0M286.8 514.3h0M289.4 483.4h0M290.1 513.7h0M311.8 527.7h0M355.8 521.7h0M341.1 488.6h0M321.5 484.1h0M356.6 495.6h0M291.5 545.4h0M279 504.7h0M347.4 520.1h0M284.3 549.2h0M360.5 494.6h0M293.8 480.3h0M272.6 547.8h0M314.5 488.6h0M344.3 549.9h0M320.8 506.7h0M329.4 527.9h0M315.7 508.5h0M296.7 504.1h0M366.8 550.9h0M358.3 493.5h0M359.6 528.1h0M271.8 539.1h0M333.9 534.5h0M321.5 531.4h0M277.3 514.9h0M355.8 499.7h0M287.8 522.1h0M290.3 529.4h0M337.3 487.6h0M352.1 539.1h0M365.7 547.5h0M322.9 511.5h0M346.1 483.3h0M318.7 509.7h0M290.5 524.8h0M305.2 520.6h0M272.4 517.9h0M298.7 519.5h0M364.2 483.1h0M327.6 490.4h0M337.1 495.7h0M311.4 539.9h0M286.1 514.8h0M274.6 533.6h0M304.3 521.9h0M297.8 519.6h0M291.9 524.3h0M303.7 510.2h0M365.1 538.8h0M335.3 515.5h0M334.7 543.6h0M311.3 538.3h0M289.4 508.9h0M333 495.5h0M307.4 548.5h0M366.2 536.7h0M298 527.2h0M272.3 532.9h0M279.5 481.9h0M363.6 518h0M321 546.5h0M272.6 491h0M319 530.9h0M294.4 510.6h0M315.8 533.6h0M310.3 484.5h0M341 488.2h0M325.8 509.3h0M329.4 518.8h0M303 522.8h0M286.5 506.6h0M313.7 515h0M341 487.7h0M358.5 522h0M302.9 537.2h0M298.7 487.6h0M291.2 543.1h0M352.2 524.5h0M302.6 500h0M274.1 489.1h0M333.9 516h0M313.8 504h0M294.3 494.4h0M284.3 489.8h0M304.8 550.8h0M349.6 486.5h0M357.6 490.4h0M336 495.1h0M310.8 497.7h0M317.9 488.2h0M312.6 504.3h0M313 529.5h0M293.3 518.2h0M355.5 500.4h0M359.3 539.6h0M353.2 508.6h0M337 503.8h0M307.4 495.3h0M301.5 533.9h0M318.6 512.3h0M352.8 512.4h0M346.7 521.8h0M272.7 495.2h0M288.3 543.9h0M273.6 547.8h0M296.9 495.1h0M348.7 517.9h0M346.5 547.4h0M354.9 518.7h0M325 492h0M319.5 507.9h0M331.1 485.5h0M357.6 481.2h0M338.1 547.8h0M271.8 500.3h0M313.4 493.5h0M290.7 492.8h0M324 520.7h0M327.1 489.2h0M343.6 539h0M313.5 539h0M330 524.2h0M311.8 505.1h0M337.1 485.5h0M280.9 523.4h0M321.2 532.4h0M318.3 530.1h0M295.7 551.2h0M306.8 488.6h0M326.7 547.2h0M358.3 489h0M301.8 508.5h0M315.8 521h0M280 548.2h0M320.8 542.6h0M353.6 546.9h0M362.9 509.1h0M312.9 494.6h0M343.7 530.9h0M315.4 497.6h0M359.7 488.6h0M300 486.9h0M329.2 504.8h0M275.4 546h0M284.4 547.7h0M286.7 525h0M316.4 517.9h0M340.7 484.6h0M282.3 483.4h0M337.6 502.6h0M347.8 503.5h0M328.6 530.5h0M365.8 522h0M339.2 485.3h0M307.2 517.1h0M310.2 511.5h0M330.3 503.2h0M366.6 526.2h0M296.4 507.2h0M311.7 485.3h0M327.3 507.2h0M327.6 496.9h0M327.2 486.2h0M363.9 544h0M362.2 510.9h0M289 482.3h0M351.3 484h0M366.1 528.3h0M279.6 521.1h0M299.1 542.9h0M349.2 548.8h0M289.4 501.2h0M307.4 492.5h0M325.1 508.8h0M329.9 520.3h0M294.9 527.6h0M334.1 509.1h0M360 546h0M345 510.9h0M301.6 514.8h0M353.2 510h0M339.2 494.3h0M357 501.7h0M303.4 487.1h0M298.3 518.6h0M282.1 513.9h0M282.4 519.7h0M278.5 541.1h0M288.8 544.3h0M365.9 513.1h0M286.9 547.7h0" stroke="#7a7490" stroke-width="0.5" stroke-linecap="round" fill="none" opacity="0.6"/>
<path d="M326.5 512.7l1.4 -0.4M326.5 512.7l-0.9 1.1M326.5 512.7l-1.5 -1.5M326.9 532.2l-2.6 -0.7M326.9 532.2l3.1 0.4M362 503.8l2.2 -0.9M362 503.8l-1.3 2.3M362 503.8l-2.3 -1.7M290.7 498l-1.6 -0.1M290.7 498l0.3 -2.6M290.7 498l1 0.6M298.2 497l-1.8 -1.8M298.2 497l1.7 0.6M298.2 497l-2.1 2M346.9 525.2l-3.1 -0.8M346.9 525.2l0.2 -2.5M346.9 525.2l3.1 -0.1M346.9 525.2l-1.8 2.3M334.2 549.5l-3.1 -0.7M334.2 549.5l2.8 -1.7M334.2 549.5l1.2 2.3M360.4 534.3l2.3 -2.6M360.4 534.3l2.5 0.9M360.4 534.3l-2.8 0.8M310.5 545.5l-0.6 3.2M310.5 545.5l-2.7 -2M325.7 527.7l-1.3 -0.2M325.7 527.7l1.6 -0.2M330.3 552.9l-0.4 2.4M330.3 552.9l-2.7 1M330.3 552.9l0.1 -1.3M330.3 552.9l2.1 0.3M313.9 546.2l1.6 -2.9M313.9 546.2l-1.9 1.8M338.5 491.7l3.1 -1.2M338.5 491.7l1.5 2.5M338.5 491.7l-2.4 1.4M338.5 491.7l-2.1 -2.4M333.8 508.7l1.1 -0.9M333.8 508.7l-0.6 3M330.2 550.4l-0.4 3.3M330.2 550.4l-2.7 -0.1M330.2 550.4l1.5 -2.8M320.1 546.9l0.3 -1.8M320.1 546.9l-0.7 2.1M330.8 484.6l-1.3 -1M330.8 484.6l0.9 2.4M356.3 496.8l-0.5 2M356.3 496.8l-1.3 -0.6M356.3 496.8l3 -0.1M358.6 526.3l-1.8 -0.1M358.6 526.3l1.2 -2M358.6 526.3l1.8 0.7M299.2 506l-1.2 0.1M299.2 506l0.2 -2.1M299.2 506l1 1.1M292.8 533.3l-1.3 -3.1M292.8 533.3l1.4 2.1M304.7 511.4l-0.6 3.4M304.7 511.4l-1.2 -0.4M304.7 511.4l2.9 1.9M329 492.9l-0.2 -2.1M329 492.9l0.1 2.3M326.6 499.8l2.2 0.4M326.6 499.8l-2.1 1.2M326.6 499.8l-0 -1.2M317.7 482.1l-1.9 -1.7M317.7 482.1l3.1 -0.2M323.4 538.8l1.2 2.9M323.4 538.8l-0.9 0.8M323.4 538.8l-0.6 -1.3M323.4 538.8l1.5 -0.8M297.2 501.2l0.6 -1.7M297.2 501.2l-1.4 1.8M334.9 542.2l0.4 -1.4M334.9 542.2l0.4 1.4M361.1 503.7l0.8 -1.3M361.1 503.7l-2.2 0.6M333.1 517.8l3.3 0.3M323.7 492l1 -1.2M323.7 492l2.5 0.8M323.7 492l-1.4 2M305.2 522.7l-1.8 -0.9M305.2 522.7l1.6 0.9M317.2 534.9l1.8 -0.7M317.2 534.9l1.2 1.5M317.2 534.9l-2 1M317.2 534.9l-0.7 -1.6M301.6 510l2.8 -1.9M301.6 510l-0.9 0.8M352.3 536.9l1.4 1.9M352.3 536.9l-1.1 -1.6M287 525.4l1.3 -1.1M287 525.4l0.9 2.7M287 525.4l-2.7 -0.3M339.2 491.2l-3.1 -1M339.2 491.2l0.9 -1.7M339.2 491.2l-0.5 2M282.8 548l2.7 0.4M282.8 548l-1.9 -1.3M328.6 481.5l0.7 1.2M328.6 481.5l-1.6 1.1M328.6 481.5l-0.8 -2.7M328.6 481.5l2.1 -1.8M309.4 518.6l1.1 -1.2M309.4 518.6l0.5 1.4M309.4 518.6l-2 -1.6M328.2 509.7l-1.5 3M328.2 509.7l-0.5 -1.2M328.2 509.7l1.4 0.1M333.9 513.9l-0.7 1.7M333.9 513.9l2.3 -1.7M314.2 544.1l-1.6 -2.5M314.2 544.1l1.1 -0.7M314.2 544.1l0.6 1.1M302.6 505.1l3.5 -0.3M302.6 505.1l-0.7 1.2M302.6 505.1l-2.1 -0.8M321.4 499.2l-0.1 -1.6M321.4 499.2l0.7 2.1M352.2 489.8l-1.8 -2.9M308.8 483.6l-1.3 -2.4M317.4 545.7l1.5 -0.7M317.4 545.7l-1.4 0.9M281.3 524.4l2.4 1.7M281.3 524.4l-1 -1.4M335.8 547l-3.2 0.1M335.8 547l1.9 2.2M303.5 486.7l-1.5 -0.3M303.5 486.7l0.8 -0.9M303.5 486.7l0.7 1.4M301.6 534.1l1.6 -0.7M301.6 534.1l-1.1 0.8M340.3 496.9l0.4 -1.9M340.3 496.9l0.7 1.3M341.8 531.8l-1.4 2.3M341.8 531.8l-0.9 -3M341.8 531.8l2.4 0.7M357.8 542.9l3.1 -0.3M357.8 542.9l-1.2 1M357.8 542.9l-1.7 -2.6M293.2 548.9l1.8 -0.2M293.2 548.9l0.8 1.4M293.2 548.9l-2.5 -0.1M359.4 538.3l-2 -0M359.4 538.3l1.8 1.6M318.6 493l2.8 -1.8M318.6 493l-2.5 -0.8M360.2 536.5l-2 1.9M360.2 536.5l0.1 -1.3M312.9 540.6l0.3 -2.7M312.9 540.6l-0.5 1.1M305.7 511.8l-0 2.6M305.7 511.8l-2.2 -1.2M331.9 481.1l-3.4 -0.7M331.9 481.1l1.7 -2.7M286.2 511l-1.7 2.7M286.2 511l1.3 -2.7M286.2 511l1.1 1.5M344.2 544.6l-0.7 2M344.2 544.6l-2.3 -1M344.2 544.6l1.8 -1.4M312 529.3l-0.3 -1.9M312 529.3l1.8 -0.3M312 529.3l-0.5 2.2M312 529.3l-3.4 1.1M332.2 529.5l1.6 -0.6M332.2 529.5l2.2 2.1M332.2 529.5l-3.2 1.2M332.2 529.5l-1.2 -1.8M359.9 544.7l-0.6 1.6M359.9 544.7l0.5 -1.2M300.8 543.6l0.4 -2.2M300.8 543.6l0.2 2.8M349.2 508.2l-1.9 -2.5M349.2 508.2l3.2 -0.1M349.2 508.2l-0.1 1.6M303.4 532.4l-2.3 1.5M303.4 532.4l-1.7 -0.3M303.4 532.4l1.8 -1.7M303.4 532.4l2.3 0.6M321.6 486.1l-0.1 -3.2M321.6 486.1l3.4 -0.8M321.6 486.1l0.8 1.2M321.6 486.1l-1.5 1.4M302.2 502.2l2.4 0.3M302.2 502.2l-2.6 -0M343.6 490.2l1.5 1M343.6 490.2l-2.5 -0.2M343.6 490.2l1.3 -3M325.8 513.3l-2.2 -2M325.8 513.3l2.5 -0.7M303.1 487.5l-2 -2.8M303.1 487.5l-0.2 2.6M301.2 529.2l2.2 -2.7M301.2 529.2l1.7 0.6M301.2 529.2l-2.7 -0.2M315.9 553.8l2.6 1.8M315.9 553.8l-2.7 -2.3M320.4 510.2l-1.9 -2.1M320.4 510.2l0.2 1.3M320.4 510.2l-1.6 1.5M328.2 505.2l-0.9 -1.4M328.2 505.2l2 1.6M328.2 505.2l-1.5 1M299.1 525.3l2.9 1.2M299.1 525.3l-1 -1.7M343.6 493.3l1.3 -1M343.6 493.3l0.9 1.2M343.6 493.3l-1.2 -0.1M343.6 493.3l-1.7 -2.6M349 527.8l1 1.2M349 527.8l-3 1M349 527.8l1.4 -2.9M339.5 489.4l-0.3 -1.3M339.5 489.4l3.2 -1.6M339.5 489.4l-1 1.3M286.4 534.3l0.2 1.7M286.4 534.3l-1.2 -0.8M286.4 534.3l1.6 -0.9M328.7 520.1l-2.2 0.7M328.7 520.1l0.8 -2.2M350.3 481.2l1.7 0.6M350.3 481.2l-0.8 -3M311.5 547.5l0.9 3.4M311.5 547.5l-2.3 -0.8M311.5 547.5l-0.4 -1.3M311.5 547.5l1.6 -0.1M294.2 488.9l-0.7 2.3M294.2 488.9l-1.8 -1.7M294.2 488.9l2.3 -0.9M322.4 538.9l0.6 3.2M322.4 538.9l-1.6 -1.3M322.4 538.9l2.9 0.3M287.2 534.6l-1.7 1.4M287.2 534.6l-0.5 -1.2M287.2 534.6l1.3 -1.5M287.2 534.6l1.6 2.8M306.1 543.1l1.5 2.8M306.1 543.1l-0.6 -1.2M316.7 548.1l-2.3 2.7M316.7 548.1l-1.1 -2.9M316.7 548.1l2 -0.2M341.7 533.7l-3 -1.2M341.7 533.7l2.7 -1.5M341.7 533.7l1.9 1.1M341.7 533.7l-0.4 3.3M292.3 534.5l1.4 2M292.3 534.5l-1.6 -1.5M311.6 509.2l1.6 0.2M311.6 509.2l-1.2 2.4M311.6 509.2l-1.5 -1.3M311.6 509.2l2 -2.7M327.8 509.8l-1.2 -1.6M327.8 509.8l1.1 -0.6M327.8 509.8l-0.6 3.3M283 535.7l-2.2 2.6M283 535.7l-0.4 -1.5M281.6 496l1.1 1.6M281.6 496l-1.1 -0.7M345.4 546.8l-3.4 -0.3M345.4 546.8l1.6 -0M332.3 504.2l-2.3 -1.9M332.3 504.2l0.4 -3.5M332.3 504.2l2.4 1.3M332.3 504.2l0.3 1.7M343.1 494l-2.4 -2.2M343.1 494l0.5 1.6M303 494.5l1.1 0.9M284.7 542.2l1.8 -1.1M284.7 542.2l-2.9 0.1M317.5 538.9l-0.7 1.2M317.5 538.9l0 -2M297 542.3l-1.6 -2.9M297 542.3l2.3 -1.4M297 542.3l-1.3 2.7M309.4 520.8l-2.2 -2.4M309.4 520.8l1.2 1.1M334 526.9l1.1 -0.4M334 526.9l-1.7 0.2M316.1 542.5l-1.4 -3.2M316.1 542.5l3.2 -0.5M316.1 542.5l2.2 1.3M316.1 542.5l-1.1 1M353.2 516.8l-1.1 0.9M353.2 516.8l0.3 -3.5M353.2 516.8l2 0.3M313.4 519.3l0.5 -1.3M313.4 519.3l1.1 2.7M313.4 519.3l-3.1 0.4M306.1 545.6l1.1 -1.4M306.1 545.6l-0.4 2.6M352.3 529.9l-1.6 3.1M352.3 529.9l-1 -2.3M352.3 529.9l1.4 -0.8M310.9 548.7l-2.6 0.3M310.9 548.7l3.2 0.8M335.5 546.5l-0.6 1.5M335.5 546.5l-1.7 -0.4M335.5 546.5l1.6 -1.3M350.9 537.7l1.2 2.9M352.5 538.8l2.1 -2.4M352.5 538.8l-0.6 1.5M342.8 493.9l1.3 -0.6M342.8 493.9l-1.6 2.4M342.8 493.9l-1.5 -2.4M322.6 540.2l0.2 1.8M322.6 540.2l0.3 -2.3M322.9 542.9l0.3 1.3M322.9 542.9l-2.2 -1.6M343.6 540.6l2.9 0.5M343.6 540.6l-3.2 0.1M354.1 543.9l3.4 -0.2M354.1 543.9l-0.7 3.5M354.1 543.9l-2.2 -1.2M289.6 506.8l1.9 1.2M289.6 506.8l-1.4 0.1M289.6 506.8l1.2 -1.5M322.2 521.6l1.3 -1.1M321.3 527.9l0.4 -1.4M321.3 527.9l-0.2 3.5M318.3 506l1.2 0.7M318.3 506l-1.4 -1.8M363.4 495.2l-1.6 2.4M363.4 495.2l-0.1 -3.2M363.4 495.2l3.3 1.2M335.4 490.3l-1.3 0.9M335.4 490.3l2.7 0.4M330.3 510.7l-0.9 -0.9M330.3 510.7l1.8 0.8M321 540.9l1.8 -2.9M321 540.9l-0.8 1.7M336.5 504.6l1.9 2.8M336.5 504.6l-2.7 -0.4M336.5 504.6l1.1 -1.6M285.1 550.7l2 1.7M285.1 550.7l-2 2.5M285.1 550.7l-1.3 -3.2M299.1 528.4l-2 0.7M278.3 503.9l-0.8 -1M278.3 503.9l0.7 1.9M341.8 546l-1 1.9M341.8 546l-1 -0.6M341.8 546l1.8 -2.3M341.8 546l1.4 2M276.3 514.9l1.9 1.5M276.3 514.9l-2.5 -0.7M289.1 545l-2.7 0.3M289.1 545l2.8 1M354.8 543.8l-2.4 -1.8M354.8 543.8l2 -2.8M354.8 543.8l-0 1.3M292.7 545.5l3 -1.2M292.7 545.5l0.7 2M292.7 545.5l-3.2 0.5M292.7 545.5l-2.4 -2.5M302.9 494.2l-1.2 0.8M302.9 494.2l2.4 -2.5M336.7 504.4l-0.9 -1.9M336.7 504.4l0.5 1.6M282.9 548.5l1.3 -1.2M282.9 548.5l-1 1.9M322.2 534.5l1.2 -0M322.2 534.5l-3.3 0.9M322.2 534.5l-0.8 -1.5M342.5 514.9l-0.7 2.1M342.5 514.9l0.3 -1.4M355.7 540.1l1.2 1.2M355.7 540.1l-2.8 1.3M355.7 540.1l1 -1M344.7 495l3 1.8M344.7 495l-2.1 -0.3M343.8 482.2l-1.2 -0.3M343.8 482.2l0.2 -3.1M343.8 482.2l2.2 1.1M343.8 482.2l-0.6 2.7M325.1 506.8l0.9 -1.1M325.1 506.8l1.1 1.7M353.7 542.6l1.1 2.2M353.7 542.6l-3.1 0.9M353.7 542.6l-1.5 -1.1M353.7 542.6l1.6 -1.4M274.1 540l-1.2 2M274.1 540l0.9 -2.8M347.4 492.3l-0.7 -3.5M347.4 492.3l3.3 1.1M347.4 492.3l-1.7 1.2M352.3 551.1l-0.4 1.4M352.3 551.1l-1.6 -1.8M331.9 525.2l1.5 2.7M331.9 525.2l-2.5 0.1M331.9 525.2l-0.3 -1.8M331.9 525.2l2.3 0M342 549.7l1.3 1.3M342 549.7l-1.9 0.6M342 549.7l0.4 -1.7M311.4 484.1l0.2 -2.5M311.4 484.1l1.3 2.9M296.5 544.9l2.4 -1M296.5 544.9l-1.8 2.4M296.5 544.9l-1.2 -2M303.2 522.1l-2.6 -0.2M303.2 522.1l0.5 -2.5M303.2 522.1l0.4 1.2M351.3 536.5l-0.3 2.7M351.3 536.5l-3 0.2M351.3 536.5l-0.4 -1.7M348.2 548.2l1.5 -2.8M348.2 548.2l0.9 3M335.4 519.1l-0.1 -1.8M335.4 519.1l0.6 3.4M307.8 484.6l0.6 -1.1M307.8 484.6l3 0.6M307.8 484.6l-1.6 2.3M307.8 484.6l-1.5 0.3M283 530.8l-0.9 -2.6M283 530.8l2.5 -0.6M283 530.8l-1.1 1.5M349.3 552.5l1.7 0.7M349.3 552.5l-2.3 2.4M349.3 552.5l-0.6 -3.4M316 541.6l2.5 -0.3M316 541.6l0.6 2.5M316 541.6l-1.9 -0.6M316 541.6l0.5 -1.8M293 508.5l1.2 -0.2M293 508.5l-1.9 2.2M293 508.5l-1.8 -1.9M320.1 536.1l2.8 2M320.1 536.1l-2.1 0.9M320.1 536.1l1 -2.1M297.4 490.4l1.2 2.1M297.4 490.4l-2.9 0.4M297.4 490.4l2 -2.1M304.7 511.8l2.9 -1.9M304.7 511.8l-1.3 2M293.8 511.1l-0.9 -0.9M293.8 511.1l1.1 2.6M328.3 532.7l-0.8 2.4M328.3 532.7l-2.6 -1.2M328.3 532.7l0.2 -2.3M328.3 532.7l1.8 2.5M290.9 490.2l1.3 2.5M290.9 490.2l-2.8 -0.2M290.9 490.2l2.7 -1.7M310.8 519.3l-0.3 1.8M310.8 519.3l-2.1 -0.5M317.7 531.3l0.9 1.2M276.9 531.1l-1.5 -0.7M276.9 531.1l1.6 -1.5M276.9 531.1l0.4 3.6M271.3 511.5l0.5 -2.8M271.3 511.5l0.7 3.1M358.3 549.9l-2.4 0.5M358.3 549.9l1.9 -0.4M361.4 526.3l-2.6 -1.6M361.4 526.3l2.2 0.1M361.4 526.3l-0.6 2.8M350.7 495.6l2.4 -0.5M350.7 495.6l1.7 1.7M350.7 495.6l-1.7 0.9M300.5 489.9l-0.3 -3.2M300.5 489.9l2.2 0.4M318 536.7l-2 -2.2M318 536.7l1.8 -3M318 536.7l-0.6 1.7M296 483.6l2.2 1.9M296 483.6l-2.4 0.1M346.7 534.1l0.8 -1.7M346.7 534.1l2.4 2.2M346.7 534.1l-0.6 3.4M346.7 534.1l-1.7 -0.3M289 502.7l-0.5 2.2M289 502.7l-2.9 -0.1M289 502.7l3.1 -0.8M275.4 494.9l3.5 -0.6M275.4 494.9l-3 0M286.3 535l-2.2 -1.2M286.3 535l1.6 -0.8M286.3 535l1.6 1.7M286.3 535l-2.7 1.8M341.6 504.2l1.3 0.2M341.6 504.2l0.3 2.7M341.6 504.2l-1 -0.8M345.4 546l1.3 -1.2M345.4 546l1.3 1.1M345.4 546l-1.4 -0.1M280.7 523.6l2.1 -1M280.7 523.6l-0.1 2.5M280.7 523.6l-2.5 -2.1M333 501.1l-2.5 -2.3M333 501.1l1.8 0.3M360.2 537l2.9 -1.8M360.2 537l0.9 1.6M360.2 537l-2.8 1.3M360.2 537l-3 -1.3M330.4 537.3l3.2 -0.5M330.4 537.3l-2.3 0.6M334.2 530.1l1.3 3.1M334.2 530.1l-0.8 -1.2M309.8 522.3l-0.1 2.6M309.8 522.3l-0.7 -2.3M280.2 488.3l1.3 -0.7M280.2 488.3l-2.6 0.3M310.8 509l1.9 -1M310.8 509l-1 2.5M310.8 509l-1.5 -2.4M312.9 544.7l1 -2M312.9 544.7l-1.5 1.8M345.4 527l-2.5 0.5M345.4 527l-1 -1.3M345.4 527l3.3 0M345.4 527l0.1 2.3M363.4 517.6l-0.8 1.7M363.4 517.6l-1.1 -0.5M363.4 517.6l2.4 -0.4M344.5 507.8l-1.4 0.5M344.5 507.8l-0.9 -1M344.5 507.8l3 -1.1M344.5 507.8l0.6 1.8M344.2 546.8l-1.1 1.3M344.2 546.8l-2.1 0.5M344.2 546.8l0.6 -2.5M344.2 546.8l3.1 -0M297.7 516l-0.9 1M297.7 516l-0.8 -1.5M297.7 516l1.5 -1.8M297.7 516l0.7 1.6M323 541.9l-0.4 2.1M323 541.9l-1.6 -1M323 541.9l1.7 0.5M311.7 544.4l2.7 -1.2M311.7 544.4l-1.2 2.5M321.8 512l0.1 -2.2M321.8 512l0.2 2.9M327.8 495.6l-1.9 1.6M327.8 495.6l2.1 -0.9M314 522.6l-0.7 2.2M314 522.6l-1.7 -0.8M314 522.6l1.6 -0.8M303.9 505.6l-2.9 0.5M339.8 536.2l2.5 2.1M339.8 536.2l-0.9 3.3M339.8 536.2l-1.4 -0.5M339.8 536.2l0.5 -1.3M353 513.6l-2.3 0.2M353 513.6l1.4 -3M353 513.6l1.2 0.9M353 513.6l0.8 3.2M357.6 532.9l-1.1 1.6M357.6 532.9l-2.4 0.4M357.6 532.9l0.5 -2.6M357.6 532.9l1.3 0.2M351.1 483.7l2.2 -2.5M351.1 483.7l0.7 3.4M351.1 483.7l-2.6 -0M312 508.6l-0.6 2.1M312 508.6l-1.6 0.2M312 508.6l0.5 -3.2M312 508.6l2.7 2.1M297 553.3l2.1 -1.5M297 553.3l-0.9 0.9M308.9 511.8l-1.5 0.6M308.9 511.8l-0.1 -3.3M308.9 511.8l2 0.5M308.9 511.8l-0.8 1.7M298.8 502.4l-2.3 -2.3M298.8 502.4l3.2 -1.1M298.8 502.4l0.2 2.1M331.4 515.8l-1.7 1.4M331.4 515.8l1.4 -2.7M347.2 517.8l2.5 1.9M347.2 517.8l-1.9 -1.2M337.6 526.1l2.5 -1.8M337.6 526.1l0.9 3.3M337.6 526.1l-1.1 -1M306.9 504l-1.8 2.2M306.9 504l-1.2 -1.1M277.8 536l1.5 -0M277.8 536l-0.5 2.6M277.8 536l-2.2 -1.4M282 552.5l1.2 3.3M282 552.5l-1.7 0.5M282 552.5l0.8 -1.7M323.7 498l-0.4 -3.5M323.7 498l1.8 1.2M323.7 498l-2.6 0.9M340.4 489.6l1.5 -1.2M340.4 489.6l1 2.3M340.4 489.6l-1.5 -0.3M314.1 505.9l-1.9 0.6M314.1 505.9l1.5 0.2M304 490.2l-1.2 3.3M304 490.2l-1.3 -2M305.7 549.1l1.2 2.6M305.7 549.1l-1 -3.2M328.7 534l1 -2.3M328.7 534l0.6 1.4M297.1 516l-1.1 -1M297.1 516l3.5 0.1M297.1 516l1.4 3M318.4 520.2l-1.1 1.5M318.4 520.2l-0.1 -2.2M318.4 520.2l1.9 0.8M330.7 491.8l0.9 -1.9M330.7 491.8l1.7 0.3M330.7 491.8l-2.7 -0.1M287 536l-1.1 -2.5M287 536l0.5 3M318.4 523.2l0.9 2.4M318.4 523.2l-2.5 -0.8M367.8 514.7l-1.2 -0.9M367.8 514.7l0.8 -1.5M367.8 514.7l-0.1 1.5M300.6 489.5l-1.3 -0M300.6 489.5l3.4 0.7M283.5 496.8l2.6 0.1M283.5 496.8l-2.2 2.6M283.5 496.8l0.7 -2.1M291.9 492l-1.4 -1.4M291.9 492l2.7 -2M291.9 492l2.5 1.3M348 486.5l-0.2 -1.9M348 486.5l-0.5 2.7M353.7 535.5l1 -1.4M353.7 535.5l1 1.5M353.7 535.5l-2.2 1.6M353.7 535.5l-2.2 -1M287.4 532.6l0.8 -1M338.6 532.1l2.3 1.2M338.6 532.1l-2.7 1.9M338.6 532.1l0.3 -2.4M358.7 530.6l-0.3 -2.7M358.7 530.6l0.3 2.2M316.6 537.6l-0.1 -1.9M316.6 537.6l3.2 -1.4M316.6 537.6l-0.8 1.1M354.6 526.7l2.3 -2.2M354.6 526.7l1.9 1.2M354.6 526.7l-1.9 2.7M354.6 526.7l-1.4 -2.4M335.6 515.8l-1.8 -0.7M335.6 515.8l2.5 -1.4M335.6 515.8l1.1 1.4M335.6 515.8l-0.3 2.6M339.5 499.7l-0.1 1.6M339.5 499.7l0.3 -2.8M363.5 486.4l-0.9 -2.1M363.5 486.4l2.2 -2M363.5 486.4l0.6 3.5M363.5 486.4l-3.6 0M331.9 500.8l-2.4 -0.6M331.9 500.8l1.4 1.1M301.5 542.7l-1.8 1.4M301.5 542.7l0.6 -1.5M301.5 542.7l1.4 0.8M318.4 540.4l-2.1 2.3M318.4 540.4l0.1 -1.2M311.8 489.3l-0.7 2M311.8 489.3l-1.3 -1.2M311.8 489.3l1.8 0.3M344.7 542.9l2 -2.9M344.7 542.9l0.6 2.5M344.7 542.9l-1.3 0M277.1 497.8l0.3 3.4M277.1 497.8l0.2 -1.5M289.1 519.4l0 1.5M289.1 519.4l-0.3 -3M355.1 524.8l-0.8 -2.6M355.1 524.8l2.2 2.6M355.1 524.8l-3.4 0.5M282.2 487.7l1.3 0.2M282.2 487.7l-3.2 -1.6M312.9 486.3l1.5 -0.7M312.9 486.3l-1.3 1.2M301 510.6l-1 -3M352.7 512.7l1.7 0M352.7 512.7l-1.7 1.1M298.3 521.9l1 1M298.3 521.9l-1.8 -0.5M348 543.9l-1.3 -0M348 543.9l-0 -1.4M348 543.9l2.5 1.9M275.2 500.7l-1.1 -2.8M275.2 500.7l3 -1M275.2 500.7l0.6 3.3M275.2 500.7l-1.2 -0.3M356 499.2l0.4 3.2M356 499.2l-1.4 -1.6M321.1 543.2l0.5 1.8M321.1 543.2l-1.4 -1.9M316.7 537.1l1.9 -2.3M316.7 537.1l1.8 2.3M291.7 553l-2.6 -2.3M291.7 553l1.2 2.6M322.9 544.5l-3.1 0.3M322.9 544.5l-0.7 -3.3M322.9 544.5l2.9 -0.6M322.9 544.5l1.3 2M360.7 498.6l-1.3 2M360.7 498.6l-1.6 -1.9M360.7 498.6l2.4 -0.5M293.5 534l2.4 0.1M293.5 534l-1.9 -3M318.9 514.3l-1.1 2.5M318.9 514.3l3.1 -1.8M302.3 507.9l-2 -0.2M302.3 507.9l2.6 -0.1M355.4 531l-1.9 0.7M355.4 531l-0.6 -2.3M355.4 531l1.4 0.4M319.1 512.2l-2.4 2.4M319.1 512.2l-1.2 -1.7M319.1 512.2l2.4 1.8M341.5 488.3l2.1 -2.3M341.5 488.3l3.2 1.6M341.5 488.3l-2.3 2.6M341.5 488.3l-1.2 -0.5M343.8 534.9l1.8 0.8M343.8 534.9l-1.3 0.1M315.8 546.4l-1 3.1M315.8 546.4l-1.4 -0.6M315.8 546.4l1.6 -0.5M320.8 541.1l-0.8 -1.9M325.4 537.6l-2.2 -2M325.4 537.6l-3.1 1.4M322.6 516.7l2.5 1.9M322.6 516.7l-0.5 1.2M322.6 516.7l-3.6 -0.3M322.6 516.7l1.1 -1.7M278 521.3l-1.2 -3.3M285.9 520.9l-0.9 -1M285.9 520.9l1.7 0.3M290.9 538.3l0.7 -1.7M290.9 538.3l1.2 1M290.9 538.3l-3.1 0.6M277.9 537.7l1.1 0.7M277.9 537.7l-1.8 0.8M277.9 537.7l-1.1 -1.8M277.9 537.7l2.2 -0.5M286 522.7l1.5 1.4M286 522.7l0.2 -2.6M289.3 534.7l-0.2 -3.4M310.7 528.8l-2.5 -0.4M310.7 528.8l1.8 -0.4M366.6 535l0.2 1.9M366.6 535l-2.7 0.2M366.6 535l1.3 -1M293.4 517.6l-0.3 2.9M293.4 517.6l0 -2.3M350.4 549.2l2.4 0.7M350.4 549.2l-1.3 1.7M313.2 534.7l2.8 0.4M313.2 534.7l-0.8 3.2M313.2 534.7l-2.4 -0.3M364.1 498.9l1 2M364.1 498.9l-1.4 1.1M364.1 498.9l0.7 -1.8M354.1 536.2l1 1.4M354.1 536.2l-2.7 0.1M354.1 536.2l0.6 -2.7M354.1 536.2l1.6 0.2M347.7 490.7l3.3 0M327.9 494.3l-1.4 -3M327.9 494.3l2 -0.6M327.9 494.3l1.3 1.9M354.3 498.7l-0.5 3.3M354.3 498.7l-1.9 -0.6M354.3 498.7l1.2 -1.5M290.9 504.3l-1 1.8M290.9 504.3l1.3 -0.9M348 541.2l-2.1 1.7M348 541.2l-0.2 -2.7M348 541.2l2.9 1.1M346.7 534l-1.3 2.7M346.7 534l-1.6 -0.9M341.7 498.2l0.9 3.1M341.7 498.2l-1.5 0.8M341.7 498.2l0.2 -3M290.6 507.2l1.6 -0.6M290.6 507.2l1.1 1.5M290.6 507.2l-1.4 1M290.6 507.2l0.1 -3.3M308.6 542.8l0.3 1.9M308.6 542.8l-2.1 1.1M308.6 542.8l0 -2.1M308.6 542.8l3.3 1.1M327 542.8l1.4 -1.7M327 542.8l2.1 1.3M327 542.8l-1.9 0M312.2 506.6l2.3 1.9M312.2 506.6l-2.4 1.5M312.2 506.6l-1.6 -2.2M322.9 525.3l0.6 2.3M322.9 525.3l-1 -1.3M316.7 519.2l0.1 2.7M316.7 519.2l-1 -2.2M315.2 530.3l2.5 -0.8M315.2 530.3l0.5 1.7M315.2 530.3l-1.7 -0.6M276.1 542.8l-0.3 2.6M276.1 542.8l-1.6 -2.4M271.3 536.9l3.5 0M271.3 536.9l-1 -0.9M362.7 543.5l-1 2.5M362.7 543.5l0.4 -1.6M298.3 506l2.2 -2.6M298.3 506l2 2.2M298.3 506l-2.9 -1.4M288.7 506l-1.1 -1.3M288.7 506l0.5 2.1M336.5 535l1.2 0.8M336.5 535l-2.5 0.5M336.5 535l0.8 -2.7M327.7 543.3l1.2 -3.3M327.7 543.3l-1.7 2M327.7 543.3l-1.3 -0.2M296.8 512.2l1.2 -3.1M296.8 512.2l0.7 1.8M296.8 512.2l-2.8 -2.1M353.6 533.8l2.4 -2.4M353.6 533.8l0.3 1.4M357.4 537.9l-2.9 -1.1M357.4 537.9l0.5 -1.2M357.4 537.9l1.1 2.2M272.8 551.1l-2.1 -0.7M272.8 551.1l0.9 -1.2M272.8 551.1l0.8 1.6M331.7 491.3l-0.4 1.6M331.7 491.3l0.6 -1.4M302.7 526.3l1.4 2.9M302.7 526.3l-3 1.6M302.7 526.3l-0.9 -1.4M302.7 526.3l1.9 -0M316.4 489.8l0.6 1.3M316.4 489.8l-3.6 0.4M316.4 489.8l0.6 -3.2M303.5 509.8l-1.4 -3.3M303.5 509.8l1.9 -0.1M312.6 548.2l2.9 0.3M312.6 548.2l0.9 2.4M312.6 548.2l-1.6 -0.8M315.9 529.8l-0.9 -2.1M315.9 529.8l0.9 1.7M291.4 505.4l-3.1 0.4M291.4 505.4l1.6 -0.5M348.2 495.2l1.5 -0.6M348.2 495.2l-0.9 1M358 529.9l1.2 -2.3M358 529.9l2.1 0.7M358 529.9l-2.2 2M293.3 536.1l2 1.2M353.7 494.8l-2.9 1.7M353.7 494.8l0.8 -2.6M287.4 512.8l-1.1 -0.6M287.4 512.8l1.5 2.5M336.8 511.2l-2.1 0.3M336.8 511.2l-0.4 -1.5M336.8 511.2l1.4 -0M336.8 511.2l0.7 1.2M272 542.7l2.9 -1.3M272 542.7l-1 3M272 542.7l-1.4 -0.9" stroke="#5a2cc0" stroke-width="1" stroke-linecap="round" fill="none" opacity="0.88"/><path d="M334.2 549.5l0.4 -3M360.4 534.3h0M310.5 545.5l2.6 1.4M304.7 511.4l0.3 -3.2M363 525.9l2.2 -0.5M363 525.9l-2 -0.4M317.7 482.1l-0.5 1.3M297.2 501.2h0M333.1 517.8l-1.3 0.1M323.7 492l-1.7 -0.8M301.6 510h0M339.2 491.2l3.3 0.5M314.2 544.1l-3.5 0.3M352.2 489.8l3.2 1.3M308.8 483.6l1.5 0.5M281.3 524.4l-2.9 1.3M335.8 547l2.5 -1.6M340.3 496.9l-1.6 1.3M341.8 531.8h0M293.2 548.9l-2 -2M359.4 538.3l1.1 -3.1M305.7 511.8l2.4 -2.2M331.9 481.1l0.8 1.1M300.8 543.6h0M325.8 513.3l-1.1 2.1M303.1 487.5h0M320.4 510.2l1.9 -0.1M299.1 525.3l-1.4 1.8M350.3 481.2l-1.3 1M287.2 534.6h0M303 494.5l-1.1 -2.4M284.7 542.2h0M313.4 519.3h0M350.9 537.7l-2.3 -2.5M322.9 542.9h0M322.9 542.9l0.7 -1.8M322.2 521.6h0M322.2 521.6l-2 -0.7M322.2 521.6l0.3 1.4M363.4 495.2h0M335.4 490.3l-1.1 -2M285.1 550.7l1.5 -0.4M299.1 528.4l1.7 -0.6M278.3 503.9h0M341.8 546h0M289.1 545h0M292.7 545.5h0M322.2 534.5l0.8 3.2M325.1 506.8l-0.5 1.5M325.1 506.8l-1.4 -0.6M347.4 492.3h0M352.3 551.1l2.6 1.5M351.3 536.5l1.1 -0.9M348.2 548.2l2.4 0M348.2 548.2l-1.5 -0.7M349.3 552.5h0M304.7 511.8h0M310.8 519.3l2 -2.6M317.7 531.3h0M317.7 531.3l-1.2 -0.5M350.7 495.6l-0.6 -2.4M300.5 489.9l-1.5 3M296 483.6h0M296 483.6l0.8 -2.6M275.4 494.9h0M286.3 535h0M360.2 537h0M330.4 537.3h0M280.2 488.3h0M310.8 509h0M323 541.9h0M311.7 544.4l-2.4 -1.9M303.9 505.6l1.6 0.3M312 508.6h0M347.2 517.8h0M306.9 504l2 -1M277.8 536h0M340.4 489.6l-0.5 -3.5M304 490.2h0M304 490.2l1.6 0.6M297.1 516l-2.9 0.8M291.9 492l-2.5 0.9M287.4 532.6l0 2.4M338.6 532.1h0M311.8 489.3h0M344.7 542.9h0M312.9 486.3l-1.9 -2.6M301 510.6l1.7 2.9M298.3 521.9l0.8 -2M356 499.2l1.7 -1.4M316.7 537.1l-3.4 -0.1M293.5 534l-1.2 2.2M318.9 514.3l-3.4 -0.6M319.1 512.2h0M315.8 546.4h0M320.8 541.1l0.3 1.4M325.4 537.6h0M325.4 537.6l2.2 1.2M322.6 516.7h0M278 521.3l2.1 2.5M285.9 520.9h0M286 522.7l-2.3 1.8M289.3 534.7l-1.9 2.2M310.7 528.8h0M310.7 528.8l0.7 3M350.4 549.2l-1.1 -2.9M313.2 534.7l0.1 -2.2M347.7 490.7l-2 2.2M327.9 494.3l-2.4 1.9M354.3 498.7h0M346.7 534l1.6 -0.9M341.7 498.2h0M327 542.8h0M315.2 530.3h0M327.7 543.3l1.3 1.1M353.6 533.8l-2.7 -1.5M357.4 537.9h0M303.5 509.8l-2.2 2.9M348.2 495.2h0M358 529.9h0M293.3 536.1l-1.6 0.3M293.3 536.1l-0.4 -2.6M287.4 512.8h0" stroke="#5a2cc0" stroke-width="1.5" stroke-linecap="round" fill="none" opacity="0.88"/><path d="M326.5 512.7h0M362 503.8h0M290.7 498h0M298.2 497h0M346.9 525.2h0M334.2 549.5h0M310.5 545.5h0M325.7 527.7h0M313.9 546.2h0M333.8 508.7h0M330.2 550.4h0M330.8 484.6h0M299.2 506h0M292.8 533.3h0M363 525.9h0M329 492.9h0M326.6 499.8h0M333.1 517.8h0M317.2 534.9h0M352.3 536.9h0M339.2 491.2h0M282.8 548h0M328.6 481.5h0M309.4 518.6h0M328.2 509.7h0M302.6 505.1h0M335.8 547h0M301.6 534.1h0M293.2 548.9h0M318.6 493h0M312.9 540.6h0M331.9 481.1h0M344.2 544.6h0M349.2 508.2h0M303.4 532.4h0M321.6 486.1h0M302.2 502.2h0M343.6 490.2h0M325.8 513.3h0M320.4 510.2h0M328.2 505.2h0M349 527.8h0M339.5 489.4h0M286.4 534.3h0M328.7 520.1h0M311.5 547.5h0M322.4 538.9h0M306.1 543.1h0M341.7 533.7h0M292.3 534.5h0M327.8 509.8h0M332.3 504.2h0M343.1 494h0M303 494.5h0M309.4 520.8h0M334 526.9h0M306.1 545.6h0M335.5 546.5h0M350.9 537.7h0M322.6 540.2h0M343.6 540.6h0M289.6 506.8h0M318.3 506h0M335.4 490.3h0M330.3 510.7h0M321 540.9h0M285.1 550.7h0M299.1 528.4h0M276.3 514.9h0M302.9 494.2h0M282.9 548.5h0M342.5 514.9h0M343.8 482.2h0M325.1 506.8h0M274.1 540h0M348.2 548.2h0M283 530.8h0M316 541.6h0M293 508.5h0M320.1 536.1h0M293.8 511.1h0M271.3 511.5h0M358.3 549.9h0M361.4 526.3h0M318 536.7h0M289 502.7h0M280.7 523.6h0M333 501.1h0M309.8 522.3h0M345.4 527h0M363.4 517.6h0M344.2 546.8h0M297.7 516h0M321.8 512h0M303.9 505.6h0M339.8 536.2h0M353 513.6h0M357.6 532.9h0M351.1 483.7h0M297 553.3h0M337.6 526.1h0M306.9 504h0M282 552.5h0M340.4 489.6h0M318.4 520.2h0M330.7 491.8h0M287 536h0M318.4 523.2h0M367.8 514.7h0M291.9 492h0M287.4 532.6h0M335.6 515.8h0M339.5 499.7h0M363.5 486.4h0M301.5 542.7h0M318.4 540.4h0M277.1 497.8h0M289.1 519.4h0M282.2 487.7h0M298.3 521.9h0M348 543.9h0M275.2 500.7h0M356 499.2h0M316.7 537.1h0M322.9 544.5h0M293.5 534h0M302.3 507.9h0M355.4 531h0M341.5 488.3h0M278 521.3h0M277.9 537.7h0M289.3 534.7h0M366.6 535h0M350.4 549.2h0M313.2 534.7h0M364.1 498.9h0M354.1 536.2h0M290.9 504.3h0M348 541.2h0M290.6 507.2h0M322.9 525.3h0M276.1 542.8h0M298.3 506h0M288.7 506h0M296.8 512.2h0M353.6 533.8h0M272.8 551.1h0M331.7 491.3h0M302.7 526.3h0M315.9 529.8h0M293.3 536.1h0" stroke="#5a2cc0" stroke-width="2" stroke-linecap="round" fill="none" opacity="0.88"/><path d="M326.9 532.2h0M330.3 552.9h0M338.5 491.7h0M320.1 546.9h0M356.3 496.8h0M358.6 526.3h0M304.7 511.4h0M317.7 482.1h0M323.4 538.8h0M334.9 542.2h0M361.1 503.7h0M323.7 492h0M305.2 522.7h0M287 525.4h0M333.9 513.9h0M314.2 544.1h0M321.4 499.2h0M352.2 489.8h0M308.8 483.6h0M317.4 545.7h0M281.3 524.4h0M303.5 486.7h0M340.3 496.9h0M357.8 542.9h0M359.4 538.3h0M360.2 536.5h0M305.7 511.8h0M286.2 511h0M312 529.3h0M332.2 529.5h0M359.9 544.7h0M301.2 529.2h0M315.9 553.8h0M299.1 525.3h0M343.6 493.3h0M350.3 481.2h0M294.2 488.9h0M316.7 548.1h0M311.6 509.2h0M283 535.7h0M281.6 496h0M345.4 546.8h0M317.5 538.9h0M297 542.3h0M316.1 542.5h0M353.2 516.8h0M352.3 529.9h0M310.9 548.7h0M352.5 538.8h0M342.8 493.9h0M354.1 543.9h0M321.3 527.9h0M336.5 504.6h0M354.8 543.8h0M336.7 504.4h0M322.2 534.5h0M355.7 540.1h0M344.7 495h0M353.7 542.6h0M352.3 551.1h0M331.9 525.2h0M342 549.7h0M311.4 484.1h0M296.5 544.9h0M303.2 522.1h0M351.3 536.5h0M335.4 519.1h0M307.8 484.6h0M297.4 490.4h0M328.3 532.7h0M290.9 490.2h0M310.8 519.3h0M276.9 531.1h0M350.7 495.6h0M300.5 489.9h0M346.7 534.1h0M341.6 504.2h0M345.4 546h0M334.2 530.1h0M312.9 544.7h0M344.5 507.8h0M311.7 544.4h0M327.8 495.6h0M314 522.6h0M308.9 511.8h0M298.8 502.4h0M331.4 515.8h0M323.7 498h0M314.1 505.9h0M305.7 549.1h0M328.7 534h0M297.1 516h0M300.6 489.5h0M283.5 496.8h0M348 486.5h0M353.7 535.5h0M358.7 530.6h0M316.6 537.6h0M354.6 526.7h0M331.9 500.8h0M355.1 524.8h0M312.9 486.3h0M301 510.6h0M352.7 512.7h0M321.1 543.2h0M291.7 553h0M360.7 498.6h0M318.9 514.3h0M343.8 534.9h0M320.8 541.1h0M290.9 538.3h0M286 522.7h0M293.4 517.6h0M347.7 490.7h0M327.9 494.3h0M346.7 534h0M308.6 542.8h0M312.2 506.6h0M316.7 519.2h0M271.3 536.9h0M362.7 543.5h0M336.5 535h0M327.7 543.3h0M316.4 489.8h0M303.5 509.8h0M312.6 548.2h0M291.4 505.4h0M353.7 494.8h0M336.8 511.2h0M272 542.7h0" stroke="#5a2cc0" stroke-width="2.5" stroke-linecap="round" fill="none" opacity="0.88"/>
</g>
<rect x="371" y="480.1" width="95.5" height="71.9" fill="#ebe9ee"/>
<g clip-path="url(#ci8)">
<path d="M386.3 544.3h0M438.2 547.5h0M446.7 494.7h0M404 523.2h0M452.6 511h0M404.9 511.9h0M439 487.5h0M377.2 523.3h0M372.9 507h0M426.6 513.3h0M406.1 507h0M424.9 537.6h0M424.8 494.8h0M382 546.3h0M437.3 517.1h0M446.2 527.8h0M449.3 535.4h0M404.4 528.4h0M384.7 496.8h0M449.5 521.8h0M411.7 532.1h0M380 500.1h0M428.6 520.7h0M380.6 549.4h0M447.7 513.1h0M439.9 494.4h0M461.9 499.9h0M426.1 515h0M407.4 510.4h0M463.7 504.2h0M411.3 505.2h0M397.9 521.6h0M459.5 486.3h0M377.9 502.6h0M419.4 482.7h0M392.9 523.9h0M377 544.7h0M416.8 488.8h0M453.6 494.7h0M420.7 518.4h0M397.3 534.1h0M462.2 523.9h0M459.6 513.8h0M449.6 520.7h0M410.5 551.1h0M395.8 533.6h0M442.4 480.6h0M451.6 537.9h0M447.8 503h0M443 529.5h0M412.7 520.1h0M457.5 491.9h0M427.2 493.1h0M455.8 488.9h0M427.2 534h0M426.4 502.8h0M392.3 521.9h0M405.2 491.5h0M395.1 501.9h0M391.4 538h0M455 525.9h0M419.3 487.9h0M441.9 500.2h0M417.9 516.4h0M381.7 536.9h0M411.2 498.5h0M408.1 495.2h0M452.6 519.6h0M464.6 535.7h0M420.8 538.7h0M437.4 484.5h0M389.8 492.6h0M416.6 551.2h0M456.2 542.8h0M398.9 532.1h0M435.1 524.4h0M443.1 502.9h0M417.1 525.4h0M462.6 530h0M447.7 491.2h0M397.4 522.2h0M455 496.8h0M452.6 503.4h0M429.2 531.4h0M373.1 536.1h0M434.5 542.1h0M413.7 542.9h0M386.9 542h0M439.9 502.4h0M397.1 500.7h0M451.3 490.9h0M436.4 505.7h0M405.6 513.4h0M449.5 510.5h0M461.4 497.7h0M464.5 548.4h0M428.1 539.2h0M382.7 526.8h0M424.5 507.7h0M429.5 550.5h0M387.1 484.8h0M381 535.4h0M410 506.7h0M404.4 510.6h0M434.9 504.2h0M375.3 545.7h0M448.5 490.2h0M443.7 499.7h0M415.6 538.5h0M453.3 517.3h0M451.5 529.4h0M386.3 492.8h0M394.9 524.8h0M459.7 522.3h0M398.1 547.4h0M436.6 503.4h0M397.5 525.8h0M447.3 549.2h0M452.6 492h0M422.7 546.4h0M383.4 496.7h0M426.9 531.8h0M391.3 516.7h0M443 549.4h0M395 546.1h0M457.1 489.4h0M387 483h0M371.9 483.4h0M423 494h0M390.8 531.3h0M375 516.8h0M386.3 491h0M459.4 492.9h0M391.5 536.1h0M423.3 483.1h0M431.2 551.2h0M408.1 551.4h0M461.7 540.1h0M418.8 543.5h0M434.2 532.9h0M398.9 521.1h0M389.7 486.9h0M408.9 487.6h0M384.6 487.2h0M377.8 503.8h0M388.5 510.1h0M419.5 519h0M461.7 502.5h0M380.3 512.7h0M386.9 515.5h0M424 509.8h0M397.9 542h0M442.1 547.5h0M449.1 486.4h0M459.9 524.5h0M381 531.9h0M404.3 486.1h0M418.8 524.2h0M460.1 483h0M428.5 506.1h0M380.9 488.9h0M454.5 506.5h0M464.3 482.9h0M395.1 546.1h0M415.2 500.2h0M431.2 528h0M398.4 498.6h0M385.3 514.4h0M436 550.7h0M431.1 510.1h0M397.3 495.9h0M382 521.8h0M449.5 530.2h0M410.4 538.4h0M390.4 547.4h0M419.5 540.8h0M396.6 492.7h0M423 546.1h0M435.8 535.5h0M382 514.7h0M404.9 534.4h0M463.2 523.8h0M452.5 500.7h0M433.4 494.8h0M387.2 512.9h0M420.7 486.7h0M392.6 510.5h0M442.4 500.9h0M395.3 510.6h0M403 496.9h0M443.7 481.7h0M384.5 512.8h0M435.7 483.6h0M384.9 481.2h0M415.1 546.7h0M458 521.2h0M389.7 543.7h0M445.4 520.3h0M391.8 521.6h0M438.8 502.4h0M428.9 506.2h0M439.3 525.8h0M442.4 542h0M403.7 502.1h0M413.9 492.2h0M419.1 521.4h0M445.4 535.2h0M453.7 484.4h0M437.6 548.3h0M413.3 512.5h0M392.8 494.8h0M449.6 525.9h0M415.6 551.4h0M462.5 537.5h0M399.9 482.2h0M430.9 492.7h0M382.1 488.3h0M385 542.8h0M395.1 496.5h0M411.1 545.5h0M452.3 491.2h0M437.6 546.4h0M429.5 502.3h0M440.4 543.2h0M459.5 543h0M423.2 518.8h0M448.1 495h0M384.1 531h0M464.8 490.9h0M385.6 539.9h0M388 498.9h0M376.4 515.9h0M432.5 546.6h0M373.5 528.7h0M404 501.8h0M421.5 527.7h0M397.5 529h0M439 534.4h0M381.6 531.9h0M397.4 501.4h0M441.6 481.7h0M444.5 509.9h0M384 542.6h0M417.5 549.9h0M371.2 541.1h0M414 522.9h0M447.3 535.7h0M431.8 480.9h0M461.2 483.2h0M394.5 541.1h0M383.4 536.7h0M422.7 481.5h0M384.4 527.4h0M396.4 544.9h0M463.9 531.2h0M401.9 545.6h0M389.7 497.8h0M434.2 519.6h0M434.6 498.4h0M424.9 501.5h0M461.7 483.4h0M386.5 534h0M410.7 482.4h0M443.2 502.4h0M430.3 549.2h0M381.8 486.2h0M437.4 498.9h0M405.9 508.8h0M409.9 545.8h0M397.4 510.9h0M421.3 542.6h0M434.6 511.6h0M426.9 550.9h0M427.6 491.6h0M426.1 519.9h0M397.9 494.5h0M371.1 529.9h0M373.1 527.5h0M390.4 515.3h0M413.4 504.2h0M386.7 539.7h0M404.5 521.3h0M390 521.9h0M418.3 481.2h0M435.7 502.7h0M381.7 544.1h0M383.5 482h0M427.5 485.7h0M457.1 532.2h0M394.1 527.8h0M382 491.2h0M406.1 542.3h0M376.4 512h0M397.6 491.7h0M386.2 501.5h0M426.6 490.6h0M450 509h0M451.8 492.9h0M376 522.2h0M419.3 495h0M441.9 510.9h0M418.9 504.2h0M380.6 543.4h0M426.4 509.9h0M385.9 512.4h0M445.9 502.9h0M394.1 498h0M383.2 548.5h0M394 511.1h0M387.9 508.8h0M418 543.6h0M372.7 523.9h0M435.7 551.8h0M396.9 530.4h0M419.1 497h0M402.2 521.1h0M395 509.9h0M446.2 487.7h0M397.4 523.2h0M439.1 486.4h0M431 546.1h0M384.2 538.5h0M383.4 529.7h0M417.9 549.7h0M459.9 500.5h0M407.4 488.1h0M401.3 530.3h0M385.9 541.9h0M431.8 514.5h0M382 551.6h0M378.8 499h0M392.9 482.8h0M389.5 539.3h0M464.5 489.2h0M413.5 482.5h0M413.2 523.4h0M421.2 499.9h0M380.8 513h0M448 516.8h0M376.1 532.2h0M466 508.5h0M433.3 538.8h0M420.5 549.9h0M381.5 485.4h0M449.2 497.5h0M415 548.3h0M418.6 490.5h0M402.5 549.2h0M434.4 517.4h0M384.9 524.5h0M445.2 493.2h0M423.9 486.6h0M448.5 499.3h0M390.7 486.9h0M449.8 515h0M423.3 522.7h0M382.6 546.6h0M451.4 498.1h0M383.7 521.9h0M375.6 485.6h0M388.9 498.3h0M458.4 545h0M396.2 507.1h0M443.5 498.3h0M404.8 504.1h0M389.3 534.9h0M421.4 521h0M454.6 532.2h0M376.4 528.8h0M379 490.4h0M431.4 492.4h0M433.8 519.9h0M457 504.8h0M371.9 542.6h0M427.4 549h0M449.4 537.8h0M463.8 544.1h0M393.9 491.2h0M395.1 547.4h0M460.2 501.6h0M447.4 546.2h0M406.2 530.8h0M393.5 544.3h0M398.2 540.5h0M453.6 494.3h0M394.3 492.8h0M452.5 487.1h0M455.5 482.4h0M414.2 539.6h0M420.1 543.9h0M412.7 509.4h0M384.7 542.5h0M431.7 540.1h0M395.1 501.9h0M421.2 528.6h0M465.4 538.8h0M434.4 528.2h0M375.1 529.5h0M390.9 512.8h0M404.1 497h0M417.1 535.1h0M372 506.8h0M430.7 524.8h0M447.1 502.3h0M407.5 534.7h0M460.6 547.5h0M421.6 541.4h0M448.5 551.1h0M459.2 495.5h0M408 546h0M407.3 506.1h0M427 525.9h0M401.7 538.9h0M375.9 536.5h0M455.2 532.8h0M440.5 531h0M447 501.1h0M414.5 496.4h0M409.8 502.9h0M411.2 525.3h0M438 481.6h0M395.9 481.3h0M395.6 489.8h0M414.4 520h0M377.5 515.1h0M436.6 525.8h0M399.3 496.4h0M380.9 500.8h0M413.7 534.7h0M398.1 530.5h0M435.2 483h0M401.9 528.1h0M424.8 531.1h0M406.2 547.4h0M399.3 546.6h0M428.8 484.1h0M413.3 513.3h0M449.3 484.8h0M395 492.7h0M399.1 480.6h0M426.1 545.2h0M424.9 511.4h0M381.9 545.8h0M455.9 538.6h0M376.6 488.5h0M427.8 517h0M465 517h0M443.9 507.7h0M371.6 504.7h0M429.6 494.8h0M393.6 538.5h0M385.9 523.6h0M412.4 515.7h0M391.2 514h0M403.3 484.4h0M445.2 482.5h0M382.4 551.8h0M461.9 526.8h0M375 537.9h0M433 518h0M439 502.6h0M451.1 487.6h0M374.6 535.4h0M380.5 486.5h0M451.9 551.6h0M396.5 536.2h0M438.6 503.6h0M423.8 523.3h0M394.9 522.5h0M452.1 490h0M404.3 510.8h0M396.2 509.1h0M432.6 540.8h0M415.1 511.9h0M378.5 522.4h0M418.9 499.1h0M451 545h0M446.2 551.1h0M445.4 495.6h0M448.2 517.6h0M457.8 523.4h0M394.9 520.7h0M435.5 532.4h0M454.5 502.5h0M391.8 515.6h0M428.1 493h0M378.7 502.5h0M453.7 487.1h0M449.3 523.3h0M420.4 512.6h0M402.8 502.4h0M378.9 534.8h0M435.1 550h0M410.9 499.4h0M440.8 540.4h0M458.4 514.7h0M388.2 530h0M456.1 538.4h0M435.5 513.8h0M373.4 533.4h0" stroke="#5a5670" stroke-width="0.5" stroke-linecap="round" fill="none" opacity="0.65"/>
<path d="M400.2 511.5l-0.6 0.8M400.2 511.5l-1.4 -2.6M400.2 511.5l2.6 -1.1M400.2 511.5l1.1 1.2M374.3 534.4l2 1.3M374.3 534.4l1 -2.6M382.4 500.4l-0.9 1.5M382.4 500.4l-0.6 -0.8M382.4 500.4l2.8 -0.7M405.5 551.3l-2.4 0.9M405.5 551.3l0.9 -1.2M405.5 551.3l0.8 0.7M404.6 542.7l1 -2.1M404.6 542.7l1.6 2.1M404.6 542.7l-1.4 0.6M432.4 512.6l-1.4 -1.9M432.4 512.6l1.7 0.3M427.9 509.1l-1.8 1.7M427.9 509.1l0.8 -1M437.8 544.8l0.9 -1.5M437.8 544.8l-1.2 1.1M444.1 534.3l1.8 -0.2M444.1 534.3l-0.9 0.4M438.4 533.9l1.2 -1.7M411.9 500.6l2.1 2M411.9 500.6l-1.6 1.2M423.8 508l1.3 1.6M423.8 508l-1.1 -1.3M419.9 512.4l2.1 0.5M419.9 512.4l-2.1 2M419.9 512.4l-1.4 -1.3M439.2 546.4l0.6 1.3M439.2 546.4l-1.1 -0.8M439.2 546.4l1.2 -0.5M384.1 530.3l-2.4 -1M384.1 530.3l1.5 -1M384.1 530.3l0.9 2.2M389 506.9l-2.1 -1.5M389 506.9l0.8 -0.6M389 506.9l-1.1 2.6M466.7 509.5l-2.2 -0.8M466.7 509.5l1.3 -0.4M385.4 524.6l-0.5 1.5M385.4 524.6l-1.1 -0.4M412.8 516.2l1.6 -1.2M412.8 516.2l-2.6 1.3M420.5 517.4l-1.9 1.8M415.2 510.6l-1 0.5M415.2 510.6l-0.4 -2.8M415.2 510.6l1.4 1.6M442.4 546l2.4 -1.1M442.4 546l-1.3 0.7M437 528.6l-1.5 0.7M437 528.6l-1.1 -2.1M437 528.6l1.2 -1M450.4 535.1l-0.5 -1.9M450.4 535.1l1.4 1.5M411.4 504.5l-2 0.4M411.4 504.5l-0.4 -2.3M411.4 504.5l1.2 -0.9M411.4 504.5l2.4 1.5M382.1 528.6l-1.5 2.1M382.1 528.6l1.6 -2M443.2 538.9l-0.9 -1.3M443.2 538.9l2.7 -0.3M443.2 538.9l-0.1 1.8M428.1 508.6l1.3 -1.7M428.1 508.6l-2.5 -0M384 521.1l-1.2 2.3M384 521.1l0.3 -2.1M451.5 507.4l-0.7 2M451.5 507.4l-2.2 -1.2M451.5 507.4l1.4 0.3M413.2 510.5l-2.1 -1.6M413.2 510.5l0.8 -2.4M413.2 510.5l0.2 2.4M383.5 523.5l0.7 -1M383.5 523.5l0.4 2.7M443.8 534.8l1.8 0.8M443.8 534.8l-1.4 2.4M443.8 534.8l-2.2 -2M461.9 518.1l1.8 0M461.9 518.1l-2.7 0.6M461.9 518.1l0.2 -2.1M466.3 522.1l1.3 2.2M466.3 522.1l-2.9 -0.1M446 518.9l-1.2 0.4M446 518.9l1.4 0.3M386.6 527.8l1.6 1.3M386.6 527.8l-2 1.7M386.6 527.8l-1.4 -1.8M402.9 538.8l-2.1 -1.3M388.2 524.6l1.2 2.1M388.2 524.6l-2.4 1.6M388.2 524.6l0.1 -2.3M421.2 510.1l1.6 1M421.2 510.1l-1.4 0.9M421.2 510.1l-0.1 -1.2M441.8 539.8l-2.6 1.1M441.8 539.8l1.1 -2.1M441.8 539.8l1.7 1M451.3 533.2l-1.1 -1.2M451.3 533.2l2 1.2M451.3 533.2l-1.4 0.7M372.4 530.7l1.5 2.3M372.4 530.7l0.3 -2.2M456.3 540.2l-0.1 1.8M456.3 540.2l-1.7 -0M456.3 540.2l0.2 -1M456.3 540.2l2.1 1.1M449.9 538.9l-1.7 -0.6M449.9 538.9l1.8 -0.5M424.5 549.2l-1.4 0.4M424.5 549.2l0.4 -2.1M424.5 549.2l1.3 0.8M421.9 525.6l-0.5 1.8M421.9 525.6l-0.9 -2.6M431.4 528.4l-0.4 3M431.4 528.4l-0.9 -2.6M395.4 504.7l1.4 -0.3M395.4 504.7l-2.6 -0.1M436.7 524.4l1.6 0M436.7 524.4l-1.3 -0.6M411.3 515.4l1.7 -2.4M411.3 515.4l-0.7 1.7M371.6 522.7l1.2 -1.8M371.6 522.7l-0.7 2.9M428.5 519.2l0.1 1.5M428.5 519.2l-1.2 1.2M428.5 519.2l-0.6 -1.2M428.5 519.2l1.5 -1.8M414.3 505.3l1.6 -0.9M414.3 505.3l-0.1 1M390.5 505.4l0.8 1.6M390.5 505.4l-2.8 -0.8M390.5 505.4l2.8 -1M451.3 535.8l0.9 0.8M451.3 535.8l-1.6 -0.9M451.3 535.8l1.4 -1.6M440.3 542.9l-0.7 -2.6M391.3 529.4l0.7 1.2M391.3 529.4l-0.2 -2.2M418.1 537.6l0.4 1.1M418.1 537.6l-2.5 -1.1M428.7 521.2l-1 0.3M380.9 529.7l-1.9 1.9M380.9 529.7l1.8 -1.4M417.3 512.2l-1.9 1.3M417.3 512.2l2.5 -1.2M383.1 546.6l-1.1 0.4M383.1 546.6l2.8 0M435.2 531.6l-1.3 -0.6M435.2 531.6l0.5 -0.9M435.2 531.6l-0.6 2.5M384.7 514.6l-0.2 -1.7M414.7 515.6l-1.2 -0.2M414.7 515.6l0.6 -2.2M414.7 515.6l0.3 1.1M399.4 494.2l-2.2 -1.1M399.4 494.2l1.5 -0.7M429.6 534.6l2.1 0M429.6 534.6l0.7 1.9M429.6 534.6l-1.3 1" stroke="#5c2cbc" stroke-width="1" stroke-linecap="round" fill="none" opacity="0.9"/><path d="M374.3 534.4l-2.6 0.1M382.4 500.4h0M404.6 542.7h0M432.4 512.6h0M444.1 534.3l0.7 1.6M444.1 534.3l-1.8 -2.1M438.4 533.9l-1.1 1.2M411.9 500.6h0M411.9 500.6l-0.3 -1.7M439.2 546.4h0M466.7 509.5h0M385.4 524.6l0.6 -1.7M385.4 524.6l2.7 0.5M412.8 516.2h0M376.6 548.6l-0.7 1.5M376.6 548.6l0.7 -1.4M420.5 517.4l0.5 -1.2M437 528.6l0.2 2.3M384 521.1h0M383.5 523.5l-2.7 -1.1M466.3 522.1l1.2 -0.8M402.9 538.8l1.8 1.5M388.2 524.6h0M372.4 530.7h0M372.4 530.7l-2.3 0.6M438.8 506.4l-1.9 -0.9M438.8 506.4l1.9 1.1M436.7 524.4h0M436.7 524.4l1.2 -2.2M436.7 524.4l0.1 1M411.3 515.4h0M428.5 519.2h0M451.3 535.8h0M440.3 542.9l0.4 2.9M391.3 529.4h0M418.1 537.6l2.1 -1.2M428.7 521.2l2.1 -1.3M384.7 514.6h0M384.7 514.6l-0.2 2.8M429.6 534.6l-0.3 -1.5" stroke="#5c2cbc" stroke-width="1.5" stroke-linecap="round" fill="none" opacity="0.9"/><path d="M400.2 511.5h0M374.3 534.4h0M427.9 509.1h0M437.8 544.8h0M444.1 534.3h0M438.4 533.9h0M423.8 508h0M419.9 512.4h0M384.1 530.3h0M389 506.9h0M385.4 524.6h0M376.6 548.6h0M420.5 517.4h0M415.2 510.6h0M442.4 546h0M437 528.6h0M450.4 535.1h0M411.4 504.5h0M382.1 528.6h0M443.2 538.9h0M428.1 508.6h0M451.5 507.4h0M413.2 510.5h0M443.8 534.8h0M461.9 518.1h0M446 518.9h0M386.6 527.8h0M402.9 538.8h0M441.8 539.8h0M451.3 533.2h0M456.3 540.2h0M424.5 549.2h0M438.8 506.4h0M421.9 525.6h0M431.4 528.4h0M371.6 522.7h0M414.3 505.3h0M390.5 505.4h0M418.1 537.6h0M428.7 521.2h0M380.9 529.7h0M383.1 546.6h0M435.2 531.6h0M429.6 534.6h0" stroke="#5c2cbc" stroke-width="2" stroke-linecap="round" fill="none" opacity="0.9"/><path d="M405.5 551.3h0M383.5 523.5h0M466.3 522.1h0M421.2 510.1h0M449.9 538.9h0M395.4 504.7h0M440.3 542.9h0M417.3 512.2h0M414.7 515.6h0M399.4 494.2h0" stroke="#5c2cbc" stroke-width="2.5" stroke-linecap="round" fill="none" opacity="0.9"/>
</g>
<rect x="271.6" y="555.2" width="95.5" height="72.4" fill="#f0eff1"/>
<g clip-path="url(#ci9)">
<path d="M284.1 613.4h0M289.5 602.3h0M284.5 575.9h0M333.9 569.1h0M327.3 607.2h0M285.9 557.8h0M327.5 563.9h0M342.6 584.2h0M335 597.8h0M291.4 569.1h0M344.7 609.5h0M364.4 625.4h0M362.9 612.4h0M364.6 603.1h0M364.5 616.7h0M297.3 577.7h0M323.1 614.6h0M365.1 583h0M308.4 567.6h0M319 627.5h0M297.1 558h0M282.3 621.1h0M275.5 618h0M333.4 593.5h0M287.3 586h0M358.4 612.6h0M304.9 592h0M282.2 591.7h0M328.6 557.5h0M306.4 595.3h0M303.5 627.4h0M322 559h0M352.3 593.6h0M316.2 597.2h0M336.3 627.3h0M334.6 583.3h0M310.8 577.4h0M285.2 578h0M306.3 589.5h0M309.3 573h0M319.1 559.3h0M293.9 555.8h0M337.2 574.3h0M318.3 607.5h0M275.9 563.9h0M277.8 576.7h0M361 618h0M280.6 586.7h0M339.4 602.9h0M274.3 615.9h0M347.2 556.5h0M349.8 605.8h0M335.4 611.9h0M325.4 602.5h0M306.1 570.3h0M315.5 623.8h0M349.5 587.1h0M323.5 612.1h0M363.7 592.2h0M286.1 568.4h0M312.8 589.9h0M280.4 604.8h0M323.5 624h0M312.1 602.3h0M363.5 571.1h0M313.9 561.5h0M366.4 577.8h0M308 611.6h0M309 572.6h0M294.4 568.2h0M346.5 618.5h0M280.7 592.1h0M352.2 608.6h0M310.6 625.8h0M339.5 610.9h0M363.3 619.3h0M339.1 602.7h0M275.9 583.7h0M299.3 594.4h0M349.4 555.3h0M351.3 581.9h0M357.5 605.5h0M312 615.8h0M323.1 573.1h0M326 582.8h0M294.8 594.1h0M299.9 558h0M314.6 577.1h0M313.5 590.8h0M271.6 555.8h0M302.8 562.8h0M351.1 570.5h0M366.4 604.6h0M299.8 562.9h0M333.8 620.8h0M307.2 626.8h0M334.4 620.4h0M272.3 598.3h0M318.9 601.8h0M366.8 597.4h0M290.1 620.4h0M316.9 564.9h0M318.3 626.5h0M345.3 623.8h0M280.1 601.5h0M324.3 579.9h0M340.4 572.5h0M336.2 623.3h0M312.2 591.4h0M327.8 619.9h0M316.2 567.9h0M313.5 595.1h0M280.9 578h0M354.7 593.7h0M276.4 621.5h0M339.3 563.1h0M272.4 607.8h0M310.3 611.9h0M347.9 609.9h0M284.2 572h0M327.9 624.2h0M301.3 562.3h0M280.1 603.7h0M274.9 624.3h0M356.9 590.5h0M354 601.1h0M351.4 625.8h0M326.3 599.9h0M325.4 596h0M327.1 602.3h0M348.7 610.2h0M357.5 566.4h0M275 581h0M330.8 577.5h0M361.2 585.8h0M297.1 596.2h0M283.2 619.1h0M349.3 604h0M348.4 600.8h0M340.9 620.8h0M300.5 623.6h0M309.1 616h0M305.8 581.3h0M290.8 565.2h0M332 558.1h0M335.1 617.2h0M318.1 600.9h0M324.8 597.8h0M342.3 626.3h0M315.5 588.1h0M302.8 625.1h0M276.3 595.2h0M357.8 576.5h0M317.2 582h0M362.8 585.3h0M331.6 590.6h0M327.9 588.7h0M320.5 589.2h0M281.4 573.3h0M294.1 620.2h0M313 568.1h0M278.3 562.4h0M361 627.3h0M366.4 559.3h0M350.8 581.2h0M280.9 610.5h0M293 571.2h0M282.8 588.1h0M279.9 609.3h0M365.2 592.4h0M278.7 610.1h0M348.5 602.1h0M315 577.9h0M339.3 565.8h0M312.6 556.8h0M320.5 567.6h0M335.2 617.6h0M343.3 600.1h0M287.4 571.1h0M345.6 604.7h0M317.5 573.7h0M353.5 614.4h0M367.1 583.6h0M325.3 609.9h0M297.8 591.5h0M315.8 613.7h0M357.6 609h0M303.9 592.6h0M348.5 614.2h0M335.6 590.1h0M314.6 571.6h0M341.3 556.3h0M347.8 559.4h0M325.1 579.5h0M282.6 595.8h0M354.4 576.7h0M329.9 589.9h0M310.6 573.4h0M322 622.9h0M277.5 561.4h0M303 570h0M346.7 592.4h0M362.8 567.4h0M311 604.8h0M314.7 612.9h0M300.8 589.4h0M277.8 558.6h0M361.3 564.9h0M332.4 567.8h0M332.3 602.2h0M319.9 592.4h0M331.3 605.8h0M278.5 575.6h0M294.3 564.1h0M272.2 565.4h0M304.9 567.5h0M276.2 591.9h0M334.3 623.5h0M293.7 622.5h0M317.8 576.6h0M313 607.7h0M338.4 603.1h0M319.9 573.6h0M361.8 607.3h0M307.5 560.7h0M304.8 594.2h0M279.7 592.4h0M343.5 606.6h0M299.2 580h0M340.8 569h0M286.5 571.3h0M343.3 614.8h0M348.7 601.1h0M276.7 583.7h0M328.2 562.5h0M333.2 567.3h0M323.6 594.8h0M317.5 627h0M280.1 613.3h0M289.1 569.4h0M288.6 581.6h0M326.8 589.5h0M363.5 566.6h0M306.9 561.3h0M318.7 563.3h0M319.6 571.7h0M292.8 619.8h0M291.3 605.7h0M316.4 603.6h0M360.6 602.8h0M310.6 563.2h0M354.4 579.5h0M285.5 620.8h0M363.7 568.8h0M345.1 579.1h0M307.8 585.3h0M354.4 616.7h0M302.9 611h0M329.5 608.5h0M279.4 571h0M362.6 594.7h0M358.5 560.8h0M282.9 558.9h0M299.8 596h0M324.7 618.8h0M284.2 590.6h0M300.2 626.8h0M318.5 586.2h0M356.7 561.9h0M292.4 570.8h0M302.8 583.4h0M307.5 590.6h0M293.2 623h0M273.7 586.1h0M279.6 607.6h0M296.8 615.9h0M310.8 559.3h0M331.8 582.1h0M354.2 601.8h0M354.2 609.5h0M341 590.9h0M285.2 569.4h0M336.3 591.5h0M324.4 626.9h0M322.2 598.4h0M333.4 600.7h0M358.5 605.9h0M322.8 598.2h0M358.3 569.7h0M280.4 624.8h0M363.2 567.7h0M366.1 603.4h0M342.3 597.6h0M361.8 596h0M329.1 578.8h0M350.9 565.4h0M330.5 599.6h0M333.6 573.8h0M346.9 596.4h0M335.4 556.8h0M328.3 569.5h0M277.3 565.5h0M318.6 621.9h0M338.9 605.2h0M312.9 597.2h0M272.7 610.2h0M325.7 612.2h0M277.4 558h0M348.9 582.6h0M341 560.9h0M360.2 582.4h0M354.5 568.1h0M295.6 592.1h0M355 589.2h0M330 571h0M337.1 621.5h0M352.1 611.4h0M317.2 623.8h0M330.7 584.2h0M330.3 557h0M286.9 591.2h0M277 555.5h0M356.8 557.1h0M358.4 594.3h0M282.7 611.6h0M297.7 606.3h0M335.6 626.3h0M328.2 609.7h0M332.1 625h0M321.5 601.7h0M341.6 574.5h0M350.3 578.7h0M304.7 621.5h0M316.8 600.3h0M272.2 618.6h0M298 609.2h0M318.9 558h0M293.9 561.2h0M343.1 580.5h0M364.5 627h0M278.5 601.1h0M294.6 606.9h0M326.7 611h0M332.2 580.3h0M344.5 592.1h0M275.3 592.1h0M336.3 583.4h0M304.4 593.1h0M322.7 622.9h0M363.8 571.8h0M355 577.4h0M338.5 614.1h0M340.4 624.1h0M290.9 597.5h0M276.1 622.4h0M365.7 596.5h0M332.6 576.2h0M306.7 566.8h0M325.1 575.3h0M365.2 584h0M275.9 568.8h0M325 577.5h0M331.3 610.5h0M275 591h0M305.7 573.1h0M306 575.8h0M366.5 574.3h0M341.1 574.9h0M291.4 613.9h0M281.1 589.6h0M310.3 621.8h0M324.4 606.3h0M310.5 611h0M360.5 611.2h0M312.2 608.2h0M340.4 559.9h0M320.9 560.5h0M298.5 587h0M339.4 589.2h0M286.2 566.4h0M302.4 585.8h0M275.7 570.1h0M307.3 571.7h0M361.8 595.3h0M342.2 555.6h0M307.2 558.1h0M345.9 576.2h0M348.8 585.1h0M337.7 569.3h0M293.5 623.8h0M317.5 615h0M287.5 590.1h0M299.6 594.8h0M365.9 587.2h0M285.3 614.5h0M306.1 619h0M307.2 597.8h0M343.5 600.8h0M276.9 561.8h0M306.6 622.1h0M355.1 613.4h0M362.5 597.3h0M343.5 616.1h0M347.7 623.7h0M354.4 599.5h0M358 570.8h0M337.5 581.6h0M292.1 618.1h0M348.5 564.3h0M305.4 569h0M279.6 613.8h0M309.7 584.1h0M356.5 566.6h0M347.2 579h0M273.1 624.3h0M306.8 600.3h0M290.3 626.7h0M351.3 573h0M350 596.8h0M307.4 597.4h0M335.9 565.5h0M300.3 581.8h0M289.6 582.5h0M363.6 579.7h0M313.8 587.6h0M292.4 589.3h0M292.2 601h0M355.1 564h0M317.1 561.9h0M361.1 623.3h0M306.2 561h0M348 611h0M361.1 561.2h0M289 620.5h0M276.6 618.3h0M361.9 586.7h0M301.6 576.1h0M272 580h0M357.4 573.3h0M287.9 618.5h0M276.9 557.3h0M285.5 585.2h0M356.5 601.6h0M361.3 609.6h0M347 627h0M298.8 559.7h0M276.7 556.2h0M281.7 568.6h0M366.2 590.2h0M307.8 590.9h0" stroke="#55506a" stroke-width="0.5" stroke-linecap="round" fill="none" opacity="0.65"/>
<path d="M301.4 608l-2.5 0M290.8 586.5l3 0.6M324.8 597.8l2 3.1M324.8 569.8l3.1 1.9M277.8 568.7l-2.5 0.6M311.3 565.3l-0.4 2.7M299.3 594.1l1.1 0.1M307.2 586.5l0.1 1.5M322 599l-0.6 2.7M297.8 606.8l-0.6 0.1M367.8 608.7l-0.8 0.4M348.8 573.1l2.9 0.3M327.2 554.6h0M306.8 587.6l-0.7 0.4M296.6 592h0M332.4 572.5l-1.3 0.4M314.3 603.2l-0.5 0.3M336 618.2l-1.7 1.8M348.4 565.6l0.6 0.6M299.7 581.5l3 1.9M349.5 560.7l-0.7 0.4M331 568.6l1.4 3.1M330.5 582.1l-0.3 0.6M303.4 590.8l0.4 0.5M304 599.3l-0 1M309 573.6h0M335.7 604.1l2.6 1.3M315.3 593.1h0M289.2 591.8l-0.6 3.6M331.5 574.9l-2.6 1.5M330.3 584.1h0M322.3 592.6l-1 3.3M331.4 580.5l-0.8 1.9M306 593l3.6 0.4M325.2 565.2l0.6 0.2M323.8 602.3l0.5 3.7M302.4 603.9l0.6 1.1M285.2 581.2l-0.2 0.5M361.5 569l-3 1.9M293.4 618.8l-1.9 1.1M307 629.7l-2.3 2.2M317 625.7l-3.7 0.1M314 556.1l0.1 3.1M270.9 567l-1 2.9M324.2 565.2l-3.3 1.1M285.5 578.5l1.8 0.8M331.5 596l1.2 2.1M350.5 574.9l-0.3 1.8M343.9 560.9h0M279.5 557.3l2.3 0.5M315.1 611.8l0.7 1.9M329.8 586.9h0M327.9 573.1l1.5 2.2M318.5 554.2h0M336.2 586.2h0M293.1 601l0.7 1.3M308.1 612.8h0M284.2 554.8l0.5 3.6M273.4 618.1h0M336.4 564.6h0M325.2 555h0M351.1 590l-1.3 3.1M288.8 614.8l-1.7 1.4M325.8 570.9l3.5 0.1M298.6 582.1l-3.6 1M329.3 584l-0.8 2.8M334.2 568.3l3.5 0.7M302.2 577.7l0 1.3M309.2 592.4l1.5 2.3M330.9 629.6l-3.6 0.1M336.8 554.2l1.5 2.7M316.7 599.3l1.9 0M276.7 571.9l-2.8 0.7M336.5 613.7l-1.3 0.3M344.1 607.1l-0.1 3.4M298.7 601.8l2.2 0.1M307.7 587l0.8 0.2M334.5 582.9h0M333.3 580.7l-0.8 2.7M279.2 592l0.5 0.3M312.9 576.3l2.8 2.1M302.4 571.8l-0.8 0.8M291.5 585.1l0.8 3.6M289.9 595.2l2.4 2M285.6 612.8h0M335.3 583l-1.1 1M341.4 610.7l-1.6 1.1M335.7 557.8l-0.2 0.6M326.2 573.4l1.4 1.6M340.6 613.2l0.1 2.5M326.7 587.4l-2 2.5M318.9 570.6l0.8 0.7M280.2 593.2l-0 1.4M293.1 578.5l-2.7 0.2M339.6 591l1.8 1.7M285.3 587.2l1.6 1.7M327.4 574.3h0M316.1 603.5h0M340.9 578.5l-1.4 1.1M310.5 558.9l3 2.1M305.3 586.1l2.7 1.9M276.7 561.4l0.3 2M318.5 559.3l-2.8 1.6M332.4 562.5l0.6 0.8M313.8 596.9l-0.9 2.7M320.7 586.6h0M337.5 578.8h0M336.1 609.3l-1.6 0.1M325.9 575.9l0.4 0.5M363.1 564.7l-0.8 3M294.1 589.3l-1.3 1.2M361.4 583.7l0.4 0.7M303 579.5l-1.2 3M312.1 586.8l0.2 0.5M275.3 610l2.2 2.6M326.2 582.2h0M312.5 601.2l-1.7 0.9M323.2 576.6l0.5 0.2M330.7 592.4l2.6 1.8M288 613l-1 3.6M354.7 570.7h0M306.1 591.3l1.7 3.2M326.3 592l-0.5 2.5M329.7 563l-1.5 1.5M333.3 570.4l-3.2 1M326.1 579.8l2.3 0.3M306.4 610.9l3 0.5M328.7 626.8l-0.9 0.4M365.2 582.3l-0.8 1.6M317.4 601l1.5 2.9M326.1 625.3l0.3 0.7M290.1 568.1h0M318.6 604.9l-0.2 1.5M346.6 591h0M307.1 616.1l-2.9 0.3M273.9 565.7l1.4 1.2M295.2 589.4l0.2 1.8M331.7 556.7l-0.8 1.6M324 597.4l-0.4 0.2M284.9 594.3l0 2.2M356.9 607l0.5 0.3M336.6 574.8l-0.9 0.8M298.4 600.4l0.5 0.4M287.4 597.6h0M342.9 588.3l-0.4 0.9M320.6 583.1l-1.1 3.2M357.1 561.8l1.1 1.8M364 620.3l1.5 2.8M277.5 579.6l-1.3 2M330.2 560l2.3 3M322.8 582.5l1.2 1M306.5 629.2l-0.5 0.2M298.7 614.8l1.9 0.7M303.4 588.7l1.1 2.9M334.6 567l-1.6 0.9M291.4 605.2l-1.9 3.1M333.1 576.8l0.9 0.6M329.3 565.5l2.6 2.4M287.3 591.2l1.6 0.8" stroke="#6a3cc4" stroke-width="1" stroke-linecap="round" fill="none" opacity="0.9"/><path d="M308.9 580.2l2.2 0.6M318.5 591.8l-2.4 2.8M305.8 558.3l1.5 1.3M281.8 606.3l1 1.6M281 613.7h0M328.4 620.7l-1.6 2.1M310.1 601.3l1.8 0.6M311.4 591.9h0M310.3 591.7h0M339.2 568.5l0.7 3.7M329.8 575.8l-0 0.9M291.3 583.3l1.6 1M338.2 578.5l1.7 2.8M334.3 595.9l1.2 3M337.5 561.8l-0 0.7M308.1 606.1l-0.7 0.3M315.5 595.6l-0.4 3.5M276.7 572.5l0.7 0.9M308.9 592.7l0.7 2.3M328.3 581.8l0.4 1.2M308.5 612.5l1.3 1.1M318.6 600.4l1 1.6M346.5 585.7l-3.3 0.5M325.7 578.1l2.9 2.1M314.9 589.6l-3.3 1.7M335.9 580.3l0.6 0.7M301.9 598.1l1 0M316.1 566.6l3.3 1.6M338 566h0M289.1 562.4l0.6 0.3M358.6 590.7l-2.2 0.6M367.5 608.5l0.4 0.4M280.3 609.7l1.6 1.2M363.4 587.9l3 1.4M325.3 623.5h0M288.3 621.5l-0.8 2.6M303.9 602.5l-0.8 1M286.4 578l3 1.1M318 579.1l0.6 0.1M324.4 601.6l1.2 1.1M339.6 605.2l-2.1 1.4M316.5 582.1l0.4 1.5M271.3 592.7l1.8 1M309.1 613.1l-1.3 3.3M301.5 565.8l0.1 0.6M321.6 574.3l1.7 3.3M299.3 603.7l0.5 1.4M309.4 594.4l1.7 0.7M331.3 574.6l-2 0.6M329.3 564.9l-1.4 0.6M301.3 600.9l2.8 2.3M320.4 568.3l-3 0.8M277.3 571.6h0M299.7 590.3l-0.7 0.7M318.9 591.9l-0.7 0.1M317.8 611.1l0.5 0.6M278.9 590.7h0M332.6 572.1l2.1 1.9M367.4 618.4h0M299.4 600.2l-2.6 1.7M337.6 566h0M331.5 614.4l0.2 2.3M301 601.2l-0.7 0.8M324.1 611.7l1.2 2.1M326.5 580l-1.8 3.2M363.8 568.1l0 3.3M304.7 610.4l-1.5 1.4M276.1 556.9h0M360 612.3l-0.6 0.5M314.7 613.8l-0 1.4M336.1 567.7l-0.6 0.2" stroke="#6a3cc4" stroke-width="1.5" stroke-linecap="round" fill="none" opacity="0.9"/>
</g>
<rect x="371" y="555.2" width="95.5" height="72.4" fill="#f1f0f1"/>
<g clip-path="url(#ci10)">
<path d="M388.1 606.2h0M445.6 622.8h0M413.1 584.4h0M441.2 580.2h0M431.6 609.2h0M433.3 617h0M371.7 625.8h0M431.6 622.4h0M418.2 610.1h0M420.5 613.4h0M456.3 618.3h0M437.9 608.9h0M403.3 626.5h0M401.1 579.7h0M372.3 600.3h0M433.3 601.6h0M401.9 593.1h0M443 609.1h0M384.5 594.1h0M403.7 622.2h0M422 555.3h0M380.9 587.1h0M426 555.8h0M440.7 564.4h0M389.3 572h0M391.6 613.7h0M391.7 571.3h0M446.1 574.4h0M440.4 607.2h0M432.6 574h0M400.3 579h0M409.8 606.5h0M398.1 563.6h0M374.6 606.2h0M381.2 555.9h0M390.2 613.3h0M416.9 591.9h0M414.9 569.1h0M387.6 627.2h0M415.8 620.7h0M406.9 558.7h0M443.8 618.7h0M388 602.6h0M374.5 556.3h0M444.4 605.8h0M464.5 583.9h0M376 576.9h0M428 578h0M398.6 623.5h0M390.9 616.3h0M421.6 609.6h0M388.6 577.5h0M412.9 571.3h0M391.1 603h0M411.5 622.9h0M387.8 571.2h0M424.4 621.4h0M449.8 590.1h0M379.6 573.8h0M427.4 599h0M459.7 612.9h0M402.4 624.9h0M423 558.4h0M426.6 609.4h0M394.8 563.5h0M420.4 577.2h0M382.5 571.9h0M461.1 621.1h0M375 577.1h0M399.4 580.5h0M444.1 561.3h0M383.3 592.7h0M380.3 627h0M464.4 619.5h0M407.1 584.3h0M409.5 590.9h0M425.7 572.8h0M388.9 568.7h0M420 606.7h0M380.4 568.4h0M392.6 560.4h0M451.4 593.1h0M461.7 570.2h0M435.6 601.8h0M408.5 609h0M446.9 558.6h0M397.2 580.1h0M396.2 611.6h0M409 582.3h0M398.9 624.9h0M416.9 603.6h0M395.5 605.1h0M458.6 589.7h0M377.9 567.2h0M439.5 599h0M446.6 599.5h0M380.4 572.5h0M452.7 573.9h0M420.5 556.3h0M372 581.2h0M417.7 578.6h0M380.5 561.2h0M417.7 621.3h0M425.6 626.4h0M457.9 603h0M378.5 605.6h0M461.2 605.3h0M443 584.1h0M448.4 575.1h0M406.8 620.9h0M441.3 607.9h0M419.7 593.6h0M448.8 595.8h0M430.9 582.4h0M438.1 597.5h0M388.3 610.3h0M400.7 563.2h0M443.7 606.1h0M429.8 619.8h0M459.4 559.2h0M445.7 592.5h0M465.4 611.5h0M395 588.2h0M456 588h0M376 592.4h0M381.7 617.5h0M459.4 566.1h0M378.4 558.5h0M445.3 588.9h0M409.6 572h0M391.8 557.6h0M446.7 567.9h0M416.4 619.4h0M425.1 596h0M400.9 614.6h0M448.8 602.7h0M458.3 586.8h0M437.1 608.7h0M451.3 605.4h0M426.4 625h0M465.5 622.4h0M386.4 600.1h0M452.9 564h0M437.4 577.4h0M458.2 589.6h0M434.4 603.6h0M459.7 621.3h0M429.5 610.4h0M417.5 617.6h0M459.5 620.1h0M430.1 588.9h0M395.8 592.7h0M430.3 627.1h0M444.6 597h0M419.1 602.4h0M465.5 584.2h0M461.5 618.2h0M390.8 586h0M459.1 606h0M402 607.2h0M382 624.2h0M398.7 627.3h0M461.8 588h0M411.7 592.8h0M394.7 616.7h0M422 596.3h0M441.4 564.3h0M453.1 615.7h0M420.4 591.7h0M386.8 612.6h0M395.3 599.8h0M389.1 596.2h0M450.3 620.5h0M392 625.8h0M409.5 593.5h0M408.7 589.2h0M454.7 593.3h0M441.9 611.6h0M390.2 614.5h0M379.8 609.6h0M390.4 606.3h0M441.3 614.6h0M393.4 625.4h0M383.1 616.1h0M433.7 580.1h0M463.7 605.1h0M445.9 617.8h0M372.2 559h0M389.4 625.1h0M438.9 617.9h0M371.4 581.9h0M427.5 619.4h0M406.2 624.6h0M382.3 617.6h0M411.3 595.7h0M400.9 618.1h0M420.6 588.9h0M433.6 594.8h0M386.2 623.7h0M435 600.2h0M384.8 627.1h0M386.9 569.9h0M392.8 621.3h0M419.6 599.7h0M429.5 584.8h0M464.5 616.2h0M455.8 592.5h0M429.9 611.7h0M392.1 624.7h0M435.9 566.9h0M442.2 620.9h0M380.8 623.9h0M425 601.9h0M392.2 569h0M446.8 567.7h0M411.5 573.7h0M434.7 557.9h0M402.4 603.1h0M423.1 627.1h0M404.7 613.4h0M401.5 621h0M409 558.4h0M407.6 617.6h0M413 593.7h0M393 575.6h0M464.7 576.9h0M382.5 584.6h0M371.4 584.6h0M390 608.8h0M450 593.3h0M401.1 589.8h0M443.6 614.3h0M461.9 623.3h0M376.6 601.1h0M454.5 595.9h0M374 573.4h0M396.9 594h0M423.2 594.7h0M433.1 595.9h0M458.2 598.3h0M392.7 625.3h0M445.8 582.3h0M436.1 600.3h0M374.9 577.8h0M387.8 561.2h0M466.2 556.8h0M434.1 600.5h0M405.6 607.1h0M401.6 610h0M424 573h0M423.1 556.9h0M373.6 562.2h0M378.3 623.5h0M448.9 582.1h0M437.6 621.3h0M453.3 573.2h0M466.3 594.2h0M448.3 581.5h0M444.1 569.4h0M429.5 594.8h0M430.1 580.3h0M412.8 581.8h0M431.9 561h0M420.2 621.4h0M381 594.1h0M412.7 623.6h0M406.4 555.9h0M406.2 592.9h0M441.8 614.8h0M403.8 585.7h0M379.4 581.7h0M449.9 620.7h0M406.3 575.4h0M408.5 593.5h0M389 595.3h0M411 575.4h0M445.1 577.5h0M465.4 603.9h0M450.4 617.1h0M429.4 600.3h0M374.6 576.4h0M457.2 592.1h0M394.5 627.2h0M398.6 561.3h0M408.7 586.4h0M385 595.3h0M424.9 588.2h0M411.7 581.2h0M409.2 593.3h0M445 603.5h0M405 575.7h0M440 591.3h0M449.9 608.9h0M377.8 585.9h0M383.4 605.5h0M425.4 564h0M405.7 617h0M387 619.6h0M401.7 600.3h0M401.6 599.5h0M378.8 591.9h0M433.2 624.8h0M417.4 587.7h0M435.6 563.7h0M451.4 605.6h0M429.4 567.1h0M441 587.3h0M451 602.8h0M450.2 558.4h0M464.4 578h0M384.5 569.3h0M384.4 579h0M415.6 578.3h0M450.2 605.1h0M437.3 623.9h0M456.7 613.5h0M381.1 581.7h0M374.8 593.4h0M408.4 598.6h0M456.3 626.2h0M441.9 598.4h0M450.3 607.4h0M380.5 621.2h0M458.5 563.7h0M449.3 594.8h0M378.4 597.7h0M381.9 620.1h0M437.3 590.7h0M419.9 598.1h0M458.9 623.1h0M393.7 598.7h0M427.3 570.8h0M432.3 563.6h0M416.7 602.3h0M390 626.3h0M447.9 616.2h0M438.3 562.7h0M414.2 560.4h0M452.8 579.4h0M427.1 614.9h0M433.4 587h0M449.7 621.2h0M442.7 564.5h0M404.9 555.7h0M431.5 613.8h0M462.3 563.7h0M442.9 626.6h0M443.6 573.3h0M461.3 568.1h0M376.8 606.5h0M415.8 559.4h0M391.1 562h0M422.9 620.6h0M449.4 594.4h0M389.8 600.2h0M456.6 618.2h0M461.7 587.4h0M382.8 581.2h0M414.3 601.9h0M400.5 561.5h0M451.8 596.6h0M428.6 564.4h0M400.4 567.2h0M406.8 609.6h0M407 614.7h0M429.2 618h0M416.8 608h0M424.4 605.6h0M433.4 587.2h0M426.8 624.6h0M455.9 612.5h0M377.5 623h0M372.2 574.2h0M401.7 557.9h0M462.9 619.2h0M378.6 590.7h0M396.1 575.2h0M459.4 582.4h0M386.2 583.2h0M461.2 611.4h0M447.2 593.2h0M464.7 589.9h0M454.9 623.7h0M466.3 621.9h0M394 582.2h0M442.8 614.4h0M454.7 558.6h0M375.3 575.3h0M377.5 567.5h0M407.3 617.3h0M452 612.9h0M393.2 570.9h0M451 576.2h0M443.7 614.3h0M446.5 564h0M388.7 590.5h0M410.4 617.8h0M406.7 590.8h0M434.4 587.9h0M403.9 572.3h0M426.9 591.1h0M448.5 621.8h0M439.6 609.6h0M371 567.9h0M460.1 561.1h0M412.6 608.2h0M372.5 555.8h0M445 619.7h0M374.5 560.6h0M419.7 586.8h0M462.2 563.7h0M459.3 582h0M377.9 586.3h0M429.5 578.1h0M381.4 600.5h0M388.5 588.9h0M388.1 599.1h0M409.4 591.9h0M415.5 611.3h0M454.6 580.6h0M422.9 627h0M380 626.4h0M457.1 594.8h0M422.4 612.4h0M430.4 621.4h0M440.4 561h0M413 605.3h0M373.7 564.7h0M456.8 602h0M390.6 580.7h0M380.3 624.1h0M461.8 555.4h0M392.1 569.3h0M410.3 583.4h0M409.7 599.5h0M440.8 615.6h0M382.5 610.9h0M437.3 580h0M422.9 587.3h0M443.3 566.1h0M443.3 571.9h0M398.6 574.8h0M394.9 606.2h0M396.4 611.3h0M455.6 572.9h0M386.8 563.2h0M437.2 571.5h0M437.4 576.2h0M396.6 601h0M449.7 558.4h0M418.7 585.2h0M405 572h0M443.7 621.1h0M399.3 619h0M395.5 611.4h0M420 607.6h0M457.9 572.6h0M460.3 601.2h0M434.1 613.3h0M410.8 566.5h0M395.1 572.3h0M396.8 582.5h0M423.5 565.5h0M451.1 573.2h0M377.7 621.9h0M441.6 588.6h0M438.9 617.9h0M449.7 585.3h0M432 597.2h0M419 616.8h0M453.1 563.5h0M374.8 571.1h0M436.5 556.3h0M459.6 556.8h0M435.2 608.5h0M439 615.5h0M434.1 609.5h0M385.4 623.3h0M391.1 624.2h0M384.4 604.3h0M414.3 558.4h0M386.9 603.3h0M401.8 559.4h0M377.3 563.4h0M419.4 559.9h0M439.6 601.6h0M436.2 555.9h0M416.5 619.4h0M394.1 596.5h0M419.6 622.4h0M419.2 612.8h0M415 577.7h0M420.1 592h0M383.5 584.3h0M449.8 598h0M441.5 607.9h0M406.4 607.2h0M431.7 601.8h0M466 559.1h0M393.6 612.8h0M460.7 562.4h0M411.8 571.1h0M431.6 586.9h0M413.3 558.6h0M414.9 563.5h0M404.6 572.9h0M429.3 581.7h0M392.1 586.1h0M439.2 603.2h0M434 577.6h0M440.4 586.3h0M464.3 565.1h0M456.7 576h0M435.8 561.5h0M429.9 604.6h0M457.3 567.8h0M441.3 576.7h0M440.2 582h0M376.7 578.5h0M423.5 610.3h0M398.5 586.3h0M434 619.9h0M378.4 619.9h0M385.7 562.5h0M410.6 568.4h0M440.5 594.2h0M426.2 583.4h0M402.5 569.2h0M396.6 603.7h0M394.5 625.1h0M435.3 608.7h0M405.6 559.5h0M403.5 591.8h0M371.2 596.2h0M414.5 575.4h0M441.3 556h0M398.5 596h0M429.3 580.7h0M389.4 613.9h0M459.6 573.3h0M446 569.6h0M417.2 570.1h0M411.1 611.1h0M450.8 587.3h0M398.3 566.4h0M450.9 558.8h0M445.2 569.4h0M451.3 590.3h0M373.8 572.9h0M427.4 597.3h0M411.6 616.4h0M424.6 558h0M460.3 625.7h0M448.6 598.2h0M454.1 570.9h0M385 588.9h0M421.5 563.1h0M409 576.6h0M412.2 588.2h0M396.1 618.3h0M462.2 596.7h0M432.7 582.7h0M411.3 594.5h0M377 619.7h0M436.8 626.1h0M402.3 595.5h0M443.2 579.2h0M454.8 580.5h0M459.1 617.9h0M425.9 560.2h0M430.3 613.8h0M389.9 583.7h0M433.1 561.7h0M434 623.5h0M382 601.4h0M460.6 621.7h0M394.3 618.7h0M383.5 576.2h0M379.2 617.4h0M380.9 572.1h0M433.8 597.2h0M457.4 596h0M398.4 580.5h0M456.1 580.2h0M401.2 569.4h0M418.3 567.4h0M387.8 602h0M425.6 588.8h0M435.1 625.4h0M437.6 619h0M426.2 573h0M452.4 562.5h0M371.4 573.7h0M431 555.3h0M408.1 578.6h0M388.7 621.4h0M387.5 582.7h0M431.4 613.6h0M445.2 625.1h0M435.9 613.9h0" stroke="#55506a" stroke-width="0.5" stroke-linecap="round" fill="none" opacity="0.65"/>
<path d="M395 554.9l1.2 0.8M435.5 601.9h0M386.7 605.3l-0.9 1.4M396.2 557.3h0M394.8 573.1h0M392.5 616.6l-0.4 1.1M424.2 578.8l-0.8 2.5M387 596.8l0.7 1M429.6 590.8l-0.3 2.6M404.3 562.9h0M401.5 570l0.6 2.8M413 554.8l-1.1 1.3M401.5 556.3l-0.4 0.9M401.5 564.5l2.6 0.6M397.1 574.2l-0.7 0M409.4 558.7h0M408.8 554.3l-2.9 0.5M435.3 622.6l-0.3 1.2M374 614.6h0M393.8 573.4l2.1 0M396.8 573.9l-0.8 1.6M398.5 596.6l-2.7 1.2M383.7 568.8h0M401.3 564l-0.2 0.7M402 556.7l0.4 1M374 566.2l0.6 0.1M399.2 570.7l0.5 0M405 572.3l0.5 1.6M409.9 628.3l-1.8 2.4M393.4 560.2l-0.4 2.4M416.7 561.7l-1.4 2.3M371.3 572l-2.3 0.4M373.8 618.9l0.7 2.7M425.9 589.6l-1.3 1M427.4 605.9l-0.2 0.9M373.5 619.8l0.9 2.3M408.9 562.7l-0.5 0.5M392.3 564.2l2.4 0M381.1 559.7l2.7 1.1M398.4 583.8l-1.6 0.8M404.5 570.1l1.8 0.5M370.5 582l-0 0.8M406.8 575.9l1.7 1.6M396.8 568.8l-2.1 1.3M421.4 562.8l-1.1 0.2M405.3 561.6l-1.1 1.4M441.2 554.5h0M420.3 571.1l-1.3 2.6M407.3 602.2l2.2 1.8M411 551.4l0.4 0.6M426.2 602.8l-0.8 2.2M441.8 586.2l-0.8 0.7M415.4 555.7l1.5 0.9M432.5 616.1l-0 0.6M384.5 571l1 1.3M393.5 568.4l2.6 0.5M400.6 604.4h0M389.5 562.3l1.1 0.9M444.4 557.3l0.4 0.9M394.1 577l1.7 1.1M377.8 594l0.3 1.3M413.9 548.6l-0 2M397.3 564l-1.7 1.7M391.1 565.1l1.8 2.4M388.9 567l0.1 0.7M412.5 557.5h0M388.4 593.6l-1.7 1.7M433.3 572.4l-1.7 0.4M407.5 569.8l1.2 2M420.9 564l-0.3 0.8M402.1 583.7l-0 0.7M411.9 563.8l0.2 1.4M387.7 565l0.7 0.4M419.4 554.4l0.8 0.9M407.4 569.8l-0.1 0.5M379.2 595.7l-0.6 0.2M403.1 570.2l-0.2 0.7M396 553.2l0.2 2.8M408.6 563.7l0.3 0.6M411.8 605.4h0" stroke="#6e40c4" stroke-width="1" stroke-linecap="round" fill="none" opacity="0.85"/><path d="M414.7 563.8l-2.8 0.6M402.4 559.3l-2.1 1.1M407.3 558.9l0.9 0.2M383 561.3l-2.1 1.8M405.8 586.7l1.7 1.5M412.9 572.8h0M395.3 571.4l0.8 0.2M458.8 622.2l0.6 0.3M460.2 601.3l0.8 1.6M437.3 603.8l-1.8 1.7M403.8 570.2l1.9 2.2M403.5 565.5l0.1 1.3M395.5 575.9l0.3 1.6M400 563l0.8 0.3M401 585.6l1.6 0.3M421.2 568.3l0.9 0.8M438.5 599.1l1.4 1.1M397.3 559.8l-1.2 0.6M390.2 599.7l1.7 2.5M434.7 591.4l-1.8 1" stroke="#6e40c4" stroke-width="1.5" stroke-linecap="round" fill="none" opacity="0.85"/>
</g>
<rect x="271.6" y="630.8" width="95.5" height="72.1" fill="url(#gf11)"/>
<g clip-path="url(#ci11)">
<path d="M324.7 702.2h0M319.6 689.2h0M290 682.5h0M279.5 689.3h0M341.8 683.1h0M293.4 652.9h0M304.7 671.2h0M307.4 677.2h0M365.1 671.1h0M319.8 658.6h0M289.5 681.9h0M338.4 648.4h0M285.4 656.8h0M301 663.1h0M281.2 655.4h0M281.4 646.1h0M288.2 642.5h0M327.4 642.8h0M318.1 649.5h0M289.3 655.7h0M320.6 653.2h0M285.1 651.9h0M326.6 635.4h0M292.8 661.6h0M274.6 651.5h0M300.4 659.4h0M342.4 665.7h0M285.8 641.9h0M347.4 674.5h0M315.9 639.6h0M323 669.8h0M288.5 697.4h0M287.3 639.7h0M290.6 668.9h0M365.5 702.4h0M336.8 644.8h0M313.7 699.9h0M315.3 678.8h0M333.7 660.8h0M340.9 683.5h0M362 698.8h0M315.8 642.4h0M298.1 699.8h0M317.7 666.7h0M330.3 631.1h0M344.7 642.8h0M351.9 632.9h0M336.5 702.6h0M366.9 685.9h0M362 639.8h0M342.6 655.5h0M351.1 674.3h0M343.3 645.4h0M344.7 646.9h0M363.5 636.9h0M352 667.4h0M323.2 651h0M334.7 672.9h0M330.7 689.3h0M359.9 666.4h0M366.1 649.4h0M299.2 633.2h0M318.3 694.3h0M353.1 643.9h0M298.9 690.6h0M342.2 695.7h0M348.5 651.3h0M333.2 655.1h0M310.2 702.7h0M281.1 701.5h0M282 672.3h0M310.5 699h0M296.1 656.7h0M344.9 659.7h0M292.7 636.3h0M323 663.6h0M296 635.9h0M273.7 655.7h0M282.4 651.7h0M325.9 656.1h0M352.2 690.3h0M309.9 667.9h0M352.4 671.6h0M337.8 667.9h0M307.2 683.6h0M276.2 643.7h0M280.8 702.7h0M325.4 648.8h0M335 645.4h0M315.4 654.2h0M359.5 694.2h0M328.3 644.7h0M364.6 696.3h0M272.4 668.2h0M296.5 643.4h0M347.4 651.7h0M325.6 633.9h0M306.4 641.9h0M272.1 660.5h0M366.5 639.5h0M275.2 666.9h0M343.8 682.2h0M362.1 633.8h0M317.3 690.5h0M285.7 676.2h0M365.9 630.8h0M292 673.9h0M336.6 657.9h0M276.4 678.4h0M311.7 679.9h0M341.2 664.4h0M312.3 686.3h0M338.6 633h0M324.6 669.6h0M328.2 644.5h0M308.6 693.5h0M297.3 633.1h0M353.5 702h0M361.8 654.4h0M318.7 638.8h0M355.6 649.2h0M331.3 682.3h0M336.8 667.9h0M303.1 694h0M286 677h0M327.1 701.4h0M340 670.9h0M278.6 643.7h0M320.9 652.7h0M306.4 643h0M344.2 695.1h0M283.2 644.5h0M315.1 694.8h0M325 647.6h0M337.8 632.1h0M356 701.7h0M335.1 649.9h0M282.4 660.3h0M305.9 640.3h0M301.3 656.7h0M300.3 660.1h0M334.2 681.8h0M319.4 654.1h0M363.9 635.2h0M319.6 671.5h0M360.4 662.4h0M322.9 639.7h0M352 700.3h0M329.5 691.7h0M311.3 648.6h0M271.7 702.7h0M331 697.9h0M286.4 686.3h0M365.4 697.4h0M287.8 697.6h0M319.9 637.7h0M328.8 658.1h0M362.9 698.7h0M366.7 660.8h0M290.5 658.2h0M342 671.3h0M344 661h0M292.4 699.2h0M326.5 642.8h0M358.3 632.7h0M311.3 678.3h0M336.6 645.3h0M336.1 667.2h0M275 672.5h0M355.6 678h0M341.7 650.6h0M319.7 700.7h0M344.9 664.4h0M324.7 648.6h0M328.7 653h0M303.6 664.7h0M276.3 676h0M283.2 700.7h0M293.5 677h0M292.7 680.9h0M301.3 658.7h0M345.8 653.7h0M299.8 662.1h0M346.9 682.1h0M318 637.9h0M273 648.8h0M357.4 685.9h0M288.2 697.2h0M294.5 701.3h0M293.7 650.3h0M300.7 680.9h0M305.2 649.9h0M311.1 652.4h0M313.4 693.9h0M323.4 660.6h0M353.9 637.6h0M337.1 690h0M351.3 700.3h0M319.6 695.3h0M277.4 650.7h0M321.7 693.9h0M344.9 690.2h0M337.8 677.8h0M346 647.2h0M331.3 701.2h0M342.1 678.7h0M363.4 691.5h0M277.8 697.1h0M299.2 684.6h0M287.7 672.3h0M291.3 670.9h0M285.7 694.1h0M317 642.2h0M281.1 683.3h0M340.9 649.1h0M311.2 659.9h0M330.2 650.9h0M293.2 634.6h0M323.6 651.3h0M357.1 689.7h0M333.7 664.4h0M364.4 688.5h0M310.9 686.1h0M348.4 636.5h0M356.9 634h0M345.2 696.4h0M313.9 652.7h0M354.2 631.5h0M328.6 699.5h0M357.9 639.2h0M282.1 671.4h0M276.8 680h0M271.7 689.4h0M273.2 633.9h0M304 665.5h0M292.6 661.6h0M347.4 664.4h0M288 634.5h0M357.5 648.1h0M279 674.7h0M307.9 650h0M302 639.7h0M291.3 663.4h0M279.7 673.3h0M319.9 682h0M355.5 659.3h0M330.1 695h0M298.1 693.6h0M297.7 662h0M349.5 691h0M327.4 699.3h0M337.1 648.9h0M285.7 698.3h0M309.9 687.9h0M308.6 670.7h0M353.6 661.4h0M362.9 668.4h0M273.3 646.3h0M296.3 661h0M309.2 639.9h0M332.8 655.5h0M323.2 666.8h0M288.6 664.4h0M282.6 638.7h0M319.2 666.8h0M318.6 664.2h0M349.2 690h0M304.6 652.9h0M312.6 701.1h0M275.8 663h0M280.6 642.7h0M365.6 667.2h0M348.1 678h0M353.7 656.9h0M336.6 701.5h0M297.5 650.7h0M279.6 648.4h0M344.8 670.5h0M359.6 701.2h0M321.8 635.4h0M285.6 668.6h0M309.2 649h0M353.1 690.7h0M272.2 650.2h0M294.3 658.4h0M279.8 671.5h0M342.5 700.2h0M323.7 681.1h0M313.7 664.4h0M319.3 692.4h0M288.7 685.5h0M289.7 633.8h0M352.5 646.4h0M294.7 677.8h0M357.9 693.8h0M337.4 637.5h0M278.5 693.3h0M317.2 640.8h0M349.9 630.9h0M273.8 687h0M283.2 658h0M325.3 639.4h0M351.3 681.4h0M333.8 691.3h0M307 634.6h0M275.1 688.8h0M275.3 656.4h0M305.5 686.6h0M278.8 694.2h0M350 670.9h0M317.8 677.6h0M319.2 690.4h0M336.2 631.9h0M330.7 633.5h0M363.9 664.3h0M314.5 695.6h0M324.7 696.1h0M272.5 698.4h0M310.8 669.7h0M296.4 634.6h0M276.2 643.5h0M338.2 637.8h0M292.7 685.2h0M321.8 701.2h0M325.2 700.6h0M309.4 652.2h0M289.7 697.4h0M365.9 644.5h0M294.4 694h0M289.7 692.1h0M349.8 649h0M274.2 648.4h0M313.1 650h0M340.3 635.3h0M362.3 669.4h0M303.8 687.5h0M291.9 646.3h0M354.2 670.4h0M312.6 656.4h0M355.4 700.6h0M304.5 636.9h0M292.6 645.1h0M362.2 658.9h0M331.9 675.9h0M286.9 651.1h0M330.9 675.6h0M271.7 699.3h0M307.1 661.3h0M358.8 682.9h0M272.3 660.5h0M362.4 683.5h0M341.2 694h0M280.3 659.8h0M308.5 674.8h0M329.7 694.9h0M298.6 699.2h0M316.6 675h0M364 677.6h0M302.4 637.1h0M316 677.7h0M331.3 681.7h0M277.7 683.2h0M344 640.1h0M337.6 696.4h0M307.5 675.7h0M356.5 658.5h0M347.8 687.3h0M342.3 695.6h0M300.1 680.9h0M352.8 684.4h0M304.8 677.7h0M343.5 654.4h0M315.6 689.9h0M334 699.7h0M328.9 651.7h0M322.7 670.1h0M294 633.1h0M349 667.7h0M295.3 672.6h0M331.9 666.2h0M293.8 652h0M297.2 676h0M353 637.3h0M329.1 692.8h0M277.5 633.8h0M357.1 674.2h0M361.2 677.6h0M332 687.5h0M284.7 674.1h0M311.2 658.8h0M351.8 636.9h0M311.1 700.4h0M352.3 660.6h0M273.3 643.3h0M317.3 666.6h0M279.1 646.5h0M324.1 661.1h0M283.9 698.4h0M307.2 673.5h0M353.1 641h0M346.2 662.8h0M311.5 696.7h0M324.7 698.4h0M325.2 633.9h0M302.8 659.2h0M292.8 650.4h0M298.9 689.5h0M312.9 671.3h0M339.8 662h0M316.4 681.6h0M350.4 700.8h0M361.5 674.9h0M329.2 702.8h0M330.9 637.9h0M356.4 657.2h0M305.1 654.5h0M347.7 701.7h0M298.5 676.4h0M295.9 633h0M325.3 647.7h0M324.8 696.8h0M318.9 681.1h0M309.2 679.2h0M311.3 690.9h0M293 659.3h0M339.8 664.8h0M290.4 685.8h0M275.9 672h0M298.9 694.7h0M348.1 642.2h0M350.5 698h0M301.2 632.3h0M305.5 639h0M340 659.7h0M347.2 644.2h0M360.7 664.4h0M324.6 678h0M336.2 659.7h0M308.2 690.8h0M345.8 678.4h0M296.9 651.7h0M309.9 683.3h0M281 648.2h0M276.5 663.8h0M318.4 672.2h0M280.6 665.5h0M307.5 640.9h0M309.6 700h0M318.3 665.3h0M316.7 664h0M295.5 696h0M363 673.7h0M280.1 692.8h0M326.6 669.4h0M283.4 652.1h0M330.2 702.8h0M363.7 702.4h0M272.8 651h0M282.8 668.4h0M318.9 642.9h0M292.7 686h0M337.8 658.9h0M302.1 671.6h0M343.9 644.7h0M301.7 653h0M356.2 685.1h0M342.5 644.9h0M301.5 699.4h0M335.2 639.8h0M289.2 684.1h0M323.1 695.5h0M321.9 634.5h0M307.7 631h0M355.1 693.5h0M286.3 655.9h0M274.5 638.3h0M349.9 637.5h0M300.9 699.9h0M325.8 702.8h0M294 648.4h0M298.1 679.4h0M285.8 675.7h0M320.1 701.5h0M317.4 640.7h0M352.6 648.1h0M342.8 643.6h0M277.1 652.4h0M294.8 690.9h0M315.2 634.6h0M312.2 655h0M340.3 693.5h0M356.2 681.7h0M276.1 660.6h0M352.2 693.7h0M272.4 659.8h0M317.4 682.3h0M347 652.9h0M277.7 695.9h0M344.2 657h0M272.5 636.9h0M285.8 680.5h0M334 695.2h0M322.2 657.6h0M284.9 655.7h0M310 692.3h0M281.3 657.5h0M280 671h0M333 654.6h0M361.7 672.7h0M330.7 678.2h0M326.6 687.3h0M299.1 659h0M352.9 659h0M275.9 635.5h0M333.5 654.4h0M320 635.7h0M330.7 675.5h0M363.8 674.9h0M366.4 652.7h0M325.2 666.5h0M365.1 643.5h0M311.2 647.8h0M274.8 680.1h0M334.4 696.4h0M285.3 680.3h0M280.5 647.5h0M354.8 679.9h0M332.7 639h0M319.2 697.6h0M276.1 701.8h0M335.7 697.6h0M273.8 693.9h0M317 696.8h0M303.6 669.2h0M298.7 642.1h0M327.9 638.1h0M332.8 695.3h0M347.2 649.2h0M295.7 649.2h0M288.4 659.3h0M315 655.5h0M325.2 696.9h0M323.6 655.4h0M364.2 640.1h0M275.5 696h0M362.7 668.5h0M296.6 649.8h0M330.8 692.9h0M272.6 664.7h0M306.3 640.9h0M343.1 687.6h0M341.6 673.2h0M361.6 650.6h0M310.9 667.8h0M288.3 689.4h0M309.5 675.7h0M345.5 691.1h0M304.3 662.6h0M332.7 630.9h0M305.1 671.1h0M350.3 651.9h0M279.5 646.7h0M344.1 698.5h0M300.1 641.1h0M331.9 641.8h0M280.7 637h0M293.7 676.9h0M349 663.5h0M294.3 677.9h0M278.2 697.9h0M314.7 676.7h0M293.1 638.2h0M355.3 653.1h0M282.1 695.3h0M299.6 657.2h0M328.2 653.6h0M320 690.9h0M301.6 650.8h0M364.1 634.2h0M330.5 645.6h0M340.1 654.4h0M314 675.6h0M334.9 670.8h0M363.6 670.9h0M281.8 637.1h0M289.1 694.7h0M335.4 661.3h0M298.4 637.5h0M317.1 663.1h0M295.7 700.6h0M335 646.2h0M348.2 631.5h0M332 631.3h0M319.5 672.3h0M313.4 695.9h0M276 641.3h0M344.3 636h0M352.5 684.9h0M337.2 690.9h0M299.5 685.7h0M300.7 646.3h0M353.8 664.9h0M282.5 698.6h0M286.6 680.5h0M328.9 680.5h0M279.3 678.7h0M294.5 696.9h0M275.8 633.6h0M362.8 645.5h0M323.5 689.7h0M323.8 675.5h0M359.6 679.2h0M349.5 702.1h0M339 663.1h0M365.6 655.9h0M327.8 641.8h0M275.9 638.9h0M291.2 672.9h0M307.8 694.6h0M290 701.1h0M291.2 646h0M317.8 690.4h0M304.5 658.2h0M273.6 638.8h0M364.8 681.5h0M322.2 636.9h0M357.3 656.9h0M341.8 702.6h0M338 638.5h0M343.9 681.6h0M333.4 662.9h0M343.7 678.4h0M347.6 676.1h0M304.5 656h0M288.9 638.5h0M346.6 679.8h0M352 698.2h0M289.2 673.9h0M339.1 685.4h0M327.7 650.3h0M325.7 636.3h0M361.1 699h0M324.4 649.2h0M314.5 649.9h0M283.6 699.9h0M323.3 695.9h0M292.3 671.3h0M310.4 675.9h0M297.1 684.7h0M348.9 641.1h0M358.5 638.9h0M359.4 647.1h0M278 665.1h0M291.5 633.7h0M311.6 657.4h0M360 666.3h0M360.8 661.5h0M344.9 634h0M274.1 632.4h0M277.1 700.4h0M334.7 643.3h0M312.7 685.9h0M293.4 642.7h0M348.7 680.8h0M365.7 664.2h0M284 632.2h0M344.4 673.7h0M359.4 650h0M295 679.3h0M279 681h0M343.4 661.7h0M287.8 655.9h0M283.2 655.7h0M347.3 693.7h0M363.8 680.4h0M312.4 681.4h0M278.7 641.7h0M302.1 633.2h0M349.5 634.6h0M276.3 690.2h0M302.5 675.7h0M342.4 681h0M306.8 678.7h0M348.1 665.1h0M321.6 671h0M337.3 676h0M301.4 666.2h0M358.8 673.3h0M287 682.5h0M329.7 678.5h0M335.8 649.3h0M327.9 648.8h0M305.5 656.8h0M327.2 658.9h0M287.7 635.5h0M301.4 683h0M365.5 690h0M357.3 680.6h0M348.8 648.5h0M344.5 639.9h0M338.3 671h0M340.7 647.7h0M278.2 701h0M313 687.1h0M316.8 646.7h0M298.7 691.5h0M322.4 661.5h0M362.5 656h0M287.9 666.5h0M333.1 633.9h0M348.1 669.6h0M321.8 649.8h0M334 680.6h0M360.3 641.5h0M277.6 671h0M358.7 692.1h0M356.5 662.4h0M278.9 689.9h0M284.6 666.4h0M276.4 631.9h0M276.4 695h0M306.2 680.6h0M364.9 687.8h0M344.9 678.8h0M326.7 694.9h0M294.1 681.4h0M335.9 698.7h0M300.8 668.9h0M335.8 669h0M272.4 644.4h0M364.6 662.5h0M360.2 650.5h0M298.2 656.8h0M349.5 659.1h0M346.7 642.2h0M338.1 664.8h0M273.7 694h0M329.5 688.4h0M278.4 632.7h0M328 691.2h0M284.1 662.5h0M352.1 663.5h0M301.1 688.9h0M342.6 676h0M340.7 696.7h0M346.8 676.2h0M292.4 637.4h0M324.3 676.5h0M290.8 676.5h0M324.3 646.6h0" stroke="#8a5ab0" stroke-width="0.5" stroke-linecap="round" fill="none" opacity="0.65"/>
<path d="M274.2 694.2l0.7 0.6M346.5 685.3l-0.7 0.3M307 642l0.2 0.7M354.2 630.4l0.6 0.3M339.3 665.7l-0.5 0.8M318.5 640.7l-0.4 0.3M334.1 678l0.3 0.7M336.1 655.1l0.4 0.9M299.7 640.5l0.2 0.8M286.7 688.3l0.2 0.8M347.8 680.4l-0.4 0.9M282.9 680.6l-0.3 0.5M327.4 656.6l-0.7 0.3M287.7 639.1l0.2 0.9M299.1 680l-0 0.8M299.3 679.2l-0.6 0.4M363.2 641h0M332.6 635.7l-0.4 0.4M336.6 698.2h0M362.2 654.5l0.1 0.6M288.2 641.3l0 1M271.9 665.8l0.8 0.3M348 648.6l0.1 0.5M311.6 639.2h0M350.9 675.6h0M355 641.6l-0.8 0.1M308.4 650.5l-0.3 0.8M316.1 671.7l-0 0.7M323.8 702.9l0.6 0.2M285.7 685.7l-0.5 0.6M305.5 648.7l-0.3 0.6M278.9 659.1l-0 0.8M364.2 694.9l-0.4 0.4M364.5 639.6l0.1 0.8M312.7 676.3l0.8 0.1M325.9 644.2l-0.6 0.2M299.6 679.3l0.5 0.4M325.7 693.8l0.8 0.4M345.1 688.1l0.1 0.8M338 672.1l0.7 0.7M333.2 701.1l0.3 0.5M302.7 670.3l0.3 0.9M293.3 702.4l-0.5 0.5M302.8 693.4l0.8 0.3M299.6 635.9h0M364.3 658.4l0.7 0.2M279.6 636.9l0.8 0M298.9 682.6l0.4 0.6M333.1 641.6l-0.8 0.3M331.9 637.2h0M330.3 694.7l0.5 0.5" stroke="#9444d0" stroke-width="1" stroke-linecap="round" fill="none" opacity="0.8"/><path d="M279.4 635.4l0 0.8M350.5 695.8l0.3 0.4M292.2 632.4l-0.1 0.8M336.5 700.7l-0.3 0.8M317.8 636.4l-0.9 0.3M297.2 664.9l-0.3 0.6M293.2 645.9h0M313.7 697.7l0.5 0.7M299.4 700.4l-0.5 0.5M367.6 665.3l0.5 0.8M273.7 655.8l0.4 0.6M363.8 666.6l-0.3 0.5M291.9 654h0M306.4 647.6l0.7 0.2M284.8 654.6l0.6 0.5M270.9 684.6l0.5 0M355.8 668.4l-0.7 0.4M326.5 654.2l-0.9 0.2M361.8 666.7l1 0.3M331.3 693.8l-0.4 0.4M353.5 688.2h0M293.7 657.2l0.8 0.2M332.8 699.3h0M307 629.9l-0.5 0.5M359.4 676.7l0.3 0.9M322.9 660.7h0M308 644.5l0.6 0.3M367.9 662.4l-0.6 0.4M367.1 668.6l-0.3 0.8M337.6 631.2l-0 0.8M292 683.7l0.5 0.5M323 664.4l-0.5 0.8M273 680.6l-0 0.8M366 658.1l-0 0.7M359.2 657.3l0.4 0.3M358.1 636.5l-0.3 0.6M353.1 701.7l-0.3 0.7M274.1 663.5l0.6 0.2M352.9 669l0.5 0.2M333.6 696.2l-0.7 0.2M341.7 664.3l-0.5 0.7M279.3 652.6l0.2 0.9M279.9 695.1l0.2 0.5M291.4 660.7l0.5 0.2M366.6 696.3l0.8 0.5M304.6 679.9h0M284.5 694.7l-0.2 0.6M331 672l0.6 0.6M366 678.5l-0.7 0.5M306.1 662.1l0.3 0.5M303 686.8l0.7 0.4M286.6 633.7l0.9 0.1M310.5 661.9l-0.2 0.7M306.3 670.4l-0.3 0.5M308.5 693.1l-0.4 0.5M333.7 673.1h0M305.2 644.2l-0.7 0.5M327.8 657.7h0M280 634l-0.2 0.7M335.9 663.9l-0.6 0.7M351.8 641.8l0.7 0.5M334.7 649h0M353.4 656.7h0M353.8 703.8h0M298.9 648.9l0.5 0.3M288 690.3l0.5 0.1M316.1 634.6l0.5 0.3M325.7 695.5l0.6 0.3M356.1 636.3l-0.5 0.5M281.5 690.9h0" stroke="#9444d0" stroke-width="1.5" stroke-linecap="round" fill="none" opacity="0.8"/><path d="M340.8 667.7l-0.5 0.1M362.4 688.8l-0.6 0.4M274.1 641.2l0.3 0.6M279.3 687.9l0.6 0.6M346.4 694.7l-1 0.2M335.1 654.5l-0.4 0.4M296.1 637.9h0M293 672.8l0.8 0.5M312.6 646l0.5 0.4" stroke="#9444d0" stroke-width="2" stroke-linecap="round" fill="none" opacity="0.8"/>
<path d="M321 699.3l-1.3 -0.6M295 658l-0.3 -0.3M283.6 671.1l-0 -0.5" stroke="#8a3ccc" stroke-width="2" stroke-linecap="round" fill="none" opacity="0.85"/><path d="M352.5 639.1l1 0.8M351.4 669.4l-1 -0M320.5 646l-0.6 -0.2M317.5 637.3l0.3 -0.5M324.5 674.9l0.9 0M298.4 644.9l0.5 0.7M300.8 632.6l-0.1 0.3M280.5 648.2l1.2 0.2M304.2 669.8l1.2 0.8M336.3 647.3l0.6 0.3" stroke="#8a3ccc" stroke-width="2.5" stroke-linecap="round" fill="none" opacity="0.85"/><path d="M330.2 667.7l-0.2 -0.6M363 655.8l0.6 -0M350.7 657.2l-0.8 0.6M298.9 664.3l-0.3 0.5M344.7 686.9l-0.6 -0.2M281.3 671.2l-1.1 -0.3M359.7 660.6l1.3 0.7M352.8 647.9l0.7 -0M354.8 655.7l1.1 0" stroke="#8a3ccc" stroke-width="3" stroke-linecap="round" fill="none" opacity="0.85"/>
</g>
<rect x="371" y="630.8" width="95.5" height="72.1" fill="#ddf3f4"/>
<g clip-path="url(#ci12)">
<path d="M390.3 672.6h0M438.4 674h0M415.1 694h0M391.8 649.1h0M373.3 665.1h0M437.4 678.9h0M418 689.7h0M415.3 652.8h0M438.9 663.3h0M409.8 699.7h0M393.8 672.6h0M457.1 691.7h0M441.3 640.9h0M448.5 632.6h0M430.5 646.5h0M382.1 645.3h0M394.8 633h0M377 655.9h0M462.5 659.4h0M397.4 674.4h0M464.2 668.4h0M446.1 683.3h0M451.1 683.5h0M430.1 662.8h0M409.1 677.6h0M381.7 652h0M379.8 674.4h0M404.6 647.9h0M453.2 659.5h0M397.3 698.4h0M466 666.3h0M408.6 645.7h0M455 679.5h0M459.1 640.8h0M387.8 680.4h0M409.1 672.8h0M382.8 660.6h0M427.1 654.5h0M446.6 634.1h0M457.5 644.5h0M439 645.8h0M457.8 672.6h0M378.7 687.5h0M458.3 672.5h0M452.8 655.4h0M445.7 669.1h0M382.7 675.2h0M460.2 698.6h0M444.5 648h0M435.7 676.5h0M465.8 652.7h0M396.9 683.9h0M429.9 664h0M393.3 666h0M459.3 653.7h0M434.8 691h0M427.3 684.2h0M388.8 657.6h0M465.1 700.2h0M403.2 685.6h0M426.1 643.4h0M452 702.7h0M428.4 667h0M419.6 652.5h0M465 686.4h0M393.9 647.7h0M405.4 667.7h0M456.8 694.4h0M391.3 666.5h0M402.5 692.6h0M420 700.1h0M418.4 680h0M460.9 657.2h0M421.9 692.6h0M434.9 662.4h0M450.9 690.2h0M426.2 650.4h0M452.7 661.9h0M463.4 700h0M400 633.9h0M448.6 674.4h0M428.6 671.3h0M414.1 663.2h0M383.6 654.3h0M390.9 702.6h0M390.1 664.5h0M372.9 673.8h0M407.6 670.5h0M382.4 630.8h0M464.9 641.1h0M381 692.3h0M376.7 698.7h0M406.8 657.8h0M407.9 701.1h0M382.5 643.5h0M441.4 657.9h0M384.2 669h0M423.6 642h0M440.6 646.7h0M387.4 682.5h0M412.4 697h0M410 659h0M400.1 646.9h0M403.9 666.5h0M417.3 656.5h0M410.2 689h0M429.6 680.4h0M380.6 694.9h0M375.3 693h0M375 657.7h0M430.7 658.8h0M373.1 684.2h0M412.3 691h0M420.2 686.3h0M396.7 647.5h0M424.6 637.4h0M416.5 645.3h0M374.6 677h0M422.7 700.5h0M407.2 637.4h0M374.7 692.2h0M381.9 665.2h0M431.3 634.2h0M463.9 638.2h0M410.7 674.5h0M371.7 689.2h0M404.8 694.7h0M458 677.7h0M453.4 671.7h0M424.3 662h0M399.6 635.4h0M385.8 639.8h0M378.6 684.1h0M389.9 654.3h0M454 646.5h0M381.7 695.9h0M437 674.6h0M392.9 663.6h0M398.2 652.7h0M374.2 656.2h0M450.5 691.3h0M432.8 639.9h0M425.6 665.2h0M449.2 702h0M463.8 650.6h0M437.3 680.6h0M426.9 665.8h0M379.7 684.4h0M403 655.1h0M389.8 683.6h0M391.6 657h0M385.4 643.3h0M434.2 636.8h0M440 688h0M388.1 634.4h0M454.3 649.5h0M407.8 667h0M448.3 687.1h0M422.7 641.6h0M389.2 634.4h0M451.8 686h0M454.8 675.4h0M398.4 669.6h0M373.6 677.3h0M386.3 640.1h0M376.8 639.8h0M377.5 647.5h0M461.7 649.1h0M400.1 642.9h0M447.8 691.5h0M460.3 666.6h0M448.3 664.8h0M461.7 641.3h0M394.3 699.4h0M415.1 652.5h0M447.3 696.9h0M437.6 697.2h0M389.3 649.8h0M397.5 672.6h0M420.3 642h0M456.9 698.6h0M377.8 644.7h0M371.6 685.9h0M429.1 676.6h0M442.1 644.3h0M456.4 641.1h0M440.5 680.3h0M401.2 641.3h0M388.6 693.1h0M371.3 635.8h0M413.4 666.8h0M378 689.1h0M415.9 694.2h0M454.8 653.6h0M398.6 695.9h0M393.3 693.8h0M463.5 636h0M394.5 676.7h0M465.8 649.8h0M380.5 651h0M393.9 648.4h0M435.4 696.3h0M419.7 632.7h0M418.8 670h0M461.3 690h0M377.9 672.8h0M456.6 689.9h0M442.3 645.3h0M443.2 659.8h0M444.6 678.4h0M410.7 668.6h0M377.7 651.9h0M419.7 675h0M396.8 633.2h0M462.1 695.9h0M446.2 640.7h0M419 654.1h0M409.3 682.8h0M384.7 701.3h0M433.7 655.6h0M375.2 673.5h0M419.3 661.8h0M447 693.3h0M462.7 683.3h0M413.1 641.9h0M408.9 677.5h0M453.1 661.2h0M439.8 641.9h0M459.8 668.7h0M426.4 662.2h0M373.6 656.6h0M417.2 671.2h0M391.5 675.7h0M387.2 694.6h0M454.8 644.4h0M382.3 654.1h0M444.5 631.3h0M417.3 674.2h0M380.9 696.9h0M449.2 665.5h0M427 697.7h0M419.2 650.4h0M449.6 659.5h0M379.1 684.3h0M381.5 631.7h0M428.1 635.1h0M416.1 657.7h0M375.5 659.2h0M387.8 658.6h0M397.1 651.3h0M451 639.4h0M465.5 653.5h0M408 682.5h0M416.7 690.3h0M423.4 683.3h0M413.4 669.3h0M413.5 657.7h0M371.6 647.7h0M450.6 650.2h0M423.9 677.5h0M403.7 661h0M386.3 692.3h0M409.9 664h0M378.1 639.3h0M397.8 635.6h0M450.4 635.6h0M425.6 701.7h0M422.4 697.7h0M410.6 665.8h0M404.1 669.9h0M392.6 685.2h0M434.3 699.2h0M408.4 689.6h0M461.6 688.1h0M401.7 673.9h0M451.2 667.5h0M435.4 697.8h0M434.6 700.9h0M444.9 663.6h0M381 654.8h0M419.9 639.5h0M422.8 671.6h0M462.8 688.3h0M457.2 659.8h0M388.5 636.7h0M377.3 672.5h0M425 647.4h0M412.9 648.8h0M460.3 692.3h0M440.8 637h0M417.7 673.3h0M417.1 684.3h0M424.8 692.6h0M455.7 669.1h0M448.2 658.3h0M457.8 653.6h0M389.4 694.7h0M391.4 655.1h0M425.9 678.1h0M439.3 695.2h0M418.6 697.4h0M431.9 645.6h0M387.6 673.6h0M455.4 673.7h0M418 668.9h0M413.8 637.2h0M395 656.5h0M411.3 671.1h0M429.9 673.3h0M385.1 664.6h0M412.2 647.7h0M450.2 676.8h0M435.9 652.2h0M374.7 642.7h0M428.4 683h0M419.6 638.9h0M421.7 682.2h0M391 635.1h0M419.4 687.8h0M458.9 697.6h0M423.7 650.4h0M388.6 698.5h0M440 632.9h0M403.4 648h0M438.4 683.7h0M431.6 680.9h0M459 695h0M442.1 641.2h0M408.4 690.9h0M425.4 646.2h0M437.5 640h0M446.9 702.2h0M407.7 693.9h0M403.4 698.6h0M465 643h0M405.7 647.6h0M390.5 667.2h0M400.9 674.8h0M452.3 645.7h0M426.6 665h0M378.6 684.5h0M374.9 692.5h0M441.2 634.3h0M462.6 675.1h0M424.4 644.9h0M410.4 667.2h0M412.8 692.8h0M415.5 650.6h0M398.2 630.9h0M394.4 672.5h0M441.2 685h0M371.3 701.6h0M462.8 650.9h0M387.8 633.4h0M421.3 695.4h0M396 679h0M425 635h0M379.1 645.4h0M466 694.7h0M453.5 684.6h0M405.5 681.7h0M412.2 634.7h0M380.2 649.3h0M422.1 692.6h0M392.8 682.6h0M374.5 694.6h0M428.2 667.4h0M376.8 664h0M419.8 648.3h0M403.7 701.2h0M418.6 636.8h0M428.3 670.6h0M443.9 688.3h0M410.6 680.1h0M461.3 686.7h0M433.5 678.9h0M415.2 673h0M431.2 701.7h0M442.4 652.3h0M389.8 655.7h0M430.4 690.2h0M379.1 641.3h0M423 672.8h0M397.9 645.8h0M455.4 659.8h0M377.1 685.1h0M410.8 637.9h0M410.2 667.5h0M380 687.4h0M392.6 665.4h0M445.4 640h0M410.6 667.1h0M465.3 693.5h0M426.2 695.4h0M459.1 675.9h0M422.9 677.6h0M404.1 672.2h0M463.6 681.4h0M431.2 648.1h0M404.7 678h0M441.4 648.2h0M463.8 687.7h0M384.6 635.7h0M420.9 661.6h0M408.1 694.6h0M457.8 647.2h0M418.8 699.9h0M387.8 677.8h0M399.8 654.1h0M455.5 659.5h0M463 671.4h0M458 658.8h0M380.3 690.9h0M430.3 635.7h0M416.4 693.7h0M375 631.5h0M443.9 686.5h0M460.7 662.1h0M376.9 663.7h0M466.2 689.8h0M376.4 638.1h0M388.1 676.1h0M454.9 639.2h0M376.7 685.1h0M438.4 665.6h0M439.1 675.7h0M413.5 700.9h0M407.6 688.2h0M435.9 661.3h0M417.1 651h0M389.5 671.1h0M436.6 660.1h0M388 697.8h0M462.5 644.7h0M446 699.6h0M457.1 680.5h0M376.9 698.3h0M436 702.5h0M414 648.7h0M418.6 663.8h0M386.8 691.5h0M464.9 650.6h0M379.7 700.9h0M423.6 666.1h0M397 651h0M378 690.1h0M443.7 635.3h0M447.2 652.4h0M448.3 671.5h0M406.3 682.7h0M427.6 653.5h0M384.3 631.3h0M379.6 644h0M396.1 659.7h0M391.2 645.2h0M374.6 646h0M465.1 691.2h0M380.9 668.4h0M409.5 671.9h0M372.9 653.3h0M431.5 658.8h0M385 688h0M397.9 702.3h0M371.2 686.5h0M416.8 664.5h0M387.2 633.2h0M374.3 699.2h0M401.8 637.7h0M404.1 650.4h0M439.5 643.1h0M436.8 634.1h0M388.4 660.6h0M464 702.5h0M448.1 633h0M444 631.2h0M439.8 650.6h0M399.1 643.8h0M452.3 649.7h0M411 689.1h0M435 661.3h0M435.9 679.6h0M407.6 702.3h0M458.2 642.5h0M377.7 688.6h0M385.2 650.8h0M420.8 681.8h0M385.8 638.3h0M390.4 636.2h0M450.1 649.9h0M400 696.5h0M378.3 641.8h0M457.8 633.9h0M422.6 665h0M379.6 641.9h0M430.8 632.8h0M463.3 660.8h0M450.4 692.5h0M412.2 652.2h0M378.2 645.4h0M398.9 642.2h0M378.9 643.9h0M458.8 692.5h0M411.9 650.6h0M464.2 648.8h0M413.6 685.6h0M457.6 669.5h0M427 698.1h0M408.9 655.4h0M443.5 667.7h0M448 676.7h0M382.9 671.7h0M457.4 660.4h0M393.1 668.4h0M444.9 689.1h0M451.4 681.8h0M420.8 693h0M382.9 688.4h0M417.2 636.8h0M447.7 671.4h0M398.1 673.6h0M455.6 679.3h0M457.9 641.9h0M419.7 640.2h0M442 653.1h0M402.5 659.6h0M401.3 691.9h0M406.7 646.7h0M374.9 667.5h0M455 676h0M380.9 683.4h0M375.3 690.5h0M399.8 668.2h0M424.6 637.9h0M440.9 689h0M412.7 656.1h0M378.7 654h0M442.2 663.4h0M387.9 687.2h0M461.7 646.2h0M439.4 685.4h0M373.9 632.9h0M462.5 671.1h0M389.7 664.6h0M446.9 640.1h0M450.1 693.7h0M421.4 657.4h0M388.3 696.6h0M400.7 633.1h0M428.9 701.6h0M460.7 695h0M378.2 691.7h0M439.3 651.4h0M414.6 681.3h0M429.4 697.6h0M386.8 663.9h0M398 693.5h0M430.4 667.1h0M388.4 640.5h0M444.6 695.2h0M451 638h0M447.3 644.9h0M448.7 673.7h0M412.1 676.3h0M407.9 683.6h0M401.8 658.1h0M452.3 638.7h0M382.8 647.4h0M373.5 702.3h0M446.3 653.7h0M371.5 633.6h0M420.6 688.3h0M425.6 645.1h0M450.4 648.5h0M441.7 688.5h0M418.5 632.7h0M444.6 668.2h0M437.7 664.2h0M463.9 652.2h0M397.8 635.5h0M375.6 659.5h0M406.5 675.8h0M451.9 659.1h0M466.4 659.2h0M436.1 651h0M392 650.7h0M401.4 691.4h0M450.2 659h0M465.8 693.5h0M459 688.8h0M453.5 695.4h0M417.5 639.1h0M371.6 650.5h0M381.7 662.3h0M450.9 681.7h0M403 643h0M423.1 695.4h0M446.3 673h0M430.9 640.3h0M444 702.5h0M426 694h0M436.3 638.1h0M449.8 693.3h0M451.2 648.8h0M450.1 651.7h0M440.4 658.9h0M395.5 651.5h0M455 674.7h0M410.2 681h0M390 679.8h0M437.3 677.3h0M431.5 673.9h0M426.9 700.9h0M456.2 637.2h0M415.7 693.5h0M380.2 653.4h0M390.5 663.9h0M456.2 636.3h0M385.5 696.7h0M461.3 642.4h0M376.1 657.8h0M457.3 641.6h0M394 641.2h0M426.5 693.9h0M419.5 665.9h0M410.9 638.9h0M459.5 669.2h0M448.7 643.3h0M379.5 690.3h0M452.8 679.4h0M376.7 664h0M444.1 639.5h0M466.1 696h0M392.9 640.1h0M433.8 648.9h0M382.6 700.5h0M380.6 680.3h0M371.5 660h0M390.3 686h0M372.3 688.7h0M386.4 702.8h0M456.2 689.5h0M400.4 648h0M421.6 696.2h0M405.1 692.7h0M433.4 680h0M386.9 649.1h0M427.4 693.9h0M383.9 671.7h0M373.5 676.4h0M397.5 675.8h0" stroke="#9a70b8" stroke-width="0.5" stroke-linecap="round" fill="none" opacity="0.6"/>
<path d="M458.4 678.3l0.5 0.3M381.2 699.7l-0.5 0.5M374.9 648.4l0.5 0.4M455.4 640.1l0.3 0.6M422.4 630.1l0.1 0.7M421.9 657.7l0.2 0.7M376.1 633.8l0.5 0.2M460 664.4h0M388.8 666l0.4 0.5M421.8 657.7h0M455.9 700l-0.6 0.5M450.1 698.5l-0.3 0.7M464.9 632.6l-0.6 0.1M379.6 685l-0.1 0.6M432.3 692.2l-0.2 0.5M413.4 678.8l-0.1 0.6M412.2 697.7l0.2 0.7M419.5 650.4l-0.3 0.6M448.1 659.9l-0 0.7M383.8 651.2l0.7 0.1M411.8 671.4l-0.4 0.5M462.3 659l0.3 0.7M408.4 697.7l0.7 0.1M466.3 661.1h0M432.1 686.4l-0.3 0.4M385.6 702.8l0.6 0M441.9 649.2l-0.4 0.5M409.4 654.8h0M459.1 687.3l0.6 0.4M372.9 654.7l-0 0.6M413.9 691.2l-0.6 0.5M459 652.1h0M441.2 660.9l0.1 0.8M390.8 641.1l-0.2 0.7M460.7 658l-0.8 0M410.1 633.5l-0.6 0.2M443.5 637.3l-0.5 0.3M391.4 675.8h0M378.7 683.7l0.5 0.3M406 650.5l-0.5 0.1M444.3 649.3h0M433.1 665.8l-0.2 0.5M407.5 684l0.5 0.5M414.8 696.1h0M440.3 633.3l0.5 0.2M444.9 631.8l0.2 0.6M457.6 668.6l0.7 0.2M435.7 662.6l0.2 0.5M443.7 693.4l-0.4 0.3M376.5 664.3l0.1 0.6M424.9 682.1l0.4 0.4M441 664.5l0.7 0.1M390.7 665.2l-0.6 0.4M383.6 639.6l-0.6 0.5M376.3 645.3l0.1 0.8" stroke="#a060c8" stroke-width="1" stroke-linecap="round" fill="none" opacity="0.7"/><path d="M413.8 685.2l0.4 0.4M454.8 635.6l0.2 0.5M419.7 646.2l-0.4 0.3M462.1 638l0.2 0.5M427 702l-0.2 0.5M421.6 632.3l-0.3 0.6M384.9 687l0.4 0.5M376.1 677.7l0.6 0.2M430.5 632.7l0.6 0.1M406.2 703.9l0.2 0.4M419.7 652.7l0.3 0.7M461.4 684.4l-0.1 0.7M403.3 681.8l0.2 0.6M451.4 681.7l0 0.5M457.8 698.9l-0 0.8M432.5 655.2l0.4 0.6M432.3 674.8h0M450.4 673.3h0M420.3 659.1l-0.6 0.1M456.3 687.8l-0.4 0.4M404.4 693.6l-0.4 0.5M431.1 645l-0.5 0.1M389.1 638.8l-0.7 0.3M423.9 669.8l-0.4 0.5M467.4 633.1l0.8 0.2M448.9 657.9l-0.8 0M467.2 647.7l0.5 0.2M415.6 677l0.6 0.4M377.3 676.5h0M426.2 682.6l0.1 0.6M435.2 684.6l0.2 0.5M462.8 692.7l0.1 0.8M417.7 681.7l-0.1 0.6M465 645l0.2 0.5M380.6 679.8l0.1 0.5M413.9 658.4l0.4 0.4M460.7 688.5l-0.5 0.3M388.7 678.2l0.1 0.8M371.7 638.8l0.1 0.5M378.6 687.4l-0.5 0M457.5 666.9l0.4 0.6M406.5 649.6l0.3 0.5M444.5 692.4h0M403.8 631.3l-0.5 0.5M454.5 656.6l-0.2 0.5M438.6 640l-0.3 0.5M397.3 658l-0.1 0.7M401.4 649.9l-0.4 0.6M388.1 661.9l-0.2 0.8M377.5 697.8l0.4 0.4M382.6 678.1l0.5 0M374.3 663.4l0.4 0.6M463.4 681.6l0.6 0M386.9 641l-0.3 0.7M375.9 646.8l0.1 0.6M460.5 638.6l-0.7 0.3M410.8 698.8l0.6 0.2M388 662.9l0.5 0.3M454.2 701.4l-0.6 0.6M438.8 655.8h0M445.9 694.3h0M434.8 649.1l0.2 0.6M392.9 642.6l0.3 0.7M450.9 669.1l0.3 0.5M467.2 678l0.6 0.3" stroke="#a060c8" stroke-width="1.5" stroke-linecap="round" fill="none" opacity="0.7"/>
</g>
<rect x="542.1" y="450" width="13.2" height="5.2" fill="#1f4f97"/>
<path d="M544 452.8 q1 -1.4 2 0 t2 0 t2 0 t2 0 t2 0" fill="none" stroke="#fff" stroke-width="0.6" opacity="0.8"/>
<text x="559.9" y="455" style="font-size:6.9px;font-weight:normal;">ASO-NC</text>
<rect x="602.9" y="450" width="11.8" height="5.2" fill="#f9a24c"/>
<path d="M604.5 452.8 q1 -1.4 2 0 t2 0 t2 0 t2 0" fill="none" stroke="#fff" stroke-width="0.6" opacity="0.8"/>
<text x="619.8" y="455" style="font-size:6.9px;font-weight:normal;">ASO#2</text>
<line x1="518.6" y1="471.5" x2="518.6" y2="517.3" stroke="#111" stroke-width="1.3"/>
<line x1="518.6" y1="525.4" x2="518.6" y2="571.2" stroke="#111" stroke-width="1.3"/>
<line x1="515" y1="471.5" x2="518.6" y2="471.5" stroke="#111" stroke-width="1.3"/>
<text x="512.6" y="474.2" style="font-size:7.8px;" text-anchor="end">600</text>
<line x1="515" y1="494.4" x2="518.6" y2="494.4" stroke="#111" stroke-width="1.3"/>
<text x="512.6" y="497.1" style="font-size:7.8px;" text-anchor="end">500</text>
<line x1="515" y1="517.3" x2="522" y2="517.3" stroke="#111" stroke-width="1.3"/>
<text x="512.6" y="520" style="font-size:7.8px;" text-anchor="end">400</text>
<line x1="515" y1="525.4" x2="522" y2="525.4" stroke="#111" stroke-width="1.3"/>
<text x="512.6" y="528.1" style="font-size:7.8px;" text-anchor="end">200</text>
<line x1="515" y1="548.3" x2="518.6" y2="548.3" stroke="#111" stroke-width="1.3"/>
<text x="512.6" y="551" style="font-size:7.8px;" text-anchor="end">100</text>
<line x1="515" y1="571.2" x2="518.6" y2="571.2" stroke="#111" stroke-width="1.3"/>
<text x="512.6" y="573.9" style="font-size:7.8px;" text-anchor="end">0</text>
<line x1="518" y1="571.2" x2="670.3" y2="571.2" stroke="#111" stroke-width="1.3"/>
<rect x="526.1" y="504.4" width="11" height="12.9" fill="url(#pgb)"/>
<rect x="526.1" y="525.4" width="11" height="45.8" fill="url(#pgb)"/>
<polyline points="526.1,517.3 526.1,504.4 537.1,504.4 537.1,517.3" fill="none" stroke="#123f88" stroke-width="1.6"/>
<polyline points="526.1,525.4 526.1,571.2" fill="none" stroke="#123f88" stroke-width="1.6"/>
<polyline points="537.1,525.4 537.1,571.2" fill="none" stroke="#123f88" stroke-width="1.6"/>
<line x1="531.6" y1="495.8" x2="531.6" y2="503.6" stroke="#123f88" stroke-width="1.4"/>
<line x1="528.4" y1="495.8" x2="534.8" y2="495.8" stroke="#123f88" stroke-width="1.4"/>
<rect x="545.9" y="551.2" width="11" height="20" fill="url(#pgo)" stroke="#f7931e" stroke-width="1.6"/>
<line x1="551.4" y1="548.4" x2="551.4" y2="550.4" stroke="#f7931e" stroke-width="1.4"/>
<line x1="548.2" y1="548.4" x2="554.6" y2="548.4" stroke="#f7931e" stroke-width="1.4"/>
<line x1="541.5" y1="571.2" x2="541.5" y2="574.8" stroke="#111" stroke-width="1.2"/>
<text x="541.5" y="585.2" style="font-size:8px;" text-anchor="middle">HEY</text>
<polyline points="531.6,488.7 531.6,481.4 551.4,481.4 551.4,541.8" fill="none" stroke="#333" stroke-width="1.0"/>
<text x="541.5" y="480.5" style="font-size:8.4px;" text-anchor="middle">**</text>
<rect x="578.8" y="501.4" width="11" height="15.9" fill="url(#pgb)"/>
<rect x="578.8" y="525.4" width="11" height="45.8" fill="url(#pgb)"/>
<polyline points="578.8,517.3 578.8,501.4 589.8,501.4 589.8,517.3" fill="none" stroke="#123f88" stroke-width="1.6"/>
<polyline points="578.8,525.4 578.8,571.2" fill="none" stroke="#123f88" stroke-width="1.6"/>
<polyline points="589.8,525.4 589.8,571.2" fill="none" stroke="#123f88" stroke-width="1.6"/>
<line x1="584.3" y1="495.1" x2="584.3" y2="500.6" stroke="#123f88" stroke-width="1.4"/>
<line x1="581.1" y1="495.1" x2="587.5" y2="495.1" stroke="#123f88" stroke-width="1.4"/>
<rect x="598.6" y="565" width="11" height="6.2" fill="url(#pgo)" stroke="#f7931e" stroke-width="1.6"/>
<line x1="604.1" y1="562.7" x2="604.1" y2="564.2" stroke="#f7931e" stroke-width="1.4"/>
<line x1="600.9" y1="562.7" x2="607.3" y2="562.7" stroke="#f7931e" stroke-width="1.4"/>
<line x1="594.2" y1="571.2" x2="594.2" y2="574.8" stroke="#111" stroke-width="1.2"/>
<text x="594.2" y="585.2" style="font-size:8px;" text-anchor="middle">SKOV3</text>
<polyline points="584.3,489.5 584.3,476.9 604.1,476.9 604.1,558.3" fill="none" stroke="#333" stroke-width="1.0"/>
<text x="594.2" y="475.7" style="font-size:8.4px;" text-anchor="middle">**</text>
<rect x="631.5" y="530.2" width="11" height="41" fill="url(#pgb)" stroke="#123f88" stroke-width="1.6"/>
<line x1="637" y1="526.3" x2="637" y2="529.4" stroke="#123f88" stroke-width="1.4"/>
<line x1="633.8" y1="526.3" x2="640.2" y2="526.3" stroke="#123f88" stroke-width="1.4"/>
<rect x="651.3" y="561.7" width="11" height="9.5" fill="url(#pgo)" stroke="#f7931e" stroke-width="1.6"/>
<line x1="656.8" y1="559.8" x2="656.8" y2="560.9" stroke="#f7931e" stroke-width="1.4"/>
<line x1="653.6" y1="559.8" x2="660" y2="559.8" stroke="#f7931e" stroke-width="1.4"/>
<line x1="646.9" y1="571.2" x2="646.9" y2="574.8" stroke="#111" stroke-width="1.2"/>
<text x="646.9" y="585.2" style="font-size:8px;" text-anchor="middle">OVCAR8</text>
<polyline points="637,523.8 637,499.1 656.8,499.1 656.8,553.3" fill="none" stroke="#333" stroke-width="1.0"/>
<text x="646.9" y="497.4" style="font-size:8.4px;" text-anchor="middle">**</text>
<text x="494.1" y="521.3" style="font-size:8.2px;" text-anchor="middle" transform="rotate(-90 494.1 521.3)">Migrated cells</text>
<line x1="518.6" y1="598.8" x2="518.6" y2="699" stroke="#111" stroke-width="1.3"/>
<line x1="515" y1="699" x2="518.6" y2="699" stroke="#111" stroke-width="1.3"/>
<text x="512.6" y="701.7" style="font-size:7.8px;" text-anchor="end">0</text>
<line x1="515" y1="674" x2="518.6" y2="674" stroke="#111" stroke-width="1.3"/>
<text x="512.6" y="676.6" style="font-size:7.8px;" text-anchor="end">50</text>
<line x1="515" y1="648.9" x2="518.6" y2="648.9" stroke="#111" stroke-width="1.3"/>
<text x="512.6" y="651.6" style="font-size:7.8px;" text-anchor="end">100</text>
<line x1="515" y1="623.9" x2="518.6" y2="623.9" stroke="#111" stroke-width="1.3"/>
<text x="512.6" y="626.5" style="font-size:7.8px;" text-anchor="end">150</text>
<line x1="515" y1="598.8" x2="518.6" y2="598.8" stroke="#111" stroke-width="1.3"/>
<text x="512.6" y="601.5" style="font-size:7.8px;" text-anchor="end">200</text>
<line x1="518" y1="699" x2="670.3" y2="699" stroke="#111" stroke-width="1.3"/>
<rect x="526.1" y="624.6" width="11" height="74.3" fill="url(#pgb)" stroke="#123f88" stroke-width="1.6"/>
<line x1="531.6" y1="618.3" x2="531.6" y2="623.9" stroke="#123f88" stroke-width="1.4"/>
<line x1="528.4" y1="618.3" x2="534.8" y2="618.3" stroke="#123f88" stroke-width="1.4"/>
<rect x="545.9" y="666.6" width="11" height="32.4" fill="url(#pgo)" stroke="#f7931e" stroke-width="1.6"/>
<line x1="551.4" y1="662.7" x2="551.4" y2="665.8" stroke="#f7931e" stroke-width="1.4"/>
<line x1="548.2" y1="662.7" x2="554.6" y2="662.7" stroke="#f7931e" stroke-width="1.4"/>
<line x1="541.5" y1="699" x2="541.5" y2="702.6" stroke="#111" stroke-width="1.2"/>
<text x="541.5" y="712.2" style="font-size:8px;" text-anchor="middle">HEY</text>
<polyline points="531.6,611 531.6,604.3 551.4,604.3 551.4,655.3" fill="none" stroke="#333" stroke-width="1.0"/>
<text x="541.5" y="603" style="font-size:8.4px;" text-anchor="middle">**</text>
<rect x="578.8" y="645.7" width="11" height="53.3" fill="url(#pgb)" stroke="#123f88" stroke-width="1.6"/>
<line x1="584.3" y1="642.9" x2="584.3" y2="644.9" stroke="#123f88" stroke-width="1.4"/>
<line x1="581.1" y1="642.9" x2="587.5" y2="642.9" stroke="#123f88" stroke-width="1.4"/>
<rect x="598.6" y="683" width="11" height="16" fill="url(#pgo)" stroke="#f7931e" stroke-width="1.6"/>
<line x1="604.1" y1="679" x2="604.1" y2="682.2" stroke="#f7931e" stroke-width="1.4"/>
<line x1="600.9" y1="679" x2="607.3" y2="679" stroke="#f7931e" stroke-width="1.4"/>
<line x1="594.2" y1="699" x2="594.2" y2="702.6" stroke="#111" stroke-width="1.2"/>
<text x="594.2" y="712.2" style="font-size:8px;" text-anchor="middle">SKOV3</text>
<polyline points="584.3,638.2 584.3,616.5 604.1,616.5 604.1,668.4" fill="none" stroke="#333" stroke-width="1.0"/>
<text x="594.2" y="615.2" style="font-size:8.4px;" text-anchor="middle">**</text>
<rect x="631.5" y="671.2" width="11" height="27.8" fill="url(#pgb)" stroke="#123f88" stroke-width="1.6"/>
<line x1="637" y1="667.4" x2="637" y2="670.4" stroke="#123f88" stroke-width="1.4"/>
<line x1="633.8" y1="667.4" x2="640.2" y2="667.4" stroke="#123f88" stroke-width="1.4"/>
<rect x="651.3" y="697.1" width="11" height="1.9" fill="url(#pgo)" stroke="#f7931e" stroke-width="1.6"/>
<line x1="656.8" y1="694.7" x2="656.8" y2="696.3" stroke="#f7931e" stroke-width="1.4"/>
<line x1="653.6" y1="694.7" x2="660" y2="694.7" stroke="#f7931e" stroke-width="1.4"/>
<line x1="646.9" y1="699" x2="646.9" y2="702.6" stroke="#111" stroke-width="1.2"/>
<text x="646.9" y="712.2" style="font-size:8px;" text-anchor="middle">OVCAR8</text>
<polyline points="637,655.3 637,637.5 656.8,637.5 656.8,684.2" fill="none" stroke="#333" stroke-width="1.0"/>
<text x="646.9" y="635.8" style="font-size:8.4px;" text-anchor="middle">**</text>
<text x="494.8" y="649.5" style="font-size:8.3px;" text-anchor="middle" transform="rotate(-90 494.8 649.5)">Invaded cells</text>
</svg></body></html>
